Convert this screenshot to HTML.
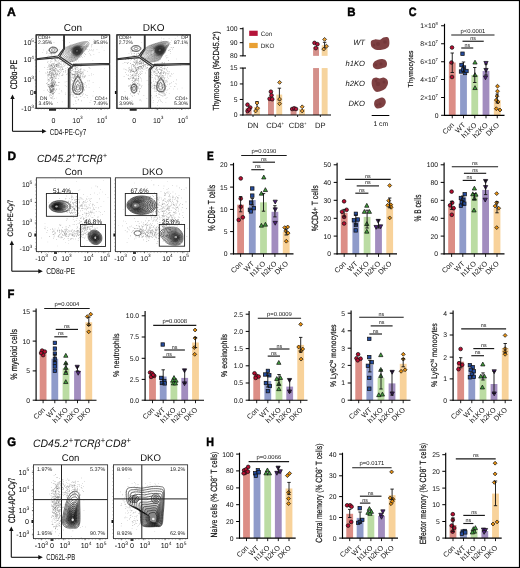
<!DOCTYPE html>
<html><head><meta charset="utf-8"><style>
html,body{margin:0;padding:0;background:#fff;}
svg{display:block;font-family:"Liberation Sans", sans-serif;text-rendering:geometricPrecision;}
</style></head><body>
<svg width="520" height="568" viewBox="0 0 520 568">
<rect width="520" height="568" fill="#fff"/>
<g style="will-change:transform">
<defs><radialGradient id="cg"><stop offset="0" stop-color="#777"/><stop offset="0.22" stop-color="#2a2a2a"/><stop offset="0.6" stop-color="#2e2e2e" stop-opacity="0.9"/><stop offset="1" stop-color="#444" stop-opacity="0"/></radialGradient></defs>
<rect x="0.50" y="0.50" width="519.00" height="567.00" fill="none" stroke="#000" stroke-width="1.2"/>
<text x="7.10" y="16.20" font-size="12.2" text-anchor="start" font-weight="bold" fill="#000" textLength="8.8" lengthAdjust="spacingAndGlyphs" stroke="#000" stroke-width="0.45">A</text>
<text x="347.20" y="16.20" font-size="12.2" text-anchor="start" font-weight="bold" fill="#000" textLength="8.3" lengthAdjust="spacingAndGlyphs" stroke="#000" stroke-width="0.45">B</text>
<text x="408.70" y="16.20" font-size="12.2" text-anchor="start" font-weight="bold" fill="#000" textLength="7.8" lengthAdjust="spacingAndGlyphs" stroke="#000" stroke-width="0.45">C</text>
<text x="7.40" y="160.10" font-size="12.2" text-anchor="start" font-weight="bold" fill="#000" textLength="8.6" lengthAdjust="spacingAndGlyphs" stroke="#000" stroke-width="0.45">D</text>
<text x="207.00" y="159.60" font-size="12.2" text-anchor="start" font-weight="bold" fill="#000" textLength="6.8" lengthAdjust="spacingAndGlyphs" stroke="#000" stroke-width="0.45">E</text>
<text x="7.40" y="298.20" font-size="12.2" text-anchor="start" font-weight="bold" fill="#000" textLength="6.9" lengthAdjust="spacingAndGlyphs" stroke="#000" stroke-width="0.45">F</text>
<text x="7.30" y="445.60" font-size="12.2" text-anchor="start" font-weight="bold" fill="#000" textLength="8.8" lengthAdjust="spacingAndGlyphs" stroke="#000" stroke-width="0.45">G</text>
<text x="206.20" y="445.60" font-size="12.2" text-anchor="start" font-weight="bold" fill="#000" textLength="7.7" lengthAdjust="spacingAndGlyphs" stroke="#000" stroke-width="0.45">H</text>
<rect x="448.85" y="62.50" width="6.80" height="52.80" fill="#dc8e86" stroke="none" stroke-width="1"/>
<rect x="460.10" y="74.50" width="6.80" height="40.80" fill="#8f9bca" stroke="none" stroke-width="1"/>
<rect x="471.35" y="75.00" width="6.80" height="40.30" fill="#bbdca3" stroke="none" stroke-width="1"/>
<rect x="482.60" y="71.00" width="6.80" height="44.30" fill="#a28dbf" stroke="none" stroke-width="1"/>
<rect x="493.85" y="100.00" width="6.80" height="15.30" fill="#f8d29a" stroke="none" stroke-width="1"/>
<circle cx="452.00" cy="47.50" r="1.85" fill="#b80c30" stroke="#111" stroke-width="0.72"/>
<circle cx="451.50" cy="62.50" r="1.85" fill="#b80c30" stroke="#111" stroke-width="0.72"/>
<circle cx="452.00" cy="77.00" r="1.85" fill="#b80c30" stroke="#111" stroke-width="0.72"/>
<line x1="452.25" y1="53.00" x2="452.25" y2="72.50" stroke="#111" stroke-width="0.9"/>
<line x1="450.55" y1="53.00" x2="453.95" y2="53.00" stroke="#111" stroke-width="0.9"/>
<line x1="450.55" y1="72.50" x2="453.95" y2="72.50" stroke="#111" stroke-width="0.9"/>
<rect x="460.79" y="51.99" width="3.42" height="3.42" fill="#254c9e" stroke="#111" stroke-width="0.72"/>
<rect x="459.79" y="63.29" width="3.42" height="3.42" fill="#254c9e" stroke="#111" stroke-width="0.72"/>
<rect x="462.29" y="65.79" width="3.42" height="3.42" fill="#254c9e" stroke="#111" stroke-width="0.72"/>
<rect x="459.29" y="69.79" width="3.42" height="3.42" fill="#254c9e" stroke="#111" stroke-width="0.72"/>
<rect x="463.29" y="71.29" width="3.42" height="3.42" fill="#254c9e" stroke="#111" stroke-width="0.72"/>
<rect x="464.79" y="69.29" width="3.42" height="3.42" fill="#254c9e" stroke="#111" stroke-width="0.72"/>
<rect x="461.29" y="67.79" width="3.42" height="3.42" fill="#254c9e" stroke="#111" stroke-width="0.72"/>
<line x1="463.50" y1="62.00" x2="463.50" y2="72.00" stroke="#111" stroke-width="0.9"/>
<line x1="461.80" y1="62.00" x2="465.20" y2="62.00" stroke="#111" stroke-width="0.9"/>
<line x1="461.80" y1="72.00" x2="465.20" y2="72.00" stroke="#111" stroke-width="0.9"/>
<polygon points="475.00,60.17 477.13,64.05 472.87,64.05" fill="#41a03c" stroke="#111" stroke-width="0.72" stroke-linejoin="round"/>
<polygon points="475.00,72.67 477.13,76.55 472.87,76.55" fill="#41a03c" stroke="#111" stroke-width="0.72" stroke-linejoin="round"/>
<polygon points="475.00,85.67 477.13,89.55 472.87,89.55" fill="#41a03c" stroke="#111" stroke-width="0.72" stroke-linejoin="round"/>
<line x1="474.75" y1="67.50" x2="474.75" y2="82.50" stroke="#111" stroke-width="0.9"/>
<line x1="473.05" y1="67.50" x2="476.45" y2="67.50" stroke="#111" stroke-width="0.9"/>
<line x1="473.05" y1="82.50" x2="476.45" y2="82.50" stroke="#111" stroke-width="0.9"/>
<polygon points="486.00,65.33 488.13,61.45 483.87,61.45" fill="#4e1f7c" stroke="#111" stroke-width="0.72" stroke-linejoin="round"/>
<polygon points="486.00,72.33 488.13,68.45 483.87,68.45" fill="#4e1f7c" stroke="#111" stroke-width="0.72" stroke-linejoin="round"/>
<polygon points="485.50,79.83 487.63,75.95 483.37,75.95" fill="#4e1f7c" stroke="#111" stroke-width="0.72" stroke-linejoin="round"/>
<line x1="486.00" y1="64.00" x2="486.00" y2="75.00" stroke="#111" stroke-width="0.9"/>
<line x1="484.30" y1="64.00" x2="487.70" y2="64.00" stroke="#111" stroke-width="0.9"/>
<line x1="484.30" y1="75.00" x2="487.70" y2="75.00" stroke="#111" stroke-width="0.9"/>
<polygon points="497.50,84.26 499.44,86.20 497.50,88.14 495.56,86.20" fill="#e8900f" stroke="#111" stroke-width="0.72" stroke-linejoin="round"/>
<polygon points="497.50,89.26 499.44,91.20 497.50,93.14 495.56,91.20" fill="#e8900f" stroke="#111" stroke-width="0.72" stroke-linejoin="round"/>
<polygon points="497.00,94.26 498.94,96.20 497.00,98.14 495.06,96.20" fill="#e8900f" stroke="#111" stroke-width="0.72" stroke-linejoin="round"/>
<polygon points="496.30,98.06 498.24,100.00 496.30,101.94 494.36,100.00" fill="#e8900f" stroke="#111" stroke-width="0.72" stroke-linejoin="round"/>
<polygon points="498.00,100.06 499.94,102.00 498.00,103.94 496.06,102.00" fill="#e8900f" stroke="#111" stroke-width="0.72" stroke-linejoin="round"/>
<polygon points="496.30,106.76 498.24,108.70 496.30,110.64 494.36,108.70" fill="#e8900f" stroke="#111" stroke-width="0.72" stroke-linejoin="round"/>
<polygon points="500.00,108.06 501.94,110.00 500.00,111.94 498.06,110.00" fill="#e8900f" stroke="#111" stroke-width="0.72" stroke-linejoin="round"/>
<line x1="497.25" y1="94.00" x2="497.25" y2="103.00" stroke="#111" stroke-width="0.9"/>
<line x1="495.55" y1="94.00" x2="498.95" y2="94.00" stroke="#111" stroke-width="0.9"/>
<line x1="495.55" y1="103.00" x2="498.95" y2="103.00" stroke="#111" stroke-width="0.9"/>
<line x1="444.50" y1="23.75" x2="444.50" y2="115.80" stroke="#000" stroke-width="1.15"/>
<line x1="441.10" y1="25.75" x2="444.50" y2="25.75" stroke="#000" stroke-width="1.0"/>
<text x="437.90" y="28.15" font-size="6.8" text-anchor="end" fill="#111">1×10<tspan font-size="4.22" dy="-2.7">8</tspan></text>
<line x1="441.10" y1="43.75" x2="444.50" y2="43.75" stroke="#000" stroke-width="1.0"/>
<text x="437.90" y="46.15" font-size="6.8" text-anchor="end" fill="#111">8×10<tspan font-size="4.22" dy="-2.7">7</tspan></text>
<line x1="441.10" y1="61.75" x2="444.50" y2="61.75" stroke="#000" stroke-width="1.0"/>
<text x="437.90" y="64.15" font-size="6.8" text-anchor="end" fill="#111">6×10<tspan font-size="4.22" dy="-2.7">7</tspan></text>
<line x1="441.10" y1="79.50" x2="444.50" y2="79.50" stroke="#000" stroke-width="1.0"/>
<text x="437.90" y="81.90" font-size="6.8" text-anchor="end" fill="#111">4×10<tspan font-size="4.22" dy="-2.7">7</tspan></text>
<line x1="441.10" y1="97.50" x2="444.50" y2="97.50" stroke="#000" stroke-width="1.0"/>
<text x="437.90" y="99.90" font-size="6.8" text-anchor="end" fill="#111">2×10<tspan font-size="4.22" dy="-2.7">7</tspan></text>
<line x1="441.10" y1="115.30" x2="444.50" y2="115.30" stroke="#000" stroke-width="1.0"/>
<text x="438.50" y="117.70" font-size="6.8" text-anchor="end" fill="#111">0</text>
<line x1="444.00" y1="115.30" x2="504.50" y2="115.30" stroke="#000" stroke-width="1.15"/>
<line x1="452.25" y1="115.30" x2="452.25" y2="118.30" stroke="#000" stroke-width="0.9"/>
<text x="454.65" y="125.50" font-size="7.2" text-anchor="end" fill="#111" transform="rotate(-45 454.65 125.50)">Con</text>
<line x1="463.50" y1="115.30" x2="463.50" y2="118.30" stroke="#000" stroke-width="0.9"/>
<text x="465.90" y="125.50" font-size="7.2" text-anchor="end" fill="#111" transform="rotate(-45 465.90 125.50)">WT</text>
<line x1="474.75" y1="115.30" x2="474.75" y2="118.30" stroke="#000" stroke-width="0.9"/>
<text x="477.15" y="125.50" font-size="7.2" text-anchor="end" fill="#111" transform="rotate(-45 477.15 125.50)">h1KO</text>
<line x1="486.00" y1="115.30" x2="486.00" y2="118.30" stroke="#000" stroke-width="0.9"/>
<text x="488.40" y="125.50" font-size="7.2" text-anchor="end" fill="#111" transform="rotate(-45 488.40 125.50)">h2KO</text>
<line x1="497.25" y1="115.30" x2="497.25" y2="118.30" stroke="#000" stroke-width="0.9"/>
<text x="499.65" y="125.50" font-size="7.2" text-anchor="end" fill="#111" transform="rotate(-45 499.65 125.50)">DKO</text>
<line x1="451.25" y1="35.00" x2="494.50" y2="35.00" stroke="#1a1a1a" stroke-width="1.15"/>
<text x="472.88" y="32.50" font-size="5.9" text-anchor="middle" fill="#111">p&lt;0.0001</text>
<line x1="462.50" y1="41.25" x2="483.75" y2="41.25" stroke="#1a1a1a" stroke-width="1.15"/>
<text x="473.12" y="39.75" font-size="5.4" text-anchor="middle" fill="#111">ns</text>
<line x1="461.25" y1="48.00" x2="473.25" y2="48.00" stroke="#1a1a1a" stroke-width="1.15"/>
<text x="467.25" y="46.50" font-size="5.4" text-anchor="middle" fill="#111">ns</text>
<text x="413.50" y="69.05" font-size="7.2" text-anchor="middle" fill="#111" transform="rotate(-90 413.50 69.05)" textLength="36.9" lengthAdjust="spacingAndGlyphs" stroke="#111" stroke-width="0.18">Thymocytes</text>
<rect x="237.20" y="204.70" width="6.80" height="49.20" fill="#dc8e86" stroke="none" stroke-width="1"/>
<rect x="248.90" y="200.00" width="6.80" height="53.90" fill="#8f9bca" stroke="none" stroke-width="1"/>
<rect x="260.10" y="202.30" width="6.80" height="51.60" fill="#bbdca3" stroke="none" stroke-width="1"/>
<rect x="271.50" y="211.80" width="6.80" height="42.10" fill="#a28dbf" stroke="none" stroke-width="1"/>
<rect x="282.80" y="232.00" width="6.80" height="21.90" fill="#f8d29a" stroke="none" stroke-width="1"/>
<circle cx="240.75" cy="178.40" r="1.85" fill="#b80c30" stroke="#111" stroke-width="0.72"/>
<circle cx="240.75" cy="198.60" r="1.85" fill="#b80c30" stroke="#111" stroke-width="0.72"/>
<circle cx="240.75" cy="206.70" r="1.85" fill="#b80c30" stroke="#111" stroke-width="0.72"/>
<circle cx="238.70" cy="219.90" r="1.85" fill="#b80c30" stroke="#111" stroke-width="0.72"/>
<circle cx="242.80" cy="217.30" r="1.85" fill="#b80c30" stroke="#111" stroke-width="0.72"/>
<line x1="240.60" y1="196.60" x2="240.60" y2="211.80" stroke="#111" stroke-width="0.9"/>
<line x1="238.90" y1="196.60" x2="242.30" y2="196.60" stroke="#111" stroke-width="0.9"/>
<line x1="238.90" y1="211.80" x2="242.30" y2="211.80" stroke="#111" stroke-width="0.9"/>
<rect x="250.59" y="186.79" width="3.42" height="3.42" fill="#254c9e" stroke="#111" stroke-width="0.72"/>
<rect x="250.59" y="193.89" width="3.42" height="3.42" fill="#254c9e" stroke="#111" stroke-width="0.72"/>
<rect x="249.59" y="200.99" width="3.42" height="3.42" fill="#254c9e" stroke="#111" stroke-width="0.72"/>
<rect x="248.19" y="208.09" width="3.42" height="3.42" fill="#254c9e" stroke="#111" stroke-width="0.72"/>
<rect x="252.19" y="206.49" width="3.42" height="3.42" fill="#254c9e" stroke="#111" stroke-width="0.72"/>
<rect x="249.19" y="209.69" width="3.42" height="3.42" fill="#254c9e" stroke="#111" stroke-width="0.72"/>
<line x1="252.30" y1="198.60" x2="252.30" y2="205.00" stroke="#111" stroke-width="0.9"/>
<line x1="250.60" y1="198.60" x2="254.00" y2="198.60" stroke="#111" stroke-width="0.9"/>
<line x1="250.60" y1="205.00" x2="254.00" y2="205.00" stroke="#111" stroke-width="0.9"/>
<polygon points="263.80,175.07 265.93,178.95 261.67,178.95" fill="#41a03c" stroke="#111" stroke-width="0.72" stroke-linejoin="round"/>
<polygon points="265.40,187.67 267.53,191.55 263.27,191.55" fill="#41a03c" stroke="#111" stroke-width="0.72" stroke-linejoin="round"/>
<polygon points="261.40,191.27 263.53,195.15 259.27,195.15" fill="#41a03c" stroke="#111" stroke-width="0.72" stroke-linejoin="round"/>
<polygon points="261.40,223.27 263.53,227.15 259.27,227.15" fill="#41a03c" stroke="#111" stroke-width="0.72" stroke-linejoin="round"/>
<polygon points="265.40,222.27 267.53,226.15 263.27,226.15" fill="#41a03c" stroke="#111" stroke-width="0.72" stroke-linejoin="round"/>
<line x1="263.50" y1="193.60" x2="263.50" y2="211.20" stroke="#111" stroke-width="0.9"/>
<line x1="261.80" y1="193.60" x2="265.20" y2="193.60" stroke="#111" stroke-width="0.9"/>
<line x1="261.80" y1="211.20" x2="265.20" y2="211.20" stroke="#111" stroke-width="0.9"/>
<polygon points="275.20,204.03 277.33,200.15 273.07,200.15" fill="#4e1f7c" stroke="#111" stroke-width="0.72" stroke-linejoin="round"/>
<polygon points="275.20,211.73 277.33,207.85 273.07,207.85" fill="#4e1f7c" stroke="#111" stroke-width="0.72" stroke-linejoin="round"/>
<polygon points="275.20,225.23 277.33,221.35 273.07,221.35" fill="#4e1f7c" stroke="#111" stroke-width="0.72" stroke-linejoin="round"/>
<line x1="274.90" y1="205.70" x2="274.90" y2="216.90" stroke="#111" stroke-width="0.9"/>
<line x1="273.20" y1="205.70" x2="276.60" y2="205.70" stroke="#111" stroke-width="0.9"/>
<line x1="273.20" y1="216.90" x2="276.60" y2="216.90" stroke="#111" stroke-width="0.9"/>
<polygon points="284.70,225.66 286.64,227.60 284.70,229.54 282.76,227.60" fill="#e8900f" stroke="#111" stroke-width="0.72" stroke-linejoin="round"/>
<polygon points="287.70,225.06 289.64,227.00 287.70,228.94 285.76,227.00" fill="#e8900f" stroke="#111" stroke-width="0.72" stroke-linejoin="round"/>
<polygon points="285.70,229.06 287.64,231.00 285.70,232.94 283.76,231.00" fill="#e8900f" stroke="#111" stroke-width="0.72" stroke-linejoin="round"/>
<polygon points="288.10,231.16 290.04,233.10 288.10,235.04 286.16,233.10" fill="#e8900f" stroke="#111" stroke-width="0.72" stroke-linejoin="round"/>
<polygon points="286.30,239.26 288.24,241.20 286.30,243.14 284.36,241.20" fill="#e8900f" stroke="#111" stroke-width="0.72" stroke-linejoin="round"/>
<line x1="286.20" y1="229.00" x2="286.20" y2="235.00" stroke="#111" stroke-width="0.9"/>
<line x1="284.50" y1="229.00" x2="287.90" y2="229.00" stroke="#111" stroke-width="0.9"/>
<line x1="284.50" y1="235.00" x2="287.90" y2="235.00" stroke="#111" stroke-width="0.9"/>
<line x1="233.50" y1="162.80" x2="233.50" y2="254.40" stroke="#000" stroke-width="1.15"/>
<line x1="230.10" y1="164.80" x2="233.50" y2="164.80" stroke="#000" stroke-width="1.0"/>
<text x="227.50" y="167.20" font-size="6.8" text-anchor="end" fill="#111">20</text>
<line x1="230.10" y1="187.10" x2="233.50" y2="187.10" stroke="#000" stroke-width="1.0"/>
<text x="227.50" y="189.50" font-size="6.8" text-anchor="end" fill="#111">15</text>
<line x1="230.10" y1="209.40" x2="233.50" y2="209.40" stroke="#000" stroke-width="1.0"/>
<text x="227.50" y="211.80" font-size="6.8" text-anchor="end" fill="#111">10</text>
<line x1="230.10" y1="231.60" x2="233.50" y2="231.60" stroke="#000" stroke-width="1.0"/>
<text x="227.50" y="234.00" font-size="6.8" text-anchor="end" fill="#111">5</text>
<line x1="230.10" y1="253.90" x2="233.50" y2="253.90" stroke="#000" stroke-width="1.0"/>
<text x="227.50" y="256.30" font-size="6.8" text-anchor="end" fill="#111">0</text>
<line x1="233.00" y1="253.90" x2="293.50" y2="253.90" stroke="#000" stroke-width="1.15"/>
<line x1="240.60" y1="253.90" x2="240.60" y2="256.90" stroke="#000" stroke-width="0.9"/>
<text x="243.00" y="264.10" font-size="7.2" text-anchor="end" fill="#111" transform="rotate(-45 243.00 264.10)">Con</text>
<line x1="252.30" y1="253.90" x2="252.30" y2="256.90" stroke="#000" stroke-width="0.9"/>
<text x="254.70" y="264.10" font-size="7.2" text-anchor="end" fill="#111" transform="rotate(-45 254.70 264.10)">WT</text>
<line x1="263.50" y1="253.90" x2="263.50" y2="256.90" stroke="#000" stroke-width="0.9"/>
<text x="265.90" y="264.10" font-size="7.2" text-anchor="end" fill="#111" transform="rotate(-45 265.90 264.10)">h1KO</text>
<line x1="274.90" y1="253.90" x2="274.90" y2="256.90" stroke="#000" stroke-width="0.9"/>
<text x="277.30" y="264.10" font-size="7.2" text-anchor="end" fill="#111" transform="rotate(-45 277.30 264.10)">h2KO</text>
<line x1="286.20" y1="253.90" x2="286.20" y2="256.90" stroke="#000" stroke-width="0.9"/>
<text x="288.60" y="264.10" font-size="7.2" text-anchor="end" fill="#111" transform="rotate(-45 288.60 264.10)">DKO</text>
<line x1="241.20" y1="155.50" x2="286.70" y2="155.50" stroke="#1a1a1a" stroke-width="1.15"/>
<text x="263.95" y="153.00" font-size="5.9" text-anchor="middle" fill="#111">p=0.0190</text>
<line x1="252.70" y1="162.20" x2="275.00" y2="162.20" stroke="#1a1a1a" stroke-width="1.15"/>
<text x="263.85" y="160.70" font-size="5.4" text-anchor="middle" fill="#111">ns</text>
<line x1="251.30" y1="169.70" x2="264.40" y2="169.70" stroke="#1a1a1a" stroke-width="1.15"/>
<text x="257.85" y="168.20" font-size="5.4" text-anchor="middle" fill="#111">ns</text>
<text x="215.00" y="208.05" font-size="10.2" text-anchor="middle" fill="#111" transform="rotate(-90 215.00 208.05)" textLength="46.5" lengthAdjust="spacingAndGlyphs" stroke="#111" stroke-width="0.18">% CD8+ T cells</text>
<rect x="340.80" y="212.80" width="6.80" height="41.10" fill="#dc8e86" stroke="none" stroke-width="1"/>
<rect x="352.40" y="219.90" width="6.80" height="34.00" fill="#8f9bca" stroke="none" stroke-width="1"/>
<rect x="363.70" y="216.90" width="6.80" height="37.00" fill="#bbdca3" stroke="none" stroke-width="1"/>
<rect x="375.10" y="226.00" width="6.80" height="27.90" fill="#a28dbf" stroke="none" stroke-width="1"/>
<rect x="386.30" y="203.70" width="6.80" height="50.20" fill="#f8d29a" stroke="none" stroke-width="1"/>
<circle cx="344.10" cy="201.30" r="1.85" fill="#b80c30" stroke="#111" stroke-width="0.72"/>
<circle cx="346.60" cy="209.80" r="1.85" fill="#b80c30" stroke="#111" stroke-width="0.72"/>
<circle cx="342.10" cy="211.80" r="1.85" fill="#b80c30" stroke="#111" stroke-width="0.72"/>
<circle cx="344.10" cy="216.90" r="1.85" fill="#b80c30" stroke="#111" stroke-width="0.72"/>
<circle cx="344.10" cy="223.50" r="1.85" fill="#b80c30" stroke="#111" stroke-width="0.72"/>
<line x1="344.20" y1="209.40" x2="344.20" y2="216.90" stroke="#111" stroke-width="0.9"/>
<line x1="342.50" y1="209.40" x2="345.90" y2="209.40" stroke="#111" stroke-width="0.9"/>
<line x1="342.50" y1="216.90" x2="345.90" y2="216.90" stroke="#111" stroke-width="0.9"/>
<rect x="354.19" y="212.09" width="3.42" height="3.42" fill="#254c9e" stroke="#111" stroke-width="0.72"/>
<rect x="352.19" y="218.59" width="3.42" height="3.42" fill="#254c9e" stroke="#111" stroke-width="0.72"/>
<rect x="355.99" y="217.79" width="3.42" height="3.42" fill="#254c9e" stroke="#111" stroke-width="0.72"/>
<rect x="354.19" y="223.29" width="3.42" height="3.42" fill="#254c9e" stroke="#111" stroke-width="0.72"/>
<rect x="353.99" y="228.69" width="3.42" height="3.42" fill="#254c9e" stroke="#111" stroke-width="0.72"/>
<line x1="355.80" y1="215.00" x2="355.80" y2="225.00" stroke="#111" stroke-width="0.9"/>
<line x1="354.10" y1="215.00" x2="357.50" y2="215.00" stroke="#111" stroke-width="0.9"/>
<line x1="354.10" y1="225.00" x2="357.50" y2="225.00" stroke="#111" stroke-width="0.9"/>
<polygon points="366.80,203.37 368.93,207.25 364.67,207.25" fill="#41a03c" stroke="#111" stroke-width="0.72" stroke-linejoin="round"/>
<polygon points="364.40,209.47 366.53,213.35 362.27,213.35" fill="#41a03c" stroke="#111" stroke-width="0.72" stroke-linejoin="round"/>
<polygon points="369.40,209.47 371.53,213.35 367.27,213.35" fill="#41a03c" stroke="#111" stroke-width="0.72" stroke-linejoin="round"/>
<polygon points="366.80,221.67 368.93,225.55 364.67,225.55" fill="#41a03c" stroke="#111" stroke-width="0.72" stroke-linejoin="round"/>
<polygon points="366.80,229.27 368.93,233.15 364.67,233.15" fill="#41a03c" stroke="#111" stroke-width="0.72" stroke-linejoin="round"/>
<line x1="367.10" y1="210.20" x2="367.10" y2="228.00" stroke="#111" stroke-width="0.9"/>
<line x1="365.40" y1="210.20" x2="368.80" y2="210.20" stroke="#111" stroke-width="0.9"/>
<line x1="365.40" y1="228.00" x2="368.80" y2="228.00" stroke="#111" stroke-width="0.9"/>
<polygon points="378.20,223.23 380.33,219.35 376.07,219.35" fill="#4e1f7c" stroke="#111" stroke-width="0.72" stroke-linejoin="round"/>
<polygon points="376.10,229.33 378.23,225.45 373.97,225.45" fill="#4e1f7c" stroke="#111" stroke-width="0.72" stroke-linejoin="round"/>
<polygon points="380.60,228.73 382.73,224.85 378.47,224.85" fill="#4e1f7c" stroke="#111" stroke-width="0.72" stroke-linejoin="round"/>
<line x1="378.50" y1="219.90" x2="378.50" y2="228.00" stroke="#111" stroke-width="0.9"/>
<line x1="376.80" y1="219.90" x2="380.20" y2="219.90" stroke="#111" stroke-width="0.9"/>
<line x1="376.80" y1="228.00" x2="380.20" y2="228.00" stroke="#111" stroke-width="0.9"/>
<polygon points="389.70,183.56 391.64,185.50 389.70,187.44 387.76,185.50" fill="#e8900f" stroke="#111" stroke-width="0.72" stroke-linejoin="round"/>
<polygon points="388.70,198.76 390.64,200.70 388.70,202.64 386.76,200.70" fill="#e8900f" stroke="#111" stroke-width="0.72" stroke-linejoin="round"/>
<polygon points="390.70,202.76 392.64,204.70 390.70,206.64 388.76,204.70" fill="#e8900f" stroke="#111" stroke-width="0.72" stroke-linejoin="round"/>
<polygon points="387.70,203.36 389.64,205.30 387.70,207.24 385.76,205.30" fill="#e8900f" stroke="#111" stroke-width="0.72" stroke-linejoin="round"/>
<polygon points="391.10,205.36 393.04,207.30 391.10,209.24 389.16,207.30" fill="#e8900f" stroke="#111" stroke-width="0.72" stroke-linejoin="round"/>
<polygon points="389.70,215.96 391.64,217.90 389.70,219.84 387.76,217.90" fill="#e8900f" stroke="#111" stroke-width="0.72" stroke-linejoin="round"/>
<line x1="389.70" y1="198.00" x2="389.70" y2="207.80" stroke="#111" stroke-width="0.9"/>
<line x1="388.00" y1="198.00" x2="391.40" y2="198.00" stroke="#111" stroke-width="0.9"/>
<line x1="388.00" y1="207.80" x2="391.40" y2="207.80" stroke="#111" stroke-width="0.9"/>
<line x1="337.10" y1="162.80" x2="337.10" y2="254.40" stroke="#000" stroke-width="1.15"/>
<line x1="333.70" y1="164.80" x2="337.10" y2="164.80" stroke="#000" stroke-width="1.0"/>
<text x="331.10" y="167.20" font-size="6.8" text-anchor="end" fill="#111">50</text>
<line x1="333.70" y1="182.40" x2="337.10" y2="182.40" stroke="#000" stroke-width="1.0"/>
<text x="331.10" y="184.80" font-size="6.8" text-anchor="end" fill="#111">40</text>
<line x1="333.70" y1="200.30" x2="337.10" y2="200.30" stroke="#000" stroke-width="1.0"/>
<text x="331.10" y="202.70" font-size="6.8" text-anchor="end" fill="#111">30</text>
<line x1="333.70" y1="218.30" x2="337.10" y2="218.30" stroke="#000" stroke-width="1.0"/>
<text x="331.10" y="220.70" font-size="6.8" text-anchor="end" fill="#111">20</text>
<line x1="333.70" y1="236.10" x2="337.10" y2="236.10" stroke="#000" stroke-width="1.0"/>
<text x="331.10" y="238.50" font-size="6.8" text-anchor="end" fill="#111">10</text>
<line x1="333.70" y1="253.90" x2="337.10" y2="253.90" stroke="#000" stroke-width="1.0"/>
<text x="331.10" y="256.30" font-size="6.8" text-anchor="end" fill="#111">0</text>
<line x1="336.60" y1="253.90" x2="397.00" y2="253.90" stroke="#000" stroke-width="1.15"/>
<line x1="344.20" y1="253.90" x2="344.20" y2="256.90" stroke="#000" stroke-width="0.9"/>
<text x="346.60" y="264.10" font-size="7.2" text-anchor="end" fill="#111" transform="rotate(-45 346.60 264.10)">Con</text>
<line x1="355.80" y1="253.90" x2="355.80" y2="256.90" stroke="#000" stroke-width="0.9"/>
<text x="358.20" y="264.10" font-size="7.2" text-anchor="end" fill="#111" transform="rotate(-45 358.20 264.10)">WT</text>
<line x1="367.10" y1="253.90" x2="367.10" y2="256.90" stroke="#000" stroke-width="0.9"/>
<text x="369.50" y="264.10" font-size="7.2" text-anchor="end" fill="#111" transform="rotate(-45 369.50 264.10)">h1KO</text>
<line x1="378.50" y1="253.90" x2="378.50" y2="256.90" stroke="#000" stroke-width="0.9"/>
<text x="380.90" y="264.10" font-size="7.2" text-anchor="end" fill="#111" transform="rotate(-45 380.90 264.10)">h2KO</text>
<line x1="389.70" y1="253.90" x2="389.70" y2="256.90" stroke="#000" stroke-width="0.9"/>
<text x="392.10" y="264.10" font-size="7.2" text-anchor="end" fill="#111" transform="rotate(-45 392.10 264.10)">DKO</text>
<line x1="345.20" y1="179.40" x2="390.70" y2="179.40" stroke="#1a1a1a" stroke-width="1.15"/>
<text x="367.95" y="177.90" font-size="5.4" text-anchor="middle" fill="#111">ns</text>
<line x1="356.70" y1="185.90" x2="379.00" y2="185.90" stroke="#1a1a1a" stroke-width="1.15"/>
<text x="367.85" y="184.40" font-size="5.4" text-anchor="middle" fill="#111">ns</text>
<line x1="355.30" y1="193.20" x2="368.40" y2="193.20" stroke="#1a1a1a" stroke-width="1.15"/>
<text x="361.85" y="191.70" font-size="5.4" text-anchor="middle" fill="#111">ns</text>
<text x="317.60" y="208.30" font-size="9.0" text-anchor="middle" fill="#111" transform="rotate(-90 317.60 208.30)" textLength="46" lengthAdjust="spacingAndGlyphs" stroke="#111" stroke-width="0.18">%CD4+ T cells</text>
<rect x="448.20" y="206.70" width="6.80" height="47.20" fill="#dc8e86" stroke="none" stroke-width="1"/>
<rect x="459.40" y="197.20" width="6.80" height="56.70" fill="#8f9bca" stroke="none" stroke-width="1"/>
<rect x="470.90" y="193.60" width="6.80" height="60.30" fill="#bbdca3" stroke="none" stroke-width="1"/>
<rect x="482.20" y="189.90" width="6.80" height="64.00" fill="#a28dbf" stroke="none" stroke-width="1"/>
<rect x="493.60" y="208.20" width="6.80" height="45.70" fill="#f8d29a" stroke="none" stroke-width="1"/>
<circle cx="451.60" cy="191.60" r="1.85" fill="#b80c30" stroke="#111" stroke-width="0.72"/>
<circle cx="452.20" cy="202.70" r="1.85" fill="#b80c30" stroke="#111" stroke-width="0.72"/>
<circle cx="450.10" cy="205.30" r="1.85" fill="#b80c30" stroke="#111" stroke-width="0.72"/>
<circle cx="453.60" cy="208.20" r="1.85" fill="#b80c30" stroke="#111" stroke-width="0.72"/>
<circle cx="451.80" cy="214.80" r="1.85" fill="#b80c30" stroke="#111" stroke-width="0.72"/>
<line x1="451.60" y1="201.30" x2="451.60" y2="209.40" stroke="#111" stroke-width="0.9"/>
<line x1="449.90" y1="201.30" x2="453.30" y2="201.30" stroke="#111" stroke-width="0.9"/>
<line x1="449.90" y1="209.40" x2="453.30" y2="209.40" stroke="#111" stroke-width="0.9"/>
<rect x="462.99" y="192.49" width="3.42" height="3.42" fill="#254c9e" stroke="#111" stroke-width="0.72"/>
<rect x="459.19" y="196.29" width="3.42" height="3.42" fill="#254c9e" stroke="#111" stroke-width="0.72"/>
<rect x="461.59" y="197.99" width="3.42" height="3.42" fill="#254c9e" stroke="#111" stroke-width="0.72"/>
<rect x="460.19" y="200.59" width="3.42" height="3.42" fill="#254c9e" stroke="#111" stroke-width="0.72"/>
<rect x="462.59" y="201.99" width="3.42" height="3.42" fill="#254c9e" stroke="#111" stroke-width="0.72"/>
<rect x="459.19" y="203.99" width="3.42" height="3.42" fill="#254c9e" stroke="#111" stroke-width="0.72"/>
<line x1="462.80" y1="196.00" x2="462.80" y2="205.00" stroke="#111" stroke-width="0.9"/>
<line x1="461.10" y1="196.00" x2="464.50" y2="196.00" stroke="#111" stroke-width="0.9"/>
<line x1="461.10" y1="205.00" x2="464.50" y2="205.00" stroke="#111" stroke-width="0.9"/>
<polygon points="474.40,186.17 476.53,190.05 472.27,190.05" fill="#41a03c" stroke="#111" stroke-width="0.72" stroke-linejoin="round"/>
<polygon points="472.80,191.87 474.93,195.75 470.67,195.75" fill="#41a03c" stroke="#111" stroke-width="0.72" stroke-linejoin="round"/>
<polygon points="475.90,192.27 478.03,196.15 473.77,196.15" fill="#41a03c" stroke="#111" stroke-width="0.72" stroke-linejoin="round"/>
<polygon points="474.40,196.27 476.53,200.15 472.27,200.15" fill="#41a03c" stroke="#111" stroke-width="0.72" stroke-linejoin="round"/>
<polygon points="474.00,208.07 476.13,211.95 471.87,211.95" fill="#41a03c" stroke="#111" stroke-width="0.72" stroke-linejoin="round"/>
<line x1="474.30" y1="193.60" x2="474.30" y2="199.70" stroke="#111" stroke-width="0.9"/>
<line x1="472.60" y1="193.60" x2="476.00" y2="193.60" stroke="#111" stroke-width="0.9"/>
<line x1="472.60" y1="199.70" x2="476.00" y2="199.70" stroke="#111" stroke-width="0.9"/>
<polygon points="485.60,183.33 487.73,179.45 483.47,179.45" fill="#4e1f7c" stroke="#111" stroke-width="0.72" stroke-linejoin="round"/>
<polygon points="485.60,189.43 487.73,185.55 483.47,185.55" fill="#4e1f7c" stroke="#111" stroke-width="0.72" stroke-linejoin="round"/>
<polygon points="485.20,202.03 487.33,198.15 483.07,198.15" fill="#4e1f7c" stroke="#111" stroke-width="0.72" stroke-linejoin="round"/>
<line x1="485.60" y1="180.40" x2="485.60" y2="194.60" stroke="#111" stroke-width="0.9"/>
<line x1="483.90" y1="180.40" x2="487.30" y2="180.40" stroke="#111" stroke-width="0.9"/>
<line x1="483.90" y1="194.60" x2="487.30" y2="194.60" stroke="#111" stroke-width="0.9"/>
<polygon points="496.70,191.66 498.64,193.60 496.70,195.54 494.76,193.60" fill="#e8900f" stroke="#111" stroke-width="0.72" stroke-linejoin="round"/>
<polygon points="496.70,200.76 498.64,202.70 496.70,204.64 494.76,202.70" fill="#e8900f" stroke="#111" stroke-width="0.72" stroke-linejoin="round"/>
<polygon points="495.10,204.16 497.04,206.10 495.10,208.04 493.16,206.10" fill="#e8900f" stroke="#111" stroke-width="0.72" stroke-linejoin="round"/>
<polygon points="498.70,206.26 500.64,208.20 498.70,210.14 496.76,208.20" fill="#e8900f" stroke="#111" stroke-width="0.72" stroke-linejoin="round"/>
<polygon points="496.70,225.66 498.64,227.60 496.70,229.54 494.76,227.60" fill="#e8900f" stroke="#111" stroke-width="0.72" stroke-linejoin="round"/>
<line x1="497.00" y1="201.70" x2="497.00" y2="212.80" stroke="#111" stroke-width="0.9"/>
<line x1="495.30" y1="201.70" x2="498.70" y2="201.70" stroke="#111" stroke-width="0.9"/>
<line x1="495.30" y1="212.80" x2="498.70" y2="212.80" stroke="#111" stroke-width="0.9"/>
<line x1="444.10" y1="162.50" x2="444.10" y2="254.40" stroke="#000" stroke-width="1.15"/>
<line x1="440.70" y1="164.80" x2="444.10" y2="164.80" stroke="#000" stroke-width="1.0"/>
<text x="438.10" y="167.20" font-size="6.8" text-anchor="end" fill="#111">100</text>
<line x1="440.70" y1="182.40" x2="444.10" y2="182.40" stroke="#000" stroke-width="1.0"/>
<text x="438.10" y="184.80" font-size="6.8" text-anchor="end" fill="#111">80</text>
<line x1="440.70" y1="200.30" x2="444.10" y2="200.30" stroke="#000" stroke-width="1.0"/>
<text x="438.10" y="202.70" font-size="6.8" text-anchor="end" fill="#111">60</text>
<line x1="440.70" y1="218.30" x2="444.10" y2="218.30" stroke="#000" stroke-width="1.0"/>
<text x="438.10" y="220.70" font-size="6.8" text-anchor="end" fill="#111">40</text>
<line x1="440.70" y1="236.10" x2="444.10" y2="236.10" stroke="#000" stroke-width="1.0"/>
<text x="438.10" y="238.50" font-size="6.8" text-anchor="end" fill="#111">20</text>
<line x1="440.70" y1="253.90" x2="444.10" y2="253.90" stroke="#000" stroke-width="1.0"/>
<text x="438.10" y="256.30" font-size="6.8" text-anchor="end" fill="#111">0</text>
<line x1="443.60" y1="253.90" x2="504.50" y2="253.90" stroke="#000" stroke-width="1.15"/>
<line x1="451.60" y1="253.90" x2="451.60" y2="256.90" stroke="#000" stroke-width="0.9"/>
<text x="454.00" y="264.10" font-size="7.2" text-anchor="end" fill="#111" transform="rotate(-45 454.00 264.10)">Con</text>
<line x1="462.80" y1="253.90" x2="462.80" y2="256.90" stroke="#000" stroke-width="0.9"/>
<text x="465.20" y="264.10" font-size="7.2" text-anchor="end" fill="#111" transform="rotate(-45 465.20 264.10)">WT</text>
<line x1="474.30" y1="253.90" x2="474.30" y2="256.90" stroke="#000" stroke-width="0.9"/>
<text x="476.70" y="264.10" font-size="7.2" text-anchor="end" fill="#111" transform="rotate(-45 476.70 264.10)">h1KO</text>
<line x1="485.60" y1="253.90" x2="485.60" y2="256.90" stroke="#000" stroke-width="0.9"/>
<text x="488.00" y="264.10" font-size="7.2" text-anchor="end" fill="#111" transform="rotate(-45 488.00 264.10)">h2KO</text>
<line x1="497.00" y1="253.90" x2="497.00" y2="256.90" stroke="#000" stroke-width="0.9"/>
<text x="499.40" y="264.10" font-size="7.2" text-anchor="end" fill="#111" transform="rotate(-45 499.40 264.10)">DKO</text>
<line x1="451.80" y1="166.70" x2="498.10" y2="166.70" stroke="#1a1a1a" stroke-width="1.15"/>
<text x="474.95" y="165.20" font-size="5.4" text-anchor="middle" fill="#111">ns</text>
<line x1="463.90" y1="173.30" x2="486.20" y2="173.30" stroke="#1a1a1a" stroke-width="1.15"/>
<text x="475.05" y="171.80" font-size="5.4" text-anchor="middle" fill="#111">ns</text>
<line x1="462.70" y1="180.40" x2="475.90" y2="180.40" stroke="#1a1a1a" stroke-width="1.15"/>
<text x="469.30" y="178.90" font-size="5.4" text-anchor="middle" fill="#111">ns</text>
<text x="421.00" y="207.95" font-size="9.6" text-anchor="middle" fill="#111" transform="rotate(-90 421.00 207.95)" textLength="27.1" lengthAdjust="spacingAndGlyphs" stroke="#111" stroke-width="0.18">% B cells</text>
<rect x="39.70" y="351.00" width="6.80" height="49.20" fill="#dc8e86" stroke="none" stroke-width="1"/>
<rect x="51.40" y="358.70" width="6.80" height="41.50" fill="#8f9bca" stroke="none" stroke-width="1"/>
<rect x="62.60" y="368.40" width="6.80" height="31.80" fill="#bbdca3" stroke="none" stroke-width="1"/>
<rect x="74.10" y="370.90" width="6.80" height="29.30" fill="#a28dbf" stroke="none" stroke-width="1"/>
<rect x="85.40" y="322.30" width="6.80" height="77.90" fill="#f8d29a" stroke="none" stroke-width="1"/>
<circle cx="42.10" cy="350.60" r="1.85" fill="#b80c30" stroke="#111" stroke-width="0.72"/>
<circle cx="44.80" cy="351.60" r="1.85" fill="#b80c30" stroke="#111" stroke-width="0.72"/>
<circle cx="43.10" cy="355.10" r="1.85" fill="#b80c30" stroke="#111" stroke-width="0.72"/>
<circle cx="41.10" cy="353.00" r="1.85" fill="#b80c30" stroke="#111" stroke-width="0.72"/>
<rect x="53.19" y="341.19" width="3.42" height="3.42" fill="#254c9e" stroke="#111" stroke-width="0.72"/>
<rect x="53.19" y="346.89" width="3.42" height="3.42" fill="#254c9e" stroke="#111" stroke-width="0.72"/>
<rect x="53.19" y="351.89" width="3.42" height="3.42" fill="#254c9e" stroke="#111" stroke-width="0.72"/>
<rect x="53.19" y="356.99" width="3.42" height="3.42" fill="#254c9e" stroke="#111" stroke-width="0.72"/>
<rect x="53.19" y="361.09" width="3.42" height="3.42" fill="#254c9e" stroke="#111" stroke-width="0.72"/>
<rect x="53.19" y="364.69" width="3.42" height="3.42" fill="#254c9e" stroke="#111" stroke-width="0.72"/>
<rect x="53.19" y="369.19" width="3.42" height="3.42" fill="#254c9e" stroke="#111" stroke-width="0.72"/>
<line x1="54.80" y1="354.30" x2="54.80" y2="361.70" stroke="#111" stroke-width="0.9"/>
<line x1="53.10" y1="354.30" x2="56.50" y2="354.30" stroke="#111" stroke-width="0.9"/>
<line x1="53.10" y1="361.70" x2="56.50" y2="361.70" stroke="#111" stroke-width="0.9"/>
<polygon points="65.80,353.37 67.93,357.25 63.67,357.25" fill="#41a03c" stroke="#111" stroke-width="0.72" stroke-linejoin="round"/>
<polygon points="65.80,360.87 67.93,364.75 63.67,364.75" fill="#41a03c" stroke="#111" stroke-width="0.72" stroke-linejoin="round"/>
<polygon points="65.80,365.47 67.93,369.35 63.67,369.35" fill="#41a03c" stroke="#111" stroke-width="0.72" stroke-linejoin="round"/>
<polygon points="65.80,370.57 67.93,374.45 63.67,374.45" fill="#41a03c" stroke="#111" stroke-width="0.72" stroke-linejoin="round"/>
<polygon points="65.80,379.67 67.93,383.55 63.67,383.55" fill="#41a03c" stroke="#111" stroke-width="0.72" stroke-linejoin="round"/>
<line x1="66.00" y1="363.20" x2="66.00" y2="372.00" stroke="#111" stroke-width="0.9"/>
<line x1="64.30" y1="363.20" x2="67.70" y2="363.20" stroke="#111" stroke-width="0.9"/>
<line x1="64.30" y1="372.00" x2="67.70" y2="372.00" stroke="#111" stroke-width="0.9"/>
<polygon points="77.20,369.13 79.33,365.25 75.07,365.25" fill="#4e1f7c" stroke="#111" stroke-width="0.72" stroke-linejoin="round"/>
<polygon points="78.20,375.23 80.33,371.35 76.07,371.35" fill="#4e1f7c" stroke="#111" stroke-width="0.72" stroke-linejoin="round"/>
<line x1="77.50" y1="366.80" x2="77.50" y2="370.90" stroke="#111" stroke-width="0.9"/>
<line x1="75.80" y1="366.80" x2="79.20" y2="366.80" stroke="#111" stroke-width="0.9"/>
<line x1="75.80" y1="370.90" x2="79.20" y2="370.90" stroke="#111" stroke-width="0.9"/>
<polygon points="87.30,314.66 89.24,316.60 87.30,318.54 85.36,316.60" fill="#e8900f" stroke="#111" stroke-width="0.72" stroke-linejoin="round"/>
<polygon points="90.70,312.26 92.64,314.20 90.70,316.14 88.76,314.20" fill="#e8900f" stroke="#111" stroke-width="0.72" stroke-linejoin="round"/>
<polygon points="88.70,322.76 90.64,324.70 88.70,326.64 86.76,324.70" fill="#e8900f" stroke="#111" stroke-width="0.72" stroke-linejoin="round"/>
<polygon points="88.70,329.86 90.64,331.80 88.70,333.74 86.76,331.80" fill="#e8900f" stroke="#111" stroke-width="0.72" stroke-linejoin="round"/>
<line x1="88.80" y1="317.20" x2="88.80" y2="325.30" stroke="#111" stroke-width="0.9"/>
<line x1="87.10" y1="317.20" x2="90.50" y2="317.20" stroke="#111" stroke-width="0.9"/>
<line x1="87.10" y1="325.30" x2="90.50" y2="325.30" stroke="#111" stroke-width="0.9"/>
<line x1="36.10" y1="308.50" x2="36.10" y2="400.70" stroke="#000" stroke-width="1.15"/>
<line x1="32.70" y1="311.10" x2="36.10" y2="311.10" stroke="#000" stroke-width="1.0"/>
<text x="30.10" y="313.50" font-size="6.8" text-anchor="end" fill="#111">15</text>
<line x1="32.70" y1="341.10" x2="36.10" y2="341.10" stroke="#000" stroke-width="1.0"/>
<text x="30.10" y="343.50" font-size="6.8" text-anchor="end" fill="#111">10</text>
<line x1="32.70" y1="370.90" x2="36.10" y2="370.90" stroke="#000" stroke-width="1.0"/>
<text x="30.10" y="373.30" font-size="6.8" text-anchor="end" fill="#111">5</text>
<line x1="32.70" y1="400.20" x2="36.10" y2="400.20" stroke="#000" stroke-width="1.0"/>
<text x="30.10" y="402.60" font-size="6.8" text-anchor="end" fill="#111">0</text>
<line x1="35.60" y1="400.20" x2="96.50" y2="400.20" stroke="#000" stroke-width="1.15"/>
<line x1="43.10" y1="400.20" x2="43.10" y2="403.20" stroke="#000" stroke-width="0.9"/>
<text x="45.50" y="410.40" font-size="7.2" text-anchor="end" fill="#111" transform="rotate(-45 45.50 410.40)">Con</text>
<line x1="54.80" y1="400.20" x2="54.80" y2="403.20" stroke="#000" stroke-width="0.9"/>
<text x="57.20" y="410.40" font-size="7.2" text-anchor="end" fill="#111" transform="rotate(-45 57.20 410.40)">WT</text>
<line x1="66.00" y1="400.20" x2="66.00" y2="403.20" stroke="#000" stroke-width="0.9"/>
<text x="68.40" y="410.40" font-size="7.2" text-anchor="end" fill="#111" transform="rotate(-45 68.40 410.40)">h1KO</text>
<line x1="77.50" y1="400.20" x2="77.50" y2="403.20" stroke="#000" stroke-width="0.9"/>
<text x="79.90" y="410.40" font-size="7.2" text-anchor="end" fill="#111" transform="rotate(-45 79.90 410.40)">h2KO</text>
<line x1="88.80" y1="400.20" x2="88.80" y2="403.20" stroke="#000" stroke-width="0.9"/>
<text x="91.20" y="410.40" font-size="7.2" text-anchor="end" fill="#111" transform="rotate(-45 91.20 410.40)">DKO</text>
<line x1="44.20" y1="308.50" x2="89.70" y2="308.50" stroke="#1a1a1a" stroke-width="1.15"/>
<text x="66.95" y="306.00" font-size="5.9" text-anchor="middle" fill="#111">p=0.0004</text>
<line x1="55.70" y1="329.40" x2="78.00" y2="329.40" stroke="#1a1a1a" stroke-width="1.15"/>
<text x="66.85" y="327.90" font-size="5.4" text-anchor="middle" fill="#111">ns</text>
<line x1="54.30" y1="336.80" x2="67.40" y2="336.80" stroke="#1a1a1a" stroke-width="1.15"/>
<text x="60.85" y="335.30" font-size="5.4" text-anchor="middle" fill="#111">ns</text>
<text x="16.50" y="354.50" font-size="9.4" text-anchor="middle" fill="#111" transform="rotate(-90 16.50 354.50)" textLength="50.6" lengthAdjust="spacingAndGlyphs" stroke="#111" stroke-width="0.18">% myeloid cells</text>
<rect x="149.10" y="374.90" width="6.80" height="25.30" fill="#dc8e86" stroke="none" stroke-width="1"/>
<rect x="159.80" y="376.50" width="6.80" height="23.70" fill="#8f9bca" stroke="none" stroke-width="1"/>
<rect x="170.50" y="381.00" width="6.80" height="19.20" fill="#bbdca3" stroke="none" stroke-width="1"/>
<rect x="181.30" y="377.90" width="6.80" height="22.30" fill="#a28dbf" stroke="none" stroke-width="1"/>
<rect x="192.10" y="342.50" width="6.80" height="57.70" fill="#f8d29a" stroke="none" stroke-width="1"/>
<circle cx="150.10" cy="372.50" r="1.85" fill="#b80c30" stroke="#111" stroke-width="0.72"/>
<circle cx="152.10" cy="373.30" r="1.85" fill="#b80c30" stroke="#111" stroke-width="0.72"/>
<circle cx="154.20" cy="375.90" r="1.85" fill="#b80c30" stroke="#111" stroke-width="0.72"/>
<circle cx="151.10" cy="376.90" r="1.85" fill="#b80c30" stroke="#111" stroke-width="0.72"/>
<circle cx="153.20" cy="374.90" r="1.85" fill="#b80c30" stroke="#111" stroke-width="0.72"/>
<rect x="160.99" y="342.79" width="3.42" height="3.42" fill="#254c9e" stroke="#111" stroke-width="0.72"/>
<rect x="159.59" y="376.19" width="3.42" height="3.42" fill="#254c9e" stroke="#111" stroke-width="0.72"/>
<rect x="162.59" y="379.29" width="3.42" height="3.42" fill="#254c9e" stroke="#111" stroke-width="0.72"/>
<rect x="160.19" y="381.29" width="3.42" height="3.42" fill="#254c9e" stroke="#111" stroke-width="0.72"/>
<rect x="162.99" y="381.69" width="3.42" height="3.42" fill="#254c9e" stroke="#111" stroke-width="0.72"/>
<line x1="163.20" y1="369.80" x2="163.20" y2="384.00" stroke="#111" stroke-width="0.9"/>
<line x1="161.50" y1="369.80" x2="164.90" y2="369.80" stroke="#111" stroke-width="0.9"/>
<line x1="161.50" y1="384.00" x2="164.90" y2="384.00" stroke="#111" stroke-width="0.9"/>
<polygon points="174.00,375.57 176.13,379.45 171.87,379.45" fill="#41a03c" stroke="#111" stroke-width="0.72" stroke-linejoin="round"/>
<polygon points="172.80,378.27 174.93,382.15 170.67,382.15" fill="#41a03c" stroke="#111" stroke-width="0.72" stroke-linejoin="round"/>
<polygon points="176.00,378.27 178.13,382.15 173.87,382.15" fill="#41a03c" stroke="#111" stroke-width="0.72" stroke-linejoin="round"/>
<polygon points="173.40,381.07 175.53,384.95 171.27,384.95" fill="#41a03c" stroke="#111" stroke-width="0.72" stroke-linejoin="round"/>
<polygon points="175.40,381.07 177.53,384.95 173.27,384.95" fill="#41a03c" stroke="#111" stroke-width="0.72" stroke-linejoin="round"/>
<polygon points="184.50,372.73 186.63,368.85 182.37,368.85" fill="#4e1f7c" stroke="#111" stroke-width="0.72" stroke-linejoin="round"/>
<polygon points="184.50,385.73 186.63,381.85 182.37,381.85" fill="#4e1f7c" stroke="#111" stroke-width="0.72" stroke-linejoin="round"/>
<line x1="184.70" y1="369.80" x2="184.70" y2="383.40" stroke="#111" stroke-width="0.9"/>
<line x1="183.00" y1="369.80" x2="186.40" y2="369.80" stroke="#111" stroke-width="0.9"/>
<line x1="183.00" y1="383.40" x2="186.40" y2="383.40" stroke="#111" stroke-width="0.9"/>
<polygon points="195.10,328.06 197.04,330.00 195.10,331.94 193.16,330.00" fill="#e8900f" stroke="#111" stroke-width="0.72" stroke-linejoin="round"/>
<polygon points="195.10,336.16 197.04,338.10 195.10,340.04 193.16,338.10" fill="#e8900f" stroke="#111" stroke-width="0.72" stroke-linejoin="round"/>
<polygon points="194.30,345.66 196.24,347.60 194.30,349.54 192.36,347.60" fill="#e8900f" stroke="#111" stroke-width="0.72" stroke-linejoin="round"/>
<polygon points="194.70,352.36 196.64,354.30 194.70,356.24 192.76,354.30" fill="#e8900f" stroke="#111" stroke-width="0.72" stroke-linejoin="round"/>
<line x1="195.50" y1="337.40" x2="195.50" y2="347.60" stroke="#111" stroke-width="0.9"/>
<line x1="193.80" y1="337.40" x2="197.20" y2="337.40" stroke="#111" stroke-width="0.9"/>
<line x1="193.80" y1="347.60" x2="197.20" y2="347.60" stroke="#111" stroke-width="0.9"/>
<line x1="145.10" y1="311.10" x2="145.10" y2="400.70" stroke="#000" stroke-width="1.15"/>
<line x1="141.70" y1="315.80" x2="145.10" y2="315.80" stroke="#000" stroke-width="1.0"/>
<text x="139.10" y="318.20" font-size="6.8" text-anchor="end" fill="#111">10.0</text>
<line x1="141.70" y1="337.00" x2="145.10" y2="337.00" stroke="#000" stroke-width="1.0"/>
<text x="139.10" y="339.40" font-size="6.8" text-anchor="end" fill="#111">7.5</text>
<line x1="141.70" y1="358.30" x2="145.10" y2="358.30" stroke="#000" stroke-width="1.0"/>
<text x="139.10" y="360.70" font-size="6.8" text-anchor="end" fill="#111">5.0</text>
<line x1="141.70" y1="379.40" x2="145.10" y2="379.40" stroke="#000" stroke-width="1.0"/>
<text x="139.10" y="381.80" font-size="6.8" text-anchor="end" fill="#111">2.5</text>
<line x1="141.70" y1="400.20" x2="145.10" y2="400.20" stroke="#000" stroke-width="1.0"/>
<text x="139.10" y="402.60" font-size="6.8" text-anchor="end" fill="#111">0.0</text>
<line x1="144.60" y1="400.20" x2="204.00" y2="400.20" stroke="#000" stroke-width="1.15"/>
<line x1="152.50" y1="400.20" x2="152.50" y2="403.20" stroke="#000" stroke-width="0.9"/>
<text x="154.90" y="410.40" font-size="7.2" text-anchor="end" fill="#111" transform="rotate(-45 154.90 410.40)">Con</text>
<line x1="163.20" y1="400.20" x2="163.20" y2="403.20" stroke="#000" stroke-width="0.9"/>
<text x="165.60" y="410.40" font-size="7.2" text-anchor="end" fill="#111" transform="rotate(-45 165.60 410.40)">WT</text>
<line x1="173.90" y1="400.20" x2="173.90" y2="403.20" stroke="#000" stroke-width="0.9"/>
<text x="176.30" y="410.40" font-size="7.2" text-anchor="end" fill="#111" transform="rotate(-45 176.30 410.40)">h1KO</text>
<line x1="184.70" y1="400.20" x2="184.70" y2="403.20" stroke="#000" stroke-width="0.9"/>
<text x="187.10" y="410.40" font-size="7.2" text-anchor="end" fill="#111" transform="rotate(-45 187.10 410.40)">h2KO</text>
<line x1="195.50" y1="400.20" x2="195.50" y2="403.20" stroke="#000" stroke-width="0.9"/>
<text x="197.90" y="410.40" font-size="7.2" text-anchor="end" fill="#111" transform="rotate(-45 197.90 410.40)">DKO</text>
<line x1="153.20" y1="325.30" x2="196.30" y2="325.30" stroke="#1a1a1a" stroke-width="1.15"/>
<text x="174.75" y="322.80" font-size="5.9" text-anchor="middle" fill="#111">p=0.0008</text>
<line x1="164.30" y1="350.00" x2="184.90" y2="350.00" stroke="#1a1a1a" stroke-width="1.15"/>
<text x="174.60" y="348.50" font-size="5.4" text-anchor="middle" fill="#111">ns</text>
<line x1="162.70" y1="357.10" x2="175.40" y2="357.10" stroke="#1a1a1a" stroke-width="1.15"/>
<text x="169.05" y="355.60" font-size="5.4" text-anchor="middle" fill="#111">ns</text>
<text x="119.00" y="355.20" font-size="8.4" text-anchor="middle" fill="#111" transform="rotate(-90 119.00 355.20)" textLength="43.4" lengthAdjust="spacingAndGlyphs" stroke="#111" stroke-width="0.18">% neutrophils</text>
<rect x="253.30" y="375.90" width="6.80" height="24.30" fill="#dc8e86" stroke="none" stroke-width="1"/>
<rect x="264.40" y="381.00" width="6.80" height="19.20" fill="#8f9bca" stroke="none" stroke-width="1"/>
<rect x="275.60" y="377.90" width="6.80" height="22.30" fill="#bbdca3" stroke="none" stroke-width="1"/>
<rect x="286.30" y="386.60" width="6.80" height="13.60" fill="#a28dbf" stroke="none" stroke-width="1"/>
<rect x="297.30" y="344.90" width="6.80" height="55.30" fill="#f8d29a" stroke="none" stroke-width="1"/>
<circle cx="254.50" cy="373.30" r="1.85" fill="#b80c30" stroke="#111" stroke-width="0.72"/>
<circle cx="256.60" cy="375.90" r="1.85" fill="#b80c30" stroke="#111" stroke-width="0.72"/>
<circle cx="258.60" cy="376.50" r="1.85" fill="#b80c30" stroke="#111" stroke-width="0.72"/>
<circle cx="255.70" cy="377.90" r="1.85" fill="#b80c30" stroke="#111" stroke-width="0.72"/>
<rect x="266.19" y="369.19" width="3.42" height="3.42" fill="#254c9e" stroke="#111" stroke-width="0.72"/>
<rect x="263.59" y="372.79" width="3.42" height="3.42" fill="#254c9e" stroke="#111" stroke-width="0.72"/>
<rect x="267.59" y="373.59" width="3.42" height="3.42" fill="#254c9e" stroke="#111" stroke-width="0.72"/>
<rect x="264.19" y="381.29" width="3.42" height="3.42" fill="#254c9e" stroke="#111" stroke-width="0.72"/>
<rect x="268.19" y="384.29" width="3.42" height="3.42" fill="#254c9e" stroke="#111" stroke-width="0.72"/>
<rect x="266.19" y="389.39" width="3.42" height="3.42" fill="#254c9e" stroke="#111" stroke-width="0.72"/>
<line x1="267.80" y1="375.30" x2="267.80" y2="387.00" stroke="#111" stroke-width="0.9"/>
<line x1="266.10" y1="375.30" x2="269.50" y2="375.30" stroke="#111" stroke-width="0.9"/>
<line x1="266.10" y1="387.00" x2="269.50" y2="387.00" stroke="#111" stroke-width="0.9"/>
<polygon points="278.80,360.47 280.93,364.35 276.67,364.35" fill="#41a03c" stroke="#111" stroke-width="0.72" stroke-linejoin="round"/>
<polygon points="276.80,376.57 278.93,380.45 274.67,380.45" fill="#41a03c" stroke="#111" stroke-width="0.72" stroke-linejoin="round"/>
<polygon points="280.40,375.57 282.53,379.45 278.27,379.45" fill="#41a03c" stroke="#111" stroke-width="0.72" stroke-linejoin="round"/>
<polygon points="278.80,381.67 280.93,385.55 276.67,385.55" fill="#41a03c" stroke="#111" stroke-width="0.72" stroke-linejoin="round"/>
<polygon points="278.80,386.77 280.93,390.65 276.67,390.65" fill="#41a03c" stroke="#111" stroke-width="0.72" stroke-linejoin="round"/>
<line x1="279.00" y1="374.50" x2="279.00" y2="385.00" stroke="#111" stroke-width="0.9"/>
<line x1="277.30" y1="374.50" x2="280.70" y2="374.50" stroke="#111" stroke-width="0.9"/>
<line x1="277.30" y1="385.00" x2="280.70" y2="385.00" stroke="#111" stroke-width="0.9"/>
<polygon points="289.50,382.33 291.63,378.45 287.37,378.45" fill="#4e1f7c" stroke="#111" stroke-width="0.72" stroke-linejoin="round"/>
<polygon points="289.50,393.83 291.63,389.95 287.37,389.95" fill="#4e1f7c" stroke="#111" stroke-width="0.72" stroke-linejoin="round"/>
<line x1="289.70" y1="379.40" x2="289.70" y2="392.10" stroke="#111" stroke-width="0.9"/>
<line x1="288.00" y1="379.40" x2="291.40" y2="379.40" stroke="#111" stroke-width="0.9"/>
<line x1="288.00" y1="392.10" x2="291.40" y2="392.10" stroke="#111" stroke-width="0.9"/>
<polygon points="300.70,322.36 302.64,324.30 300.70,326.24 298.76,324.30" fill="#e8900f" stroke="#111" stroke-width="0.72" stroke-linejoin="round"/>
<polygon points="298.70,345.06 300.64,347.00 298.70,348.94 296.76,347.00" fill="#e8900f" stroke="#111" stroke-width="0.72" stroke-linejoin="round"/>
<polygon points="302.70,347.06 304.64,349.00 302.70,350.94 300.76,349.00" fill="#e8900f" stroke="#111" stroke-width="0.72" stroke-linejoin="round"/>
<polygon points="300.70,349.06 302.64,351.00 300.70,352.94 298.76,351.00" fill="#e8900f" stroke="#111" stroke-width="0.72" stroke-linejoin="round"/>
<polygon points="301.10,357.16 303.04,359.10 301.10,361.04 299.16,359.10" fill="#e8900f" stroke="#111" stroke-width="0.72" stroke-linejoin="round"/>
<line x1="300.70" y1="337.40" x2="300.70" y2="352.20" stroke="#111" stroke-width="0.9"/>
<line x1="299.00" y1="337.40" x2="302.40" y2="337.40" stroke="#111" stroke-width="0.9"/>
<line x1="299.00" y1="352.20" x2="302.40" y2="352.20" stroke="#111" stroke-width="0.9"/>
<line x1="249.10" y1="311.10" x2="249.10" y2="400.70" stroke="#000" stroke-width="1.15"/>
<line x1="245.70" y1="314.20" x2="249.10" y2="314.20" stroke="#000" stroke-width="1.0"/>
<text x="243.10" y="316.60" font-size="6.8" text-anchor="end" fill="#111">2.5</text>
<line x1="245.70" y1="331.40" x2="249.10" y2="331.40" stroke="#000" stroke-width="1.0"/>
<text x="243.10" y="333.80" font-size="6.8" text-anchor="end" fill="#111">2.0</text>
<line x1="245.70" y1="348.60" x2="249.10" y2="348.60" stroke="#000" stroke-width="1.0"/>
<text x="243.10" y="351.00" font-size="6.8" text-anchor="end" fill="#111">1.5</text>
<line x1="245.70" y1="365.80" x2="249.10" y2="365.80" stroke="#000" stroke-width="1.0"/>
<text x="243.10" y="368.20" font-size="6.8" text-anchor="end" fill="#111">1.0</text>
<line x1="245.70" y1="383.00" x2="249.10" y2="383.00" stroke="#000" stroke-width="1.0"/>
<text x="243.10" y="385.40" font-size="6.8" text-anchor="end" fill="#111">0.5</text>
<line x1="245.70" y1="400.20" x2="249.10" y2="400.20" stroke="#000" stroke-width="1.0"/>
<text x="243.10" y="402.60" font-size="6.8" text-anchor="end" fill="#111">0.0</text>
<line x1="248.60" y1="400.20" x2="307.50" y2="400.20" stroke="#000" stroke-width="1.15"/>
<line x1="256.70" y1="400.20" x2="256.70" y2="403.20" stroke="#000" stroke-width="0.9"/>
<text x="259.10" y="410.40" font-size="7.2" text-anchor="end" fill="#111" transform="rotate(-45 259.10 410.40)">Con</text>
<line x1="267.80" y1="400.20" x2="267.80" y2="403.20" stroke="#000" stroke-width="0.9"/>
<text x="270.20" y="410.40" font-size="7.2" text-anchor="end" fill="#111" transform="rotate(-45 270.20 410.40)">WT</text>
<line x1="279.00" y1="400.20" x2="279.00" y2="403.20" stroke="#000" stroke-width="0.9"/>
<text x="281.40" y="410.40" font-size="7.2" text-anchor="end" fill="#111" transform="rotate(-45 281.40 410.40)">h1KO</text>
<line x1="289.70" y1="400.20" x2="289.70" y2="403.20" stroke="#000" stroke-width="0.9"/>
<text x="292.10" y="410.40" font-size="7.2" text-anchor="end" fill="#111" transform="rotate(-45 292.10 410.40)">h2KO</text>
<line x1="300.70" y1="400.20" x2="300.70" y2="403.20" stroke="#000" stroke-width="0.9"/>
<text x="303.10" y="410.40" font-size="7.2" text-anchor="end" fill="#111" transform="rotate(-45 303.10 410.40)">DKO</text>
<line x1="257.80" y1="318.20" x2="301.10" y2="318.20" stroke="#1a1a1a" stroke-width="1.15"/>
<text x="279.45" y="315.70" font-size="5.9" text-anchor="middle" fill="#111">p=0.0009</text>
<line x1="269.30" y1="349.00" x2="289.50" y2="349.00" stroke="#1a1a1a" stroke-width="1.15"/>
<text x="279.40" y="347.50" font-size="5.4" text-anchor="middle" fill="#111">ns</text>
<line x1="267.70" y1="356.10" x2="280.00" y2="356.10" stroke="#1a1a1a" stroke-width="1.15"/>
<text x="273.85" y="354.60" font-size="5.4" text-anchor="middle" fill="#111">ns</text>
<text x="227.10" y="355.45" font-size="8.4" text-anchor="middle" fill="#111" transform="rotate(-90 227.10 355.45)" textLength="42.9" lengthAdjust="spacingAndGlyphs" stroke="#111" stroke-width="0.18">% eosinophils</text>
<rect x="355.30" y="359.70" width="6.80" height="40.50" fill="#dc8e86" stroke="none" stroke-width="1"/>
<rect x="366.40" y="364.80" width="6.80" height="35.40" fill="#8f9bca" stroke="none" stroke-width="1"/>
<rect x="377.60" y="377.90" width="6.80" height="22.30" fill="#bbdca3" stroke="none" stroke-width="1"/>
<rect x="388.60" y="383.40" width="6.80" height="16.80" fill="#a28dbf" stroke="none" stroke-width="1"/>
<rect x="399.80" y="363.80" width="6.80" height="36.40" fill="#f8d29a" stroke="none" stroke-width="1"/>
<circle cx="358.10" cy="354.30" r="1.85" fill="#b80c30" stroke="#111" stroke-width="0.72"/>
<circle cx="356.50" cy="358.30" r="1.85" fill="#b80c30" stroke="#111" stroke-width="0.72"/>
<circle cx="360.60" cy="358.70" r="1.85" fill="#b80c30" stroke="#111" stroke-width="0.72"/>
<circle cx="357.70" cy="360.30" r="1.85" fill="#b80c30" stroke="#111" stroke-width="0.72"/>
<rect x="367.59" y="337.19" width="3.42" height="3.42" fill="#254c9e" stroke="#111" stroke-width="0.72"/>
<rect x="367.59" y="355.39" width="3.42" height="3.42" fill="#254c9e" stroke="#111" stroke-width="0.72"/>
<rect x="369.99" y="360.59" width="3.42" height="3.42" fill="#254c9e" stroke="#111" stroke-width="0.72"/>
<rect x="366.19" y="364.09" width="3.42" height="3.42" fill="#254c9e" stroke="#111" stroke-width="0.72"/>
<rect x="367.59" y="376.19" width="3.42" height="3.42" fill="#254c9e" stroke="#111" stroke-width="0.72"/>
<rect x="367.59" y="386.99" width="3.42" height="3.42" fill="#254c9e" stroke="#111" stroke-width="0.72"/>
<line x1="369.80" y1="360.30" x2="369.80" y2="371.90" stroke="#111" stroke-width="0.9"/>
<line x1="368.10" y1="360.30" x2="371.50" y2="360.30" stroke="#111" stroke-width="0.9"/>
<line x1="368.10" y1="371.90" x2="371.50" y2="371.90" stroke="#111" stroke-width="0.9"/>
<polygon points="380.80,352.77 382.93,356.65 378.67,356.65" fill="#41a03c" stroke="#111" stroke-width="0.72" stroke-linejoin="round"/>
<polygon points="380.80,367.47 382.93,371.35 378.67,371.35" fill="#41a03c" stroke="#111" stroke-width="0.72" stroke-linejoin="round"/>
<polygon points="380.80,373.57 382.93,377.45 378.67,377.45" fill="#41a03c" stroke="#111" stroke-width="0.72" stroke-linejoin="round"/>
<polygon points="378.80,392.77 380.93,396.65 376.67,396.65" fill="#41a03c" stroke="#111" stroke-width="0.72" stroke-linejoin="round"/>
<polygon points="382.40,392.17 384.53,396.05 380.27,396.05" fill="#41a03c" stroke="#111" stroke-width="0.72" stroke-linejoin="round"/>
<line x1="381.00" y1="369.80" x2="381.00" y2="389.00" stroke="#111" stroke-width="0.9"/>
<line x1="379.30" y1="369.80" x2="382.70" y2="369.80" stroke="#111" stroke-width="0.9"/>
<line x1="379.30" y1="389.00" x2="382.70" y2="389.00" stroke="#111" stroke-width="0.9"/>
<polygon points="392.20,374.23 394.33,370.35 390.07,370.35" fill="#4e1f7c" stroke="#111" stroke-width="0.72" stroke-linejoin="round"/>
<polygon points="392.20,395.83 394.33,391.95 390.07,391.95" fill="#4e1f7c" stroke="#111" stroke-width="0.72" stroke-linejoin="round"/>
<line x1="392.00" y1="371.30" x2="392.00" y2="395.10" stroke="#111" stroke-width="0.9"/>
<line x1="390.30" y1="371.30" x2="393.70" y2="371.30" stroke="#111" stroke-width="0.9"/>
<line x1="390.30" y1="395.10" x2="393.70" y2="395.10" stroke="#111" stroke-width="0.9"/>
<polygon points="403.30,352.36 405.24,354.30 403.30,356.24 401.36,354.30" fill="#e8900f" stroke="#111" stroke-width="0.72" stroke-linejoin="round"/>
<polygon points="403.30,357.16 405.24,359.10 403.30,361.04 401.36,359.10" fill="#e8900f" stroke="#111" stroke-width="0.72" stroke-linejoin="round"/>
<polygon points="401.10,369.36 403.04,371.30 401.10,373.24 399.16,371.30" fill="#e8900f" stroke="#111" stroke-width="0.72" stroke-linejoin="round"/>
<polygon points="405.10,367.86 407.04,369.80 405.10,371.74 403.16,369.80" fill="#e8900f" stroke="#111" stroke-width="0.72" stroke-linejoin="round"/>
<line x1="403.20" y1="358.70" x2="403.20" y2="366.80" stroke="#111" stroke-width="0.9"/>
<line x1="401.50" y1="358.70" x2="404.90" y2="358.70" stroke="#111" stroke-width="0.9"/>
<line x1="401.50" y1="366.80" x2="404.90" y2="366.80" stroke="#111" stroke-width="0.9"/>
<line x1="351.10" y1="310.50" x2="351.10" y2="400.70" stroke="#000" stroke-width="1.15"/>
<line x1="347.70" y1="313.20" x2="351.10" y2="313.20" stroke="#000" stroke-width="1.0"/>
<text x="345.10" y="315.60" font-size="6.8" text-anchor="end" fill="#111">5</text>
<line x1="347.70" y1="330.80" x2="351.10" y2="330.80" stroke="#000" stroke-width="1.0"/>
<text x="345.10" y="333.20" font-size="6.8" text-anchor="end" fill="#111">4</text>
<line x1="347.70" y1="348.20" x2="351.10" y2="348.20" stroke="#000" stroke-width="1.0"/>
<text x="345.10" y="350.60" font-size="6.8" text-anchor="end" fill="#111">3</text>
<line x1="347.70" y1="365.40" x2="351.10" y2="365.40" stroke="#000" stroke-width="1.0"/>
<text x="345.10" y="367.80" font-size="6.8" text-anchor="end" fill="#111">2</text>
<line x1="347.70" y1="383.00" x2="351.10" y2="383.00" stroke="#000" stroke-width="1.0"/>
<text x="345.10" y="385.40" font-size="6.8" text-anchor="end" fill="#111">1</text>
<line x1="347.70" y1="400.20" x2="351.10" y2="400.20" stroke="#000" stroke-width="1.0"/>
<text x="345.10" y="402.60" font-size="6.8" text-anchor="end" fill="#111">0</text>
<line x1="350.60" y1="400.20" x2="410.50" y2="400.20" stroke="#000" stroke-width="1.15"/>
<line x1="358.70" y1="400.20" x2="358.70" y2="403.20" stroke="#000" stroke-width="0.9"/>
<text x="361.10" y="410.40" font-size="7.2" text-anchor="end" fill="#111" transform="rotate(-45 361.10 410.40)">Con</text>
<line x1="369.80" y1="400.20" x2="369.80" y2="403.20" stroke="#000" stroke-width="0.9"/>
<text x="372.20" y="410.40" font-size="7.2" text-anchor="end" fill="#111" transform="rotate(-45 372.20 410.40)">WT</text>
<line x1="381.00" y1="400.20" x2="381.00" y2="403.20" stroke="#000" stroke-width="0.9"/>
<text x="383.40" y="410.40" font-size="7.2" text-anchor="end" fill="#111" transform="rotate(-45 383.40 410.40)">h1KO</text>
<line x1="392.00" y1="400.20" x2="392.00" y2="403.20" stroke="#000" stroke-width="0.9"/>
<text x="394.40" y="410.40" font-size="7.2" text-anchor="end" fill="#111" transform="rotate(-45 394.40 410.40)">h2KO</text>
<line x1="403.20" y1="400.20" x2="403.20" y2="403.20" stroke="#000" stroke-width="0.9"/>
<text x="405.60" y="410.40" font-size="7.2" text-anchor="end" fill="#111" transform="rotate(-45 405.60 410.40)">DKO</text>
<line x1="359.20" y1="317.20" x2="403.70" y2="317.20" stroke="#1a1a1a" stroke-width="1.15"/>
<text x="381.45" y="315.70" font-size="5.4" text-anchor="middle" fill="#111">ns</text>
<line x1="370.70" y1="325.90" x2="392.60" y2="325.90" stroke="#1a1a1a" stroke-width="1.15"/>
<text x="381.65" y="324.40" font-size="5.4" text-anchor="middle" fill="#111">ns</text>
<line x1="369.30" y1="334.00" x2="382.00" y2="334.00" stroke="#1a1a1a" stroke-width="1.15"/>
<text x="375.65" y="332.50" font-size="5.4" text-anchor="middle" fill="#111">ns</text>
<text x="335.70" y="355.75" font-size="8.2" text-anchor="middle" fill="#111" transform="rotate(-90 335.70 355.75)" textLength="62.5" lengthAdjust="spacingAndGlyphs" stroke="#111" stroke-width="0.18">% Ly6C<tspan font-size="5" dy="-3">lo</tspan><tspan dy="3"> monocytes</tspan></text>
<rect x="457.30" y="361.70" width="6.80" height="38.50" fill="#dc8e86" stroke="none" stroke-width="1"/>
<rect x="468.40" y="369.80" width="6.80" height="30.40" fill="#8f9bca" stroke="none" stroke-width="1"/>
<rect x="479.60" y="378.90" width="6.80" height="21.30" fill="#bbdca3" stroke="none" stroke-width="1"/>
<rect x="490.60" y="384.00" width="6.80" height="16.20" fill="#a28dbf" stroke="none" stroke-width="1"/>
<rect x="501.80" y="348.20" width="6.80" height="52.00" fill="#f8d29a" stroke="none" stroke-width="1"/>
<circle cx="460.60" cy="349.00" r="1.85" fill="#b80c30" stroke="#111" stroke-width="0.72"/>
<circle cx="459.10" cy="363.20" r="1.85" fill="#b80c30" stroke="#111" stroke-width="0.72"/>
<circle cx="462.20" cy="364.80" r="1.85" fill="#b80c30" stroke="#111" stroke-width="0.72"/>
<circle cx="458.50" cy="369.20" r="1.85" fill="#b80c30" stroke="#111" stroke-width="0.72"/>
<line x1="460.70" y1="357.70" x2="460.70" y2="367.80" stroke="#111" stroke-width="0.9"/>
<line x1="459.00" y1="357.70" x2="462.40" y2="357.70" stroke="#111" stroke-width="0.9"/>
<line x1="459.00" y1="367.80" x2="462.40" y2="367.80" stroke="#111" stroke-width="0.9"/>
<rect x="468.19" y="363.49" width="3.42" height="3.42" fill="#254c9e" stroke="#111" stroke-width="0.72"/>
<rect x="470.99" y="365.49" width="3.42" height="3.42" fill="#254c9e" stroke="#111" stroke-width="0.72"/>
<rect x="468.99" y="368.09" width="3.42" height="3.42" fill="#254c9e" stroke="#111" stroke-width="0.72"/>
<rect x="472.19" y="369.59" width="3.42" height="3.42" fill="#254c9e" stroke="#111" stroke-width="0.72"/>
<rect x="470.19" y="372.79" width="3.42" height="3.42" fill="#254c9e" stroke="#111" stroke-width="0.72"/>
<rect x="468.19" y="375.59" width="3.42" height="3.42" fill="#254c9e" stroke="#111" stroke-width="0.72"/>
<rect x="472.19" y="375.19" width="3.42" height="3.42" fill="#254c9e" stroke="#111" stroke-width="0.72"/>
<polygon points="482.80,362.07 484.93,365.95 480.67,365.95" fill="#41a03c" stroke="#111" stroke-width="0.72" stroke-linejoin="round"/>
<polygon points="480.80,374.17 482.93,378.05 478.67,378.05" fill="#41a03c" stroke="#111" stroke-width="0.72" stroke-linejoin="round"/>
<polygon points="484.40,374.17 486.53,378.05 482.27,378.05" fill="#41a03c" stroke="#111" stroke-width="0.72" stroke-linejoin="round"/>
<polygon points="482.40,385.07 484.53,388.95 480.27,388.95" fill="#41a03c" stroke="#111" stroke-width="0.72" stroke-linejoin="round"/>
<line x1="483.00" y1="372.90" x2="483.00" y2="380.00" stroke="#111" stroke-width="0.9"/>
<line x1="481.30" y1="372.90" x2="484.70" y2="372.90" stroke="#111" stroke-width="0.9"/>
<line x1="481.30" y1="380.00" x2="484.70" y2="380.00" stroke="#111" stroke-width="0.9"/>
<polygon points="494.20,373.63 496.33,369.75 492.07,369.75" fill="#4e1f7c" stroke="#111" stroke-width="0.72" stroke-linejoin="round"/>
<polygon points="494.20,395.83 496.33,391.95 492.07,391.95" fill="#4e1f7c" stroke="#111" stroke-width="0.72" stroke-linejoin="round"/>
<line x1="494.00" y1="371.30" x2="494.00" y2="393.50" stroke="#111" stroke-width="0.9"/>
<line x1="492.30" y1="371.30" x2="495.70" y2="371.30" stroke="#111" stroke-width="0.9"/>
<line x1="492.30" y1="393.50" x2="495.70" y2="393.50" stroke="#111" stroke-width="0.9"/>
<polygon points="505.10,333.46 507.04,335.40 505.10,337.34 503.16,335.40" fill="#e8900f" stroke="#111" stroke-width="0.72" stroke-linejoin="round"/>
<polygon points="505.10,346.66 507.04,348.60 505.10,350.54 503.16,348.60" fill="#e8900f" stroke="#111" stroke-width="0.72" stroke-linejoin="round"/>
<polygon points="505.10,349.66 507.04,351.60 505.10,353.54 503.16,351.60" fill="#e8900f" stroke="#111" stroke-width="0.72" stroke-linejoin="round"/>
<polygon points="505.10,352.36 507.04,354.30 505.10,356.24 503.16,354.30" fill="#e8900f" stroke="#111" stroke-width="0.72" stroke-linejoin="round"/>
<line x1="505.20" y1="343.50" x2="505.20" y2="353.00" stroke="#111" stroke-width="0.9"/>
<line x1="503.50" y1="343.50" x2="506.90" y2="343.50" stroke="#111" stroke-width="0.9"/>
<line x1="503.50" y1="353.00" x2="506.90" y2="353.00" stroke="#111" stroke-width="0.9"/>
<line x1="453.10" y1="310.50" x2="453.10" y2="400.70" stroke="#000" stroke-width="1.15"/>
<line x1="449.70" y1="313.20" x2="453.10" y2="313.20" stroke="#000" stroke-width="1.0"/>
<text x="447.10" y="315.60" font-size="6.8" text-anchor="end" fill="#111">4</text>
<line x1="449.70" y1="335.00" x2="453.10" y2="335.00" stroke="#000" stroke-width="1.0"/>
<text x="447.10" y="337.40" font-size="6.8" text-anchor="end" fill="#111">3</text>
<line x1="449.70" y1="357.10" x2="453.10" y2="357.10" stroke="#000" stroke-width="1.0"/>
<text x="447.10" y="359.50" font-size="6.8" text-anchor="end" fill="#111">2</text>
<line x1="449.70" y1="378.90" x2="453.10" y2="378.90" stroke="#000" stroke-width="1.0"/>
<text x="447.10" y="381.30" font-size="6.8" text-anchor="end" fill="#111">1</text>
<line x1="449.70" y1="400.20" x2="453.10" y2="400.20" stroke="#000" stroke-width="1.0"/>
<text x="447.10" y="402.60" font-size="6.8" text-anchor="end" fill="#111">0</text>
<line x1="452.60" y1="400.20" x2="512.00" y2="400.20" stroke="#000" stroke-width="1.15"/>
<line x1="460.70" y1="400.20" x2="460.70" y2="403.20" stroke="#000" stroke-width="0.9"/>
<text x="463.10" y="410.40" font-size="7.2" text-anchor="end" fill="#111" transform="rotate(-45 463.10 410.40)">Con</text>
<line x1="471.80" y1="400.20" x2="471.80" y2="403.20" stroke="#000" stroke-width="0.9"/>
<text x="474.20" y="410.40" font-size="7.2" text-anchor="end" fill="#111" transform="rotate(-45 474.20 410.40)">WT</text>
<line x1="483.00" y1="400.20" x2="483.00" y2="403.20" stroke="#000" stroke-width="0.9"/>
<text x="485.40" y="410.40" font-size="7.2" text-anchor="end" fill="#111" transform="rotate(-45 485.40 410.40)">h1KO</text>
<line x1="494.00" y1="400.20" x2="494.00" y2="403.20" stroke="#000" stroke-width="0.9"/>
<text x="496.40" y="410.40" font-size="7.2" text-anchor="end" fill="#111" transform="rotate(-45 496.40 410.40)">h2KO</text>
<line x1="505.20" y1="400.20" x2="505.20" y2="403.20" stroke="#000" stroke-width="0.9"/>
<text x="507.60" y="410.40" font-size="7.2" text-anchor="end" fill="#111" transform="rotate(-45 507.60 410.40)">DKO</text>
<line x1="461.20" y1="328.90" x2="506.10" y2="328.90" stroke="#1a1a1a" stroke-width="1.15"/>
<text x="483.65" y="327.40" font-size="5.4" text-anchor="middle" fill="#111">ns</text>
<line x1="473.30" y1="348.60" x2="494.20" y2="348.60" stroke="#1a1a1a" stroke-width="1.15"/>
<text x="483.75" y="347.10" font-size="5.4" text-anchor="middle" fill="#111">ns</text>
<line x1="471.30" y1="355.70" x2="484.00" y2="355.70" stroke="#1a1a1a" stroke-width="1.15"/>
<text x="477.65" y="354.20" font-size="5.4" text-anchor="middle" fill="#111">ns</text>
<text x="437.00" y="355.10" font-size="8.2" text-anchor="middle" fill="#111" transform="rotate(-90 437.00 355.10)" textLength="63.8" lengthAdjust="spacingAndGlyphs" stroke="#111" stroke-width="0.18">% Ly6C<tspan font-size="5" dy="-3">hi</tspan><tspan dy="3"> monocytes</tspan></text>
<rect x="243.10" y="469.90" width="6.80" height="68.20" fill="#dc8e86" stroke="none" stroke-width="1"/>
<rect x="253.60" y="472.30" width="6.80" height="65.80" fill="#8f9bca" stroke="none" stroke-width="1"/>
<rect x="264.30" y="472.90" width="6.80" height="65.20" fill="#bbdca3" stroke="none" stroke-width="1"/>
<rect x="274.90" y="470.90" width="6.80" height="67.20" fill="#a28dbf" stroke="none" stroke-width="1"/>
<rect x="285.60" y="488.50" width="6.80" height="49.60" fill="#f8d29a" stroke="none" stroke-width="1"/>
<circle cx="244.10" cy="470.30" r="1.85" fill="#b80c30" stroke="#111" stroke-width="0.72"/>
<circle cx="246.10" cy="469.30" r="1.85" fill="#b80c30" stroke="#111" stroke-width="0.72"/>
<circle cx="248.20" cy="466.90" r="1.85" fill="#b80c30" stroke="#111" stroke-width="0.72"/>
<circle cx="245.10" cy="472.90" r="1.85" fill="#b80c30" stroke="#111" stroke-width="0.72"/>
<circle cx="247.80" cy="471.70" r="1.85" fill="#b80c30" stroke="#111" stroke-width="0.72"/>
<circle cx="243.70" cy="473.30" r="1.85" fill="#b80c30" stroke="#111" stroke-width="0.72"/>
<rect x="256.19" y="468.59" width="3.42" height="3.42" fill="#254c9e" stroke="#111" stroke-width="0.72"/>
<rect x="253.59" y="471.59" width="3.42" height="3.42" fill="#254c9e" stroke="#111" stroke-width="0.72"/>
<rect x="256.99" y="470.59" width="3.42" height="3.42" fill="#254c9e" stroke="#111" stroke-width="0.72"/>
<rect x="254.19" y="474.09" width="3.42" height="3.42" fill="#254c9e" stroke="#111" stroke-width="0.72"/>
<polygon points="267.40,467.97 269.53,471.85 265.27,471.85" fill="#41a03c" stroke="#111" stroke-width="0.72" stroke-linejoin="round"/>
<polygon points="266.00,470.97 268.13,474.85 263.87,474.85" fill="#41a03c" stroke="#111" stroke-width="0.72" stroke-linejoin="round"/>
<polygon points="269.40,470.97 271.53,474.85 267.27,474.85" fill="#41a03c" stroke="#111" stroke-width="0.72" stroke-linejoin="round"/>
<polygon points="278.10,470.03 280.23,466.15 275.97,466.15" fill="#4e1f7c" stroke="#111" stroke-width="0.72" stroke-linejoin="round"/>
<polygon points="276.90,475.23 279.03,471.35 274.77,471.35" fill="#4e1f7c" stroke="#111" stroke-width="0.72" stroke-linejoin="round"/>
<polygon points="280.20,473.63 282.33,469.75 278.07,469.75" fill="#4e1f7c" stroke="#111" stroke-width="0.72" stroke-linejoin="round"/>
<line x1="278.30" y1="466.90" x2="278.30" y2="472.90" stroke="#111" stroke-width="0.9"/>
<line x1="276.60" y1="466.90" x2="280.00" y2="466.90" stroke="#111" stroke-width="0.9"/>
<line x1="276.60" y1="472.90" x2="280.00" y2="472.90" stroke="#111" stroke-width="0.9"/>
<polygon points="287.40,473.66 289.34,475.60 287.40,477.54 285.46,475.60" fill="#e8900f" stroke="#111" stroke-width="0.72" stroke-linejoin="round"/>
<polygon points="289.60,471.46 291.54,473.40 289.60,475.34 287.66,473.40" fill="#e8900f" stroke="#111" stroke-width="0.72" stroke-linejoin="round"/>
<polygon points="288.60,490.46 290.54,492.40 288.60,494.34 286.66,492.40" fill="#e8900f" stroke="#111" stroke-width="0.72" stroke-linejoin="round"/>
<polygon points="288.60,496.66 290.54,498.60 288.60,500.54 286.66,498.60" fill="#e8900f" stroke="#111" stroke-width="0.72" stroke-linejoin="round"/>
<polygon points="288.60,501.66 290.54,503.60 288.60,505.54 286.66,503.60" fill="#e8900f" stroke="#111" stroke-width="0.72" stroke-linejoin="round"/>
<line x1="289.00" y1="482.40" x2="289.00" y2="494.60" stroke="#111" stroke-width="0.9"/>
<line x1="287.30" y1="482.40" x2="290.70" y2="482.40" stroke="#111" stroke-width="0.9"/>
<line x1="287.30" y1="494.60" x2="290.70" y2="494.60" stroke="#111" stroke-width="0.9"/>
<line x1="239.50" y1="452.70" x2="239.50" y2="538.60" stroke="#000" stroke-width="1.15"/>
<line x1="236.10" y1="454.10" x2="239.50" y2="454.10" stroke="#000" stroke-width="1.0"/>
<text x="233.50" y="456.50" font-size="6.8" text-anchor="end" fill="#111">100</text>
<line x1="236.10" y1="470.90" x2="239.50" y2="470.90" stroke="#000" stroke-width="1.0"/>
<text x="233.50" y="473.30" font-size="6.8" text-anchor="end" fill="#111">80</text>
<line x1="236.10" y1="487.90" x2="239.50" y2="487.90" stroke="#000" stroke-width="1.0"/>
<text x="233.50" y="490.30" font-size="6.8" text-anchor="end" fill="#111">60</text>
<line x1="236.10" y1="504.70" x2="239.50" y2="504.70" stroke="#000" stroke-width="1.0"/>
<text x="233.50" y="507.10" font-size="6.8" text-anchor="end" fill="#111">40</text>
<line x1="236.10" y1="521.50" x2="239.50" y2="521.50" stroke="#000" stroke-width="1.0"/>
<text x="233.50" y="523.90" font-size="6.8" text-anchor="end" fill="#111">20</text>
<line x1="236.10" y1="538.10" x2="239.50" y2="538.10" stroke="#000" stroke-width="1.0"/>
<text x="233.50" y="540.50" font-size="6.8" text-anchor="end" fill="#111">0</text>
<line x1="239.00" y1="538.10" x2="295.70" y2="538.10" stroke="#000" stroke-width="1.15"/>
<line x1="246.50" y1="538.10" x2="246.50" y2="541.10" stroke="#000" stroke-width="0.9"/>
<text x="248.90" y="548.30" font-size="7.2" text-anchor="end" fill="#111" transform="rotate(-45 248.90 548.30)">Con</text>
<line x1="257.00" y1="538.10" x2="257.00" y2="541.10" stroke="#000" stroke-width="0.9"/>
<text x="259.40" y="548.30" font-size="7.2" text-anchor="end" fill="#111" transform="rotate(-45 259.40 548.30)">WT</text>
<line x1="267.70" y1="538.10" x2="267.70" y2="541.10" stroke="#000" stroke-width="0.9"/>
<text x="270.10" y="548.30" font-size="7.2" text-anchor="end" fill="#111" transform="rotate(-45 270.10 548.30)">h1KO</text>
<line x1="278.30" y1="538.10" x2="278.30" y2="541.10" stroke="#000" stroke-width="0.9"/>
<text x="280.70" y="548.30" font-size="7.2" text-anchor="end" fill="#111" transform="rotate(-45 280.70 548.30)">h2KO</text>
<line x1="289.00" y1="538.10" x2="289.00" y2="541.10" stroke="#000" stroke-width="0.9"/>
<text x="291.40" y="548.30" font-size="7.2" text-anchor="end" fill="#111" transform="rotate(-45 291.40 548.30)">DKO</text>
<line x1="248.60" y1="461.60" x2="289.10" y2="461.60" stroke="#1a1a1a" stroke-width="1.15"/>
<text x="268.85" y="459.10" font-size="5.9" text-anchor="middle" fill="#111">p=0.0066</text>
<text x="216.70" y="494.55" font-size="9.0" text-anchor="middle" fill="#111" transform="rotate(-90 216.70 494.55)" textLength="85.7" lengthAdjust="spacingAndGlyphs" stroke="#111" stroke-width="0.18">Naive cells (% CD8<tspan font-size="5.2" dy="-3.2">+</tspan><tspan dy="3.2"> T cells)</tspan></text>
<rect x="346.30" y="513.80" width="6.80" height="24.30" fill="#dc8e86" stroke="none" stroke-width="1"/>
<rect x="356.70" y="517.90" width="6.80" height="20.20" fill="#8f9bca" stroke="none" stroke-width="1"/>
<rect x="367.50" y="514.80" width="6.80" height="23.30" fill="#bbdca3" stroke="none" stroke-width="1"/>
<rect x="378.10" y="515.90" width="6.80" height="22.20" fill="#a28dbf" stroke="none" stroke-width="1"/>
<rect x="388.70" y="495.20" width="6.80" height="42.90" fill="#f8d29a" stroke="none" stroke-width="1"/>
<circle cx="347.10" cy="505.30" r="1.85" fill="#b80c30" stroke="#111" stroke-width="0.72"/>
<circle cx="350.10" cy="505.30" r="1.85" fill="#b80c30" stroke="#111" stroke-width="0.72"/>
<circle cx="351.60" cy="506.70" r="1.85" fill="#b80c30" stroke="#111" stroke-width="0.72"/>
<circle cx="351.20" cy="521.90" r="1.85" fill="#b80c30" stroke="#111" stroke-width="0.72"/>
<circle cx="348.10" cy="525.60" r="1.85" fill="#b80c30" stroke="#111" stroke-width="0.72"/>
<line x1="349.70" y1="509.40" x2="349.70" y2="517.50" stroke="#111" stroke-width="0.9"/>
<line x1="348.00" y1="509.40" x2="351.40" y2="509.40" stroke="#111" stroke-width="0.9"/>
<line x1="348.00" y1="517.50" x2="351.40" y2="517.50" stroke="#111" stroke-width="0.9"/>
<rect x="357.99" y="506.49" width="3.42" height="3.42" fill="#254c9e" stroke="#111" stroke-width="0.72"/>
<rect x="360.59" y="518.19" width="3.42" height="3.42" fill="#254c9e" stroke="#111" stroke-width="0.72"/>
<rect x="356.49" y="521.19" width="3.42" height="3.42" fill="#254c9e" stroke="#111" stroke-width="0.72"/>
<rect x="358.19" y="520.19" width="3.42" height="3.42" fill="#254c9e" stroke="#111" stroke-width="0.72"/>
<line x1="360.10" y1="512.00" x2="360.10" y2="522.90" stroke="#111" stroke-width="0.9"/>
<line x1="358.40" y1="512.00" x2="361.80" y2="512.00" stroke="#111" stroke-width="0.9"/>
<line x1="358.40" y1="522.90" x2="361.80" y2="522.90" stroke="#111" stroke-width="0.9"/>
<polygon points="369.40,506.47 371.53,510.35 367.27,510.35" fill="#41a03c" stroke="#111" stroke-width="0.72" stroke-linejoin="round"/>
<polygon points="368.00,510.47 370.13,514.35 365.87,514.35" fill="#41a03c" stroke="#111" stroke-width="0.72" stroke-linejoin="round"/>
<polygon points="371.40,509.47 373.53,513.35 369.27,513.35" fill="#41a03c" stroke="#111" stroke-width="0.72" stroke-linejoin="round"/>
<polygon points="370.00,511.47 372.13,515.35 367.87,515.35" fill="#41a03c" stroke="#111" stroke-width="0.72" stroke-linejoin="round"/>
<polygon points="382.90,513.73 385.03,509.85 380.77,509.85" fill="#4e1f7c" stroke="#111" stroke-width="0.72" stroke-linejoin="round"/>
<polygon points="380.90,517.13 383.03,513.25 378.77,513.25" fill="#4e1f7c" stroke="#111" stroke-width="0.72" stroke-linejoin="round"/>
<polygon points="381.50,519.23 383.63,515.35 379.37,515.35" fill="#4e1f7c" stroke="#111" stroke-width="0.72" stroke-linejoin="round"/>
<polygon points="391.60,469.96 393.54,471.90 391.60,473.84 389.66,471.90" fill="#e8900f" stroke="#111" stroke-width="0.72" stroke-linejoin="round"/>
<polygon points="390.20,496.06 392.14,498.00 390.20,499.94 388.26,498.00" fill="#e8900f" stroke="#111" stroke-width="0.72" stroke-linejoin="round"/>
<polygon points="393.10,497.36 395.04,499.30 393.10,501.24 391.16,499.30" fill="#e8900f" stroke="#111" stroke-width="0.72" stroke-linejoin="round"/>
<polygon points="391.00,501.76 392.94,503.70 391.00,505.64 389.06,503.70" fill="#e8900f" stroke="#111" stroke-width="0.72" stroke-linejoin="round"/>
<polygon points="392.30,499.36 394.24,501.30 392.30,503.24 390.36,501.30" fill="#e8900f" stroke="#111" stroke-width="0.72" stroke-linejoin="round"/>
<line x1="392.10" y1="489.10" x2="392.10" y2="499.30" stroke="#111" stroke-width="0.9"/>
<line x1="390.40" y1="489.10" x2="393.80" y2="489.10" stroke="#111" stroke-width="0.9"/>
<line x1="390.40" y1="499.30" x2="393.80" y2="499.30" stroke="#111" stroke-width="0.9"/>
<line x1="342.50" y1="452.70" x2="342.50" y2="538.60" stroke="#000" stroke-width="1.15"/>
<line x1="339.10" y1="454.10" x2="342.50" y2="454.10" stroke="#000" stroke-width="1.0"/>
<text x="336.50" y="456.50" font-size="6.8" text-anchor="end" fill="#111">40</text>
<line x1="339.10" y1="475.80" x2="342.50" y2="475.80" stroke="#000" stroke-width="1.0"/>
<text x="336.50" y="478.20" font-size="6.8" text-anchor="end" fill="#111">30</text>
<line x1="339.10" y1="496.60" x2="342.50" y2="496.60" stroke="#000" stroke-width="1.0"/>
<text x="336.50" y="499.00" font-size="6.8" text-anchor="end" fill="#111">20</text>
<line x1="339.10" y1="517.50" x2="342.50" y2="517.50" stroke="#000" stroke-width="1.0"/>
<text x="336.50" y="519.90" font-size="6.8" text-anchor="end" fill="#111">10</text>
<line x1="339.10" y1="538.10" x2="342.50" y2="538.10" stroke="#000" stroke-width="1.0"/>
<text x="336.50" y="540.50" font-size="6.8" text-anchor="end" fill="#111">0</text>
<line x1="342.00" y1="538.10" x2="398.00" y2="538.10" stroke="#000" stroke-width="1.15"/>
<line x1="349.70" y1="538.10" x2="349.70" y2="541.10" stroke="#000" stroke-width="0.9"/>
<text x="352.10" y="548.30" font-size="7.2" text-anchor="end" fill="#111" transform="rotate(-45 352.10 548.30)">Con</text>
<line x1="360.10" y1="538.10" x2="360.10" y2="541.10" stroke="#000" stroke-width="0.9"/>
<text x="362.50" y="548.30" font-size="7.2" text-anchor="end" fill="#111" transform="rotate(-45 362.50 548.30)">WT</text>
<line x1="370.90" y1="538.10" x2="370.90" y2="541.10" stroke="#000" stroke-width="0.9"/>
<text x="373.30" y="548.30" font-size="7.2" text-anchor="end" fill="#111" transform="rotate(-45 373.30 548.30)">h1KO</text>
<line x1="381.50" y1="538.10" x2="381.50" y2="541.10" stroke="#000" stroke-width="0.9"/>
<text x="383.90" y="548.30" font-size="7.2" text-anchor="end" fill="#111" transform="rotate(-45 383.90 548.30)">h2KO</text>
<line x1="392.10" y1="538.10" x2="392.10" y2="541.10" stroke="#000" stroke-width="0.9"/>
<text x="394.50" y="548.30" font-size="7.2" text-anchor="end" fill="#111" transform="rotate(-45 394.50 548.30)">DKO</text>
<line x1="352.20" y1="467.70" x2="391.60" y2="467.70" stroke="#1a1a1a" stroke-width="1.15"/>
<text x="371.90" y="465.20" font-size="5.9" text-anchor="middle" fill="#111">p=0.0171</text>
<line x1="359.90" y1="496.20" x2="381.50" y2="496.20" stroke="#1a1a1a" stroke-width="1.15"/>
<text x="370.70" y="494.70" font-size="5.4" text-anchor="middle" fill="#111">ns</text>
<line x1="359.90" y1="503.10" x2="370.40" y2="503.10" stroke="#1a1a1a" stroke-width="1.15"/>
<text x="365.15" y="501.60" font-size="5.4" text-anchor="middle" fill="#111">ns</text>
<text x="321.70" y="493.10" font-size="9.0" text-anchor="middle" fill="#111" transform="rotate(-90 321.70 493.10)" textLength="99.2" lengthAdjust="spacingAndGlyphs" stroke="#111" stroke-width="0.18">Central memory (% CD8<tspan font-size="5.2" dy="-3.2">+</tspan><tspan dy="3.2"> T cells)</tspan></text>
<rect x="449.60" y="525.00" width="6.80" height="13.10" fill="#dc8e86" stroke="none" stroke-width="1"/>
<rect x="460.10" y="531.60" width="6.80" height="6.50" fill="#8f9bca" stroke="none" stroke-width="1"/>
<rect x="470.70" y="530.00" width="6.80" height="8.10" fill="#bbdca3" stroke="none" stroke-width="1"/>
<rect x="481.40" y="531.00" width="6.80" height="7.10" fill="#a28dbf" stroke="none" stroke-width="1"/>
<rect x="492.10" y="493.60" width="6.80" height="44.50" fill="#f8d29a" stroke="none" stroke-width="1"/>
<circle cx="452.80" cy="514.20" r="1.85" fill="#b80c30" stroke="#111" stroke-width="0.72"/>
<circle cx="452.80" cy="519.90" r="1.85" fill="#b80c30" stroke="#111" stroke-width="0.72"/>
<circle cx="451.70" cy="525.60" r="1.85" fill="#b80c30" stroke="#111" stroke-width="0.72"/>
<circle cx="454.20" cy="528.00" r="1.85" fill="#b80c30" stroke="#111" stroke-width="0.72"/>
<circle cx="452.60" cy="531.60" r="1.85" fill="#b80c30" stroke="#111" stroke-width="0.72"/>
<line x1="453.00" y1="517.90" x2="453.00" y2="531.60" stroke="#111" stroke-width="0.9"/>
<line x1="451.30" y1="517.90" x2="454.70" y2="517.90" stroke="#111" stroke-width="0.9"/>
<line x1="451.30" y1="531.60" x2="454.70" y2="531.60" stroke="#111" stroke-width="0.9"/>
<rect x="460.99" y="529.89" width="3.42" height="3.42" fill="#254c9e" stroke="#111" stroke-width="0.72"/>
<rect x="462.99" y="529.29" width="3.42" height="3.42" fill="#254c9e" stroke="#111" stroke-width="0.72"/>
<rect x="460.19" y="531.99" width="3.42" height="3.42" fill="#254c9e" stroke="#111" stroke-width="0.72"/>
<rect x="463.59" y="530.69" width="3.42" height="3.42" fill="#254c9e" stroke="#111" stroke-width="0.72"/>
<polygon points="473.40,526.67 475.53,530.55 471.27,530.55" fill="#41a03c" stroke="#111" stroke-width="0.72" stroke-linejoin="round"/>
<polygon points="475.40,525.67 477.53,529.55 473.27,529.55" fill="#41a03c" stroke="#111" stroke-width="0.72" stroke-linejoin="round"/>
<polygon points="474.40,529.27 476.53,533.15 472.27,533.15" fill="#41a03c" stroke="#111" stroke-width="0.72" stroke-linejoin="round"/>
<polygon points="472.40,530.07 474.53,533.95 470.27,533.95" fill="#41a03c" stroke="#111" stroke-width="0.72" stroke-linejoin="round"/>
<polygon points="483.50,531.93 485.63,528.05 481.37,528.05" fill="#4e1f7c" stroke="#111" stroke-width="0.72" stroke-linejoin="round"/>
<polygon points="485.50,532.33 487.63,528.45 483.37,528.45" fill="#4e1f7c" stroke="#111" stroke-width="0.72" stroke-linejoin="round"/>
<polygon points="484.10,534.33 486.23,530.45 481.97,530.45" fill="#4e1f7c" stroke="#111" stroke-width="0.72" stroke-linejoin="round"/>
<polygon points="495.10,461.26 497.04,463.20 495.10,465.14 493.16,463.20" fill="#e8900f" stroke="#111" stroke-width="0.72" stroke-linejoin="round"/>
<polygon points="495.10,471.96 497.04,473.90 495.10,475.84 493.16,473.90" fill="#e8900f" stroke="#111" stroke-width="0.72" stroke-linejoin="round"/>
<polygon points="494.30,480.46 496.24,482.40 494.30,484.34 492.36,482.40" fill="#e8900f" stroke="#111" stroke-width="0.72" stroke-linejoin="round"/>
<polygon points="493.00,522.06 494.94,524.00 493.00,525.94 491.06,524.00" fill="#e8900f" stroke="#111" stroke-width="0.72" stroke-linejoin="round"/>
<polygon points="497.10,519.96 499.04,521.90 497.10,523.84 495.16,521.90" fill="#e8900f" stroke="#111" stroke-width="0.72" stroke-linejoin="round"/>
<line x1="495.50" y1="481.00" x2="495.50" y2="505.70" stroke="#111" stroke-width="0.9"/>
<line x1="493.80" y1="481.00" x2="497.20" y2="481.00" stroke="#111" stroke-width="0.9"/>
<line x1="493.80" y1="505.70" x2="497.20" y2="505.70" stroke="#111" stroke-width="0.9"/>
<line x1="445.70" y1="452.70" x2="445.70" y2="538.60" stroke="#000" stroke-width="1.15"/>
<line x1="442.30" y1="454.70" x2="445.70" y2="454.70" stroke="#000" stroke-width="1.0"/>
<text x="439.70" y="457.10" font-size="6.8" text-anchor="end" fill="#111">25</text>
<line x1="442.30" y1="471.30" x2="445.70" y2="471.30" stroke="#000" stroke-width="1.0"/>
<text x="439.70" y="473.70" font-size="6.8" text-anchor="end" fill="#111">20</text>
<line x1="442.30" y1="488.10" x2="445.70" y2="488.10" stroke="#000" stroke-width="1.0"/>
<text x="439.70" y="490.50" font-size="6.8" text-anchor="end" fill="#111">15</text>
<line x1="442.30" y1="504.70" x2="445.70" y2="504.70" stroke="#000" stroke-width="1.0"/>
<text x="439.70" y="507.10" font-size="6.8" text-anchor="end" fill="#111">10</text>
<line x1="442.30" y1="521.50" x2="445.70" y2="521.50" stroke="#000" stroke-width="1.0"/>
<text x="439.70" y="523.90" font-size="6.8" text-anchor="end" fill="#111">5</text>
<line x1="442.30" y1="538.10" x2="445.70" y2="538.10" stroke="#000" stroke-width="1.0"/>
<text x="439.70" y="540.50" font-size="6.8" text-anchor="end" fill="#111">0</text>
<line x1="445.20" y1="538.10" x2="501.70" y2="538.10" stroke="#000" stroke-width="1.15"/>
<line x1="453.00" y1="538.10" x2="453.00" y2="541.10" stroke="#000" stroke-width="0.9"/>
<text x="455.40" y="548.30" font-size="7.2" text-anchor="end" fill="#111" transform="rotate(-45 455.40 548.30)">Con</text>
<line x1="463.50" y1="538.10" x2="463.50" y2="541.10" stroke="#000" stroke-width="0.9"/>
<text x="465.90" y="548.30" font-size="7.2" text-anchor="end" fill="#111" transform="rotate(-45 465.90 548.30)">WT</text>
<line x1="474.10" y1="538.10" x2="474.10" y2="541.10" stroke="#000" stroke-width="0.9"/>
<text x="476.50" y="548.30" font-size="7.2" text-anchor="end" fill="#111" transform="rotate(-45 476.50 548.30)">h1KO</text>
<line x1="484.80" y1="538.10" x2="484.80" y2="541.10" stroke="#000" stroke-width="0.9"/>
<text x="487.20" y="548.30" font-size="7.2" text-anchor="end" fill="#111" transform="rotate(-45 487.20 548.30)">h2KO</text>
<line x1="495.50" y1="538.10" x2="495.50" y2="541.10" stroke="#000" stroke-width="0.9"/>
<text x="497.90" y="548.30" font-size="7.2" text-anchor="end" fill="#111" transform="rotate(-45 497.90 548.30)">DKO</text>
<line x1="455.80" y1="458.80" x2="495.70" y2="458.80" stroke="#1a1a1a" stroke-width="1.15"/>
<text x="475.75" y="457.30" font-size="5.4" text-anchor="middle" fill="#111">ns</text>
<line x1="463.30" y1="515.40" x2="484.90" y2="515.40" stroke="#1a1a1a" stroke-width="1.15"/>
<text x="474.10" y="513.90" font-size="5.4" text-anchor="middle" fill="#111">ns</text>
<line x1="463.30" y1="523.50" x2="473.40" y2="523.50" stroke="#1a1a1a" stroke-width="1.15"/>
<text x="468.35" y="522.00" font-size="5.4" text-anchor="middle" fill="#111">ns</text>
<text x="425.70" y="493.60" font-size="9.0" text-anchor="middle" fill="#111" transform="rotate(-90 425.70 493.60)" textLength="101.4" lengthAdjust="spacingAndGlyphs" stroke="#111" stroke-width="0.18">Effector memory (% CD8<tspan font-size="5.2" dy="-3.2">+</tspan><tspan dy="3.2"> T cells)</tspan></text>
<rect x="245.70" y="108.00" width="5.90" height="7.00" fill="#d4908a" stroke="none" stroke-width="1"/>
<rect x="254.00" y="107.00" width="5.90" height="8.00" fill="#f6d49e" stroke="none" stroke-width="1"/>
<rect x="268.00" y="97.50" width="5.90" height="17.50" fill="#d4908a" stroke="none" stroke-width="1"/>
<rect x="276.30" y="94.60" width="5.90" height="20.40" fill="#f6d49e" stroke="none" stroke-width="1"/>
<rect x="290.60" y="109.00" width="5.90" height="6.00" fill="#d4908a" stroke="none" stroke-width="1"/>
<rect x="299.00" y="109.00" width="5.90" height="6.00" fill="#f6d49e" stroke="none" stroke-width="1"/>
<rect x="313.10" y="68.06" width="5.90" height="46.94" fill="#d4908a" stroke="none" stroke-width="1"/>
<rect x="321.70" y="68.06" width="5.90" height="46.94" fill="#f6d49e" stroke="none" stroke-width="1"/>
<rect x="313.10" y="47.10" width="5.90" height="8.75" fill="#d4908a" stroke="none" stroke-width="1"/>
<rect x="321.70" y="45.20" width="5.90" height="10.65" fill="#f6d49e" stroke="none" stroke-width="1"/>
<circle cx="247.50" cy="104.70" r="1.85" fill="#b5143a" stroke="#111" stroke-width="0.72"/>
<circle cx="250.20" cy="107.50" r="1.85" fill="#b5143a" stroke="#111" stroke-width="0.72"/>
<circle cx="247.60" cy="111.00" r="1.85" fill="#b5143a" stroke="#111" stroke-width="0.72"/>
<circle cx="249.00" cy="109.50" r="1.85" fill="#b5143a" stroke="#111" stroke-width="0.72"/>
<line x1="257.00" y1="101.50" x2="257.00" y2="108.50" stroke="#111" stroke-width="0.9"/>
<line x1="255.30" y1="101.50" x2="258.70" y2="101.50" stroke="#111" stroke-width="0.9"/>
<line x1="255.30" y1="108.50" x2="258.70" y2="108.50" stroke="#111" stroke-width="0.9"/>
<polygon points="257.00,101.06 258.94,103.00 257.00,104.94 255.06,103.00" fill="#eba136" stroke="#111" stroke-width="0.72" stroke-linejoin="round"/>
<polygon points="257.50,106.26 259.44,108.20 257.50,110.14 255.56,108.20" fill="#eba136" stroke="#111" stroke-width="0.72" stroke-linejoin="round"/>
<polygon points="255.60,109.06 257.54,111.00 255.60,112.94 253.66,111.00" fill="#eba136" stroke="#111" stroke-width="0.72" stroke-linejoin="round"/>
<circle cx="270.90" cy="91.70" r="1.85" fill="#b5143a" stroke="#111" stroke-width="0.72"/>
<circle cx="271.50" cy="95.30" r="1.85" fill="#b5143a" stroke="#111" stroke-width="0.72"/>
<circle cx="269.60" cy="98.80" r="1.85" fill="#b5143a" stroke="#111" stroke-width="0.72"/>
<circle cx="272.20" cy="99.20" r="1.85" fill="#b5143a" stroke="#111" stroke-width="0.72"/>
<line x1="279.40" y1="88.20" x2="279.40" y2="100.00" stroke="#111" stroke-width="0.9"/>
<line x1="277.70" y1="88.20" x2="281.10" y2="88.20" stroke="#111" stroke-width="0.9"/>
<line x1="277.70" y1="100.00" x2="281.10" y2="100.00" stroke="#111" stroke-width="0.9"/>
<polygon points="279.60,80.46 281.54,82.40 279.60,84.34 277.66,82.40" fill="#eba136" stroke="#111" stroke-width="0.72" stroke-linejoin="round"/>
<polygon points="279.60,97.16 281.54,99.10 279.60,101.04 277.66,99.10" fill="#eba136" stroke="#111" stroke-width="0.72" stroke-linejoin="round"/>
<polygon points="279.60,101.76 281.54,103.70 279.60,105.64 277.66,103.70" fill="#eba136" stroke="#111" stroke-width="0.72" stroke-linejoin="round"/>
<circle cx="292.20" cy="109.00" r="1.85" fill="#b5143a" stroke="#111" stroke-width="0.72"/>
<circle cx="294.20" cy="108.30" r="1.85" fill="#b5143a" stroke="#111" stroke-width="0.72"/>
<circle cx="296.00" cy="109.00" r="1.85" fill="#b5143a" stroke="#111" stroke-width="0.72"/>
<polygon points="302.20,104.86 304.14,106.80 302.20,108.74 300.26,106.80" fill="#eba136" stroke="#111" stroke-width="0.72" stroke-linejoin="round"/>
<polygon points="302.20,109.06 304.14,111.00 302.20,112.94 300.26,111.00" fill="#eba136" stroke="#111" stroke-width="0.72" stroke-linejoin="round"/>
<circle cx="314.50" cy="42.90" r="1.85" fill="#b5143a" stroke="#111" stroke-width="0.72"/>
<circle cx="317.40" cy="44.20" r="1.85" fill="#b5143a" stroke="#111" stroke-width="0.72"/>
<circle cx="315.80" cy="48.10" r="1.85" fill="#b5143a" stroke="#111" stroke-width="0.72"/>
<line x1="324.60" y1="42.30" x2="324.60" y2="48.00" stroke="#111" stroke-width="0.9"/>
<line x1="322.90" y1="42.30" x2="326.30" y2="42.30" stroke="#111" stroke-width="0.9"/>
<line x1="322.90" y1="48.00" x2="326.30" y2="48.00" stroke="#111" stroke-width="0.9"/>
<polygon points="324.60,37.46 326.54,39.40 324.60,41.34 322.66,39.40" fill="#eba136" stroke="#111" stroke-width="0.72" stroke-linejoin="round"/>
<polygon points="326.50,44.26 328.44,46.20 326.50,48.14 324.56,46.20" fill="#eba136" stroke="#111" stroke-width="0.72" stroke-linejoin="round"/>
<polygon points="323.70,47.16 325.64,49.10 323.70,51.04 321.76,49.10" fill="#eba136" stroke="#111" stroke-width="0.72" stroke-linejoin="round"/>
<line x1="243.00" y1="27.40" x2="243.00" y2="55.85" stroke="#000" stroke-width="1.1"/>
<line x1="243.00" y1="68.06" x2="243.00" y2="115.50" stroke="#000" stroke-width="1.1"/>
<line x1="242.50" y1="55.85" x2="246.00" y2="55.85" stroke="#000" stroke-width="1.1"/>
<line x1="242.50" y1="68.06" x2="246.00" y2="68.06" stroke="#000" stroke-width="1.1"/>
<line x1="242.50" y1="115.00" x2="331.00" y2="115.00" stroke="#000" stroke-width="1.1"/>
<line x1="239.80" y1="28.70" x2="243.00" y2="28.70" stroke="#000" stroke-width="1.0"/>
<text x="237.60" y="31.10" font-size="6.8" text-anchor="end" fill="#111">100</text>
<line x1="239.80" y1="42.70" x2="243.00" y2="42.70" stroke="#000" stroke-width="1.0"/>
<text x="237.60" y="45.10" font-size="6.8" text-anchor="end" fill="#111">90</text>
<line x1="239.80" y1="55.85" x2="243.00" y2="55.85" stroke="#000" stroke-width="1.0"/>
<text x="237.60" y="58.25" font-size="6.8" text-anchor="end" fill="#111">80</text>
<line x1="239.80" y1="68.06" x2="243.00" y2="68.06" stroke="#000" stroke-width="1.0"/>
<text x="237.60" y="70.46" font-size="6.8" text-anchor="end" fill="#111">15</text>
<line x1="239.80" y1="83.95" x2="243.00" y2="83.95" stroke="#000" stroke-width="1.0"/>
<text x="237.60" y="86.35" font-size="6.8" text-anchor="end" fill="#111">10</text>
<line x1="239.80" y1="99.45" x2="243.00" y2="99.45" stroke="#000" stroke-width="1.0"/>
<text x="237.60" y="101.85" font-size="6.8" text-anchor="end" fill="#111">5</text>
<line x1="239.80" y1="115.00" x2="243.00" y2="115.00" stroke="#000" stroke-width="1.0"/>
<text x="237.60" y="117.40" font-size="6.8" text-anchor="end" fill="#111">0</text>
<line x1="253.00" y1="115.00" x2="253.00" y2="117.00" stroke="#000" stroke-width="0.8"/>
<line x1="275.20" y1="115.00" x2="275.20" y2="117.00" stroke="#000" stroke-width="0.8"/>
<line x1="297.60" y1="115.00" x2="297.60" y2="117.00" stroke="#000" stroke-width="0.8"/>
<line x1="320.40" y1="115.00" x2="320.40" y2="117.00" stroke="#000" stroke-width="0.8"/>
<text x="253.00" y="127.60" font-size="7.6" text-anchor="middle" fill="#111">DN</text>
<text x="275.2" y="127.6" font-size="7.6" text-anchor="middle" fill="#111">CD4<tspan font-size="4.4" dy="-3">+</tspan></text>
<text x="297.6" y="127.6" font-size="7.6" text-anchor="middle" fill="#111">CD8<tspan font-size="4.4" dy="-3">+</tspan></text>
<text x="320.40" y="127.60" font-size="7.6" text-anchor="middle" fill="#111">DP</text>
<rect x="249.20" y="30.70" width="8.50" height="5.20" fill="#b5143a" stroke="none" stroke-width="1"/>
<rect x="249.20" y="42.90" width="8.50" height="5.20" fill="#e9a033" stroke="none" stroke-width="1"/>
<text x="260.80" y="35.60" font-size="6.3" text-anchor="start" fill="#222">Con</text>
<text x="260.80" y="47.80" font-size="6.3" text-anchor="start" fill="#222">DKO</text>
<text x="219.40" y="70.95" font-size="8.8" text-anchor="middle" fill="#111" transform="rotate(-90 219.40 70.95)" textLength="79.3" lengthAdjust="spacingAndGlyphs" stroke="#111" stroke-width="0.18">Thymocytes (%CD45.2<tspan font-size="5.2" dy="-3.2">+</tspan><tspan dy="3.2">)</tspan></text>
<text x="365.00" y="45.40" font-size="7.6" text-anchor="end" font-style="italic" fill="#111">WT</text>
<text x="365.00" y="66.40" font-size="7.6" text-anchor="end" font-style="italic" fill="#111">h1KO</text>
<text x="365.00" y="86.40" font-size="7.6" text-anchor="end" font-style="italic" fill="#111">h2KO</text>
<text x="365.00" y="106.20" font-size="7.6" text-anchor="end" font-style="italic" fill="#111">DKO</text>
<defs><filter id="tb" x="-20%" y="-20%" width="140%" height="140%"><feGaussianBlur stdDeviation="0.55"/></filter><radialGradient id="tg" cx="0.45" cy="0.45" r="0.6"><stop offset="0" stop-color="#6a2a2e"/><stop offset="0.7" stop-color="#7a3a3c"/><stop offset="1" stop-color="#8a4a4a"/></radialGradient></defs>
<path d="M371.4,40.7 C372.1,40.0 373.6,39.5 375.0,39.4 C376.4,39.2 378.3,40.1 379.7,39.8 C381.1,39.5 382.2,38.0 383.4,37.5 C384.6,37.0 386.1,36.8 387.0,37.0 C387.9,37.2 388.5,37.7 388.9,38.8 C389.3,39.9 389.5,42.1 389.4,43.5 C389.3,44.9 389.0,46.2 388.3,47.1 C387.6,48.0 386.5,48.5 385.2,49.0 C383.9,49.5 382.3,49.8 380.6,49.9 C378.9,50.0 376.5,49.9 375.0,49.4 C373.5,48.9 372.4,48.1 371.7,47.1 C371.0,46.1 370.9,44.6 370.8,43.5 C370.8,42.4 370.7,41.4 371.4,40.7Z" fill="#7e4143" filter="url(#tb)"/>
<path d="M374.1,61.9 C374.9,61.1 376.4,60.2 377.8,59.7 C379.2,59.2 381.1,59.0 382.4,59.1 C383.7,59.2 385.0,59.6 385.8,60.4 C386.6,61.2 387.0,62.6 387.0,63.7 C387.0,64.8 386.7,66.3 385.8,67.1 C384.9,67.9 383.0,68.0 381.5,68.4 C380.0,68.8 378.2,69.4 376.9,69.3 C375.6,69.2 374.5,68.6 373.8,67.8 C373.1,67.0 372.8,65.7 372.8,64.7 C372.9,63.7 373.3,62.7 374.1,61.9Z" fill="#7e4143" filter="url(#tb)"/>
<path d="M372.3,79.4 C373.0,78.3 374.8,77.8 376.0,77.6 C377.2,77.4 378.5,78.5 379.7,78.5 C380.9,78.5 382.2,77.4 383.4,77.6 C384.6,77.8 386.2,78.5 387.0,79.4 C387.8,80.3 388.1,81.7 388.0,83.1 C387.9,84.5 386.9,86.6 386.1,87.7 C385.3,88.8 384.5,89.3 383.4,89.9 C382.3,90.5 380.9,91.1 379.7,91.4 C378.5,91.7 377.1,92.2 376.0,91.8 C374.9,91.3 373.9,90.0 373.2,88.7 C372.5,87.4 371.8,85.5 371.7,84.0 C371.6,82.5 371.6,80.5 372.3,79.4Z" fill="#7e4143" filter="url(#tb)"/>
<path d="M375.0,100.6 C375.6,99.8 376.7,99.3 377.8,98.8 C378.9,98.3 380.4,97.5 381.5,97.5 C382.6,97.5 383.9,98.0 384.6,98.8 C385.3,99.6 385.9,100.9 385.8,102.1 C385.8,103.3 385.1,104.8 384.3,105.8 C383.5,106.8 382.2,107.6 381.0,108.0 C379.8,108.4 377.9,108.7 376.9,108.4 C375.8,108.1 375.2,107.0 374.7,106.2 C374.2,105.4 374.1,104.3 374.1,103.4 C374.2,102.5 374.4,101.4 375.0,100.6Z" fill="#7e4143" filter="url(#tb)"/>
<circle cx="378" cy="44" r="2.0" fill="#5a2026" opacity="0.3" filter="url(#tb)"/>
<circle cx="385" cy="42" r="1.8" fill="#5a2026" opacity="0.3" filter="url(#tb)"/>
<circle cx="374" cy="45" r="1.3" fill="#5a2026" opacity="0.3" filter="url(#tb)"/>
<circle cx="381" cy="64" r="1.6" fill="#5a2026" opacity="0.3" filter="url(#tb)"/>
<circle cx="376" cy="65" r="1.4" fill="#5a2026" opacity="0.3" filter="url(#tb)"/>
<circle cx="378" cy="84" r="2.2" fill="#5a2026" opacity="0.3" filter="url(#tb)"/>
<circle cx="384" cy="82" r="1.5" fill="#5a2026" opacity="0.3" filter="url(#tb)"/>
<circle cx="376" cy="81" r="1.4" fill="#5a2026" opacity="0.3" filter="url(#tb)"/>
<circle cx="380" cy="104" r="1.6" fill="#5a2026" opacity="0.3" filter="url(#tb)"/>
<circle cx="377" cy="105" r="1.2" fill="#5a2026" opacity="0.3" filter="url(#tb)"/>
<line x1="371.70" y1="115.50" x2="389.30" y2="115.50" stroke="#000" stroke-width="1.0"/>
<text x="380.80" y="125.50" font-size="6.8" text-anchor="middle" fill="#111">1 cm</text>
<path d="M48.6,79.6h0.55v0.55h-0.55z M54.8,71.1h0.55v0.55h-0.55z M48.3,75.4h0.55v0.55h-0.55z M53.3,86.4h0.55v0.55h-0.55z M48.6,63.7h0.55v0.55h-0.55z M54.0,80.5h0.55v0.55h-0.55z M56.3,85.3h0.55v0.55h-0.55z M51.7,73.4h0.55v0.55h-0.55z M59.2,73.3h0.55v0.55h-0.55z M49.8,65.2h0.55v0.55h-0.55z M52.3,77.4h0.55v0.55h-0.55z M51.0,75.4h0.55v0.55h-0.55z M52.8,82.6h0.55v0.55h-0.55z M55.1,78.0h0.55v0.55h-0.55z M47.0,82.7h0.55v0.55h-0.55z M48.0,74.4h0.55v0.55h-0.55z M47.9,76.0h0.55v0.55h-0.55z M49.8,78.0h0.55v0.55h-0.55z M61.2,75.5h0.55v0.55h-0.55z M54.4,63.4h0.55v0.55h-0.55z M51.2,82.3h0.55v0.55h-0.55z M51.7,79.5h0.55v0.55h-0.55z M52.3,66.4h0.55v0.55h-0.55z M53.6,68.3h0.55v0.55h-0.55z M57.2,71.2h0.55v0.55h-0.55z M53.9,76.0h0.55v0.55h-0.55z M54.7,70.3h0.55v0.55h-0.55z M54.8,74.8h0.55v0.55h-0.55z M55.5,81.9h0.55v0.55h-0.55z M52.4,68.6h0.55v0.55h-0.55z M54.1,80.4h0.55v0.55h-0.55z M56.6,72.4h0.55v0.55h-0.55z M53.6,80.8h0.55v0.55h-0.55z M52.8,78.0h0.55v0.55h-0.55z M52.5,70.3h0.55v0.55h-0.55z M49.2,72.2h0.55v0.55h-0.55z M53.7,90.4h0.55v0.55h-0.55z M54.7,86.0h0.55v0.55h-0.55z M54.2,82.6h0.55v0.55h-0.55z M52.5,83.3h0.55v0.55h-0.55z M57.0,72.9h0.55v0.55h-0.55z M50.1,94.6h0.55v0.55h-0.55z M52.7,85.2h0.55v0.55h-0.55z M54.4,65.2h0.55v0.55h-0.55z M58.8,92.9h0.55v0.55h-0.55z M52.5,83.1h0.55v0.55h-0.55z M52.4,67.6h0.55v0.55h-0.55z M51.7,79.6h0.55v0.55h-0.55z M55.1,82.7h0.55v0.55h-0.55z M52.2,88.9h0.55v0.55h-0.55z M49.9,83.5h0.55v0.55h-0.55z M55.1,73.2h0.55v0.55h-0.55z M47.0,67.4h0.55v0.55h-0.55z M52.7,81.0h0.55v0.55h-0.55z M56.3,66.5h0.55v0.55h-0.55z M52.0,82.2h0.55v0.55h-0.55z M51.6,53.5h0.55v0.55h-0.55z M54.3,98.0h0.55v0.55h-0.55z M54.8,67.3h0.55v0.55h-0.55z M50.8,78.1h0.55v0.55h-0.55z M59.0,81.9h0.55v0.55h-0.55z M52.3,90.8h0.55v0.55h-0.55z M51.8,93.7h0.55v0.55h-0.55z M50.1,71.5h0.55v0.55h-0.55z M54.0,89.5h0.55v0.55h-0.55z M53.8,78.9h0.55v0.55h-0.55z M46.9,69.2h0.55v0.55h-0.55z M50.3,70.9h0.55v0.55h-0.55z M53.6,72.8h0.55v0.55h-0.55z M54.2,76.8h0.55v0.55h-0.55z M51.1,77.1h0.55v0.55h-0.55z M53.2,84.2h0.55v0.55h-0.55z M50.7,73.8h0.55v0.55h-0.55z M48.2,91.2h0.55v0.55h-0.55z M56.1,74.3h0.55v0.55h-0.55z M50.7,64.3h0.55v0.55h-0.55z M52.5,78.0h0.55v0.55h-0.55z M58.1,78.3h0.55v0.55h-0.55z M49.8,52.8h0.55v0.55h-0.55z M55.9,77.8h0.55v0.55h-0.55z M47.5,77.7h0.55v0.55h-0.55z M55.1,81.4h0.55v0.55h-0.55z M51.5,55.7h0.55v0.55h-0.55z M51.6,61.2h0.55v0.55h-0.55z M53.7,55.7h0.55v0.55h-0.55z M49.5,87.6h0.55v0.55h-0.55z M56.6,64.8h0.55v0.55h-0.55z M47.7,84.4h0.55v0.55h-0.55z M54.4,66.6h0.55v0.55h-0.55z M50.1,69.4h0.55v0.55h-0.55z M48.7,69.5h0.55v0.55h-0.55z M55.5,82.6h0.55v0.55h-0.55z M57.8,75.2h0.55v0.55h-0.55z M51.6,66.7h0.55v0.55h-0.55z M51.7,63.5h0.55v0.55h-0.55z M47.0,82.6h0.55v0.55h-0.55z M56.0,84.0h0.55v0.55h-0.55z M55.7,78.4h0.55v0.55h-0.55z M50.0,76.8h0.55v0.55h-0.55z M51.0,65.4h0.55v0.55h-0.55z M47.3,61.9h0.55v0.55h-0.55z M52.0,77.4h0.55v0.55h-0.55z M50.7,89.6h0.55v0.55h-0.55z M52.5,81.5h0.55v0.55h-0.55z M55.4,68.2h0.55v0.55h-0.55z M46.5,83.1h0.55v0.55h-0.55z M50.1,88.5h0.55v0.55h-0.55z M52.9,85.6h0.55v0.55h-0.55z M54.1,56.2h0.55v0.55h-0.55z M54.0,69.6h0.55v0.55h-0.55z M49.9,71.9h0.55v0.55h-0.55z M54.2,84.4h0.55v0.55h-0.55z M54.8,60.2h0.55v0.55h-0.55z M50.3,53.4h0.55v0.55h-0.55z M51.7,81.7h0.55v0.55h-0.55z M49.9,78.3h0.55v0.55h-0.55z M52.6,85.6h0.55v0.55h-0.55z M49.7,68.1h0.55v0.55h-0.55z M49.9,92.6h0.55v0.55h-0.55z M55.1,74.8h0.55v0.55h-0.55z M52.6,77.1h0.55v0.55h-0.55z M52.6,74.0h0.55v0.55h-0.55z M51.1,64.1h0.55v0.55h-0.55z M50.2,91.7h0.55v0.55h-0.55z M53.5,76.6h0.55v0.55h-0.55z M51.4,76.6h0.55v0.55h-0.55z M53.0,69.9h0.55v0.55h-0.55z M52.5,78.3h0.55v0.55h-0.55z M49.9,68.5h0.55v0.55h-0.55z M49.2,65.9h0.55v0.55h-0.55z M54.5,53.6h0.55v0.55h-0.55z M51.3,70.2h0.55v0.55h-0.55z M50.3,76.9h0.55v0.55h-0.55z M55.2,76.7h0.55v0.55h-0.55z M51.6,70.2h0.55v0.55h-0.55z M51.6,84.7h0.55v0.55h-0.55z M50.9,65.1h0.55v0.55h-0.55z M48.5,65.5h0.55v0.55h-0.55z M48.1,86.4h0.55v0.55h-0.55z M53.0,73.7h0.55v0.55h-0.55z M56.1,69.8h0.55v0.55h-0.55z M54.1,83.6h0.55v0.55h-0.55z M47.7,61.2h0.55v0.55h-0.55z M49.4,84.6h0.55v0.55h-0.55z M55.6,64.3h0.55v0.55h-0.55z M54.9,72.4h0.55v0.55h-0.55z M50.9,70.8h0.55v0.55h-0.55z M51.1,58.7h0.55v0.55h-0.55z M49.2,64.3h0.55v0.55h-0.55z M53.4,95.8h0.55v0.55h-0.55z M59.6,72.8h0.55v0.55h-0.55z M47.2,72.1h0.55v0.55h-0.55z M49.4,94.8h0.55v0.55h-0.55z M53.6,69.1h0.55v0.55h-0.55z M54.6,81.1h0.55v0.55h-0.55z M47.4,71.0h0.55v0.55h-0.55z M51.3,76.2h0.55v0.55h-0.55z M52.4,72.8h0.55v0.55h-0.55z M52.5,70.4h0.55v0.55h-0.55z M49.5,90.4h0.55v0.55h-0.55z M53.0,80.2h0.55v0.55h-0.55z M47.5,74.4h0.55v0.55h-0.55z M54.3,63.7h0.55v0.55h-0.55z M55.1,72.3h0.55v0.55h-0.55z M53.1,74.7h0.55v0.55h-0.55z M52.6,87.4h0.55v0.55h-0.55z M50.9,90.9h0.55v0.55h-0.55z M49.8,67.1h0.55v0.55h-0.55z M54.0,65.9h0.55v0.55h-0.55z M51.0,84.6h0.55v0.55h-0.55z M55.4,59.1h0.55v0.55h-0.55z M53.4,93.9h0.55v0.55h-0.55z M55.3,73.7h0.55v0.55h-0.55z M50.3,73.2h0.55v0.55h-0.55z M48.8,73.5h0.55v0.55h-0.55z M51.5,74.6h0.55v0.55h-0.55z M55.3,73.8h0.55v0.55h-0.55z M47.9,86.0h0.55v0.55h-0.55z M49.0,71.8h0.55v0.55h-0.55z M51.6,72.7h0.55v0.55h-0.55z M49.2,73.6h0.55v0.55h-0.55z M58.1,70.2h0.55v0.55h-0.55z M51.6,86.7h0.55v0.55h-0.55z M54.1,83.3h0.55v0.55h-0.55z M54.4,57.3h0.55v0.55h-0.55z M49.6,77.2h0.55v0.55h-0.55z M53.4,88.3h0.55v0.55h-0.55z M53.3,73.7h0.55v0.55h-0.55z M52.1,74.0h0.55v0.55h-0.55z M52.7,82.4h0.55v0.55h-0.55z M51.0,68.3h0.55v0.55h-0.55z M49.6,86.4h0.55v0.55h-0.55z M55.6,85.4h0.55v0.55h-0.55z M54.4,83.9h0.55v0.55h-0.55z M52.0,82.3h0.55v0.55h-0.55z M49.1,74.1h0.55v0.55h-0.55z M49.9,82.9h0.55v0.55h-0.55z M50.4,75.0h0.55v0.55h-0.55z M53.1,88.9h0.55v0.55h-0.55z M49.8,67.1h0.55v0.55h-0.55z M54.3,65.5h0.55v0.55h-0.55z M53.3,70.6h0.55v0.55h-0.55z M51.7,58.7h0.55v0.55h-0.55z M54.0,71.2h0.55v0.55h-0.55z M49.5,95.7h0.55v0.55h-0.55z M53.1,72.7h0.55v0.55h-0.55z M52.3,91.3h0.55v0.55h-0.55z M51.9,80.3h0.55v0.55h-0.55z M53.4,67.4h0.55v0.55h-0.55z M52.4,71.2h0.55v0.55h-0.55z M48.5,84.3h0.55v0.55h-0.55z M53.9,76.7h0.55v0.55h-0.55z M49.5,56.9h0.55v0.55h-0.55z M53.4,75.1h0.55v0.55h-0.55z M47.3,75.4h0.55v0.55h-0.55z M47.7,75.7h0.55v0.55h-0.55z M52.4,79.4h0.55v0.55h-0.55z M52.6,77.6h0.55v0.55h-0.55z M48.8,72.4h0.55v0.55h-0.55z M50.6,73.8h0.55v0.55h-0.55z M52.8,81.9h0.55v0.55h-0.55z M56.6,51.6h0.55v0.55h-0.55z M53.1,74.1h0.55v0.55h-0.55z M58.4,84.9h0.55v0.55h-0.55z M47.4,79.8h0.55v0.55h-0.55z M50.5,85.4h0.55v0.55h-0.55z M49.0,75.0h0.55v0.55h-0.55z M51.6,75.1h0.55v0.55h-0.55z M50.4,58.5h0.55v0.55h-0.55z M53.3,85.5h0.55v0.55h-0.55z M51.8,66.3h0.55v0.55h-0.55z M52.6,81.4h0.55v0.55h-0.55z M51.5,75.9h0.55v0.55h-0.55z M55.9,65.4h0.55v0.55h-0.55z M50.4,57.9h0.55v0.55h-0.55z M50.0,69.0h0.55v0.55h-0.55z M49.3,69.4h0.55v0.55h-0.55z M57.0,74.1h0.55v0.55h-0.55z M51.7,96.9h0.55v0.55h-0.55z M51.8,59.5h0.55v0.55h-0.55z M53.1,67.1h0.55v0.55h-0.55z M56.6,64.2h0.55v0.55h-0.55z M50.4,60.7h0.55v0.55h-0.55z M52.3,66.4h0.55v0.55h-0.55z M51.8,72.4h0.55v0.55h-0.55z M50.3,85.0h0.55v0.55h-0.55z M54.6,76.6h0.55v0.55h-0.55z M49.5,65.8h0.55v0.55h-0.55z M52.8,98.7h0.55v0.55h-0.55z M50.7,68.5h0.55v0.55h-0.55z M50.0,65.6h0.55v0.55h-0.55z M49.3,74.1h0.55v0.55h-0.55z M56.0,76.0h0.55v0.55h-0.55z M50.6,60.7h0.55v0.55h-0.55z M52.6,75.7h0.55v0.55h-0.55z M48.6,65.7h0.55v0.55h-0.55z M51.9,85.6h0.55v0.55h-0.55z M53.8,78.0h0.55v0.55h-0.55z M51.1,79.0h0.55v0.55h-0.55z M52.0,96.6h0.55v0.55h-0.55z M48.8,72.5h0.55v0.55h-0.55z M55.6,73.5h0.55v0.55h-0.55z M56.0,75.6h0.55v0.55h-0.55z M52.4,72.5h0.55v0.55h-0.55z M48.1,66.8h0.55v0.55h-0.55z M58.2,82.1h0.55v0.55h-0.55z M53.7,85.1h0.55v0.55h-0.55z M53.6,85.7h0.55v0.55h-0.55z M51.3,73.9h0.55v0.55h-0.55z M54.8,72.7h0.55v0.55h-0.55z M48.3,73.9h0.55v0.55h-0.55z M50.5,81.8h0.55v0.55h-0.55z M50.0,65.9h0.55v0.55h-0.55z M51.1,90.8h0.55v0.55h-0.55z M51.9,77.5h0.55v0.55h-0.55z M52.0,78.8h0.55v0.55h-0.55z M54.6,89.3h0.55v0.55h-0.55z M47.4,88.9h0.55v0.55h-0.55z M52.0,73.0h0.55v0.55h-0.55z M58.7,74.4h0.55v0.55h-0.55z M57.4,85.2h0.55v0.55h-0.55z M49.1,80.6h0.55v0.55h-0.55z M54.1,74.8h0.55v0.55h-0.55z M45.5,72.7h0.55v0.55h-0.55z M51.5,65.5h0.55v0.55h-0.55z M57.1,73.7h0.55v0.55h-0.55z M50.9,73.2h0.55v0.55h-0.55z M49.8,68.6h0.55v0.55h-0.55z M52.3,79.0h0.55v0.55h-0.55z M50.6,75.1h0.55v0.55h-0.55z M48.1,81.0h0.55v0.55h-0.55z M49.9,78.0h0.55v0.55h-0.55z M49.5,71.1h0.55v0.55h-0.55z M52.6,64.5h0.55v0.55h-0.55z M58.9,75.7h0.55v0.55h-0.55z M51.8,69.0h0.55v0.55h-0.55z M56.5,89.2h0.55v0.55h-0.55z M52.8,63.0h0.55v0.55h-0.55z" fill="#444" opacity="0.75"/>
<path d="M50.7,90.2h0.55v0.55h-0.55z M50.7,83.9h0.55v0.55h-0.55z M49.6,85.3h0.55v0.55h-0.55z M51.5,85.7h0.55v0.55h-0.55z M51.5,97.8h0.55v0.55h-0.55z M54.3,84.4h0.55v0.55h-0.55z M52.0,88.3h0.55v0.55h-0.55z M51.3,91.7h0.55v0.55h-0.55z M51.0,86.9h0.55v0.55h-0.55z M50.9,87.6h0.55v0.55h-0.55z M53.6,90.7h0.55v0.55h-0.55z M49.4,86.5h0.55v0.55h-0.55z M50.2,90.9h0.55v0.55h-0.55z M51.9,91.1h0.55v0.55h-0.55z M51.4,81.3h0.55v0.55h-0.55z M52.2,88.8h0.55v0.55h-0.55z M52.3,83.4h0.55v0.55h-0.55z M51.6,85.6h0.55v0.55h-0.55z M50.4,89.2h0.55v0.55h-0.55z M52.1,84.9h0.55v0.55h-0.55z M48.8,79.3h0.55v0.55h-0.55z M50.6,91.9h0.55v0.55h-0.55z M51.4,80.1h0.55v0.55h-0.55z M50.1,89.5h0.55v0.55h-0.55z M54.2,92.1h0.55v0.55h-0.55z M52.1,88.7h0.55v0.55h-0.55z M49.8,86.4h0.55v0.55h-0.55z M51.0,85.3h0.55v0.55h-0.55z M51.6,86.6h0.55v0.55h-0.55z M52.0,93.0h0.55v0.55h-0.55z M52.7,89.5h0.55v0.55h-0.55z M51.1,82.7h0.55v0.55h-0.55z M51.3,89.9h0.55v0.55h-0.55z M49.9,92.4h0.55v0.55h-0.55z M51.0,89.3h0.55v0.55h-0.55z M51.0,83.6h0.55v0.55h-0.55z M54.8,83.9h0.55v0.55h-0.55z M53.0,86.1h0.55v0.55h-0.55z M51.9,85.2h0.55v0.55h-0.55z M50.8,91.2h0.55v0.55h-0.55z M54.6,85.0h0.55v0.55h-0.55z M51.5,91.3h0.55v0.55h-0.55z M50.5,90.5h0.55v0.55h-0.55z M50.2,90.1h0.55v0.55h-0.55z M52.2,92.2h0.55v0.55h-0.55z M52.1,83.8h0.55v0.55h-0.55z M52.6,84.1h0.55v0.55h-0.55z M52.7,93.3h0.55v0.55h-0.55z M52.5,86.1h0.55v0.55h-0.55z M53.4,88.6h0.55v0.55h-0.55z M49.5,86.8h0.55v0.55h-0.55z M53.8,86.9h0.55v0.55h-0.55z M51.7,86.8h0.55v0.55h-0.55z M48.8,86.2h0.55v0.55h-0.55z M52.1,88.7h0.55v0.55h-0.55z M51.2,80.5h0.55v0.55h-0.55z M53.5,90.5h0.55v0.55h-0.55z M53.1,92.6h0.55v0.55h-0.55z M50.8,85.9h0.55v0.55h-0.55z M52.0,93.9h0.55v0.55h-0.55z M48.8,87.2h0.55v0.55h-0.55z M50.4,90.0h0.55v0.55h-0.55z M53.8,87.0h0.55v0.55h-0.55z M49.5,88.2h0.55v0.55h-0.55z M51.0,82.6h0.55v0.55h-0.55z M52.9,86.2h0.55v0.55h-0.55z M52.6,83.4h0.55v0.55h-0.55z M53.3,83.0h0.55v0.55h-0.55z M53.2,81.7h0.55v0.55h-0.55z M53.7,86.7h0.55v0.55h-0.55z M49.0,87.2h0.55v0.55h-0.55z M52.0,84.5h0.55v0.55h-0.55z M50.7,88.9h0.55v0.55h-0.55z M51.2,77.3h0.55v0.55h-0.55z M50.8,89.5h0.55v0.55h-0.55z M52.0,91.5h0.55v0.55h-0.55z M50.4,96.9h0.55v0.55h-0.55z M52.8,89.1h0.55v0.55h-0.55z M53.2,91.3h0.55v0.55h-0.55z M51.7,85.8h0.55v0.55h-0.55z M53.1,89.5h0.55v0.55h-0.55z M48.5,84.1h0.55v0.55h-0.55z M52.2,88.4h0.55v0.55h-0.55z M51.9,90.2h0.55v0.55h-0.55z M51.7,93.5h0.55v0.55h-0.55z M50.6,86.6h0.55v0.55h-0.55z M52.0,90.6h0.55v0.55h-0.55z M52.8,93.2h0.55v0.55h-0.55z M50.7,92.1h0.55v0.55h-0.55z M52.2,84.4h0.55v0.55h-0.55z M51.3,95.3h0.55v0.55h-0.55z M52.8,86.4h0.55v0.55h-0.55z M47.7,85.4h0.55v0.55h-0.55z M50.4,88.3h0.55v0.55h-0.55z M55.2,90.6h0.55v0.55h-0.55z M52.0,84.7h0.55v0.55h-0.55z M49.6,87.3h0.55v0.55h-0.55z M50.8,98.5h0.55v0.55h-0.55z M50.9,85.8h0.55v0.55h-0.55z M53.3,88.3h0.55v0.55h-0.55z M49.5,92.5h0.55v0.55h-0.55z M51.0,83.3h0.55v0.55h-0.55z M52.0,89.7h0.55v0.55h-0.55z M51.0,90.4h0.55v0.55h-0.55z M52.8,84.9h0.55v0.55h-0.55z M48.2,79.6h0.55v0.55h-0.55z M51.3,92.3h0.55v0.55h-0.55z M53.1,92.9h0.55v0.55h-0.55z M54.5,88.1h0.55v0.55h-0.55z M53.2,82.6h0.55v0.55h-0.55z M52.6,89.4h0.55v0.55h-0.55z M51.3,86.5h0.55v0.55h-0.55z M49.7,88.5h0.55v0.55h-0.55z M53.5,86.7h0.55v0.55h-0.55z M52.3,85.7h0.55v0.55h-0.55z M51.9,84.5h0.55v0.55h-0.55z M52.1,87.2h0.55v0.55h-0.55z M52.0,85.9h0.55v0.55h-0.55z M49.6,86.8h0.55v0.55h-0.55z M53.2,93.5h0.55v0.55h-0.55z M51.0,90.8h0.55v0.55h-0.55z M52.7,89.4h0.55v0.55h-0.55z M49.0,89.1h0.55v0.55h-0.55z M49.9,92.1h0.55v0.55h-0.55z M52.8,90.2h0.55v0.55h-0.55z M47.4,90.2h0.55v0.55h-0.55z M52.6,83.5h0.55v0.55h-0.55z M53.1,88.3h0.55v0.55h-0.55z M51.2,85.5h0.55v0.55h-0.55z M49.9,86.5h0.55v0.55h-0.55z M56.4,88.7h0.55v0.55h-0.55z M51.8,85.7h0.55v0.55h-0.55z M50.5,86.1h0.55v0.55h-0.55z M50.1,91.1h0.55v0.55h-0.55z M51.1,91.0h0.55v0.55h-0.55z M49.7,91.3h0.55v0.55h-0.55z M51.5,90.3h0.55v0.55h-0.55z M51.3,84.9h0.55v0.55h-0.55z M53.4,86.5h0.55v0.55h-0.55z M51.3,84.9h0.55v0.55h-0.55z" fill="#333" opacity="0.75"/>
<path d="M59.9,64.4h0.55v0.55h-0.55z M60.3,67.4h0.55v0.55h-0.55z M55.9,60.4h0.55v0.55h-0.55z M60.9,69.7h0.55v0.55h-0.55z M62.1,61.4h0.55v0.55h-0.55z M61.7,67.5h0.55v0.55h-0.55z M60.3,67.7h0.55v0.55h-0.55z M57.5,66.9h0.55v0.55h-0.55z M63.2,64.0h0.55v0.55h-0.55z M52.5,65.6h0.55v0.55h-0.55z M59.9,58.6h0.55v0.55h-0.55z M56.0,68.4h0.55v0.55h-0.55z M58.3,66.4h0.55v0.55h-0.55z M53.3,69.6h0.55v0.55h-0.55z M66.9,65.2h0.55v0.55h-0.55z M55.7,61.4h0.55v0.55h-0.55z M63.0,66.4h0.55v0.55h-0.55z M55.4,70.9h0.55v0.55h-0.55z M62.4,68.4h0.55v0.55h-0.55z M51.1,65.6h0.55v0.55h-0.55z M61.8,61.1h0.55v0.55h-0.55z M63.2,71.7h0.55v0.55h-0.55z M63.7,63.1h0.55v0.55h-0.55z M55.8,69.8h0.55v0.55h-0.55z M63.5,70.9h0.55v0.55h-0.55z M64.4,65.6h0.55v0.55h-0.55z M57.2,58.6h0.55v0.55h-0.55z M62.5,75.1h0.55v0.55h-0.55z M56.9,64.1h0.55v0.55h-0.55z M61.9,67.5h0.55v0.55h-0.55z M52.8,63.1h0.55v0.55h-0.55z M54.1,74.1h0.55v0.55h-0.55z M55.8,69.4h0.55v0.55h-0.55z M67.6,73.6h0.55v0.55h-0.55z M65.4,72.5h0.55v0.55h-0.55z M53.4,64.6h0.55v0.55h-0.55z M55.7,64.8h0.55v0.55h-0.55z M70.8,59.3h0.55v0.55h-0.55z M61.5,61.1h0.55v0.55h-0.55z M65.0,71.2h0.55v0.55h-0.55z M56.7,74.3h0.55v0.55h-0.55z M59.3,71.2h0.55v0.55h-0.55z M60.4,63.8h0.55v0.55h-0.55z M57.3,65.5h0.55v0.55h-0.55z M61.8,66.5h0.55v0.55h-0.55z M69.6,65.2h0.55v0.55h-0.55z M56.9,63.1h0.55v0.55h-0.55z M55.5,60.2h0.55v0.55h-0.55z M54.6,69.6h0.55v0.55h-0.55z M59.3,65.3h0.55v0.55h-0.55z M60.6,70.3h0.55v0.55h-0.55z M61.8,69.1h0.55v0.55h-0.55z M56.5,65.0h0.55v0.55h-0.55z M55.5,65.6h0.55v0.55h-0.55z M55.3,64.5h0.55v0.55h-0.55z M58.2,65.1h0.55v0.55h-0.55z M57.8,64.0h0.55v0.55h-0.55z M64.9,64.6h0.55v0.55h-0.55z M54.4,66.8h0.55v0.55h-0.55z M54.1,61.7h0.55v0.55h-0.55z M59.4,59.3h0.55v0.55h-0.55z M44.5,67.2h0.55v0.55h-0.55z M63.7,59.3h0.55v0.55h-0.55z M55.0,68.3h0.55v0.55h-0.55z M50.1,62.5h0.55v0.55h-0.55z M53.6,65.2h0.55v0.55h-0.55z M50.1,69.6h0.55v0.55h-0.55z M58.4,67.2h0.55v0.55h-0.55z M57.5,57.5h0.55v0.55h-0.55z M58.3,60.6h0.55v0.55h-0.55z M59.0,62.6h0.55v0.55h-0.55z M57.6,65.2h0.55v0.55h-0.55z M62.5,69.1h0.55v0.55h-0.55z M54.5,65.9h0.55v0.55h-0.55z M65.6,68.0h0.55v0.55h-0.55z M55.7,65.5h0.55v0.55h-0.55z M57.4,69.8h0.55v0.55h-0.55z M59.2,67.5h0.55v0.55h-0.55z M69.0,60.5h0.55v0.55h-0.55z M54.4,59.1h0.55v0.55h-0.55z M51.8,69.4h0.55v0.55h-0.55z M60.3,72.5h0.55v0.55h-0.55z M50.1,62.5h0.55v0.55h-0.55z M65.5,70.1h0.55v0.55h-0.55z M63.0,69.5h0.55v0.55h-0.55z M59.1,66.0h0.55v0.55h-0.55z M59.1,69.4h0.55v0.55h-0.55z M58.3,67.3h0.55v0.55h-0.55z M65.5,61.5h0.55v0.55h-0.55z M55.6,68.3h0.55v0.55h-0.55z M57.8,65.4h0.55v0.55h-0.55z M68.4,67.7h0.55v0.55h-0.55z M57.1,70.4h0.55v0.55h-0.55z M70.3,61.6h0.55v0.55h-0.55z M56.0,66.5h0.55v0.55h-0.55z M56.1,74.7h0.55v0.55h-0.55z M61.4,64.4h0.55v0.55h-0.55z M61.2,62.8h0.55v0.55h-0.55z M56.3,66.4h0.55v0.55h-0.55z M69.7,57.0h0.55v0.55h-0.55z M60.9,71.4h0.55v0.55h-0.55z M62.3,73.7h0.55v0.55h-0.55z M61.0,66.6h0.55v0.55h-0.55z M58.4,62.6h0.55v0.55h-0.55z M66.4,61.3h0.55v0.55h-0.55z M58.4,63.9h0.55v0.55h-0.55z M55.5,57.1h0.55v0.55h-0.55z M57.3,66.5h0.55v0.55h-0.55z M59.6,69.4h0.55v0.55h-0.55z M58.3,63.4h0.55v0.55h-0.55z M60.4,68.7h0.55v0.55h-0.55z M54.9,59.9h0.55v0.55h-0.55z M54.4,70.2h0.55v0.55h-0.55z M63.5,62.5h0.55v0.55h-0.55z M59.5,69.4h0.55v0.55h-0.55z M65.0,63.4h0.55v0.55h-0.55z M57.9,71.6h0.55v0.55h-0.55z M69.8,72.1h0.55v0.55h-0.55z M53.9,67.8h0.55v0.55h-0.55z M57.7,65.8h0.55v0.55h-0.55z M56.0,64.1h0.55v0.55h-0.55z M59.0,73.2h0.55v0.55h-0.55z M62.1,67.7h0.55v0.55h-0.55z M59.1,63.0h0.55v0.55h-0.55z M58.0,71.0h0.55v0.55h-0.55z M62.7,73.9h0.55v0.55h-0.55z M60.2,65.9h0.55v0.55h-0.55z M51.7,67.6h0.55v0.55h-0.55z M51.2,72.1h0.55v0.55h-0.55z M56.2,66.0h0.55v0.55h-0.55z M52.9,64.0h0.55v0.55h-0.55z M54.8,70.5h0.55v0.55h-0.55z M60.1,61.3h0.55v0.55h-0.55z M50.3,65.7h0.55v0.55h-0.55z M56.8,61.6h0.55v0.55h-0.55z M61.7,65.3h0.55v0.55h-0.55z M59.5,63.6h0.55v0.55h-0.55z M56.4,64.2h0.55v0.55h-0.55z M51.8,68.5h0.55v0.55h-0.55z M60.8,59.1h0.55v0.55h-0.55z" fill="#555" opacity="0.75"/>
<path d="M77.0,76.6h0.55v0.55h-0.55z M77.6,77.2h0.55v0.55h-0.55z M75.3,72.0h0.55v0.55h-0.55z M70.7,68.4h0.55v0.55h-0.55z M68.3,68.4h0.55v0.55h-0.55z M77.6,74.1h0.55v0.55h-0.55z M81.7,72.5h0.55v0.55h-0.55z M72.0,73.7h0.55v0.55h-0.55z M75.8,79.1h0.55v0.55h-0.55z M85.3,75.8h0.55v0.55h-0.55z M71.4,69.9h0.55v0.55h-0.55z M77.4,69.2h0.55v0.55h-0.55z M78.9,74.7h0.55v0.55h-0.55z M80.3,72.9h0.55v0.55h-0.55z M72.5,68.6h0.55v0.55h-0.55z M75.9,77.3h0.55v0.55h-0.55z M83.6,75.9h0.55v0.55h-0.55z M78.1,74.7h0.55v0.55h-0.55z M80.2,77.2h0.55v0.55h-0.55z M80.4,65.9h0.55v0.55h-0.55z M80.8,73.5h0.55v0.55h-0.55z M74.4,74.1h0.55v0.55h-0.55z M77.8,71.8h0.55v0.55h-0.55z M68.9,72.4h0.55v0.55h-0.55z M79.0,71.8h0.55v0.55h-0.55z M69.4,73.8h0.55v0.55h-0.55z M79.7,72.7h0.55v0.55h-0.55z M78.4,70.6h0.55v0.55h-0.55z M73.5,74.1h0.55v0.55h-0.55z M74.9,72.7h0.55v0.55h-0.55z M91.1,74.8h0.55v0.55h-0.55z M77.1,65.5h0.55v0.55h-0.55z M76.9,75.0h0.55v0.55h-0.55z M73.3,71.0h0.55v0.55h-0.55z M66.4,74.2h0.55v0.55h-0.55z M73.8,74.7h0.55v0.55h-0.55z M82.6,71.4h0.55v0.55h-0.55z M80.9,73.0h0.55v0.55h-0.55z M75.6,70.9h0.55v0.55h-0.55z M72.7,77.1h0.55v0.55h-0.55z M80.5,68.0h0.55v0.55h-0.55z M80.3,69.1h0.55v0.55h-0.55z M69.7,76.8h0.55v0.55h-0.55z M70.7,76.7h0.55v0.55h-0.55z M77.4,75.6h0.55v0.55h-0.55z M78.8,76.6h0.55v0.55h-0.55z M78.1,74.3h0.55v0.55h-0.55z M77.6,76.4h0.55v0.55h-0.55z M74.7,76.1h0.55v0.55h-0.55z M83.3,71.7h0.55v0.55h-0.55z M78.5,69.9h0.55v0.55h-0.55z M75.2,73.0h0.55v0.55h-0.55z M75.0,68.5h0.55v0.55h-0.55z M76.4,72.8h0.55v0.55h-0.55z M78.0,74.8h0.55v0.55h-0.55z M68.5,77.7h0.55v0.55h-0.55z M75.7,68.9h0.55v0.55h-0.55z M74.8,73.8h0.55v0.55h-0.55z M80.4,70.5h0.55v0.55h-0.55z M77.2,65.6h0.55v0.55h-0.55z M77.3,71.6h0.55v0.55h-0.55z M74.6,75.5h0.55v0.55h-0.55z M84.6,76.1h0.55v0.55h-0.55z M73.0,78.1h0.55v0.55h-0.55z M75.0,71.8h0.55v0.55h-0.55z M73.9,73.8h0.55v0.55h-0.55z M79.0,72.6h0.55v0.55h-0.55z M75.6,71.4h0.55v0.55h-0.55z M74.7,75.9h0.55v0.55h-0.55z M74.2,71.4h0.55v0.55h-0.55z M75.6,69.0h0.55v0.55h-0.55z M75.5,66.1h0.55v0.55h-0.55z M78.3,74.2h0.55v0.55h-0.55z M75.2,78.2h0.55v0.55h-0.55z M72.8,74.2h0.55v0.55h-0.55z M78.6,69.9h0.55v0.55h-0.55z M75.4,75.6h0.55v0.55h-0.55z M76.8,73.1h0.55v0.55h-0.55z M82.8,72.9h0.55v0.55h-0.55z M69.0,69.1h0.55v0.55h-0.55z M80.2,71.5h0.55v0.55h-0.55z M71.7,64.1h0.55v0.55h-0.55z M77.9,78.0h0.55v0.55h-0.55z M70.9,63.4h0.55v0.55h-0.55z M78.7,69.8h0.55v0.55h-0.55z M75.2,70.7h0.55v0.55h-0.55z M72.5,73.8h0.55v0.55h-0.55z M80.6,73.5h0.55v0.55h-0.55z M74.0,76.1h0.55v0.55h-0.55z M76.0,74.3h0.55v0.55h-0.55z M72.3,74.6h0.55v0.55h-0.55z M79.8,77.1h0.55v0.55h-0.55z M76.6,73.8h0.55v0.55h-0.55z M73.9,75.5h0.55v0.55h-0.55z M80.0,76.3h0.55v0.55h-0.55z M74.8,67.2h0.55v0.55h-0.55z M76.2,71.2h0.55v0.55h-0.55z M73.2,74.4h0.55v0.55h-0.55z M80.7,73.6h0.55v0.55h-0.55z M81.5,73.6h0.55v0.55h-0.55z M72.2,69.7h0.55v0.55h-0.55z M74.9,74.7h0.55v0.55h-0.55z M80.6,72.5h0.55v0.55h-0.55z M81.0,68.8h0.55v0.55h-0.55z M76.0,77.9h0.55v0.55h-0.55z M78.5,76.1h0.55v0.55h-0.55z M68.1,65.4h0.55v0.55h-0.55z M72.7,76.0h0.55v0.55h-0.55z M83.7,69.6h0.55v0.55h-0.55z M72.1,68.0h0.55v0.55h-0.55z M72.5,74.2h0.55v0.55h-0.55z M75.1,79.4h0.55v0.55h-0.55z M79.7,69.3h0.55v0.55h-0.55z M77.6,71.4h0.55v0.55h-0.55z M80.0,75.6h0.55v0.55h-0.55z M75.0,75.5h0.55v0.55h-0.55z M79.0,71.7h0.55v0.55h-0.55z M77.6,74.7h0.55v0.55h-0.55z M75.1,69.4h0.55v0.55h-0.55z M82.1,72.0h0.55v0.55h-0.55z M73.9,73.8h0.55v0.55h-0.55z M70.0,72.2h0.55v0.55h-0.55z M70.5,70.3h0.55v0.55h-0.55z M68.6,69.2h0.55v0.55h-0.55z M80.5,71.3h0.55v0.55h-0.55z M71.1,78.8h0.55v0.55h-0.55z M73.7,77.8h0.55v0.55h-0.55z M74.2,66.3h0.55v0.55h-0.55z M84.7,70.3h0.55v0.55h-0.55z M79.9,76.7h0.55v0.55h-0.55z M70.7,72.3h0.55v0.55h-0.55z M74.0,74.4h0.55v0.55h-0.55z M76.5,67.1h0.55v0.55h-0.55z M76.8,75.0h0.55v0.55h-0.55z M75.2,74.2h0.55v0.55h-0.55z M74.2,71.8h0.55v0.55h-0.55z M78.1,72.6h0.55v0.55h-0.55z M82.1,75.7h0.55v0.55h-0.55z M80.2,74.9h0.55v0.55h-0.55z M77.2,67.5h0.55v0.55h-0.55z M81.2,78.8h0.55v0.55h-0.55z M77.5,71.0h0.55v0.55h-0.55z M76.4,76.8h0.55v0.55h-0.55z M77.8,68.2h0.55v0.55h-0.55z M75.8,69.0h0.55v0.55h-0.55z M75.6,68.5h0.55v0.55h-0.55z M72.7,77.8h0.55v0.55h-0.55z M81.1,65.7h0.55v0.55h-0.55z M72.2,70.3h0.55v0.55h-0.55z M74.8,66.6h0.55v0.55h-0.55z M80.4,65.7h0.55v0.55h-0.55z M79.6,74.8h0.55v0.55h-0.55z M74.9,69.5h0.55v0.55h-0.55z M76.8,72.6h0.55v0.55h-0.55z M67.3,67.1h0.55v0.55h-0.55z M78.9,71.6h0.55v0.55h-0.55z M74.7,68.1h0.55v0.55h-0.55z M73.4,69.0h0.55v0.55h-0.55z M88.8,67.1h0.55v0.55h-0.55z M83.3,73.9h0.55v0.55h-0.55z M77.5,72.8h0.55v0.55h-0.55z M74.9,78.3h0.55v0.55h-0.55z M78.8,71.9h0.55v0.55h-0.55z M76.0,72.8h0.55v0.55h-0.55z M71.5,70.8h0.55v0.55h-0.55z M73.8,74.5h0.55v0.55h-0.55z M79.2,64.7h0.55v0.55h-0.55z M75.6,75.9h0.55v0.55h-0.55z M70.8,67.4h0.55v0.55h-0.55z M80.9,71.5h0.55v0.55h-0.55z" fill="#555" opacity="0.75"/>
<path d="M75.6,77.2h0.55v0.55h-0.55z M79.0,82.0h0.55v0.55h-0.55z M79.2,89.2h0.55v0.55h-0.55z M81.8,83.7h0.55v0.55h-0.55z M75.2,86.3h0.55v0.55h-0.55z M77.5,87.3h0.55v0.55h-0.55z M75.2,84.3h0.55v0.55h-0.55z M74.9,81.7h0.55v0.55h-0.55z M78.9,94.5h0.55v0.55h-0.55z M75.2,90.3h0.55v0.55h-0.55z M79.9,86.9h0.55v0.55h-0.55z M81.7,82.0h0.55v0.55h-0.55z M81.1,88.3h0.55v0.55h-0.55z M59.3,88.7h0.55v0.55h-0.55z M81.3,100.4h0.55v0.55h-0.55z M72.3,86.8h0.55v0.55h-0.55z M79.9,78.9h0.55v0.55h-0.55z M84.5,89.4h0.55v0.55h-0.55z M73.8,77.3h0.55v0.55h-0.55z M75.8,103.5h0.55v0.55h-0.55z M89.7,67.9h0.55v0.55h-0.55z M68.2,91.0h0.55v0.55h-0.55z M77.5,81.4h0.55v0.55h-0.55z M81.3,86.8h0.55v0.55h-0.55z M79.6,88.0h0.55v0.55h-0.55z M72.2,95.7h0.55v0.55h-0.55z M75.6,94.4h0.55v0.55h-0.55z M81.8,86.3h0.55v0.55h-0.55z M78.8,85.7h0.55v0.55h-0.55z M68.1,83.7h0.55v0.55h-0.55z M80.4,74.2h0.55v0.55h-0.55z M70.0,94.0h0.55v0.55h-0.55z M82.4,74.7h0.55v0.55h-0.55z M80.5,85.7h0.55v0.55h-0.55z M83.3,83.7h0.55v0.55h-0.55z M76.8,80.5h0.55v0.55h-0.55z M79.0,85.1h0.55v0.55h-0.55z M74.5,83.5h0.55v0.55h-0.55z M74.0,90.6h0.55v0.55h-0.55z M72.5,74.6h0.55v0.55h-0.55z M72.8,94.0h0.55v0.55h-0.55z M75.3,90.8h0.55v0.55h-0.55z M82.0,82.3h0.55v0.55h-0.55z M82.1,89.8h0.55v0.55h-0.55z M77.8,80.8h0.55v0.55h-0.55z M77.7,76.6h0.55v0.55h-0.55z M76.5,81.8h0.55v0.55h-0.55z M80.4,88.6h0.55v0.55h-0.55z M74.6,92.4h0.55v0.55h-0.55z M84.5,86.5h0.55v0.55h-0.55z M74.0,89.8h0.55v0.55h-0.55z M64.8,81.7h0.55v0.55h-0.55z M81.2,100.8h0.55v0.55h-0.55z M74.0,97.3h0.55v0.55h-0.55z M90.7,100.0h0.55v0.55h-0.55z M65.2,94.2h0.55v0.55h-0.55z M79.1,93.5h0.55v0.55h-0.55z M77.1,81.5h0.55v0.55h-0.55z M76.8,97.2h0.55v0.55h-0.55z M82.6,83.9h0.55v0.55h-0.55z M80.1,92.4h0.55v0.55h-0.55z M81.1,85.7h0.55v0.55h-0.55z M74.4,80.5h0.55v0.55h-0.55z M75.7,81.9h0.55v0.55h-0.55z M69.4,75.5h0.55v0.55h-0.55z M82.8,77.7h0.55v0.55h-0.55z M70.9,85.7h0.55v0.55h-0.55z M85.9,95.4h0.55v0.55h-0.55z M75.8,78.3h0.55v0.55h-0.55z M75.1,79.3h0.55v0.55h-0.55z M75.0,89.6h0.55v0.55h-0.55z M72.2,80.2h0.55v0.55h-0.55z M76.6,85.8h0.55v0.55h-0.55z M73.8,80.1h0.55v0.55h-0.55z M71.8,80.4h0.55v0.55h-0.55z M80.9,84.2h0.55v0.55h-0.55z M61.0,90.6h0.55v0.55h-0.55z M77.6,79.5h0.55v0.55h-0.55z M76.6,63.5h0.55v0.55h-0.55z M69.0,94.7h0.55v0.55h-0.55z M89.7,102.3h0.55v0.55h-0.55z M74.0,86.3h0.55v0.55h-0.55z M82.3,76.8h0.55v0.55h-0.55z M87.6,80.6h0.55v0.55h-0.55z M79.9,77.4h0.55v0.55h-0.55z M80.0,85.9h0.55v0.55h-0.55z M83.9,77.4h0.55v0.55h-0.55z M78.0,99.6h0.55v0.55h-0.55z M71.5,88.6h0.55v0.55h-0.55z M80.4,82.3h0.55v0.55h-0.55z M76.5,96.6h0.55v0.55h-0.55z M84.3,90.3h0.55v0.55h-0.55z M79.5,77.5h0.55v0.55h-0.55z M78.5,99.4h0.55v0.55h-0.55z M83.8,75.8h0.55v0.55h-0.55z M66.6,81.0h0.55v0.55h-0.55z M78.9,81.9h0.55v0.55h-0.55z M76.3,88.6h0.55v0.55h-0.55z M82.9,87.6h0.55v0.55h-0.55z M84.9,75.3h0.55v0.55h-0.55z M80.6,89.2h0.55v0.55h-0.55z M69.8,95.4h0.55v0.55h-0.55z M69.2,75.2h0.55v0.55h-0.55z M92.7,95.7h0.55v0.55h-0.55z M80.1,96.2h0.55v0.55h-0.55z M84.3,77.5h0.55v0.55h-0.55z M80.7,96.5h0.55v0.55h-0.55z M77.1,86.6h0.55v0.55h-0.55z M75.4,91.5h0.55v0.55h-0.55z M75.0,81.6h0.55v0.55h-0.55z M71.2,79.0h0.55v0.55h-0.55z M79.2,89.6h0.55v0.55h-0.55z M75.9,78.1h0.55v0.55h-0.55z M79.9,88.7h0.55v0.55h-0.55z M85.0,82.3h0.55v0.55h-0.55z M75.7,89.9h0.55v0.55h-0.55z M86.4,85.6h0.55v0.55h-0.55z M77.6,78.9h0.55v0.55h-0.55z M75.9,93.1h0.55v0.55h-0.55z M82.7,94.4h0.55v0.55h-0.55z M68.9,92.3h0.55v0.55h-0.55z M72.9,90.5h0.55v0.55h-0.55z M64.9,85.3h0.55v0.55h-0.55z M73.1,95.6h0.55v0.55h-0.55z M78.7,95.8h0.55v0.55h-0.55z M75.6,100.9h0.55v0.55h-0.55z M75.5,100.3h0.55v0.55h-0.55z M75.3,78.6h0.55v0.55h-0.55z M83.0,83.0h0.55v0.55h-0.55z M77.7,75.8h0.55v0.55h-0.55z M76.1,86.9h0.55v0.55h-0.55z M74.1,89.0h0.55v0.55h-0.55z M65.3,92.8h0.55v0.55h-0.55z M75.7,97.1h0.55v0.55h-0.55z M76.1,81.0h0.55v0.55h-0.55z M75.5,88.1h0.55v0.55h-0.55z M81.3,82.5h0.55v0.55h-0.55z M73.6,89.3h0.55v0.55h-0.55z M82.6,72.8h0.55v0.55h-0.55z M72.2,80.9h0.55v0.55h-0.55z M87.5,95.3h0.55v0.55h-0.55z M82.4,89.8h0.55v0.55h-0.55z M71.8,94.5h0.55v0.55h-0.55z M75.5,80.0h0.55v0.55h-0.55z M88.8,75.0h0.55v0.55h-0.55z M85.7,87.5h0.55v0.55h-0.55z M72.9,87.4h0.55v0.55h-0.55z M73.3,87.4h0.55v0.55h-0.55z M74.4,77.0h0.55v0.55h-0.55z M92.8,82.2h0.55v0.55h-0.55z M83.5,85.7h0.55v0.55h-0.55z M81.8,76.4h0.55v0.55h-0.55z M72.2,61.1h0.55v0.55h-0.55z M83.6,89.4h0.55v0.55h-0.55z M71.5,92.4h0.55v0.55h-0.55z M79.3,93.0h0.55v0.55h-0.55z M81.4,91.9h0.55v0.55h-0.55z M77.9,82.9h0.55v0.55h-0.55z M82.0,95.4h0.55v0.55h-0.55z M71.5,77.4h0.55v0.55h-0.55z M77.8,99.7h0.55v0.55h-0.55z M76.9,73.1h0.55v0.55h-0.55z M82.5,91.8h0.55v0.55h-0.55z M88.8,87.5h0.55v0.55h-0.55z M89.0,80.6h0.55v0.55h-0.55z M83.1,87.1h0.55v0.55h-0.55z M71.4,83.9h0.55v0.55h-0.55z M85.4,94.5h0.55v0.55h-0.55z M75.9,94.5h0.55v0.55h-0.55z M83.1,92.9h0.55v0.55h-0.55z M79.6,88.3h0.55v0.55h-0.55z M73.4,85.5h0.55v0.55h-0.55z M78.7,80.4h0.55v0.55h-0.55z M76.4,87.3h0.55v0.55h-0.55z M79.2,94.1h0.55v0.55h-0.55z M72.3,83.0h0.55v0.55h-0.55z M79.5,83.2h0.55v0.55h-0.55z M79.9,82.5h0.55v0.55h-0.55z M84.6,84.3h0.55v0.55h-0.55z M71.7,91.7h0.55v0.55h-0.55z M87.3,71.4h0.55v0.55h-0.55z M77.3,86.6h0.55v0.55h-0.55z M83.8,97.4h0.55v0.55h-0.55z M77.2,74.2h0.55v0.55h-0.55z M81.7,93.7h0.55v0.55h-0.55z M80.6,86.6h0.55v0.55h-0.55z M73.5,104.5h0.55v0.55h-0.55z M71.4,74.6h0.55v0.55h-0.55z M83.5,88.2h0.55v0.55h-0.55z M81.8,88.8h0.55v0.55h-0.55z M87.4,96.9h0.55v0.55h-0.55z M75.0,93.6h0.55v0.55h-0.55z M71.5,73.1h0.55v0.55h-0.55z M84.7,82.8h0.55v0.55h-0.55z M66.1,85.9h0.55v0.55h-0.55z M74.3,89.9h0.55v0.55h-0.55z M77.7,80.2h0.55v0.55h-0.55z M74.1,91.9h0.55v0.55h-0.55z M72.9,87.0h0.55v0.55h-0.55z" fill="#666" opacity="0.75"/>
<path d="M71.1,57.4h0.55v0.55h-0.55z M93.5,49.6h0.55v0.55h-0.55z M88.1,51.0h0.55v0.55h-0.55z M71.3,53.4h0.55v0.55h-0.55z M79.6,54.1h0.55v0.55h-0.55z M74.2,57.1h0.55v0.55h-0.55z M73.2,54.5h0.55v0.55h-0.55z M79.0,46.0h0.55v0.55h-0.55z M87.2,49.2h0.55v0.55h-0.55z M79.9,51.5h0.55v0.55h-0.55z M62.0,51.0h0.55v0.55h-0.55z M71.8,59.9h0.55v0.55h-0.55z M74.4,57.0h0.55v0.55h-0.55z M70.7,50.7h0.55v0.55h-0.55z M75.3,59.0h0.55v0.55h-0.55z M65.7,56.1h0.55v0.55h-0.55z M82.3,51.5h0.55v0.55h-0.55z M78.9,56.2h0.55v0.55h-0.55z M81.4,45.9h0.55v0.55h-0.55z M84.2,46.0h0.55v0.55h-0.55z M76.3,60.7h0.55v0.55h-0.55z M98.8,52.2h0.55v0.55h-0.55z M82.5,46.6h0.55v0.55h-0.55z M72.9,63.0h0.55v0.55h-0.55z M81.7,43.7h0.55v0.55h-0.55z M91.7,50.3h0.55v0.55h-0.55z M89.7,50.1h0.55v0.55h-0.55z M61.7,54.7h0.55v0.55h-0.55z M77.9,51.6h0.55v0.55h-0.55z M91.3,43.9h0.55v0.55h-0.55z M78.3,52.0h0.55v0.55h-0.55z M78.3,46.9h0.55v0.55h-0.55z M69.2,42.2h0.55v0.55h-0.55z M81.7,49.9h0.55v0.55h-0.55z M80.7,45.9h0.55v0.55h-0.55z M79.1,46.9h0.55v0.55h-0.55z M70.9,56.8h0.55v0.55h-0.55z M84.2,53.1h0.55v0.55h-0.55z M78.7,50.1h0.55v0.55h-0.55z M90.3,54.3h0.55v0.55h-0.55z M73.9,48.2h0.55v0.55h-0.55z M82.0,52.6h0.55v0.55h-0.55z M71.7,66.7h0.55v0.55h-0.55z M62.2,54.0h0.55v0.55h-0.55z M81.0,56.5h0.55v0.55h-0.55z M64.1,55.3h0.55v0.55h-0.55z M90.6,55.0h0.55v0.55h-0.55z M77.0,53.0h0.55v0.55h-0.55z M71.9,56.8h0.55v0.55h-0.55z M70.6,44.5h0.55v0.55h-0.55z M66.8,56.9h0.55v0.55h-0.55z M68.4,61.8h0.55v0.55h-0.55z M89.4,53.4h0.55v0.55h-0.55z M84.3,56.0h0.55v0.55h-0.55z M81.2,55.8h0.55v0.55h-0.55z M82.8,54.7h0.55v0.55h-0.55z M70.9,51.6h0.55v0.55h-0.55z M71.0,59.4h0.55v0.55h-0.55z M83.1,46.4h0.55v0.55h-0.55z M71.1,52.0h0.55v0.55h-0.55z M86.1,48.8h0.55v0.55h-0.55z M77.1,49.1h0.55v0.55h-0.55z M78.1,60.7h0.55v0.55h-0.55z M73.5,52.2h0.55v0.55h-0.55z M92.7,50.7h0.55v0.55h-0.55z M69.9,61.2h0.55v0.55h-0.55z M68.9,58.7h0.55v0.55h-0.55z M58.7,54.4h0.55v0.55h-0.55z M86.4,46.1h0.55v0.55h-0.55z M73.2,54.5h0.55v0.55h-0.55z M79.1,49.6h0.55v0.55h-0.55z M73.6,63.5h0.55v0.55h-0.55z M91.1,49.2h0.55v0.55h-0.55z M69.8,52.7h0.55v0.55h-0.55z M76.7,55.4h0.55v0.55h-0.55z M92.0,44.5h0.55v0.55h-0.55z M80.2,49.3h0.55v0.55h-0.55z M80.2,48.0h0.55v0.55h-0.55z M82.1,56.9h0.55v0.55h-0.55z M75.9,51.5h0.55v0.55h-0.55z M80.0,44.8h0.55v0.55h-0.55z M93.6,39.5h0.55v0.55h-0.55z M76.2,48.5h0.55v0.55h-0.55z M91.1,44.9h0.55v0.55h-0.55z M75.0,63.4h0.55v0.55h-0.55z M78.1,48.3h0.55v0.55h-0.55z M79.0,53.1h0.55v0.55h-0.55z M73.0,53.3h0.55v0.55h-0.55z M77.4,56.4h0.55v0.55h-0.55z M85.2,54.1h0.55v0.55h-0.55z M78.1,56.6h0.55v0.55h-0.55z M77.4,58.7h0.55v0.55h-0.55z M82.3,48.6h0.55v0.55h-0.55z M89.0,40.4h0.55v0.55h-0.55z M71.3,50.8h0.55v0.55h-0.55z M78.0,46.0h0.55v0.55h-0.55z M69.4,45.8h0.55v0.55h-0.55z M80.0,47.7h0.55v0.55h-0.55z M96.7,49.4h0.55v0.55h-0.55z M69.8,62.4h0.55v0.55h-0.55z M79.9,57.3h0.55v0.55h-0.55z M70.1,61.4h0.55v0.55h-0.55z M87.9,46.5h0.55v0.55h-0.55z M72.2,52.6h0.55v0.55h-0.55z M81.2,63.8h0.55v0.55h-0.55z M93.6,54.4h0.55v0.55h-0.55z M77.3,51.0h0.55v0.55h-0.55z M82.0,49.5h0.55v0.55h-0.55z M75.3,52.3h0.55v0.55h-0.55z M85.9,49.1h0.55v0.55h-0.55z M81.0,49.9h0.55v0.55h-0.55z M77.5,50.9h0.55v0.55h-0.55z M89.2,49.4h0.55v0.55h-0.55z M91.1,46.6h0.55v0.55h-0.55z M87.6,41.6h0.55v0.55h-0.55z M75.8,52.9h0.55v0.55h-0.55z M74.0,53.3h0.55v0.55h-0.55z M71.6,54.0h0.55v0.55h-0.55z M73.7,54.0h0.55v0.55h-0.55z M76.7,47.7h0.55v0.55h-0.55z" fill="#777" opacity="0.75"/>
<path d="M48.8,53.1h0.55v0.55h-0.55z M46.2,53.3h0.55v0.55h-0.55z M53.8,52.4h0.55v0.55h-0.55z M51.7,54.6h0.55v0.55h-0.55z M47.6,56.3h0.55v0.55h-0.55z M57.6,50.4h0.55v0.55h-0.55z M56.5,51.2h0.55v0.55h-0.55z M54.4,48.5h0.55v0.55h-0.55z M53.5,53.4h0.55v0.55h-0.55z M46.2,50.9h0.55v0.55h-0.55z M46.9,50.8h0.55v0.55h-0.55z M51.2,52.6h0.55v0.55h-0.55z M42.5,52.2h0.55v0.55h-0.55z M51.4,53.2h0.55v0.55h-0.55z M55.1,48.4h0.55v0.55h-0.55z M50.8,53.1h0.55v0.55h-0.55z M52.2,49.7h0.55v0.55h-0.55z M46.1,52.6h0.55v0.55h-0.55z M50.3,48.5h0.55v0.55h-0.55z M51.1,53.0h0.55v0.55h-0.55z M52.2,46.5h0.55v0.55h-0.55z M51.5,50.8h0.55v0.55h-0.55z M48.6,55.0h0.55v0.55h-0.55z M55.1,53.4h0.55v0.55h-0.55z M49.7,56.3h0.55v0.55h-0.55z M47.3,52.6h0.55v0.55h-0.55z M48.5,50.5h0.55v0.55h-0.55z M50.6,58.1h0.55v0.55h-0.55z M50.8,54.3h0.55v0.55h-0.55z M49.9,55.9h0.55v0.55h-0.55z" fill="#777" opacity="0.75"/>
<path d="M92.6,60.0h0.55v0.55h-0.55z M54.7,82.3h0.55v0.55h-0.55z M56.3,73.2h0.55v0.55h-0.55z M55.9,97.8h0.55v0.55h-0.55z M51.0,53.0h0.55v0.55h-0.55z M59.1,59.7h0.55v0.55h-0.55z M88.6,83.7h0.55v0.55h-0.55z M93.0,74.4h0.55v0.55h-0.55z M43.7,89.9h0.55v0.55h-0.55z M55.2,52.0h0.55v0.55h-0.55z M67.0,105.7h0.55v0.55h-0.55z M63.9,61.6h0.55v0.55h-0.55z M101.4,105.7h0.55v0.55h-0.55z M65.1,46.2h0.55v0.55h-0.55z M93.0,91.2h0.55v0.55h-0.55z M61.7,91.8h0.55v0.55h-0.55z M64.5,56.8h0.55v0.55h-0.55z M79.4,88.4h0.55v0.55h-0.55z M71.2,93.8h0.55v0.55h-0.55z M39.2,71.5h0.55v0.55h-0.55z M64.6,41.3h0.55v0.55h-0.55z M101.7,46.8h0.55v0.55h-0.55z M52.5,97.9h0.55v0.55h-0.55z M104.9,101.6h0.55v0.55h-0.55z M61.9,101.6h0.55v0.55h-0.55z M48.0,86.5h0.55v0.55h-0.55z M103.8,50.2h0.55v0.55h-0.55z M47.6,84.0h0.55v0.55h-0.55z M99.4,87.4h0.55v0.55h-0.55z M104.1,68.4h0.55v0.55h-0.55z M64.0,45.2h0.55v0.55h-0.55z M57.1,102.1h0.55v0.55h-0.55z M43.2,49.7h0.55v0.55h-0.55z M62.3,40.2h0.55v0.55h-0.55z M59.5,49.5h0.55v0.55h-0.55z M46.7,73.5h0.55v0.55h-0.55z M75.7,76.3h0.55v0.55h-0.55z M91.1,73.5h0.55v0.55h-0.55z M103.9,42.5h0.55v0.55h-0.55z M53.7,42.1h0.55v0.55h-0.55z" fill="#888" opacity="0.7"/>
<path d="M60.0,53.5 C60.2,52.2 61.7,50.7 63.0,49.5 C64.3,48.3 66.0,47.4 68.0,46.5 C70.0,45.6 72.7,44.8 75.0,44.0 C77.3,43.2 80.0,42.4 82.0,42.0 C84.0,41.6 85.8,41.4 87.0,41.6 C88.2,41.9 89.0,42.5 89.0,43.5 C89.0,44.5 88.2,45.8 87.0,47.5 C85.8,49.2 83.7,52.0 82.0,54.0 C80.3,56.0 78.7,58.2 77.0,59.5 C75.3,60.8 73.8,61.4 72.0,61.5 C70.2,61.6 67.8,60.8 66.0,60.0 C64.2,59.2 62.5,58.1 61.5,57.0 C60.5,55.9 59.8,54.8 60.0,53.5Z" fill="none" stroke="#444" stroke-width="0.42"/>
<path d="M61.7,53.2 C61.9,52.1 63.2,50.7 64.4,49.6 C65.6,48.6 67.1,47.8 68.9,47.0 C70.7,46.1 73.1,45.4 75.2,44.7 C77.3,44.0 79.7,43.3 81.5,42.9 C83.3,42.5 85.0,42.3 86.0,42.5 C87.0,42.8 87.8,43.4 87.8,44.2 C87.8,45.1 87.0,46.3 86.0,47.9 C85.0,49.4 83.0,51.9 81.5,53.7 C80.0,55.5 78.5,57.5 77.0,58.6 C75.5,59.8 74.2,60.4 72.5,60.5 C70.8,60.5 68.7,59.8 67.1,59.1 C65.5,58.4 63.9,57.4 63.0,56.4 C62.1,55.4 61.5,54.4 61.7,53.2Z" fill="none" stroke="#444" stroke-width="0.42"/>
<path d="M63.4,53.0 C63.6,52.0 64.7,50.7 65.8,49.8 C66.9,48.9 68.2,48.1 69.8,47.4 C71.4,46.7 73.5,46.0 75.4,45.4 C77.3,44.8 79.4,44.1 81.0,43.8 C82.6,43.5 84.1,43.3 85.0,43.5 C85.9,43.7 86.6,44.2 86.6,45.0 C86.6,45.8 85.9,46.8 85.0,48.2 C84.1,49.6 82.3,51.8 81.0,53.4 C79.7,55.0 78.3,56.8 77.0,57.8 C75.7,58.8 74.5,59.3 73.0,59.4 C71.5,59.5 69.6,58.8 68.2,58.2 C66.8,57.6 65.4,56.7 64.6,55.8 C63.8,54.9 63.2,54.0 63.4,53.0Z" fill="none" stroke="#444" stroke-width="0.42"/>
<path d="M64.9,52.8 C65.1,51.9 66.1,50.8 67.1,49.9 C68.0,49.1 69.2,48.5 70.6,47.8 C72.0,47.2 73.9,46.6 75.6,46.0 C77.2,45.5 79.1,44.9 80.5,44.6 C82.0,44.3 83.3,44.1 84.1,44.3 C84.9,44.5 85.5,45.0 85.5,45.7 C85.5,46.4 84.9,47.3 84.1,48.5 C83.3,49.8 81.7,51.7 80.5,53.1 C79.4,54.6 78.2,56.1 77.0,57.0 C75.8,57.9 74.8,58.4 73.5,58.5 C72.1,58.5 70.4,57.9 69.2,57.4 C67.9,56.9 66.7,56.0 66.0,55.3 C65.3,54.5 64.8,53.7 64.9,52.8Z" fill="none" stroke="#444" stroke-width="0.42"/>
<path d="M66.3,52.6 C66.4,51.8 67.3,50.8 68.2,50.1 C69.0,49.3 70.1,48.7 71.3,48.2 C72.6,47.6 74.3,47.1 75.7,46.6 C77.2,46.1 78.9,45.6 80.2,45.3 C81.4,45.1 82.6,44.9 83.3,45.1 C84.0,45.2 84.6,45.7 84.6,46.3 C84.6,46.9 84.0,47.7 83.3,48.8 C82.6,49.9 81.2,51.6 80.2,52.9 C79.1,54.1 78.0,55.6 77.0,56.4 C76.0,57.1 75.0,57.6 73.8,57.6 C72.7,57.7 71.2,57.1 70.1,56.7 C69.0,56.2 67.9,55.5 67.2,54.8 C66.6,54.1 66.1,53.4 66.3,52.6Z" fill="none" stroke="#444" stroke-width="0.42"/>
<path d="M67.5,52.4 C67.6,51.7 68.4,50.8 69.2,50.2 C69.9,49.5 70.8,49.0 72.0,48.5 C73.1,48.0 74.6,47.5 75.9,47.1 C77.2,46.7 78.7,46.2 79.8,46.0 C80.9,45.7 81.9,45.6 82.6,45.7 C83.3,45.9 83.7,46.2 83.7,46.8 C83.7,47.4 83.3,48.1 82.6,49.0 C81.9,50.0 80.7,51.6 79.8,52.7 C78.9,53.8 77.9,55.1 77.0,55.8 C76.1,56.5 75.2,56.8 74.2,56.9 C73.2,56.9 71.8,56.5 70.8,56.0 C69.9,55.6 68.9,55.0 68.3,54.4 C67.8,53.8 67.3,53.1 67.5,52.4Z" fill="none" stroke="#444" stroke-width="0.42"/>
<path d="M68.5,52.2 C68.6,51.6 69.3,50.8 70.0,50.2 C70.7,49.7 71.5,49.2 72.5,48.8 C73.5,48.3 74.8,47.9 76.0,47.5 C77.2,47.1 78.5,46.7 79.5,46.5 C80.5,46.3 81.4,46.2 82.0,46.3 C82.6,46.4 83.0,46.8 83.0,47.2 C83.0,47.7 82.6,48.4 82.0,49.2 C81.4,50.1 80.3,51.5 79.5,52.5 C78.7,53.5 77.8,54.6 77.0,55.2 C76.2,55.9 75.4,56.2 74.5,56.2 C73.6,56.3 72.4,55.9 71.5,55.5 C70.6,55.1 69.8,54.5 69.2,54.0 C68.8,53.5 68.4,52.9 68.5,52.2Z" fill="none" stroke="#444" stroke-width="0.42"/>
<path d="M69.5,52.1 C69.6,51.6 70.3,50.9 70.8,50.3 C71.4,49.8 72.2,49.4 73.0,49.0 C73.9,48.6 75.1,48.2 76.1,47.9 C77.1,47.6 78.3,47.2 79.2,47.0 C80.1,46.9 80.9,46.8 81.4,46.9 C81.9,47.0 82.3,47.3 82.3,47.7 C82.3,48.1 81.9,48.7 81.4,49.5 C80.9,50.2 79.9,51.4 79.2,52.3 C78.5,53.2 77.7,54.2 77.0,54.7 C76.3,55.3 75.6,55.6 74.8,55.6 C74.0,55.7 72.9,55.3 72.2,55.0 C71.4,54.6 70.6,54.1 70.2,53.6 C69.7,53.2 69.4,52.6 69.5,52.1Z" fill="none" stroke="#444" stroke-width="0.42"/>
<ellipse cx="77" cy="50.8" rx="7.2" ry="6.2" fill="url(#cg)" transform="rotate(-25 77 50.8)"/>
<path d="M57.7,50.0 C57.7,50.4 57.6,50.8 57.4,51.1 C57.2,51.5 56.8,51.9 56.4,52.1 C56.0,52.4 55.5,52.6 55.0,52.8 C54.5,52.9 53.9,53.0 53.3,53.0 C52.7,53.0 52.1,52.9 51.6,52.8 C51.1,52.6 50.6,52.4 50.2,52.1 C49.8,51.9 49.4,51.5 49.2,51.1 C49.0,50.8 48.9,50.4 48.9,50.0 C48.9,49.6 49.0,49.2 49.2,48.9 C49.4,48.5 49.8,48.1 50.2,47.9 C50.6,47.6 51.1,47.4 51.6,47.2 C52.1,47.1 52.7,47.0 53.3,47.0 C53.9,47.0 54.5,47.1 55.0,47.2 C55.5,47.4 56.0,47.6 56.4,47.9 C56.8,48.1 57.2,48.5 57.4,48.9 C57.6,49.2 57.7,49.6 57.7,50.0Z" fill="none" stroke="#222" stroke-width="0.5"/>
<path d="M57.2,50.0 C57.2,50.3 57.1,50.7 56.9,51.0 C56.7,51.3 56.4,51.6 56.0,51.9 C55.7,52.1 55.2,52.3 54.8,52.4 C54.3,52.6 53.8,52.6 53.3,52.6 C52.8,52.6 52.3,52.6 51.8,52.4 C51.4,52.3 50.9,52.1 50.6,51.9 C50.2,51.6 49.9,51.3 49.7,51.0 C49.5,50.7 49.4,50.3 49.4,50.0 C49.4,49.7 49.5,49.3 49.7,49.0 C49.9,48.7 50.2,48.4 50.6,48.1 C50.9,47.9 51.4,47.7 51.8,47.6 C52.3,47.4 52.8,47.4 53.3,47.4 C53.8,47.4 54.3,47.4 54.8,47.6 C55.2,47.7 55.7,47.9 56.0,48.1 C56.4,48.4 56.7,48.7 56.9,49.0 C57.1,49.3 57.2,49.7 57.2,50.0Z" fill="none" stroke="#222" stroke-width="0.5"/>
<path d="M55.1,50.0 C55.1,50.2 55.1,50.3 55.0,50.5 C54.9,50.6 54.8,50.8 54.6,50.9 C54.4,51.0 54.2,51.1 54.0,51.2 C53.8,51.2 53.5,51.3 53.3,51.3 C53.1,51.3 52.8,51.2 52.6,51.2 C52.4,51.1 52.2,51.0 52.0,50.9 C51.8,50.8 51.7,50.6 51.6,50.5 C51.5,50.3 51.5,50.2 51.5,50.0 C51.5,49.8 51.5,49.7 51.6,49.5 C51.7,49.4 51.8,49.2 52.0,49.1 C52.2,49.0 52.4,48.9 52.6,48.8 C52.8,48.8 53.1,48.7 53.3,48.7 C53.5,48.7 53.8,48.8 54.0,48.8 C54.2,48.9 54.4,49.0 54.6,49.1 C54.8,49.2 54.9,49.4 55.0,49.5 C55.1,49.7 55.1,49.8 55.1,50.0Z" fill="none" stroke="#222" stroke-width="0.5"/>
<path d="M77.8,75.5 C78.7,75.2 79.2,77.2 80.0,78.5 C80.8,79.8 81.8,81.4 82.3,83.0 C82.8,84.6 83.2,86.5 83.2,88.0 C83.2,89.5 83.0,91.0 82.5,92.0 C82.0,93.0 80.9,93.8 80.0,94.2 C79.1,94.6 78.0,94.6 77.0,94.5 C76.0,94.4 74.7,94.2 74.0,93.5 C73.3,92.8 72.8,91.4 72.6,90.0 C72.4,88.6 72.5,86.7 72.8,85.0 C73.1,83.3 73.7,81.6 74.5,80.0 C75.3,78.4 76.9,75.8 77.8,75.5Z" fill="none" stroke="#222" stroke-width="0.55"/>
<path d="M77.8,76.8 C78.6,76.5 79.1,78.3 79.8,79.5 C80.5,80.6 81.4,82.1 81.8,83.5 C82.3,84.9 82.6,86.7 82.7,88.0 C82.7,89.3 82.5,90.7 82.0,91.6 C81.5,92.5 80.6,93.2 79.8,93.6 C79.0,94.0 78.0,94.0 77.1,93.8 C76.2,93.7 75.0,93.6 74.4,93.0 C73.7,92.3 73.3,91.1 73.1,89.8 C72.9,88.5 73.0,86.8 73.3,85.3 C73.6,83.8 74.1,82.2 74.8,80.8 C75.6,79.4 77.0,77.0 77.8,76.8Z" fill="none" stroke="#222" stroke-width="0.55"/>
<path d="M77.8,80.5 C78.3,80.3 78.7,81.5 79.1,82.3 C79.6,83.0 80.2,84.0 80.5,85.0 C80.8,86.0 81.0,87.1 81.0,88.0 C81.1,88.9 80.9,89.8 80.6,90.4 C80.3,91.0 79.7,91.5 79.1,91.7 C78.6,92.0 77.9,92.0 77.3,91.9 C76.7,91.8 76.0,91.8 75.5,91.3 C75.1,90.8 74.8,90.0 74.7,89.2 C74.6,88.4 74.6,87.2 74.8,86.2 C75.0,85.2 75.3,84.2 75.8,83.2 C76.3,82.2 77.2,80.7 77.8,80.5Z" fill="none" stroke="#222" stroke-width="0.55"/>
<path d="M77.8,84.2 C78.1,84.2 78.2,84.8 78.5,85.2 C78.7,85.5 79.0,86.0 79.1,86.5 C79.3,87.0 79.4,87.5 79.4,88.0 C79.4,88.5 79.4,88.9 79.2,89.2 C79.0,89.5 78.7,89.7 78.5,89.9 C78.2,90.0 77.9,90.0 77.6,90.0 C77.3,89.9 76.9,89.9 76.7,89.7 C76.4,89.4 76.3,89.0 76.2,88.6 C76.2,88.2 76.2,87.6 76.3,87.1 C76.4,86.6 76.6,86.1 76.8,85.6 C77.1,85.1 77.5,84.3 77.8,84.2Z" fill="none" stroke="#222" stroke-width="0.55"/>
<polygon points="36.20,34.80 63.70,34.80 63.70,48.50 58.00,56.00 36.20,58.80" fill="none" stroke="#333" stroke-width="1.2" stroke-linejoin="round"/>
<polygon points="64.40,34.80 109.60,34.80 109.60,63.30 74.00,64.30 72.60,65.30 59.60,56.60 64.40,49.00" fill="none" stroke="#333" stroke-width="1.2" stroke-linejoin="round"/>
<polygon points="36.20,59.60 58.40,57.60 71.20,66.60 68.40,69.20 68.40,108.40 36.20,108.40" fill="none" stroke="#333" stroke-width="1.2" stroke-linejoin="round"/>
<polygon points="73.60,65.60 109.60,64.50 109.60,108.40 69.80,108.40 69.80,69.60" fill="none" stroke="#333" stroke-width="1.2" stroke-linejoin="round"/>
<rect x="36.20" y="34.80" width="73.40" height="73.60" fill="none" stroke="#333" stroke-width="1.0"/>
<text x="38.00" y="39.30" font-size="5.0" text-anchor="start" fill="#111">CD8+</text>
<text x="38.00" y="43.80" font-size="5.0" text-anchor="start" fill="#222">2.35%</text>
<text x="107.60" y="39.30" font-size="5.0" text-anchor="end" fill="#222">DP</text>
<text x="107.60" y="43.80" font-size="5.0" text-anchor="end" fill="#222">85.8%</text>
<text x="43.70" y="100.30" font-size="5.0" text-anchor="middle" fill="#222">DN</text>
<text x="38.50" y="105.20" font-size="5.0" text-anchor="start" fill="#222">3.45%</text>
<text x="107.60" y="100.30" font-size="5.0" text-anchor="end" fill="#222">CD4+</text>
<text x="107.60" y="105.20" font-size="5.0" text-anchor="end" fill="#222">7.49%</text>
<line x1="35.20" y1="36.00" x2="36.20" y2="36.00" stroke="#555" stroke-width="0.5"/>
<line x1="35.20" y1="39.38" x2="36.20" y2="39.38" stroke="#555" stroke-width="0.5"/>
<line x1="35.20" y1="42.76" x2="36.20" y2="42.76" stroke="#555" stroke-width="0.5"/>
<line x1="35.20" y1="46.14" x2="36.20" y2="46.14" stroke="#555" stroke-width="0.5"/>
<line x1="35.20" y1="49.52" x2="36.20" y2="49.52" stroke="#555" stroke-width="0.5"/>
<line x1="35.20" y1="52.90" x2="36.20" y2="52.90" stroke="#555" stroke-width="0.5"/>
<line x1="35.20" y1="56.29" x2="36.20" y2="56.29" stroke="#555" stroke-width="0.5"/>
<line x1="35.20" y1="59.67" x2="36.20" y2="59.67" stroke="#555" stroke-width="0.5"/>
<line x1="35.20" y1="63.05" x2="36.20" y2="63.05" stroke="#555" stroke-width="0.5"/>
<line x1="35.20" y1="66.43" x2="36.20" y2="66.43" stroke="#555" stroke-width="0.5"/>
<line x1="35.20" y1="69.81" x2="36.20" y2="69.81" stroke="#555" stroke-width="0.5"/>
<line x1="35.20" y1="73.19" x2="36.20" y2="73.19" stroke="#555" stroke-width="0.5"/>
<line x1="35.20" y1="76.57" x2="36.20" y2="76.57" stroke="#555" stroke-width="0.5"/>
<line x1="35.20" y1="79.95" x2="36.20" y2="79.95" stroke="#555" stroke-width="0.5"/>
<line x1="35.20" y1="83.33" x2="36.20" y2="83.33" stroke="#555" stroke-width="0.5"/>
<line x1="35.20" y1="86.71" x2="36.20" y2="86.71" stroke="#555" stroke-width="0.5"/>
<line x1="35.20" y1="90.10" x2="36.20" y2="90.10" stroke="#555" stroke-width="0.5"/>
<line x1="35.20" y1="93.48" x2="36.20" y2="93.48" stroke="#555" stroke-width="0.5"/>
<line x1="35.20" y1="96.86" x2="36.20" y2="96.86" stroke="#555" stroke-width="0.5"/>
<line x1="35.20" y1="100.24" x2="36.20" y2="100.24" stroke="#555" stroke-width="0.5"/>
<line x1="35.20" y1="103.62" x2="36.20" y2="103.62" stroke="#555" stroke-width="0.5"/>
<line x1="35.20" y1="107.00" x2="36.20" y2="107.00" stroke="#555" stroke-width="0.5"/>
<line x1="38.20" y1="108.40" x2="38.20" y2="109.40" stroke="#555" stroke-width="0.5"/>
<line x1="41.22" y1="108.40" x2="41.22" y2="109.40" stroke="#555" stroke-width="0.5"/>
<line x1="44.23" y1="108.40" x2="44.23" y2="109.40" stroke="#555" stroke-width="0.5"/>
<line x1="47.25" y1="108.40" x2="47.25" y2="109.40" stroke="#555" stroke-width="0.5"/>
<line x1="50.27" y1="108.40" x2="50.27" y2="109.40" stroke="#555" stroke-width="0.5"/>
<line x1="53.29" y1="108.40" x2="53.29" y2="109.40" stroke="#555" stroke-width="0.5"/>
<line x1="56.30" y1="108.40" x2="56.30" y2="109.40" stroke="#555" stroke-width="0.5"/>
<line x1="59.32" y1="108.40" x2="59.32" y2="109.40" stroke="#555" stroke-width="0.5"/>
<line x1="62.34" y1="108.40" x2="62.34" y2="109.40" stroke="#555" stroke-width="0.5"/>
<line x1="65.36" y1="108.40" x2="65.36" y2="109.40" stroke="#555" stroke-width="0.5"/>
<line x1="68.37" y1="108.40" x2="68.37" y2="109.40" stroke="#555" stroke-width="0.5"/>
<line x1="71.39" y1="108.40" x2="71.39" y2="109.40" stroke="#555" stroke-width="0.5"/>
<line x1="74.41" y1="108.40" x2="74.41" y2="109.40" stroke="#555" stroke-width="0.5"/>
<line x1="77.43" y1="108.40" x2="77.43" y2="109.40" stroke="#555" stroke-width="0.5"/>
<line x1="80.44" y1="108.40" x2="80.44" y2="109.40" stroke="#555" stroke-width="0.5"/>
<line x1="83.46" y1="108.40" x2="83.46" y2="109.40" stroke="#555" stroke-width="0.5"/>
<line x1="86.48" y1="108.40" x2="86.48" y2="109.40" stroke="#555" stroke-width="0.5"/>
<line x1="89.50" y1="108.40" x2="89.50" y2="109.40" stroke="#555" stroke-width="0.5"/>
<line x1="92.51" y1="108.40" x2="92.51" y2="109.40" stroke="#555" stroke-width="0.5"/>
<line x1="95.53" y1="108.40" x2="95.53" y2="109.40" stroke="#555" stroke-width="0.5"/>
<line x1="98.55" y1="108.40" x2="98.55" y2="109.40" stroke="#555" stroke-width="0.5"/>
<line x1="101.57" y1="108.40" x2="101.57" y2="109.40" stroke="#555" stroke-width="0.5"/>
<line x1="104.58" y1="108.40" x2="104.58" y2="109.40" stroke="#555" stroke-width="0.5"/>
<line x1="107.60" y1="108.40" x2="107.60" y2="109.40" stroke="#555" stroke-width="0.5"/>
<line x1="35.00" y1="91.00" x2="35.00" y2="94.00" stroke="#111" stroke-width="1.6"/>
<line x1="49.00" y1="109.90" x2="56.00" y2="109.90" stroke="#111" stroke-width="1.6"/>
<line x1="34.60" y1="42.50" x2="36.20" y2="42.50" stroke="#333" stroke-width="0.7"/>
<text x="34.00" y="44.90" font-size="7" text-anchor="end" fill="#111">10<tspan font-size="4.76" dy="-3.15">5</tspan></text>
<line x1="34.60" y1="60.00" x2="36.20" y2="60.00" stroke="#333" stroke-width="0.7"/>
<text x="34.00" y="62.40" font-size="7" text-anchor="end" fill="#111">10<tspan font-size="4.76" dy="-3.15">4</tspan></text>
<line x1="34.60" y1="80.00" x2="36.20" y2="80.00" stroke="#333" stroke-width="0.7"/>
<text x="34.00" y="82.40" font-size="7" text-anchor="end" fill="#111">10<tspan font-size="4.76" dy="-3.15">3</tspan></text>
<line x1="34.60" y1="92.30" x2="36.20" y2="92.30" stroke="#333" stroke-width="0.7"/>
<text x="33.60" y="94.70" font-size="7" text-anchor="end" fill="#111">0</text>
<line x1="34.60" y1="108.30" x2="36.20" y2="108.30" stroke="#333" stroke-width="0.7"/>
<text x="34.00" y="110.70" font-size="7" text-anchor="end" fill="#111">-10<tspan font-size="4.76" dy="-3.15">3</tspan></text>
<line x1="53.50" y1="108.40" x2="53.50" y2="110.00" stroke="#333" stroke-width="0.7"/>
<text x="53.50" y="122.60" font-size="7" text-anchor="middle" fill="#111">0</text>
<line x1="76.50" y1="108.40" x2="76.50" y2="110.00" stroke="#333" stroke-width="0.7"/>
<text x="77.50" y="122.60" font-size="7" text-anchor="middle" fill="#111">10<tspan font-size="4.76" dy="-3.15">3</tspan></text>
<line x1="101.00" y1="108.40" x2="101.00" y2="110.00" stroke="#333" stroke-width="0.7"/>
<text x="102.00" y="122.60" font-size="7" text-anchor="middle" fill="#111">10<tspan font-size="4.76" dy="-3.15">4</tspan></text>
<text x="72.90" y="30.50" font-size="10" text-anchor="middle" fill="#111">Con</text>
<path d="M142.9,64.9h0.55v0.55h-0.55z M135.9,73.4h0.55v0.55h-0.55z M131.4,70.3h0.55v0.55h-0.55z M132.7,75.0h0.55v0.55h-0.55z M136.2,86.1h0.55v0.55h-0.55z M135.5,86.8h0.55v0.55h-0.55z M136.3,76.7h0.55v0.55h-0.55z M133.7,65.9h0.55v0.55h-0.55z M128.5,74.7h0.55v0.55h-0.55z M133.9,78.7h0.55v0.55h-0.55z M135.7,62.9h0.55v0.55h-0.55z M131.8,64.3h0.55v0.55h-0.55z M138.2,74.3h0.55v0.55h-0.55z M134.9,66.4h0.55v0.55h-0.55z M129.7,69.6h0.55v0.55h-0.55z M134.1,79.9h0.55v0.55h-0.55z M128.7,78.6h0.55v0.55h-0.55z M131.2,70.1h0.55v0.55h-0.55z M133.2,71.1h0.55v0.55h-0.55z M136.2,84.0h0.55v0.55h-0.55z M135.7,70.0h0.55v0.55h-0.55z M136.0,79.0h0.55v0.55h-0.55z M137.7,77.9h0.55v0.55h-0.55z M128.4,67.8h0.55v0.55h-0.55z M132.9,84.4h0.55v0.55h-0.55z M133.9,84.3h0.55v0.55h-0.55z M135.5,63.6h0.55v0.55h-0.55z M134.6,80.8h0.55v0.55h-0.55z M136.0,60.7h0.55v0.55h-0.55z M136.0,69.5h0.55v0.55h-0.55z M126.5,69.7h0.55v0.55h-0.55z M127.0,62.7h0.55v0.55h-0.55z M139.8,99.6h0.55v0.55h-0.55z M138.4,79.6h0.55v0.55h-0.55z M141.5,78.7h0.55v0.55h-0.55z M130.8,51.1h0.55v0.55h-0.55z M137.8,53.1h0.55v0.55h-0.55z M123.7,68.8h0.55v0.55h-0.55z M134.7,66.8h0.55v0.55h-0.55z M138.3,74.4h0.55v0.55h-0.55z M135.2,79.7h0.55v0.55h-0.55z M132.2,77.4h0.55v0.55h-0.55z M143.2,66.1h0.55v0.55h-0.55z M135.1,80.6h0.55v0.55h-0.55z M132.4,74.9h0.55v0.55h-0.55z M128.0,71.0h0.55v0.55h-0.55z M134.6,86.5h0.55v0.55h-0.55z M138.0,69.7h0.55v0.55h-0.55z M130.3,93.6h0.55v0.55h-0.55z M137.8,56.4h0.55v0.55h-0.55z M133.2,66.5h0.55v0.55h-0.55z M132.2,58.4h0.55v0.55h-0.55z M132.9,70.3h0.55v0.55h-0.55z M133.6,85.9h0.55v0.55h-0.55z M135.4,63.4h0.55v0.55h-0.55z M127.9,70.2h0.55v0.55h-0.55z M138.9,84.9h0.55v0.55h-0.55z M132.3,87.1h0.55v0.55h-0.55z M136.2,69.5h0.55v0.55h-0.55z M136.2,74.8h0.55v0.55h-0.55z M130.3,71.3h0.55v0.55h-0.55z M135.2,88.8h0.55v0.55h-0.55z M130.6,78.0h0.55v0.55h-0.55z M134.6,75.1h0.55v0.55h-0.55z M129.9,88.2h0.55v0.55h-0.55z M139.5,91.6h0.55v0.55h-0.55z M136.4,90.5h0.55v0.55h-0.55z M136.6,85.7h0.55v0.55h-0.55z M133.3,77.9h0.55v0.55h-0.55z M133.3,65.1h0.55v0.55h-0.55z M132.9,64.5h0.55v0.55h-0.55z M130.3,71.8h0.55v0.55h-0.55z M132.3,96.4h0.55v0.55h-0.55z M141.4,86.6h0.55v0.55h-0.55z M137.6,67.1h0.55v0.55h-0.55z M135.7,61.3h0.55v0.55h-0.55z M132.2,70.9h0.55v0.55h-0.55z M133.2,84.4h0.55v0.55h-0.55z M131.6,100.0h0.55v0.55h-0.55z M132.7,84.3h0.55v0.55h-0.55z M128.6,84.9h0.55v0.55h-0.55z M129.9,77.8h0.55v0.55h-0.55z M134.6,84.1h0.55v0.55h-0.55z M137.0,79.7h0.55v0.55h-0.55z M134.1,95.5h0.55v0.55h-0.55z M132.9,75.9h0.55v0.55h-0.55z M132.8,77.2h0.55v0.55h-0.55z M130.9,71.6h0.55v0.55h-0.55z M136.6,70.0h0.55v0.55h-0.55z M136.4,69.9h0.55v0.55h-0.55z M140.1,74.5h0.55v0.55h-0.55z M141.3,80.8h0.55v0.55h-0.55z M134.1,85.4h0.55v0.55h-0.55z M139.1,91.2h0.55v0.55h-0.55z M139.9,84.8h0.55v0.55h-0.55z M130.2,85.2h0.55v0.55h-0.55z M134.3,79.9h0.55v0.55h-0.55z M139.5,68.6h0.55v0.55h-0.55z M139.7,99.9h0.55v0.55h-0.55z M136.8,72.7h0.55v0.55h-0.55z M139.9,77.6h0.55v0.55h-0.55z M138.7,88.4h0.55v0.55h-0.55z M128.8,79.1h0.55v0.55h-0.55z M128.8,68.7h0.55v0.55h-0.55z M136.9,63.8h0.55v0.55h-0.55z M131.9,71.2h0.55v0.55h-0.55z M135.8,79.3h0.55v0.55h-0.55z M136.3,70.7h0.55v0.55h-0.55z M131.7,79.9h0.55v0.55h-0.55z M131.3,67.6h0.55v0.55h-0.55z M137.3,67.7h0.55v0.55h-0.55z M131.1,87.1h0.55v0.55h-0.55z M134.4,53.2h0.55v0.55h-0.55z M131.7,95.3h0.55v0.55h-0.55z M145.4,72.7h0.55v0.55h-0.55z M137.3,83.1h0.55v0.55h-0.55z M135.8,57.4h0.55v0.55h-0.55z M138.4,78.5h0.55v0.55h-0.55z M133.7,59.4h0.55v0.55h-0.55z M132.2,74.5h0.55v0.55h-0.55z M133.6,77.9h0.55v0.55h-0.55z M133.1,85.7h0.55v0.55h-0.55z M136.9,64.0h0.55v0.55h-0.55z M132.2,79.9h0.55v0.55h-0.55z M132.4,89.7h0.55v0.55h-0.55z M132.5,78.1h0.55v0.55h-0.55z M136.9,64.2h0.55v0.55h-0.55z M139.3,73.5h0.55v0.55h-0.55z M131.8,68.6h0.55v0.55h-0.55z M128.1,61.9h0.55v0.55h-0.55z M140.3,74.3h0.55v0.55h-0.55z M133.5,77.5h0.55v0.55h-0.55z M136.7,67.6h0.55v0.55h-0.55z M133.7,78.3h0.55v0.55h-0.55z M138.4,78.1h0.55v0.55h-0.55z M140.9,73.4h0.55v0.55h-0.55z M133.3,61.6h0.55v0.55h-0.55z M134.4,82.0h0.55v0.55h-0.55z M133.6,73.8h0.55v0.55h-0.55z M130.8,69.7h0.55v0.55h-0.55z M132.8,74.7h0.55v0.55h-0.55z M138.6,80.7h0.55v0.55h-0.55z M138.0,87.3h0.55v0.55h-0.55z M132.8,89.0h0.55v0.55h-0.55z M134.7,62.3h0.55v0.55h-0.55z M132.2,74.7h0.55v0.55h-0.55z M128.7,98.6h0.55v0.55h-0.55z M134.3,84.1h0.55v0.55h-0.55z M129.9,76.5h0.55v0.55h-0.55z M135.5,67.9h0.55v0.55h-0.55z M135.5,75.5h0.55v0.55h-0.55z M135.9,63.4h0.55v0.55h-0.55z M136.5,72.6h0.55v0.55h-0.55z M131.3,53.5h0.55v0.55h-0.55z M133.8,71.8h0.55v0.55h-0.55z M143.5,63.4h0.55v0.55h-0.55z M140.2,88.0h0.55v0.55h-0.55z M136.1,78.0h0.55v0.55h-0.55z M136.4,60.7h0.55v0.55h-0.55z M139.9,72.2h0.55v0.55h-0.55z M131.7,75.4h0.55v0.55h-0.55z M124.0,62.2h0.55v0.55h-0.55z M130.0,59.7h0.55v0.55h-0.55z M136.7,91.4h0.55v0.55h-0.55z M134.5,72.2h0.55v0.55h-0.55z M135.7,70.4h0.55v0.55h-0.55z M135.0,79.5h0.55v0.55h-0.55z M133.6,71.3h0.55v0.55h-0.55z M134.7,76.0h0.55v0.55h-0.55z M137.0,60.3h0.55v0.55h-0.55z M130.2,70.5h0.55v0.55h-0.55z M136.3,62.4h0.55v0.55h-0.55z M139.0,89.7h0.55v0.55h-0.55z M131.6,86.5h0.55v0.55h-0.55z M126.5,74.3h0.55v0.55h-0.55z M128.3,86.0h0.55v0.55h-0.55z M137.6,80.4h0.55v0.55h-0.55z M132.2,63.9h0.55v0.55h-0.55z M136.0,70.1h0.55v0.55h-0.55z M137.0,59.2h0.55v0.55h-0.55z M136.0,80.3h0.55v0.55h-0.55z M125.7,62.4h0.55v0.55h-0.55z M131.7,69.1h0.55v0.55h-0.55z M127.8,75.2h0.55v0.55h-0.55z M130.0,74.3h0.55v0.55h-0.55z M127.4,63.2h0.55v0.55h-0.55z M137.0,57.8h0.55v0.55h-0.55z M134.2,89.5h0.55v0.55h-0.55z M137.4,61.7h0.55v0.55h-0.55z M142.8,69.4h0.55v0.55h-0.55z M137.8,84.6h0.55v0.55h-0.55z M133.1,81.3h0.55v0.55h-0.55z M123.8,75.9h0.55v0.55h-0.55z M134.9,71.5h0.55v0.55h-0.55z M134.8,85.6h0.55v0.55h-0.55z M137.9,68.7h0.55v0.55h-0.55z M137.3,86.7h0.55v0.55h-0.55z M134.7,78.8h0.55v0.55h-0.55z M125.0,59.1h0.55v0.55h-0.55z M135.7,59.9h0.55v0.55h-0.55z M137.5,86.5h0.55v0.55h-0.55z M130.5,63.2h0.55v0.55h-0.55z M133.5,77.1h0.55v0.55h-0.55z M137.4,72.6h0.55v0.55h-0.55z M134.4,64.9h0.55v0.55h-0.55z M135.3,67.1h0.55v0.55h-0.55z M138.1,81.8h0.55v0.55h-0.55z M128.0,78.2h0.55v0.55h-0.55z M130.1,84.4h0.55v0.55h-0.55z M130.3,87.4h0.55v0.55h-0.55z M138.3,94.3h0.55v0.55h-0.55z M135.5,75.3h0.55v0.55h-0.55z M138.9,62.5h0.55v0.55h-0.55z M134.1,71.6h0.55v0.55h-0.55z M134.0,58.9h0.55v0.55h-0.55z M127.8,57.6h0.55v0.55h-0.55z M139.8,71.4h0.55v0.55h-0.55z M136.6,73.5h0.55v0.55h-0.55z M133.3,87.7h0.55v0.55h-0.55z M125.4,72.5h0.55v0.55h-0.55z M131.2,65.5h0.55v0.55h-0.55z M128.1,59.3h0.55v0.55h-0.55z M129.6,85.6h0.55v0.55h-0.55z M131.6,70.0h0.55v0.55h-0.55z M133.5,80.9h0.55v0.55h-0.55z M138.1,76.6h0.55v0.55h-0.55z M134.2,79.9h0.55v0.55h-0.55z M131.2,76.8h0.55v0.55h-0.55z M140.6,68.2h0.55v0.55h-0.55z M131.0,59.3h0.55v0.55h-0.55z M134.4,80.9h0.55v0.55h-0.55z M132.6,71.4h0.55v0.55h-0.55z M138.7,75.0h0.55v0.55h-0.55z M136.9,71.1h0.55v0.55h-0.55z M139.1,83.8h0.55v0.55h-0.55z M133.7,68.8h0.55v0.55h-0.55z M143.9,64.1h0.55v0.55h-0.55z M130.6,49.9h0.55v0.55h-0.55z M136.8,75.4h0.55v0.55h-0.55z M133.9,59.6h0.55v0.55h-0.55z M134.3,67.0h0.55v0.55h-0.55z M129.8,72.4h0.55v0.55h-0.55z M135.4,73.4h0.55v0.55h-0.55z M132.4,82.1h0.55v0.55h-0.55z M135.2,71.2h0.55v0.55h-0.55z M136.4,77.9h0.55v0.55h-0.55z M137.7,83.1h0.55v0.55h-0.55z M137.1,69.0h0.55v0.55h-0.55z M139.3,84.8h0.55v0.55h-0.55z M132.2,87.3h0.55v0.55h-0.55z M134.6,65.0h0.55v0.55h-0.55z M134.1,62.2h0.55v0.55h-0.55z M138.5,62.4h0.55v0.55h-0.55z M139.8,66.4h0.55v0.55h-0.55z M133.8,87.6h0.55v0.55h-0.55z M135.6,58.6h0.55v0.55h-0.55z M133.8,56.9h0.55v0.55h-0.55z M136.8,64.9h0.55v0.55h-0.55z M134.0,73.7h0.55v0.55h-0.55z M128.6,78.3h0.55v0.55h-0.55z M141.0,66.0h0.55v0.55h-0.55z M132.2,78.7h0.55v0.55h-0.55z M138.9,66.4h0.55v0.55h-0.55z M135.1,78.6h0.55v0.55h-0.55z M138.3,66.9h0.55v0.55h-0.55z M143.6,95.3h0.55v0.55h-0.55z M129.2,67.2h0.55v0.55h-0.55z M135.7,68.8h0.55v0.55h-0.55z M132.4,75.1h0.55v0.55h-0.55z M131.6,69.1h0.55v0.55h-0.55z M135.2,71.2h0.55v0.55h-0.55z M135.7,85.5h0.55v0.55h-0.55z M138.6,76.1h0.55v0.55h-0.55z M142.1,71.3h0.55v0.55h-0.55z M137.8,93.1h0.55v0.55h-0.55z M135.1,83.3h0.55v0.55h-0.55z M132.6,69.7h0.55v0.55h-0.55z M135.2,80.0h0.55v0.55h-0.55z M135.8,81.9h0.55v0.55h-0.55z M135.6,74.5h0.55v0.55h-0.55z" fill="#444" opacity="0.75"/>
<path d="M137.7,63.4h0.55v0.55h-0.55z M140.6,63.7h0.55v0.55h-0.55z M135.6,68.1h0.55v0.55h-0.55z M145.3,64.6h0.55v0.55h-0.55z M138.3,67.6h0.55v0.55h-0.55z M139.4,63.0h0.55v0.55h-0.55z M143.1,61.9h0.55v0.55h-0.55z M141.0,62.1h0.55v0.55h-0.55z M143.2,65.3h0.55v0.55h-0.55z M143.6,65.3h0.55v0.55h-0.55z M141.9,65.1h0.55v0.55h-0.55z M144.0,60.6h0.55v0.55h-0.55z M135.3,64.1h0.55v0.55h-0.55z M141.2,63.0h0.55v0.55h-0.55z M147.1,65.5h0.55v0.55h-0.55z M146.0,64.2h0.55v0.55h-0.55z M134.5,59.2h0.55v0.55h-0.55z M145.3,64.0h0.55v0.55h-0.55z M138.4,68.3h0.55v0.55h-0.55z M148.1,65.2h0.55v0.55h-0.55z M146.2,62.8h0.55v0.55h-0.55z M136.4,58.3h0.55v0.55h-0.55z M145.3,58.6h0.55v0.55h-0.55z M138.8,64.1h0.55v0.55h-0.55z M143.1,57.5h0.55v0.55h-0.55z M139.5,61.1h0.55v0.55h-0.55z M146.9,63.2h0.55v0.55h-0.55z M137.7,69.7h0.55v0.55h-0.55z M141.2,66.6h0.55v0.55h-0.55z M142.0,63.3h0.55v0.55h-0.55z M143.8,61.4h0.55v0.55h-0.55z M134.5,61.7h0.55v0.55h-0.55z M143.3,62.6h0.55v0.55h-0.55z M145.2,66.3h0.55v0.55h-0.55z M141.5,67.6h0.55v0.55h-0.55z M142.2,65.0h0.55v0.55h-0.55z M139.4,63.5h0.55v0.55h-0.55z M140.2,67.5h0.55v0.55h-0.55z M147.4,67.6h0.55v0.55h-0.55z M141.6,63.5h0.55v0.55h-0.55z M141.7,62.0h0.55v0.55h-0.55z M140.5,62.8h0.55v0.55h-0.55z M140.4,55.9h0.55v0.55h-0.55z M140.5,66.1h0.55v0.55h-0.55z M135.9,69.8h0.55v0.55h-0.55z M141.2,62.0h0.55v0.55h-0.55z M146.7,60.7h0.55v0.55h-0.55z M152.3,61.5h0.55v0.55h-0.55z M144.6,68.7h0.55v0.55h-0.55z M143.6,64.3h0.55v0.55h-0.55z M137.5,63.4h0.55v0.55h-0.55z M141.5,67.2h0.55v0.55h-0.55z M131.0,66.0h0.55v0.55h-0.55z M135.7,61.8h0.55v0.55h-0.55z M140.1,61.8h0.55v0.55h-0.55z M143.2,58.4h0.55v0.55h-0.55z M142.6,60.5h0.55v0.55h-0.55z M139.0,63.6h0.55v0.55h-0.55z M134.5,65.3h0.55v0.55h-0.55z M149.8,61.7h0.55v0.55h-0.55z M136.7,69.0h0.55v0.55h-0.55z M147.8,57.0h0.55v0.55h-0.55z M139.0,61.2h0.55v0.55h-0.55z M141.3,63.5h0.55v0.55h-0.55z M136.2,62.4h0.55v0.55h-0.55z M145.3,60.7h0.55v0.55h-0.55z M141.5,66.0h0.55v0.55h-0.55z M148.0,65.3h0.55v0.55h-0.55z M141.6,60.7h0.55v0.55h-0.55z M141.6,68.4h0.55v0.55h-0.55z M142.5,68.0h0.55v0.55h-0.55z M138.5,66.6h0.55v0.55h-0.55z M139.5,61.5h0.55v0.55h-0.55z M137.9,67.9h0.55v0.55h-0.55z M143.1,63.3h0.55v0.55h-0.55z M139.5,66.6h0.55v0.55h-0.55z M138.6,67.7h0.55v0.55h-0.55z M141.9,62.0h0.55v0.55h-0.55z M139.8,60.3h0.55v0.55h-0.55z M135.9,62.2h0.55v0.55h-0.55z M138.4,62.7h0.55v0.55h-0.55z M137.3,61.6h0.55v0.55h-0.55z M142.0,59.4h0.55v0.55h-0.55z M129.6,69.6h0.55v0.55h-0.55z M141.0,64.5h0.55v0.55h-0.55z M145.6,67.7h0.55v0.55h-0.55z M146.8,67.1h0.55v0.55h-0.55z M143.9,65.5h0.55v0.55h-0.55z M140.0,63.5h0.55v0.55h-0.55z M125.0,69.5h0.55v0.55h-0.55z M140.1,60.6h0.55v0.55h-0.55z M145.6,61.5h0.55v0.55h-0.55z M142.2,61.0h0.55v0.55h-0.55z M135.6,67.7h0.55v0.55h-0.55z M141.2,58.6h0.55v0.55h-0.55z M143.5,67.0h0.55v0.55h-0.55z M139.3,66.3h0.55v0.55h-0.55z M146.3,67.9h0.55v0.55h-0.55z M143.3,66.5h0.55v0.55h-0.55z M147.7,64.6h0.55v0.55h-0.55z M139.4,63.0h0.55v0.55h-0.55z M154.6,60.5h0.55v0.55h-0.55z M140.7,57.7h0.55v0.55h-0.55z M140.4,63.3h0.55v0.55h-0.55z M140.2,66.5h0.55v0.55h-0.55z M147.1,64.7h0.55v0.55h-0.55z M137.1,62.2h0.55v0.55h-0.55z M140.7,61.4h0.55v0.55h-0.55z M140.3,65.7h0.55v0.55h-0.55z M141.5,70.8h0.55v0.55h-0.55z M133.4,64.4h0.55v0.55h-0.55z M145.2,60.2h0.55v0.55h-0.55z M133.1,71.0h0.55v0.55h-0.55z M144.8,65.7h0.55v0.55h-0.55z M145.8,60.5h0.55v0.55h-0.55z M135.6,69.2h0.55v0.55h-0.55z M141.1,58.4h0.55v0.55h-0.55z M140.0,69.3h0.55v0.55h-0.55z M135.9,58.4h0.55v0.55h-0.55z M130.4,63.3h0.55v0.55h-0.55z" fill="#555" opacity="0.75"/>
<path d="M159.1,68.6h0.55v0.55h-0.55z M156.8,70.4h0.55v0.55h-0.55z M156.4,69.0h0.55v0.55h-0.55z M164.3,71.9h0.55v0.55h-0.55z M162.1,62.8h0.55v0.55h-0.55z M155.0,76.8h0.55v0.55h-0.55z M160.2,76.8h0.55v0.55h-0.55z M152.4,74.9h0.55v0.55h-0.55z M156.7,71.8h0.55v0.55h-0.55z M156.1,67.1h0.55v0.55h-0.55z M154.3,71.1h0.55v0.55h-0.55z M164.6,66.6h0.55v0.55h-0.55z M156.6,67.0h0.55v0.55h-0.55z M155.4,75.1h0.55v0.55h-0.55z M157.4,67.2h0.55v0.55h-0.55z M162.9,73.5h0.55v0.55h-0.55z M161.2,72.5h0.55v0.55h-0.55z M156.6,75.8h0.55v0.55h-0.55z M156.5,72.9h0.55v0.55h-0.55z M160.3,77.4h0.55v0.55h-0.55z M158.7,75.8h0.55v0.55h-0.55z M151.2,72.4h0.55v0.55h-0.55z M160.5,72.3h0.55v0.55h-0.55z M149.7,75.4h0.55v0.55h-0.55z M156.5,68.5h0.55v0.55h-0.55z M167.1,70.7h0.55v0.55h-0.55z M164.1,63.5h0.55v0.55h-0.55z M162.9,72.8h0.55v0.55h-0.55z M161.0,67.2h0.55v0.55h-0.55z M161.3,70.9h0.55v0.55h-0.55z M166.1,69.4h0.55v0.55h-0.55z M151.7,77.0h0.55v0.55h-0.55z M154.3,70.8h0.55v0.55h-0.55z M163.2,80.0h0.55v0.55h-0.55z M162.3,75.4h0.55v0.55h-0.55z M160.5,72.5h0.55v0.55h-0.55z M159.3,73.4h0.55v0.55h-0.55z M155.2,72.9h0.55v0.55h-0.55z M165.2,72.6h0.55v0.55h-0.55z M158.9,75.5h0.55v0.55h-0.55z M155.4,70.9h0.55v0.55h-0.55z M170.6,75.9h0.55v0.55h-0.55z M163.3,71.3h0.55v0.55h-0.55z M156.1,66.4h0.55v0.55h-0.55z M159.8,78.2h0.55v0.55h-0.55z M159.3,76.0h0.55v0.55h-0.55z M158.2,72.4h0.55v0.55h-0.55z M161.5,86.2h0.55v0.55h-0.55z M160.3,67.5h0.55v0.55h-0.55z M164.2,71.9h0.55v0.55h-0.55z M162.3,68.5h0.55v0.55h-0.55z M164.0,68.6h0.55v0.55h-0.55z M161.6,70.0h0.55v0.55h-0.55z M156.1,74.8h0.55v0.55h-0.55z M161.7,62.2h0.55v0.55h-0.55z M163.1,75.9h0.55v0.55h-0.55z M160.6,73.6h0.55v0.55h-0.55z M161.0,73.4h0.55v0.55h-0.55z M158.0,77.0h0.55v0.55h-0.55z M165.7,67.9h0.55v0.55h-0.55z M160.0,67.5h0.55v0.55h-0.55z M157.5,76.6h0.55v0.55h-0.55z M159.8,73.0h0.55v0.55h-0.55z M157.9,83.3h0.55v0.55h-0.55z M165.3,73.9h0.55v0.55h-0.55z M160.7,80.4h0.55v0.55h-0.55z M165.5,73.4h0.55v0.55h-0.55z M158.8,66.5h0.55v0.55h-0.55z M166.2,80.2h0.55v0.55h-0.55z M171.0,73.4h0.55v0.55h-0.55z M164.0,62.6h0.55v0.55h-0.55z M162.9,68.4h0.55v0.55h-0.55z M155.7,68.0h0.55v0.55h-0.55z M155.5,69.5h0.55v0.55h-0.55z M162.3,68.6h0.55v0.55h-0.55z M158.0,71.3h0.55v0.55h-0.55z M169.4,75.7h0.55v0.55h-0.55z M156.7,75.8h0.55v0.55h-0.55z M167.7,71.3h0.55v0.55h-0.55z M163.2,77.2h0.55v0.55h-0.55z M152.9,72.7h0.55v0.55h-0.55z M159.1,76.0h0.55v0.55h-0.55z M166.0,69.7h0.55v0.55h-0.55z M152.4,69.6h0.55v0.55h-0.55z M159.7,68.9h0.55v0.55h-0.55z M160.9,66.4h0.55v0.55h-0.55z M162.3,75.5h0.55v0.55h-0.55z M169.3,71.4h0.55v0.55h-0.55z M164.5,68.6h0.55v0.55h-0.55z M156.4,68.2h0.55v0.55h-0.55z M159.1,65.8h0.55v0.55h-0.55z M151.1,82.7h0.55v0.55h-0.55z M158.3,72.0h0.55v0.55h-0.55z M160.6,69.9h0.55v0.55h-0.55z M158.7,77.4h0.55v0.55h-0.55z M161.0,77.3h0.55v0.55h-0.55z M154.0,74.3h0.55v0.55h-0.55z M155.3,65.8h0.55v0.55h-0.55z M163.2,73.1h0.55v0.55h-0.55z M163.0,75.0h0.55v0.55h-0.55z M150.3,74.6h0.55v0.55h-0.55z M168.8,72.8h0.55v0.55h-0.55z M164.3,78.8h0.55v0.55h-0.55z M168.2,60.1h0.55v0.55h-0.55z M158.2,71.2h0.55v0.55h-0.55z M158.5,77.2h0.55v0.55h-0.55z M153.7,60.3h0.55v0.55h-0.55z M161.0,70.7h0.55v0.55h-0.55z M164.7,77.3h0.55v0.55h-0.55z M161.5,78.4h0.55v0.55h-0.55z M153.4,71.6h0.55v0.55h-0.55z M153.3,80.9h0.55v0.55h-0.55z M158.4,76.6h0.55v0.55h-0.55z M161.9,75.5h0.55v0.55h-0.55z M164.5,77.3h0.55v0.55h-0.55z M163.4,72.5h0.55v0.55h-0.55z M163.2,62.9h0.55v0.55h-0.55z M155.3,78.9h0.55v0.55h-0.55z M162.4,65.3h0.55v0.55h-0.55z M153.6,66.2h0.55v0.55h-0.55z M157.8,76.1h0.55v0.55h-0.55z M159.6,75.6h0.55v0.55h-0.55z M153.5,71.5h0.55v0.55h-0.55z M160.5,74.0h0.55v0.55h-0.55z M163.1,72.5h0.55v0.55h-0.55z M163.6,77.8h0.55v0.55h-0.55z M162.0,66.3h0.55v0.55h-0.55z M156.5,67.9h0.55v0.55h-0.55z M167.1,75.7h0.55v0.55h-0.55z M160.0,69.2h0.55v0.55h-0.55z M156.9,79.0h0.55v0.55h-0.55z M158.9,69.1h0.55v0.55h-0.55z M156.0,75.2h0.55v0.55h-0.55z M150.8,69.4h0.55v0.55h-0.55z M162.6,75.9h0.55v0.55h-0.55z M162.5,70.5h0.55v0.55h-0.55z M163.6,79.9h0.55v0.55h-0.55z M155.7,68.0h0.55v0.55h-0.55z M158.0,72.5h0.55v0.55h-0.55z M157.2,69.0h0.55v0.55h-0.55z M149.0,76.1h0.55v0.55h-0.55z M154.7,72.1h0.55v0.55h-0.55z M157.2,75.3h0.55v0.55h-0.55z M153.8,66.6h0.55v0.55h-0.55z M160.1,72.3h0.55v0.55h-0.55z M157.3,73.8h0.55v0.55h-0.55z M157.3,70.3h0.55v0.55h-0.55z M154.0,71.8h0.55v0.55h-0.55z M164.0,71.3h0.55v0.55h-0.55z M159.4,76.5h0.55v0.55h-0.55z M157.7,68.9h0.55v0.55h-0.55z M160.1,79.9h0.55v0.55h-0.55z M157.8,71.6h0.55v0.55h-0.55z M161.2,69.9h0.55v0.55h-0.55z M157.9,78.0h0.55v0.55h-0.55z M151.5,74.3h0.55v0.55h-0.55z M164.1,77.9h0.55v0.55h-0.55z M160.8,74.2h0.55v0.55h-0.55z M157.0,63.8h0.55v0.55h-0.55z M160.7,72.8h0.55v0.55h-0.55z M161.7,78.2h0.55v0.55h-0.55z M171.7,74.4h0.55v0.55h-0.55z M167.9,72.9h0.55v0.55h-0.55z M161.4,67.4h0.55v0.55h-0.55z M160.9,69.1h0.55v0.55h-0.55z M160.7,65.5h0.55v0.55h-0.55z M165.0,64.9h0.55v0.55h-0.55z M162.0,62.3h0.55v0.55h-0.55z M159.7,73.3h0.55v0.55h-0.55z M163.6,79.3h0.55v0.55h-0.55z" fill="#555" opacity="0.75"/>
<path d="M154.3,85.0h0.55v0.55h-0.55z M159.5,86.3h0.55v0.55h-0.55z M167.1,81.6h0.55v0.55h-0.55z M155.2,81.5h0.55v0.55h-0.55z M165.4,80.4h0.55v0.55h-0.55z M151.1,82.7h0.55v0.55h-0.55z M166.8,97.3h0.55v0.55h-0.55z M157.2,81.2h0.55v0.55h-0.55z M164.6,93.3h0.55v0.55h-0.55z M160.6,86.4h0.55v0.55h-0.55z M164.8,74.9h0.55v0.55h-0.55z M168.2,78.5h0.55v0.55h-0.55z M150.6,95.3h0.55v0.55h-0.55z M161.0,91.8h0.55v0.55h-0.55z M152.6,88.2h0.55v0.55h-0.55z M162.2,87.5h0.55v0.55h-0.55z M161.5,85.5h0.55v0.55h-0.55z M160.4,77.6h0.55v0.55h-0.55z M171.2,82.3h0.55v0.55h-0.55z M154.0,88.1h0.55v0.55h-0.55z M159.3,80.5h0.55v0.55h-0.55z M177.5,88.8h0.55v0.55h-0.55z M151.2,82.4h0.55v0.55h-0.55z M158.6,85.3h0.55v0.55h-0.55z M163.9,89.3h0.55v0.55h-0.55z M170.6,83.0h0.55v0.55h-0.55z M159.1,93.9h0.55v0.55h-0.55z M167.1,84.2h0.55v0.55h-0.55z M158.0,94.4h0.55v0.55h-0.55z M164.2,94.5h0.55v0.55h-0.55z M166.7,90.0h0.55v0.55h-0.55z M161.9,87.4h0.55v0.55h-0.55z M160.9,77.1h0.55v0.55h-0.55z M163.7,92.4h0.55v0.55h-0.55z M164.7,81.4h0.55v0.55h-0.55z M159.8,94.5h0.55v0.55h-0.55z M166.7,79.7h0.55v0.55h-0.55z M153.1,87.7h0.55v0.55h-0.55z M153.0,100.0h0.55v0.55h-0.55z M160.2,91.2h0.55v0.55h-0.55z M150.8,87.1h0.55v0.55h-0.55z M161.8,75.1h0.55v0.55h-0.55z M170.6,86.2h0.55v0.55h-0.55z M163.1,84.0h0.55v0.55h-0.55z M162.0,91.0h0.55v0.55h-0.55z M162.8,89.1h0.55v0.55h-0.55z M152.2,85.9h0.55v0.55h-0.55z M154.0,88.1h0.55v0.55h-0.55z M156.7,73.1h0.55v0.55h-0.55z M169.2,84.0h0.55v0.55h-0.55z M158.8,86.0h0.55v0.55h-0.55z M159.7,90.7h0.55v0.55h-0.55z M169.3,82.9h0.55v0.55h-0.55z M164.2,90.9h0.55v0.55h-0.55z M153.9,91.0h0.55v0.55h-0.55z M165.6,84.9h0.55v0.55h-0.55z M158.9,78.7h0.55v0.55h-0.55z M166.0,81.0h0.55v0.55h-0.55z M161.5,76.1h0.55v0.55h-0.55z M159.0,73.6h0.55v0.55h-0.55z M156.1,91.2h0.55v0.55h-0.55z M154.4,77.8h0.55v0.55h-0.55z M156.4,82.1h0.55v0.55h-0.55z M154.1,86.6h0.55v0.55h-0.55z M157.1,90.5h0.55v0.55h-0.55z M162.6,87.1h0.55v0.55h-0.55z M162.0,88.7h0.55v0.55h-0.55z M150.6,100.2h0.55v0.55h-0.55z M150.8,95.7h0.55v0.55h-0.55z M155.9,70.0h0.55v0.55h-0.55z M152.7,70.6h0.55v0.55h-0.55z M161.5,83.1h0.55v0.55h-0.55z M174.7,86.3h0.55v0.55h-0.55z M156.4,95.2h0.55v0.55h-0.55z M176.2,79.6h0.55v0.55h-0.55z M155.9,85.0h0.55v0.55h-0.55z M153.5,79.8h0.55v0.55h-0.55z M168.9,93.5h0.55v0.55h-0.55z M166.1,86.2h0.55v0.55h-0.55z M167.1,73.0h0.55v0.55h-0.55z M167.8,74.5h0.55v0.55h-0.55z M155.1,88.2h0.55v0.55h-0.55z M154.1,87.2h0.55v0.55h-0.55z M161.8,93.1h0.55v0.55h-0.55z M159.6,86.2h0.55v0.55h-0.55z M158.9,84.8h0.55v0.55h-0.55z M158.9,85.0h0.55v0.55h-0.55z M163.1,93.6h0.55v0.55h-0.55z M161.7,63.6h0.55v0.55h-0.55z M161.7,72.2h0.55v0.55h-0.55z M154.6,89.6h0.55v0.55h-0.55z M146.8,80.3h0.55v0.55h-0.55z M161.2,85.0h0.55v0.55h-0.55z M157.5,74.9h0.55v0.55h-0.55z M170.5,75.0h0.55v0.55h-0.55z M156.2,90.7h0.55v0.55h-0.55z M161.0,90.9h0.55v0.55h-0.55z M167.2,77.5h0.55v0.55h-0.55z M163.0,80.2h0.55v0.55h-0.55z M160.8,84.7h0.55v0.55h-0.55z M155.9,86.1h0.55v0.55h-0.55z M155.6,107.4h0.55v0.55h-0.55z M174.4,86.4h0.55v0.55h-0.55z M152.2,65.4h0.55v0.55h-0.55z M150.9,95.0h0.55v0.55h-0.55z M153.9,82.9h0.55v0.55h-0.55z M157.7,81.8h0.55v0.55h-0.55z M158.0,83.1h0.55v0.55h-0.55z M169.3,88.4h0.55v0.55h-0.55z M172.9,88.8h0.55v0.55h-0.55z M162.5,102.3h0.55v0.55h-0.55z M157.6,97.1h0.55v0.55h-0.55z M156.2,95.8h0.55v0.55h-0.55z M162.4,90.9h0.55v0.55h-0.55z M159.1,107.2h0.55v0.55h-0.55z M165.1,81.7h0.55v0.55h-0.55z M173.1,81.4h0.55v0.55h-0.55z M165.5,94.1h0.55v0.55h-0.55z M161.9,92.7h0.55v0.55h-0.55z M159.4,91.0h0.55v0.55h-0.55z M157.4,83.3h0.55v0.55h-0.55z M159.2,89.6h0.55v0.55h-0.55z M159.7,98.9h0.55v0.55h-0.55z M157.3,105.3h0.55v0.55h-0.55z M161.7,87.1h0.55v0.55h-0.55z M160.7,95.0h0.55v0.55h-0.55z M158.6,93.0h0.55v0.55h-0.55z M160.6,74.9h0.55v0.55h-0.55z M161.3,101.4h0.55v0.55h-0.55z M156.1,93.5h0.55v0.55h-0.55z M154.8,95.7h0.55v0.55h-0.55z M155.0,81.8h0.55v0.55h-0.55z M161.7,88.7h0.55v0.55h-0.55z M160.0,100.6h0.55v0.55h-0.55z M165.7,82.5h0.55v0.55h-0.55z M164.0,88.2h0.55v0.55h-0.55z M163.3,84.4h0.55v0.55h-0.55z M158.9,87.5h0.55v0.55h-0.55z M155.6,86.2h0.55v0.55h-0.55z M176.3,83.8h0.55v0.55h-0.55z M150.3,85.7h0.55v0.55h-0.55z M157.9,78.6h0.55v0.55h-0.55z M160.9,84.0h0.55v0.55h-0.55z M165.7,98.2h0.55v0.55h-0.55z M152.4,84.7h0.55v0.55h-0.55z M152.4,77.2h0.55v0.55h-0.55z M160.7,90.7h0.55v0.55h-0.55z M158.0,100.6h0.55v0.55h-0.55z M151.4,85.7h0.55v0.55h-0.55z M161.4,79.2h0.55v0.55h-0.55z M159.9,72.9h0.55v0.55h-0.55z M154.0,85.4h0.55v0.55h-0.55z M154.7,87.5h0.55v0.55h-0.55z M162.5,95.5h0.55v0.55h-0.55z M163.3,81.5h0.55v0.55h-0.55z M156.1,89.6h0.55v0.55h-0.55z M157.1,102.4h0.55v0.55h-0.55z M160.4,82.8h0.55v0.55h-0.55z M155.6,85.3h0.55v0.55h-0.55z M158.9,88.7h0.55v0.55h-0.55z M156.5,81.8h0.55v0.55h-0.55z M159.5,82.6h0.55v0.55h-0.55z M154.8,85.1h0.55v0.55h-0.55z M159.4,83.9h0.55v0.55h-0.55z M162.3,77.1h0.55v0.55h-0.55z M160.7,90.5h0.55v0.55h-0.55z M161.0,84.9h0.55v0.55h-0.55z M156.7,82.7h0.55v0.55h-0.55z M152.8,102.3h0.55v0.55h-0.55z M163.0,89.7h0.55v0.55h-0.55z M165.9,86.5h0.55v0.55h-0.55z M162.2,87.0h0.55v0.55h-0.55z M155.3,69.5h0.55v0.55h-0.55z M164.4,94.9h0.55v0.55h-0.55z M164.0,84.9h0.55v0.55h-0.55z M164.4,93.4h0.55v0.55h-0.55z M167.6,89.2h0.55v0.55h-0.55z M166.4,72.7h0.55v0.55h-0.55z M166.0,92.3h0.55v0.55h-0.55z M154.7,85.8h0.55v0.55h-0.55z M163.7,95.4h0.55v0.55h-0.55z M165.5,95.3h0.55v0.55h-0.55z M160.9,86.2h0.55v0.55h-0.55z M163.8,80.6h0.55v0.55h-0.55z M155.2,90.9h0.55v0.55h-0.55z M159.7,86.2h0.55v0.55h-0.55z M167.1,67.1h0.55v0.55h-0.55z M159.2,91.8h0.55v0.55h-0.55z M159.3,96.9h0.55v0.55h-0.55z M153.8,84.4h0.55v0.55h-0.55z M157.4,82.3h0.55v0.55h-0.55z M154.0,84.8h0.55v0.55h-0.55z M155.2,78.4h0.55v0.55h-0.55z M163.6,85.5h0.55v0.55h-0.55z M153.3,85.3h0.55v0.55h-0.55z M163.5,92.1h0.55v0.55h-0.55z M160.9,95.4h0.55v0.55h-0.55z M159.4,80.4h0.55v0.55h-0.55z M157.1,87.2h0.55v0.55h-0.55z M146.6,98.3h0.55v0.55h-0.55z" fill="#666" opacity="0.75"/>
<path d="M166.2,45.6h0.55v0.55h-0.55z M156.6,54.8h0.55v0.55h-0.55z M174.9,37.9h0.55v0.55h-0.55z M169.1,49.5h0.55v0.55h-0.55z M154.3,55.1h0.55v0.55h-0.55z M151.1,45.5h0.55v0.55h-0.55z M142.5,67.6h0.55v0.55h-0.55z M154.5,50.3h0.55v0.55h-0.55z M157.8,49.1h0.55v0.55h-0.55z M149.6,57.9h0.55v0.55h-0.55z M161.4,52.7h0.55v0.55h-0.55z M146.8,62.3h0.55v0.55h-0.55z M162.6,55.7h0.55v0.55h-0.55z M155.3,50.4h0.55v0.55h-0.55z M147.0,62.7h0.55v0.55h-0.55z M162.6,43.6h0.55v0.55h-0.55z M159.0,50.8h0.55v0.55h-0.55z M160.4,55.6h0.55v0.55h-0.55z M168.9,49.9h0.55v0.55h-0.55z M149.6,49.3h0.55v0.55h-0.55z M151.3,49.9h0.55v0.55h-0.55z M163.2,46.5h0.55v0.55h-0.55z M157.7,55.3h0.55v0.55h-0.55z M154.5,62.8h0.55v0.55h-0.55z M140.6,60.4h0.55v0.55h-0.55z M150.8,54.4h0.55v0.55h-0.55z M157.9,50.7h0.55v0.55h-0.55z M151.4,54.4h0.55v0.55h-0.55z M150.5,54.6h0.55v0.55h-0.55z M153.0,46.8h0.55v0.55h-0.55z M170.7,47.4h0.55v0.55h-0.55z M152.2,56.0h0.55v0.55h-0.55z M166.1,57.6h0.55v0.55h-0.55z M162.7,53.6h0.55v0.55h-0.55z M150.4,64.3h0.55v0.55h-0.55z M154.5,53.1h0.55v0.55h-0.55z M161.5,54.7h0.55v0.55h-0.55z M160.0,50.5h0.55v0.55h-0.55z M160.4,59.1h0.55v0.55h-0.55z M170.0,51.1h0.55v0.55h-0.55z M165.0,44.3h0.55v0.55h-0.55z M155.9,46.0h0.55v0.55h-0.55z M177.2,35.9h0.55v0.55h-0.55z M147.6,50.5h0.55v0.55h-0.55z M155.0,43.2h0.55v0.55h-0.55z M148.9,58.8h0.55v0.55h-0.55z M144.4,61.3h0.55v0.55h-0.55z M163.1,45.6h0.55v0.55h-0.55z M134.2,55.4h0.55v0.55h-0.55z M159.1,47.5h0.55v0.55h-0.55z M156.1,52.5h0.55v0.55h-0.55z M157.8,61.0h0.55v0.55h-0.55z M165.1,55.7h0.55v0.55h-0.55z M161.0,37.7h0.55v0.55h-0.55z M156.9,52.7h0.55v0.55h-0.55z M148.2,58.4h0.55v0.55h-0.55z M160.9,40.4h0.55v0.55h-0.55z M168.5,50.3h0.55v0.55h-0.55z M158.8,47.2h0.55v0.55h-0.55z M153.8,59.2h0.55v0.55h-0.55z M172.5,49.0h0.55v0.55h-0.55z M174.6,43.4h0.55v0.55h-0.55z M150.3,64.7h0.55v0.55h-0.55z M171.3,47.3h0.55v0.55h-0.55z M168.3,50.1h0.55v0.55h-0.55z M159.1,53.9h0.55v0.55h-0.55z M171.5,40.4h0.55v0.55h-0.55z M154.4,52.1h0.55v0.55h-0.55z M153.3,52.9h0.55v0.55h-0.55z M146.9,52.9h0.55v0.55h-0.55z M166.1,47.5h0.55v0.55h-0.55z M159.1,54.5h0.55v0.55h-0.55z M174.9,42.7h0.55v0.55h-0.55z M154.0,57.3h0.55v0.55h-0.55z M164.8,43.1h0.55v0.55h-0.55z M151.8,50.8h0.55v0.55h-0.55z M159.4,51.0h0.55v0.55h-0.55z M167.6,57.2h0.55v0.55h-0.55z M169.9,44.5h0.55v0.55h-0.55z M154.5,48.1h0.55v0.55h-0.55z M152.1,58.8h0.55v0.55h-0.55z M163.6,38.6h0.55v0.55h-0.55z M159.4,56.8h0.55v0.55h-0.55z M145.8,58.8h0.55v0.55h-0.55z M153.8,46.8h0.55v0.55h-0.55z M162.1,51.4h0.55v0.55h-0.55z M172.1,47.8h0.55v0.55h-0.55z M157.5,51.1h0.55v0.55h-0.55z M170.0,42.3h0.55v0.55h-0.55z M157.1,48.2h0.55v0.55h-0.55z M155.9,58.5h0.55v0.55h-0.55z M154.1,58.5h0.55v0.55h-0.55z M152.8,47.5h0.55v0.55h-0.55z M146.6,70.2h0.55v0.55h-0.55z M159.3,57.8h0.55v0.55h-0.55z M157.9,52.6h0.55v0.55h-0.55z M151.8,59.7h0.55v0.55h-0.55z M165.9,45.1h0.55v0.55h-0.55z M166.6,54.9h0.55v0.55h-0.55z M170.0,49.4h0.55v0.55h-0.55z M170.1,52.9h0.55v0.55h-0.55z M160.7,41.7h0.55v0.55h-0.55z M151.0,61.6h0.55v0.55h-0.55z M153.2,52.8h0.55v0.55h-0.55z M158.0,48.1h0.55v0.55h-0.55z M175.5,42.8h0.55v0.55h-0.55z M173.4,47.0h0.55v0.55h-0.55z M156.9,52.4h0.55v0.55h-0.55z M147.8,56.2h0.55v0.55h-0.55z M164.9,49.7h0.55v0.55h-0.55z M160.4,46.7h0.55v0.55h-0.55z M165.7,45.1h0.55v0.55h-0.55z M155.0,48.3h0.55v0.55h-0.55z M173.0,47.4h0.55v0.55h-0.55z M156.8,58.4h0.55v0.55h-0.55z M156.2,45.9h0.55v0.55h-0.55z M161.7,53.2h0.55v0.55h-0.55z M168.8,38.2h0.55v0.55h-0.55z" fill="#777" opacity="0.75"/>
<path d="M132.8,55.4h0.55v0.55h-0.55z M137.9,52.7h0.55v0.55h-0.55z M128.7,52.9h0.55v0.55h-0.55z M132.7,50.9h0.55v0.55h-0.55z M136.7,51.1h0.55v0.55h-0.55z M136.3,54.7h0.55v0.55h-0.55z M134.0,55.0h0.55v0.55h-0.55z M141.3,55.6h0.55v0.55h-0.55z M131.9,50.5h0.55v0.55h-0.55z M132.0,50.1h0.55v0.55h-0.55z M132.8,53.5h0.55v0.55h-0.55z M136.1,54.0h0.55v0.55h-0.55z M141.6,52.4h0.55v0.55h-0.55z M132.1,51.0h0.55v0.55h-0.55z M131.3,54.0h0.55v0.55h-0.55z M141.6,53.8h0.55v0.55h-0.55z M134.2,53.4h0.55v0.55h-0.55z M140.2,52.1h0.55v0.55h-0.55z M138.7,53.1h0.55v0.55h-0.55z M133.7,55.1h0.55v0.55h-0.55z M139.8,53.0h0.55v0.55h-0.55z M132.6,50.5h0.55v0.55h-0.55z M132.3,55.7h0.55v0.55h-0.55z M136.4,53.5h0.55v0.55h-0.55z M138.1,53.2h0.55v0.55h-0.55z" fill="#777" opacity="0.75"/>
<path d="M176.0,58.7h0.55v0.55h-0.55z M181.8,87.7h0.55v0.55h-0.55z M174.5,104.2h0.55v0.55h-0.55z M164.0,83.8h0.55v0.55h-0.55z M175.2,83.0h0.55v0.55h-0.55z M148.6,84.3h0.55v0.55h-0.55z M124.7,91.5h0.55v0.55h-0.55z M123.3,102.6h0.55v0.55h-0.55z M165.6,102.3h0.55v0.55h-0.55z M163.3,64.8h0.55v0.55h-0.55z M153.8,68.1h0.55v0.55h-0.55z M125.4,94.9h0.55v0.55h-0.55z M130.7,52.1h0.55v0.55h-0.55z M141.7,85.1h0.55v0.55h-0.55z M147.3,58.3h0.55v0.55h-0.55z M159.5,58.6h0.55v0.55h-0.55z M131.5,92.3h0.55v0.55h-0.55z M150.4,84.8h0.55v0.55h-0.55z M120.9,105.2h0.55v0.55h-0.55z M131.5,75.0h0.55v0.55h-0.55z M131.0,59.5h0.55v0.55h-0.55z M173.0,72.9h0.55v0.55h-0.55z M187.1,44.7h0.55v0.55h-0.55z M179.6,100.0h0.55v0.55h-0.55z M141.4,100.7h0.55v0.55h-0.55z M138.0,86.0h0.55v0.55h-0.55z M141.8,73.4h0.55v0.55h-0.55z M162.6,96.1h0.55v0.55h-0.55z M141.4,42.5h0.55v0.55h-0.55z M138.3,88.4h0.55v0.55h-0.55z M142.5,68.5h0.55v0.55h-0.55z M164.3,65.2h0.55v0.55h-0.55z M180.2,64.9h0.55v0.55h-0.55z M152.5,97.6h0.55v0.55h-0.55z M122.7,63.5h0.55v0.55h-0.55z M165.5,82.7h0.55v0.55h-0.55z M149.5,67.3h0.55v0.55h-0.55z M181.9,99.3h0.55v0.55h-0.55z M137.0,67.3h0.55v0.55h-0.55z M119.5,44.3h0.55v0.55h-0.55z" fill="#888" opacity="0.7"/>
<path d="M140.2,54.5 C140.4,53.2 141.8,51.4 143.2,50.0 C144.6,48.6 146.6,47.1 148.7,46.0 C150.8,44.9 153.4,44.2 155.7,43.5 C158.0,42.8 160.6,41.9 162.7,41.6 C164.8,41.3 167.1,41.4 168.2,41.8 C169.3,42.2 169.4,42.9 169.2,44.0 C168.9,45.1 167.8,46.7 166.7,48.5 C165.6,50.3 163.9,53.1 162.7,55.0 C161.4,56.9 160.9,58.9 159.2,60.0 C157.5,61.1 154.8,61.7 152.7,61.8 C150.6,61.9 148.5,61.2 146.7,60.5 C144.9,59.8 142.8,58.5 141.7,57.5 C140.6,56.5 139.9,55.8 140.2,54.5Z" fill="none" stroke="#333" stroke-width="0.42"/>
<path d="M141.8,54.2 C142.0,53.0 143.2,51.3 144.5,50.0 C145.8,48.7 147.7,47.3 149.6,46.3 C151.5,45.3 153.9,44.7 156.0,44.0 C158.2,43.4 160.5,42.5 162.5,42.3 C164.4,42.0 166.5,42.1 167.5,42.5 C168.5,42.8 168.7,43.5 168.4,44.5 C168.2,45.5 167.1,46.9 166.1,48.6 C165.1,50.3 163.6,52.9 162.5,54.6 C161.3,56.4 160.8,58.2 159.2,59.2 C157.7,60.3 155.2,60.8 153.3,60.9 C151.3,60.9 149.4,60.3 147.7,59.7 C146.1,59.0 144.1,57.8 143.1,56.9 C142.1,56.0 141.5,55.3 141.8,54.2Z" fill="none" stroke="#333" stroke-width="0.42"/>
<path d="M143.3,53.8 C143.5,52.8 144.6,51.2 145.8,50.0 C147.0,48.8 148.7,47.6 150.5,46.7 C152.2,45.8 154.4,45.2 156.3,44.6 C158.3,44.0 160.5,43.2 162.2,43.0 C164.0,42.7 165.9,42.8 166.8,43.1 C167.7,43.5 167.9,44.1 167.7,45.0 C167.5,45.9 166.5,47.2 165.6,48.8 C164.7,50.3 163.3,52.6 162.2,54.2 C161.2,55.8 160.7,57.5 159.3,58.4 C157.9,59.4 155.6,59.9 153.8,59.9 C152.1,60.0 150.3,59.5 148.8,58.9 C147.2,58.3 145.5,57.2 144.6,56.3 C143.7,55.5 143.1,54.9 143.3,53.8Z" fill="none" stroke="#333" stroke-width="0.42"/>
<path d="M144.9,53.5 C145.1,52.5 146.1,51.1 147.2,50.0 C148.2,49.0 149.8,47.8 151.3,47.0 C152.9,46.2 154.9,45.7 156.7,45.1 C158.4,44.6 160.4,43.9 162.0,43.7 C163.6,43.4 165.3,43.5 166.2,43.8 C167.0,44.1 167.1,44.6 166.9,45.5 C166.7,46.3 165.8,47.5 165.0,48.9 C164.2,50.3 162.9,52.4 162.0,53.8 C161.0,55.3 160.6,56.8 159.3,57.6 C158.1,58.5 156.0,59.0 154.4,59.0 C152.8,59.1 151.2,58.6 149.8,58.0 C148.4,57.5 146.8,56.5 146.0,55.7 C145.2,55.0 144.7,54.4 144.9,53.5Z" fill="none" stroke="#333" stroke-width="0.42"/>
<path d="M146.2,53.2 C146.4,52.3 147.3,51.0 148.3,50.1 C149.3,49.1 150.7,48.0 152.1,47.3 C153.5,46.6 155.3,46.1 156.9,45.6 C158.6,45.1 160.3,44.5 161.8,44.3 C163.2,44.1 164.8,44.1 165.6,44.4 C166.3,44.7 166.4,45.2 166.3,45.9 C166.1,46.7 165.3,47.8 164.5,49.0 C163.8,50.3 162.6,52.2 161.8,53.5 C160.9,54.8 160.5,56.2 159.4,57.0 C158.2,57.7 156.3,58.1 154.9,58.2 C153.4,58.3 152.0,57.8 150.7,57.3 C149.5,56.8 148.0,55.9 147.3,55.2 C146.5,54.5 146.1,54.0 146.2,53.2Z" fill="none" stroke="#333" stroke-width="0.42"/>
<path d="M147.6,52.9 C147.8,52.1 148.6,51.0 149.5,50.1 C150.3,49.2 151.6,48.3 152.9,47.6 C154.2,46.9 155.8,46.5 157.2,46.0 C158.7,45.6 160.3,45.0 161.6,44.9 C162.9,44.7 164.3,44.7 165.0,45.0 C165.6,45.2 165.7,45.7 165.6,46.4 C165.4,47.0 164.7,48.0 164.0,49.1 C163.4,50.3 162.3,52.0 161.6,53.2 C160.8,54.4 160.4,55.6 159.4,56.3 C158.4,57.0 156.7,57.3 155.4,57.4 C154.1,57.4 152.8,57.0 151.6,56.6 C150.5,56.1 149.2,55.3 148.5,54.7 C147.9,54.1 147.5,53.6 147.6,52.9Z" fill="none" stroke="#333" stroke-width="0.42"/>
<path d="M148.8,52.6 C148.9,51.9 149.7,50.9 150.5,50.1 C151.3,49.3 152.4,48.5 153.5,47.8 C154.7,47.2 156.2,46.9 157.5,46.4 C158.8,46.0 160.2,45.5 161.4,45.4 C162.5,45.2 163.9,45.3 164.5,45.5 C165.1,45.7 165.2,46.1 165.0,46.7 C164.9,47.4 164.2,48.2 163.6,49.2 C163.0,50.3 162.1,51.8 161.4,52.9 C160.7,54.0 160.4,55.1 159.4,55.7 C158.5,56.3 156.9,56.6 155.8,56.7 C154.6,56.7 153.4,56.4 152.4,56.0 C151.4,55.6 150.2,54.8 149.6,54.3 C149.0,53.7 148.6,53.3 148.8,52.6Z" fill="none" stroke="#333" stroke-width="0.42"/>
<path d="M149.9,52.4 C150.1,51.7 150.7,50.8 151.4,50.1 C152.2,49.4 153.2,48.6 154.2,48.1 C155.2,47.6 156.5,47.2 157.7,46.9 C158.9,46.5 160.2,46.0 161.2,45.9 C162.2,45.8 163.4,45.8 163.9,46.0 C164.5,46.2 164.6,46.5 164.4,47.1 C164.3,47.7 163.7,48.4 163.2,49.4 C162.7,50.3 161.8,51.6 161.2,52.6 C160.6,53.6 160.3,54.5 159.4,55.1 C158.6,55.7 157.2,56.0 156.2,56.0 C155.2,56.0 154.1,55.7 153.2,55.4 C152.3,55.0 151.2,54.4 150.7,53.9 C150.2,53.4 149.8,53.0 149.9,52.4Z" fill="none" stroke="#333" stroke-width="0.42"/>
<path d="M150.9,52.1 C151.0,51.6 151.6,50.7 152.3,50.1 C152.9,49.5 153.8,48.8 154.8,48.3 C155.7,47.8 156.8,47.5 157.9,47.2 C158.9,46.9 160.1,46.5 161.0,46.3 C162.0,46.2 163.0,46.2 163.5,46.4 C164.0,46.6 164.1,46.9 164.0,47.4 C163.9,47.9 163.3,48.6 162.8,49.4 C162.4,50.3 161.6,51.5 161.0,52.4 C160.5,53.2 160.2,54.1 159.5,54.6 C158.7,55.1 157.5,55.4 156.5,55.4 C155.6,55.5 154.7,55.2 153.8,54.8 C153.0,54.5 152.1,53.9 151.6,53.5 C151.1,53.0 150.8,52.7 150.9,52.1Z" fill="none" stroke="#333" stroke-width="0.42"/>
<path d="M151.9,51.9 C152.0,51.4 152.5,50.7 153.1,50.1 C153.7,49.6 154.5,49.0 155.3,48.5 C156.1,48.1 157.2,47.8 158.1,47.5 C159.0,47.2 160.1,46.9 160.9,46.8 C161.7,46.6 162.7,46.7 163.1,46.8 C163.5,47.0 163.6,47.3 163.5,47.7 C163.4,48.2 162.9,48.8 162.5,49.5 C162.1,50.3 161.4,51.4 160.9,52.1 C160.4,52.9 160.2,53.7 159.5,54.1 C158.8,54.6 157.7,54.8 156.9,54.8 C156.1,54.9 155.2,54.6 154.5,54.3 C153.8,54.0 152.9,53.5 152.5,53.1 C152.1,52.7 151.8,52.4 151.9,51.9Z" fill="none" stroke="#333" stroke-width="0.42"/>
<ellipse cx="159.7" cy="50.2" rx="7.6" ry="6.4" fill="url(#cg)" transform="rotate(-25 159.7 50.2)"/>
<path d="M141.0,48.5 C141.0,48.9 140.9,49.3 140.6,49.6 C140.4,50.0 140.0,50.4 139.5,50.6 C139.1,50.9 138.5,51.1 137.9,51.3 C137.3,51.4 136.6,51.5 136.0,51.5 C135.4,51.5 134.7,51.4 134.1,51.3 C133.5,51.1 132.9,50.9 132.5,50.6 C132.0,50.4 131.6,50.0 131.4,49.6 C131.1,49.3 131.0,48.9 131.0,48.5 C131.0,48.1 131.1,47.7 131.4,47.4 C131.6,47.0 132.0,46.6 132.5,46.4 C132.9,46.1 133.5,45.9 134.1,45.7 C134.7,45.6 135.4,45.5 136.0,45.5 C136.6,45.5 137.3,45.6 137.9,45.7 C138.5,45.9 139.1,46.1 139.5,46.4 C140.0,46.6 140.4,47.0 140.6,47.4 C140.9,47.7 141.0,48.1 141.0,48.5Z" fill="none" stroke="#222" stroke-width="0.5"/>
<path d="M140.3,48.5 C140.3,48.8 140.2,49.2 140.0,49.5 C139.8,49.8 139.4,50.1 139.0,50.3 C138.7,50.6 138.2,50.8 137.6,50.9 C137.1,51.0 136.5,51.1 136.0,51.1 C135.5,51.1 134.9,51.0 134.4,50.9 C133.8,50.8 133.3,50.6 133.0,50.3 C132.6,50.1 132.2,49.8 132.0,49.5 C131.8,49.2 131.7,48.8 131.7,48.5 C131.7,48.2 131.8,47.8 132.0,47.5 C132.2,47.2 132.6,46.9 133.0,46.7 C133.3,46.4 133.8,46.2 134.4,46.1 C134.9,46.0 135.5,45.9 136.0,45.9 C136.5,45.9 137.1,46.0 137.6,46.1 C138.2,46.2 138.7,46.4 139.0,46.7 C139.4,46.9 139.8,47.2 140.0,47.5 C140.2,47.8 140.3,48.2 140.3,48.5Z" fill="none" stroke="#222" stroke-width="0.5"/>
<path d="M138.0,48.5 C138.0,48.7 137.9,48.8 137.8,49.0 C137.8,49.1 137.6,49.2 137.4,49.3 C137.2,49.5 137.0,49.6 136.8,49.6 C136.5,49.7 136.3,49.7 136.0,49.7 C135.7,49.7 135.5,49.7 135.2,49.6 C135.0,49.6 134.8,49.5 134.6,49.3 C134.4,49.2 134.2,49.1 134.2,49.0 C134.1,48.8 134.0,48.7 134.0,48.5 C134.0,48.3 134.1,48.2 134.2,48.0 C134.2,47.9 134.4,47.8 134.6,47.7 C134.8,47.5 135.0,47.4 135.2,47.4 C135.5,47.3 135.7,47.3 136.0,47.3 C136.3,47.3 136.5,47.3 136.8,47.4 C137.0,47.4 137.2,47.5 137.4,47.7 C137.6,47.8 137.8,47.9 137.8,48.0 C137.9,48.2 138.0,48.3 138.0,48.5Z" fill="none" stroke="#222" stroke-width="0.5"/>
<path d="M137.1,88.4 C137.1,89.0 137.0,89.7 136.9,90.2 C136.7,90.8 136.5,91.4 136.2,91.8 C135.9,92.2 135.6,92.6 135.2,92.8 C134.8,93.1 134.4,93.2 134.0,93.2 C133.6,93.2 133.2,93.1 132.8,92.8 C132.4,92.6 132.1,92.2 131.8,91.8 C131.5,91.4 131.3,90.8 131.1,90.2 C131.0,89.7 130.9,89.0 130.9,88.4 C130.9,87.8 131.0,87.1 131.1,86.6 C131.3,86.0 131.5,85.4 131.8,85.0 C132.1,84.6 132.4,84.2 132.8,84.0 C133.2,83.7 133.6,83.6 134.0,83.6 C134.4,83.6 134.8,83.7 135.2,84.0 C135.6,84.2 135.9,84.6 136.2,85.0 C136.5,85.4 136.7,86.0 136.9,86.6 C137.0,87.1 137.1,87.8 137.1,88.4Z" fill="none" stroke="#222" stroke-width="0.55"/>
<path d="M136.6,88.4 C136.6,89.0 136.6,89.5 136.4,90.0 C136.3,90.5 136.1,90.9 135.9,91.3 C135.6,91.7 135.3,92.0 135.0,92.2 C134.7,92.4 134.3,92.5 134.0,92.5 C133.7,92.5 133.3,92.4 133.0,92.2 C132.7,92.0 132.4,91.7 132.1,91.3 C131.9,90.9 131.7,90.5 131.6,90.0 C131.4,89.5 131.4,89.0 131.4,88.4 C131.4,87.9 131.4,87.3 131.6,86.9 C131.7,86.4 131.9,85.9 132.1,85.5 C132.4,85.2 132.7,84.9 133.0,84.7 C133.3,84.5 133.7,84.4 134.0,84.4 C134.3,84.4 134.7,84.5 135.0,84.7 C135.3,84.9 135.6,85.2 135.9,85.5 C136.1,85.9 136.3,86.4 136.4,86.9 C136.6,87.3 136.6,87.9 136.6,88.4Z" fill="none" stroke="#222" stroke-width="0.55"/>
<path d="M135.4,88.5 C135.4,88.8 135.4,89.1 135.3,89.3 C135.2,89.6 135.1,89.8 135.0,90.0 C134.9,90.2 134.7,90.4 134.5,90.5 C134.4,90.6 134.2,90.7 134.0,90.7 C133.8,90.7 133.6,90.6 133.5,90.5 C133.3,90.4 133.1,90.2 133.0,90.0 C132.9,89.8 132.8,89.6 132.7,89.3 C132.6,89.1 132.6,88.8 132.6,88.5 C132.6,88.2 132.6,87.9 132.7,87.7 C132.8,87.4 132.9,87.2 133.0,87.0 C133.1,86.8 133.3,86.6 133.5,86.5 C133.6,86.4 133.8,86.3 134.0,86.3 C134.2,86.3 134.4,86.4 134.5,86.5 C134.7,86.6 134.9,86.8 135.0,87.0 C135.1,87.2 135.2,87.4 135.3,87.7 C135.4,87.9 135.4,88.2 135.4,88.5Z" fill="none" stroke="#222" stroke-width="0.55"/>
<path d="M160.9,77.9 C161.7,78.0 162.5,79.8 163.2,81.0 C163.9,82.2 164.7,83.7 165.0,85.0 C165.3,86.3 165.5,87.9 165.3,89.0 C165.1,90.1 164.4,91.0 163.7,91.5 C163.0,92.0 161.9,92.0 161.0,92.0 C160.1,92.0 158.9,91.9 158.2,91.3 C157.5,90.7 156.9,89.7 156.7,88.5 C156.5,87.3 156.7,85.3 157.0,84.0 C157.3,82.7 158.0,81.5 158.7,80.5 C159.3,79.5 160.2,77.8 160.9,77.9Z" fill="none" stroke="#222" stroke-width="0.55"/>
<path d="M160.9,78.9 C161.5,79.0 162.3,80.6 162.9,81.7 C163.5,82.7 164.2,84.0 164.5,85.2 C164.8,86.4 164.9,87.7 164.7,88.7 C164.5,89.7 163.9,90.5 163.3,90.9 C162.7,91.3 161.7,91.4 160.9,91.3 C160.1,91.3 159.1,91.2 158.5,90.7 C157.8,90.2 157.3,89.3 157.2,88.3 C157.0,87.2 157.1,85.5 157.4,84.3 C157.7,83.1 158.3,82.1 158.9,81.2 C159.5,80.3 160.2,78.9 160.9,78.9Z" fill="none" stroke="#222" stroke-width="0.55"/>
<path d="M160.7,82.2 C161.1,82.2 161.5,83.2 161.8,83.8 C162.2,84.3 162.6,85.1 162.8,85.8 C162.9,86.4 163.0,87.2 162.9,87.8 C162.8,88.3 162.5,88.8 162.1,89.0 C161.7,89.2 161.2,89.3 160.8,89.2 C160.3,89.2 159.7,89.2 159.3,88.9 C159.0,88.6 158.7,88.1 158.6,87.5 C158.5,86.9 158.6,85.9 158.8,85.2 C158.9,84.6 159.3,84.0 159.6,83.5 C159.9,83.0 160.3,82.2 160.7,82.2Z" fill="none" stroke="#222" stroke-width="0.55"/>
<polygon points="116.90,34.80 144.40,34.80 144.40,48.50 138.70,56.00 116.90,58.80" fill="none" stroke="#333" stroke-width="1.2" stroke-linejoin="round"/>
<polygon points="145.10,34.80 190.30,34.80 190.30,63.30 154.70,64.30 153.30,65.30 140.30,56.60 145.10,49.00" fill="none" stroke="#333" stroke-width="1.2" stroke-linejoin="round"/>
<polygon points="116.90,59.60 139.10,57.60 151.90,66.60 149.10,69.20 149.10,108.40 116.90,108.40" fill="none" stroke="#333" stroke-width="1.2" stroke-linejoin="round"/>
<polygon points="154.30,65.60 190.30,64.50 190.30,108.40 150.50,108.40 150.50,69.60" fill="none" stroke="#333" stroke-width="1.2" stroke-linejoin="round"/>
<rect x="116.90" y="34.80" width="73.40" height="73.60" fill="none" stroke="#333" stroke-width="1.0"/>
<text x="118.70" y="39.30" font-size="5.0" text-anchor="start" fill="#111">CD8+</text>
<text x="118.70" y="43.80" font-size="5.0" text-anchor="start" fill="#222">2.72%</text>
<text x="188.30" y="39.30" font-size="5.0" text-anchor="end" fill="#222">DP</text>
<text x="188.30" y="43.80" font-size="5.0" text-anchor="end" fill="#222">87.1%</text>
<text x="124.40" y="100.30" font-size="5.0" text-anchor="middle" fill="#222">DN</text>
<text x="119.20" y="105.20" font-size="5.0" text-anchor="start" fill="#222">3.99%</text>
<text x="188.30" y="100.30" font-size="5.0" text-anchor="end" fill="#222">CD4+</text>
<text x="188.30" y="105.20" font-size="5.0" text-anchor="end" fill="#222">5.30%</text>
<line x1="115.90" y1="36.00" x2="116.90" y2="36.00" stroke="#555" stroke-width="0.5"/>
<line x1="115.90" y1="39.38" x2="116.90" y2="39.38" stroke="#555" stroke-width="0.5"/>
<line x1="115.90" y1="42.76" x2="116.90" y2="42.76" stroke="#555" stroke-width="0.5"/>
<line x1="115.90" y1="46.14" x2="116.90" y2="46.14" stroke="#555" stroke-width="0.5"/>
<line x1="115.90" y1="49.52" x2="116.90" y2="49.52" stroke="#555" stroke-width="0.5"/>
<line x1="115.90" y1="52.90" x2="116.90" y2="52.90" stroke="#555" stroke-width="0.5"/>
<line x1="115.90" y1="56.29" x2="116.90" y2="56.29" stroke="#555" stroke-width="0.5"/>
<line x1="115.90" y1="59.67" x2="116.90" y2="59.67" stroke="#555" stroke-width="0.5"/>
<line x1="115.90" y1="63.05" x2="116.90" y2="63.05" stroke="#555" stroke-width="0.5"/>
<line x1="115.90" y1="66.43" x2="116.90" y2="66.43" stroke="#555" stroke-width="0.5"/>
<line x1="115.90" y1="69.81" x2="116.90" y2="69.81" stroke="#555" stroke-width="0.5"/>
<line x1="115.90" y1="73.19" x2="116.90" y2="73.19" stroke="#555" stroke-width="0.5"/>
<line x1="115.90" y1="76.57" x2="116.90" y2="76.57" stroke="#555" stroke-width="0.5"/>
<line x1="115.90" y1="79.95" x2="116.90" y2="79.95" stroke="#555" stroke-width="0.5"/>
<line x1="115.90" y1="83.33" x2="116.90" y2="83.33" stroke="#555" stroke-width="0.5"/>
<line x1="115.90" y1="86.71" x2="116.90" y2="86.71" stroke="#555" stroke-width="0.5"/>
<line x1="115.90" y1="90.10" x2="116.90" y2="90.10" stroke="#555" stroke-width="0.5"/>
<line x1="115.90" y1="93.48" x2="116.90" y2="93.48" stroke="#555" stroke-width="0.5"/>
<line x1="115.90" y1="96.86" x2="116.90" y2="96.86" stroke="#555" stroke-width="0.5"/>
<line x1="115.90" y1="100.24" x2="116.90" y2="100.24" stroke="#555" stroke-width="0.5"/>
<line x1="115.90" y1="103.62" x2="116.90" y2="103.62" stroke="#555" stroke-width="0.5"/>
<line x1="115.90" y1="107.00" x2="116.90" y2="107.00" stroke="#555" stroke-width="0.5"/>
<line x1="118.90" y1="108.40" x2="118.90" y2="109.40" stroke="#555" stroke-width="0.5"/>
<line x1="121.92" y1="108.40" x2="121.92" y2="109.40" stroke="#555" stroke-width="0.5"/>
<line x1="124.93" y1="108.40" x2="124.93" y2="109.40" stroke="#555" stroke-width="0.5"/>
<line x1="127.95" y1="108.40" x2="127.95" y2="109.40" stroke="#555" stroke-width="0.5"/>
<line x1="130.97" y1="108.40" x2="130.97" y2="109.40" stroke="#555" stroke-width="0.5"/>
<line x1="133.99" y1="108.40" x2="133.99" y2="109.40" stroke="#555" stroke-width="0.5"/>
<line x1="137.00" y1="108.40" x2="137.00" y2="109.40" stroke="#555" stroke-width="0.5"/>
<line x1="140.02" y1="108.40" x2="140.02" y2="109.40" stroke="#555" stroke-width="0.5"/>
<line x1="143.04" y1="108.40" x2="143.04" y2="109.40" stroke="#555" stroke-width="0.5"/>
<line x1="146.06" y1="108.40" x2="146.06" y2="109.40" stroke="#555" stroke-width="0.5"/>
<line x1="149.07" y1="108.40" x2="149.07" y2="109.40" stroke="#555" stroke-width="0.5"/>
<line x1="152.09" y1="108.40" x2="152.09" y2="109.40" stroke="#555" stroke-width="0.5"/>
<line x1="155.11" y1="108.40" x2="155.11" y2="109.40" stroke="#555" stroke-width="0.5"/>
<line x1="158.13" y1="108.40" x2="158.13" y2="109.40" stroke="#555" stroke-width="0.5"/>
<line x1="161.14" y1="108.40" x2="161.14" y2="109.40" stroke="#555" stroke-width="0.5"/>
<line x1="164.16" y1="108.40" x2="164.16" y2="109.40" stroke="#555" stroke-width="0.5"/>
<line x1="167.18" y1="108.40" x2="167.18" y2="109.40" stroke="#555" stroke-width="0.5"/>
<line x1="170.20" y1="108.40" x2="170.20" y2="109.40" stroke="#555" stroke-width="0.5"/>
<line x1="173.21" y1="108.40" x2="173.21" y2="109.40" stroke="#555" stroke-width="0.5"/>
<line x1="176.23" y1="108.40" x2="176.23" y2="109.40" stroke="#555" stroke-width="0.5"/>
<line x1="179.25" y1="108.40" x2="179.25" y2="109.40" stroke="#555" stroke-width="0.5"/>
<line x1="182.27" y1="108.40" x2="182.27" y2="109.40" stroke="#555" stroke-width="0.5"/>
<line x1="185.28" y1="108.40" x2="185.28" y2="109.40" stroke="#555" stroke-width="0.5"/>
<line x1="188.30" y1="108.40" x2="188.30" y2="109.40" stroke="#555" stroke-width="0.5"/>
<line x1="115.70" y1="91.00" x2="115.70" y2="94.00" stroke="#111" stroke-width="1.6"/>
<line x1="129.70" y1="109.90" x2="136.70" y2="109.90" stroke="#111" stroke-width="1.6"/>
<line x1="134.20" y1="108.40" x2="134.20" y2="110.00" stroke="#333" stroke-width="0.7"/>
<text x="134.20" y="122.60" font-size="7" text-anchor="middle" fill="#111">0</text>
<line x1="157.20" y1="108.40" x2="157.20" y2="110.00" stroke="#333" stroke-width="0.7"/>
<text x="158.20" y="122.60" font-size="7" text-anchor="middle" fill="#111">10<tspan font-size="4.76" dy="-3.15">3</tspan></text>
<line x1="181.70" y1="108.40" x2="181.70" y2="110.00" stroke="#333" stroke-width="0.7"/>
<text x="182.70" y="122.60" font-size="7" text-anchor="middle" fill="#111">10<tspan font-size="4.76" dy="-3.15">4</tspan></text>
<text x="153.60" y="30.50" font-size="10" text-anchor="middle" fill="#111">DKO</text>
<text x="16.90" y="74.55" font-size="9.6" text-anchor="middle" fill="#111" transform="rotate(-90 16.90 74.55)" textLength="29.3" lengthAdjust="spacingAndGlyphs" stroke="#111" stroke-width="0.18">CD8α-PE</text>
<line x1="12.50" y1="131.30" x2="12.50" y2="97.50" stroke="#111" stroke-width="1.1"/>
<line x1="12.50" y1="131.30" x2="43.50" y2="131.30" stroke="#111" stroke-width="1.1"/>
<polygon points="12.50,94.50 10.30,99.00 14.70,99.00" fill="#111" stroke="none" stroke-width="0" stroke-linejoin="round"/>
<polygon points="46.50,131.30 42.00,129.10 42.00,133.50" fill="#111" stroke="none" stroke-width="0" stroke-linejoin="round"/>
<text x="49.70" y="134.60" font-size="8.6" text-anchor="start" fill="#111" textLength="36.5" lengthAdjust="spacingAndGlyphs">CD4-PE-Cy7</text>
<path d="M74.9,233.3h0.55v0.55h-0.55z M58.1,235.6h0.55v0.55h-0.55z M73.1,234.3h0.55v0.55h-0.55z M71.9,238.4h0.55v0.55h-0.55z M79.9,237.5h0.55v0.55h-0.55z M67.2,231.4h0.55v0.55h-0.55z M59.4,231.9h0.55v0.55h-0.55z M41.4,237.7h0.55v0.55h-0.55z M71.7,233.4h0.55v0.55h-0.55z M79.4,232.1h0.55v0.55h-0.55z M72.8,235.8h0.55v0.55h-0.55z M53.5,238.4h0.55v0.55h-0.55z M71.7,235.2h0.55v0.55h-0.55z M59.2,230.6h0.55v0.55h-0.55z M88.3,231.8h0.55v0.55h-0.55z M65.8,234.6h0.55v0.55h-0.55z M85.5,225.3h0.55v0.55h-0.55z M86.0,234.5h0.55v0.55h-0.55z M79.8,229.9h0.55v0.55h-0.55z M73.5,238.7h0.55v0.55h-0.55z M69.2,230.9h0.55v0.55h-0.55z M65.5,231.1h0.55v0.55h-0.55z M78.7,234.0h0.55v0.55h-0.55z M64.9,235.6h0.55v0.55h-0.55z M58.5,227.8h0.55v0.55h-0.55z M96.6,231.8h0.55v0.55h-0.55z M87.6,233.3h0.55v0.55h-0.55z M67.8,234.8h0.55v0.55h-0.55z M61.0,229.9h0.55v0.55h-0.55z M68.0,231.7h0.55v0.55h-0.55z M77.9,240.0h0.55v0.55h-0.55z M57.6,229.7h0.55v0.55h-0.55z M78.3,235.1h0.55v0.55h-0.55z M82.2,230.9h0.55v0.55h-0.55z M76.6,233.1h0.55v0.55h-0.55z M52.8,234.1h0.55v0.55h-0.55z M53.4,234.4h0.55v0.55h-0.55z M65.4,232.2h0.55v0.55h-0.55z M93.2,239.0h0.55v0.55h-0.55z M74.8,234.6h0.55v0.55h-0.55z M61.9,237.1h0.55v0.55h-0.55z M76.9,230.3h0.55v0.55h-0.55z M52.4,232.5h0.55v0.55h-0.55z M68.3,236.0h0.55v0.55h-0.55z M59.2,229.7h0.55v0.55h-0.55z M74.7,233.5h0.55v0.55h-0.55z M80.4,237.2h0.55v0.55h-0.55z M60.6,224.7h0.55v0.55h-0.55z M70.8,230.6h0.55v0.55h-0.55z M72.8,223.9h0.55v0.55h-0.55z M69.1,233.4h0.55v0.55h-0.55z M64.2,234.6h0.55v0.55h-0.55z M71.4,233.9h0.55v0.55h-0.55z M84.2,238.0h0.55v0.55h-0.55z M83.1,234.8h0.55v0.55h-0.55z M71.8,235.1h0.55v0.55h-0.55z M73.6,230.7h0.55v0.55h-0.55z M74.4,236.4h0.55v0.55h-0.55z M65.9,229.2h0.55v0.55h-0.55z M76.4,230.7h0.55v0.55h-0.55z M54.3,231.7h0.55v0.55h-0.55z M54.6,233.7h0.55v0.55h-0.55z M64.8,233.2h0.55v0.55h-0.55z M82.5,237.3h0.55v0.55h-0.55z M69.2,225.4h0.55v0.55h-0.55z M65.2,228.9h0.55v0.55h-0.55z M79.8,238.7h0.55v0.55h-0.55z M77.7,235.5h0.55v0.55h-0.55z M76.2,235.6h0.55v0.55h-0.55z M66.3,236.0h0.55v0.55h-0.55z M67.0,229.0h0.55v0.55h-0.55z M70.8,238.6h0.55v0.55h-0.55z M68.2,227.0h0.55v0.55h-0.55z M83.5,234.3h0.55v0.55h-0.55z M76.1,231.7h0.55v0.55h-0.55z M75.4,238.8h0.55v0.55h-0.55z M63.4,235.2h0.55v0.55h-0.55z M74.1,230.3h0.55v0.55h-0.55z M72.2,235.2h0.55v0.55h-0.55z M61.3,236.8h0.55v0.55h-0.55z M58.4,236.7h0.55v0.55h-0.55z M76.9,234.2h0.55v0.55h-0.55z M61.9,230.2h0.55v0.55h-0.55z M46.6,232.3h0.55v0.55h-0.55z M68.9,235.0h0.55v0.55h-0.55z M81.2,234.1h0.55v0.55h-0.55z M66.7,236.3h0.55v0.55h-0.55z M70.2,233.0h0.55v0.55h-0.55z M57.8,236.3h0.55v0.55h-0.55z M63.1,239.5h0.55v0.55h-0.55z M61.1,231.2h0.55v0.55h-0.55z M71.2,230.8h0.55v0.55h-0.55z M54.7,228.7h0.55v0.55h-0.55z M61.5,232.0h0.55v0.55h-0.55z M80.8,235.7h0.55v0.55h-0.55z M73.7,236.0h0.55v0.55h-0.55z M47.0,230.3h0.55v0.55h-0.55z M64.4,229.4h0.55v0.55h-0.55z M75.4,231.0h0.55v0.55h-0.55z M58.6,235.7h0.55v0.55h-0.55z M63.3,232.0h0.55v0.55h-0.55z M54.2,235.7h0.55v0.55h-0.55z M70.8,238.0h0.55v0.55h-0.55z M93.7,236.1h0.55v0.55h-0.55z M66.4,230.3h0.55v0.55h-0.55z M87.7,233.0h0.55v0.55h-0.55z M77.0,234.1h0.55v0.55h-0.55z M72.0,233.8h0.55v0.55h-0.55z M68.8,233.9h0.55v0.55h-0.55z M59.5,234.8h0.55v0.55h-0.55z M64.9,233.5h0.55v0.55h-0.55z M87.8,234.4h0.55v0.55h-0.55z M59.4,234.0h0.55v0.55h-0.55z M54.9,233.2h0.55v0.55h-0.55z M85.2,230.0h0.55v0.55h-0.55z M68.7,230.1h0.55v0.55h-0.55z M72.1,234.3h0.55v0.55h-0.55z M72.2,232.2h0.55v0.55h-0.55z M50.1,229.4h0.55v0.55h-0.55z M65.6,235.7h0.55v0.55h-0.55z M49.1,236.1h0.55v0.55h-0.55z M62.3,227.2h0.55v0.55h-0.55z M85.7,234.7h0.55v0.55h-0.55z M60.3,233.7h0.55v0.55h-0.55z M76.6,228.5h0.55v0.55h-0.55z M83.9,230.7h0.55v0.55h-0.55z M78.9,231.5h0.55v0.55h-0.55z M53.6,230.5h0.55v0.55h-0.55z M64.8,233.3h0.55v0.55h-0.55z M52.6,229.1h0.55v0.55h-0.55z M73.6,231.9h0.55v0.55h-0.55z M64.7,234.4h0.55v0.55h-0.55z M56.3,239.3h0.55v0.55h-0.55z M62.4,234.1h0.55v0.55h-0.55z M68.5,236.3h0.55v0.55h-0.55z M65.6,230.3h0.55v0.55h-0.55z M72.8,235.2h0.55v0.55h-0.55z M68.6,239.9h0.55v0.55h-0.55z M78.1,237.9h0.55v0.55h-0.55z M83.7,237.0h0.55v0.55h-0.55z M68.3,238.5h0.55v0.55h-0.55z M66.3,233.4h0.55v0.55h-0.55z M84.9,236.7h0.55v0.55h-0.55z M58.9,231.7h0.55v0.55h-0.55z M60.8,236.6h0.55v0.55h-0.55z M66.4,233.0h0.55v0.55h-0.55z M63.0,231.1h0.55v0.55h-0.55z M77.2,229.9h0.55v0.55h-0.55z M70.8,231.4h0.55v0.55h-0.55z M66.3,228.7h0.55v0.55h-0.55z M82.3,228.1h0.55v0.55h-0.55z M57.3,231.2h0.55v0.55h-0.55z M70.8,230.5h0.55v0.55h-0.55z M53.1,230.9h0.55v0.55h-0.55z M59.6,230.4h0.55v0.55h-0.55z M86.8,226.7h0.55v0.55h-0.55z M69.8,234.2h0.55v0.55h-0.55z M65.7,231.7h0.55v0.55h-0.55z M81.1,232.7h0.55v0.55h-0.55z M52.0,231.2h0.55v0.55h-0.55z M73.8,231.8h0.55v0.55h-0.55z M64.0,233.4h0.55v0.55h-0.55z M64.8,233.3h0.55v0.55h-0.55z M76.7,231.1h0.55v0.55h-0.55z M53.6,236.8h0.55v0.55h-0.55z M74.0,230.5h0.55v0.55h-0.55z M55.2,232.5h0.55v0.55h-0.55z M72.1,234.7h0.55v0.55h-0.55z M73.7,231.6h0.55v0.55h-0.55z M65.7,227.8h0.55v0.55h-0.55z M62.3,231.2h0.55v0.55h-0.55z M81.0,229.0h0.55v0.55h-0.55z M89.2,236.5h0.55v0.55h-0.55z M64.6,230.8h0.55v0.55h-0.55z M72.2,234.3h0.55v0.55h-0.55z M77.3,227.5h0.55v0.55h-0.55z M66.4,234.5h0.55v0.55h-0.55z M79.3,234.8h0.55v0.55h-0.55z M69.0,234.0h0.55v0.55h-0.55z M64.5,238.5h0.55v0.55h-0.55z M79.3,234.6h0.55v0.55h-0.55z M64.1,232.6h0.55v0.55h-0.55z M73.8,233.4h0.55v0.55h-0.55z M86.8,240.3h0.55v0.55h-0.55z M80.1,229.5h0.55v0.55h-0.55z M77.2,231.6h0.55v0.55h-0.55z M70.1,239.4h0.55v0.55h-0.55z M52.2,228.0h0.55v0.55h-0.55z M63.5,235.3h0.55v0.55h-0.55z M65.8,226.4h0.55v0.55h-0.55z M74.0,235.3h0.55v0.55h-0.55z M82.8,233.8h0.55v0.55h-0.55z M81.5,231.5h0.55v0.55h-0.55z M79.1,237.2h0.55v0.55h-0.55z M67.2,231.7h0.55v0.55h-0.55z M82.6,231.0h0.55v0.55h-0.55z M60.8,232.9h0.55v0.55h-0.55z M76.0,236.2h0.55v0.55h-0.55z M65.2,234.6h0.55v0.55h-0.55z M61.1,229.0h0.55v0.55h-0.55z M95.2,231.4h0.55v0.55h-0.55z M54.5,233.6h0.55v0.55h-0.55z M62.5,235.2h0.55v0.55h-0.55z M44.3,228.5h0.55v0.55h-0.55z M80.8,234.3h0.55v0.55h-0.55z M60.7,237.6h0.55v0.55h-0.55z M80.8,232.2h0.55v0.55h-0.55z M81.8,235.4h0.55v0.55h-0.55z M57.1,230.1h0.55v0.55h-0.55z M71.9,229.6h0.55v0.55h-0.55z M53.7,230.8h0.55v0.55h-0.55z M77.3,233.6h0.55v0.55h-0.55z M59.5,224.6h0.55v0.55h-0.55z M77.6,232.3h0.55v0.55h-0.55z M78.0,232.8h0.55v0.55h-0.55z M64.4,233.4h0.55v0.55h-0.55z M62.0,230.8h0.55v0.55h-0.55z M60.0,225.3h0.55v0.55h-0.55z M80.2,236.7h0.55v0.55h-0.55z" fill="#555" opacity="0.75"/>
<path d="M81.5,206.2h0.55v0.55h-0.55z M102.2,214.2h0.55v0.55h-0.55z M82.7,199.5h0.55v0.55h-0.55z M98.0,220.3h0.55v0.55h-0.55z M79.7,215.3h0.55v0.55h-0.55z M78.9,207.0h0.55v0.55h-0.55z M93.5,207.4h0.55v0.55h-0.55z M80.7,197.6h0.55v0.55h-0.55z M89.9,208.0h0.55v0.55h-0.55z M76.9,226.6h0.55v0.55h-0.55z M80.7,205.2h0.55v0.55h-0.55z M88.6,207.3h0.55v0.55h-0.55z M85.9,213.0h0.55v0.55h-0.55z M82.1,201.9h0.55v0.55h-0.55z M83.5,218.1h0.55v0.55h-0.55z M85.8,222.6h0.55v0.55h-0.55z M86.4,202.2h0.55v0.55h-0.55z M87.4,208.2h0.55v0.55h-0.55z M82.3,208.1h0.55v0.55h-0.55z M92.6,216.9h0.55v0.55h-0.55z M88.3,211.6h0.55v0.55h-0.55z M90.5,215.8h0.55v0.55h-0.55z M88.8,204.2h0.55v0.55h-0.55z M94.6,219.5h0.55v0.55h-0.55z M95.6,185.7h0.55v0.55h-0.55z M90.0,211.5h0.55v0.55h-0.55z M66.3,220.0h0.55v0.55h-0.55z M71.9,205.9h0.55v0.55h-0.55z M87.3,218.9h0.55v0.55h-0.55z M84.1,204.7h0.55v0.55h-0.55z M73.1,207.9h0.55v0.55h-0.55z M90.3,198.7h0.55v0.55h-0.55z M97.1,186.6h0.55v0.55h-0.55z M81.8,206.3h0.55v0.55h-0.55z M86.4,212.7h0.55v0.55h-0.55z M94.0,204.9h0.55v0.55h-0.55z M74.6,200.2h0.55v0.55h-0.55z M83.5,202.6h0.55v0.55h-0.55z M83.5,208.3h0.55v0.55h-0.55z M85.9,217.3h0.55v0.55h-0.55z M88.9,198.7h0.55v0.55h-0.55z M80.4,205.1h0.55v0.55h-0.55z M81.9,216.3h0.55v0.55h-0.55z M92.3,212.3h0.55v0.55h-0.55z M96.8,202.1h0.55v0.55h-0.55z M86.0,219.4h0.55v0.55h-0.55z M85.8,204.7h0.55v0.55h-0.55z M80.2,218.4h0.55v0.55h-0.55z M91.8,226.2h0.55v0.55h-0.55z M100.3,212.0h0.55v0.55h-0.55z M82.6,203.0h0.55v0.55h-0.55z M82.6,225.6h0.55v0.55h-0.55z M84.8,204.7h0.55v0.55h-0.55z M84.7,213.2h0.55v0.55h-0.55z M80.9,203.9h0.55v0.55h-0.55z M81.5,221.4h0.55v0.55h-0.55z M85.9,214.4h0.55v0.55h-0.55z M90.2,194.0h0.55v0.55h-0.55z M89.2,200.4h0.55v0.55h-0.55z M83.1,194.4h0.55v0.55h-0.55z M91.7,211.6h0.55v0.55h-0.55z M79.0,220.3h0.55v0.55h-0.55z M79.9,221.7h0.55v0.55h-0.55z M85.2,229.3h0.55v0.55h-0.55z M77.4,214.2h0.55v0.55h-0.55z M77.0,199.3h0.55v0.55h-0.55z M81.6,207.9h0.55v0.55h-0.55z M77.6,213.7h0.55v0.55h-0.55z M97.8,216.6h0.55v0.55h-0.55z M80.4,226.8h0.55v0.55h-0.55z M74.1,224.2h0.55v0.55h-0.55z M84.8,202.1h0.55v0.55h-0.55z M86.0,209.8h0.55v0.55h-0.55z M94.0,215.4h0.55v0.55h-0.55z M83.5,217.6h0.55v0.55h-0.55z M83.8,201.3h0.55v0.55h-0.55z M77.2,201.5h0.55v0.55h-0.55z M87.7,206.8h0.55v0.55h-0.55z M91.5,198.4h0.55v0.55h-0.55z M86.4,213.3h0.55v0.55h-0.55z M87.1,213.2h0.55v0.55h-0.55z M65.3,198.8h0.55v0.55h-0.55z M80.4,210.6h0.55v0.55h-0.55z M95.0,228.8h0.55v0.55h-0.55z M81.1,208.3h0.55v0.55h-0.55z M92.2,205.6h0.55v0.55h-0.55z M94.3,209.1h0.55v0.55h-0.55z M85.9,215.1h0.55v0.55h-0.55z M98.8,211.5h0.55v0.55h-0.55z M80.7,221.4h0.55v0.55h-0.55z M89.9,203.2h0.55v0.55h-0.55z M74.8,209.2h0.55v0.55h-0.55z M81.8,204.1h0.55v0.55h-0.55z M87.8,216.2h0.55v0.55h-0.55z M95.9,211.5h0.55v0.55h-0.55z M78.4,199.3h0.55v0.55h-0.55z M75.5,214.8h0.55v0.55h-0.55z M73.3,204.3h0.55v0.55h-0.55z M76.1,206.3h0.55v0.55h-0.55z M82.2,206.8h0.55v0.55h-0.55z M97.5,216.9h0.55v0.55h-0.55z M83.0,201.1h0.55v0.55h-0.55z M89.8,207.4h0.55v0.55h-0.55z M85.1,200.6h0.55v0.55h-0.55z M88.9,212.6h0.55v0.55h-0.55z M90.5,210.8h0.55v0.55h-0.55z M87.3,201.0h0.55v0.55h-0.55z M93.8,212.7h0.55v0.55h-0.55z M98.1,207.6h0.55v0.55h-0.55z M83.5,218.7h0.55v0.55h-0.55z M82.6,214.3h0.55v0.55h-0.55z M85.2,208.5h0.55v0.55h-0.55z M70.2,213.1h0.55v0.55h-0.55z M86.4,198.3h0.55v0.55h-0.55z M94.5,192.8h0.55v0.55h-0.55z M83.8,229.2h0.55v0.55h-0.55z M92.4,204.2h0.55v0.55h-0.55z M91.7,217.4h0.55v0.55h-0.55z M62.6,210.5h0.55v0.55h-0.55z M86.3,222.7h0.55v0.55h-0.55z M86.5,199.2h0.55v0.55h-0.55z M82.8,227.0h0.55v0.55h-0.55z M85.6,225.8h0.55v0.55h-0.55z M92.6,203.7h0.55v0.55h-0.55z M91.3,212.1h0.55v0.55h-0.55z M90.1,212.1h0.55v0.55h-0.55z M80.4,218.2h0.55v0.55h-0.55z M86.7,207.7h0.55v0.55h-0.55z M85.9,206.1h0.55v0.55h-0.55z M85.8,208.9h0.55v0.55h-0.55z M76.1,224.4h0.55v0.55h-0.55z M87.6,208.1h0.55v0.55h-0.55z M74.2,221.5h0.55v0.55h-0.55z M89.4,217.9h0.55v0.55h-0.55z M85.6,216.7h0.55v0.55h-0.55z M82.2,210.3h0.55v0.55h-0.55z M96.8,227.9h0.55v0.55h-0.55z M86.7,199.2h0.55v0.55h-0.55z M88.5,213.2h0.55v0.55h-0.55z M79.0,202.4h0.55v0.55h-0.55z M104.0,211.3h0.55v0.55h-0.55z M82.1,214.5h0.55v0.55h-0.55z M75.8,196.7h0.55v0.55h-0.55z M81.1,217.7h0.55v0.55h-0.55z M93.5,212.7h0.55v0.55h-0.55z M99.3,198.6h0.55v0.55h-0.55z M77.8,222.9h0.55v0.55h-0.55z M91.9,209.8h0.55v0.55h-0.55z M89.5,204.9h0.55v0.55h-0.55z M100.7,206.2h0.55v0.55h-0.55z M93.0,208.5h0.55v0.55h-0.55z M81.7,198.5h0.55v0.55h-0.55z M84.0,208.7h0.55v0.55h-0.55z M79.7,197.5h0.55v0.55h-0.55z M76.5,196.5h0.55v0.55h-0.55z M95.7,207.4h0.55v0.55h-0.55z M80.8,217.5h0.55v0.55h-0.55z M88.1,215.2h0.55v0.55h-0.55z M93.5,208.9h0.55v0.55h-0.55z M71.7,213.4h0.55v0.55h-0.55z M86.6,207.7h0.55v0.55h-0.55z M78.7,215.2h0.55v0.55h-0.55z M87.0,223.6h0.55v0.55h-0.55z M76.1,199.4h0.55v0.55h-0.55z M89.0,213.9h0.55v0.55h-0.55z M83.1,219.1h0.55v0.55h-0.55z M85.8,219.6h0.55v0.55h-0.55z M84.6,212.4h0.55v0.55h-0.55z M90.0,201.1h0.55v0.55h-0.55z M92.9,204.3h0.55v0.55h-0.55z" fill="#666" opacity="0.75"/>
<path d="M76.1,199.7h0.55v0.55h-0.55z M64.7,206.4h0.55v0.55h-0.55z M66.8,218.6h0.55v0.55h-0.55z M65.7,198.3h0.55v0.55h-0.55z M76.6,210.1h0.55v0.55h-0.55z M70.4,216.2h0.55v0.55h-0.55z M78.9,199.7h0.55v0.55h-0.55z M72.0,207.5h0.55v0.55h-0.55z M75.3,205.3h0.55v0.55h-0.55z M75.2,198.9h0.55v0.55h-0.55z M72.4,196.7h0.55v0.55h-0.55z M73.3,211.9h0.55v0.55h-0.55z M68.9,212.2h0.55v0.55h-0.55z M68.5,189.4h0.55v0.55h-0.55z M69.8,204.7h0.55v0.55h-0.55z M75.8,210.4h0.55v0.55h-0.55z M68.6,200.8h0.55v0.55h-0.55z M75.3,206.7h0.55v0.55h-0.55z M69.0,198.0h0.55v0.55h-0.55z M74.8,204.8h0.55v0.55h-0.55z M72.5,199.5h0.55v0.55h-0.55z M68.5,201.1h0.55v0.55h-0.55z M69.0,210.5h0.55v0.55h-0.55z M73.7,205.7h0.55v0.55h-0.55z M59.4,198.3h0.55v0.55h-0.55z M74.9,202.8h0.55v0.55h-0.55z M74.6,193.0h0.55v0.55h-0.55z M69.3,210.1h0.55v0.55h-0.55z M69.7,225.8h0.55v0.55h-0.55z M75.2,214.5h0.55v0.55h-0.55z M82.5,205.0h0.55v0.55h-0.55z M75.2,200.9h0.55v0.55h-0.55z M79.4,201.5h0.55v0.55h-0.55z M70.0,208.8h0.55v0.55h-0.55z M71.5,210.7h0.55v0.55h-0.55z M69.7,203.3h0.55v0.55h-0.55z M73.1,205.9h0.55v0.55h-0.55z M70.1,202.1h0.55v0.55h-0.55z M84.5,205.7h0.55v0.55h-0.55z M71.7,196.5h0.55v0.55h-0.55z M69.1,212.4h0.55v0.55h-0.55z M73.3,217.0h0.55v0.55h-0.55z M70.7,204.0h0.55v0.55h-0.55z M73.8,211.8h0.55v0.55h-0.55z M70.1,213.3h0.55v0.55h-0.55z M72.1,206.4h0.55v0.55h-0.55z M71.2,211.9h0.55v0.55h-0.55z M81.0,205.1h0.55v0.55h-0.55z M66.3,195.7h0.55v0.55h-0.55z M74.4,209.3h0.55v0.55h-0.55z M74.6,209.8h0.55v0.55h-0.55z M72.2,213.3h0.55v0.55h-0.55z M75.5,202.4h0.55v0.55h-0.55z M71.2,212.1h0.55v0.55h-0.55z M76.9,203.7h0.55v0.55h-0.55z M76.0,205.4h0.55v0.55h-0.55z M68.3,203.3h0.55v0.55h-0.55z M71.7,194.8h0.55v0.55h-0.55z M74.7,208.8h0.55v0.55h-0.55z M77.8,212.4h0.55v0.55h-0.55z M68.9,206.3h0.55v0.55h-0.55z M79.1,208.4h0.55v0.55h-0.55z M73.6,205.8h0.55v0.55h-0.55z M77.0,205.5h0.55v0.55h-0.55z M73.6,207.0h0.55v0.55h-0.55z M71.1,195.7h0.55v0.55h-0.55z M67.0,212.5h0.55v0.55h-0.55z M80.1,206.2h0.55v0.55h-0.55z M74.2,209.2h0.55v0.55h-0.55z M71.4,210.6h0.55v0.55h-0.55z M76.3,201.8h0.55v0.55h-0.55z M67.2,210.7h0.55v0.55h-0.55z M70.2,208.2h0.55v0.55h-0.55z M70.4,212.5h0.55v0.55h-0.55z M79.7,198.7h0.55v0.55h-0.55z M76.3,206.8h0.55v0.55h-0.55z M71.7,199.4h0.55v0.55h-0.55z M72.3,191.9h0.55v0.55h-0.55z M78.2,208.6h0.55v0.55h-0.55z M73.3,214.7h0.55v0.55h-0.55z M73.7,209.1h0.55v0.55h-0.55z M76.0,198.9h0.55v0.55h-0.55z M70.6,201.1h0.55v0.55h-0.55z M73.0,208.2h0.55v0.55h-0.55z M78.9,202.6h0.55v0.55h-0.55z M73.0,203.6h0.55v0.55h-0.55z M76.9,206.5h0.55v0.55h-0.55z M76.9,210.9h0.55v0.55h-0.55z M70.8,215.7h0.55v0.55h-0.55z M75.1,212.1h0.55v0.55h-0.55z M70.8,208.3h0.55v0.55h-0.55z M71.9,209.4h0.55v0.55h-0.55z M71.8,212.1h0.55v0.55h-0.55z M69.0,211.5h0.55v0.55h-0.55z M76.0,201.1h0.55v0.55h-0.55z M74.3,212.8h0.55v0.55h-0.55z M76.9,215.3h0.55v0.55h-0.55z M75.8,206.5h0.55v0.55h-0.55z M77.1,202.5h0.55v0.55h-0.55z M72.5,207.3h0.55v0.55h-0.55z M75.9,216.3h0.55v0.55h-0.55z M77.8,210.3h0.55v0.55h-0.55z M76.1,214.6h0.55v0.55h-0.55z M74.4,208.1h0.55v0.55h-0.55z M75.9,219.9h0.55v0.55h-0.55z M77.0,206.8h0.55v0.55h-0.55z M77.4,201.1h0.55v0.55h-0.55z M78.1,206.9h0.55v0.55h-0.55z M72.1,210.0h0.55v0.55h-0.55z M74.1,208.2h0.55v0.55h-0.55z M67.6,202.1h0.55v0.55h-0.55z M77.0,201.0h0.55v0.55h-0.55z M65.9,211.1h0.55v0.55h-0.55z M76.8,217.9h0.55v0.55h-0.55z M77.3,205.2h0.55v0.55h-0.55z M72.9,197.7h0.55v0.55h-0.55z M71.3,197.4h0.55v0.55h-0.55z M71.1,197.6h0.55v0.55h-0.55z M70.7,206.4h0.55v0.55h-0.55z M71.4,210.6h0.55v0.55h-0.55z M72.3,203.0h0.55v0.55h-0.55z M71.6,199.7h0.55v0.55h-0.55z M76.2,203.1h0.55v0.55h-0.55z M73.0,202.6h0.55v0.55h-0.55z M77.3,215.2h0.55v0.55h-0.55z M74.1,202.0h0.55v0.55h-0.55z M67.8,210.8h0.55v0.55h-0.55z M77.6,210.5h0.55v0.55h-0.55z M70.1,192.1h0.55v0.55h-0.55z M79.0,205.8h0.55v0.55h-0.55z M77.8,213.4h0.55v0.55h-0.55z M74.5,210.1h0.55v0.55h-0.55z M74.6,199.6h0.55v0.55h-0.55z M66.5,211.8h0.55v0.55h-0.55z M74.7,201.9h0.55v0.55h-0.55z M78.6,190.2h0.55v0.55h-0.55z M72.0,202.1h0.55v0.55h-0.55z M68.6,204.4h0.55v0.55h-0.55z M71.7,215.7h0.55v0.55h-0.55z M74.6,208.5h0.55v0.55h-0.55z" fill="#555" opacity="0.75"/>
<path d="M89.5,225.9h0.55v0.55h-0.55z M90.2,232.6h0.55v0.55h-0.55z M87.4,222.9h0.55v0.55h-0.55z M85.5,227.0h0.55v0.55h-0.55z M94.6,227.8h0.55v0.55h-0.55z M92.1,225.1h0.55v0.55h-0.55z M84.4,223.2h0.55v0.55h-0.55z M83.9,233.1h0.55v0.55h-0.55z M86.4,225.4h0.55v0.55h-0.55z M87.1,228.0h0.55v0.55h-0.55z M84.7,222.6h0.55v0.55h-0.55z M90.2,229.2h0.55v0.55h-0.55z M92.3,224.4h0.55v0.55h-0.55z M85.3,221.3h0.55v0.55h-0.55z M87.6,231.7h0.55v0.55h-0.55z M77.1,230.2h0.55v0.55h-0.55z M86.9,227.1h0.55v0.55h-0.55z M87.5,227.3h0.55v0.55h-0.55z M83.7,232.2h0.55v0.55h-0.55z M86.2,219.7h0.55v0.55h-0.55z M89.6,229.0h0.55v0.55h-0.55z M82.9,225.1h0.55v0.55h-0.55z M85.7,229.4h0.55v0.55h-0.55z M85.0,228.5h0.55v0.55h-0.55z M92.4,226.9h0.55v0.55h-0.55z M87.3,226.6h0.55v0.55h-0.55z M90.4,230.8h0.55v0.55h-0.55z M90.0,226.4h0.55v0.55h-0.55z M84.4,230.7h0.55v0.55h-0.55z M88.7,227.1h0.55v0.55h-0.55z M87.3,228.8h0.55v0.55h-0.55z M91.7,226.0h0.55v0.55h-0.55z M88.1,223.3h0.55v0.55h-0.55z M82.3,226.2h0.55v0.55h-0.55z M79.1,228.6h0.55v0.55h-0.55z M85.0,224.9h0.55v0.55h-0.55z M85.4,232.8h0.55v0.55h-0.55z M81.0,226.7h0.55v0.55h-0.55z M89.2,227.9h0.55v0.55h-0.55z M78.0,230.2h0.55v0.55h-0.55z M87.7,226.7h0.55v0.55h-0.55z M83.7,228.1h0.55v0.55h-0.55z M81.4,229.8h0.55v0.55h-0.55z M85.5,221.7h0.55v0.55h-0.55z M82.1,223.3h0.55v0.55h-0.55z M87.1,229.4h0.55v0.55h-0.55z M84.4,227.1h0.55v0.55h-0.55z M81.9,230.8h0.55v0.55h-0.55z M93.6,219.3h0.55v0.55h-0.55z M84.0,226.0h0.55v0.55h-0.55z M80.6,224.4h0.55v0.55h-0.55z M87.5,234.4h0.55v0.55h-0.55z M88.1,232.4h0.55v0.55h-0.55z M93.4,224.5h0.55v0.55h-0.55z M86.1,223.7h0.55v0.55h-0.55z M78.7,231.3h0.55v0.55h-0.55z M83.3,227.2h0.55v0.55h-0.55z M85.2,228.3h0.55v0.55h-0.55z M89.8,226.0h0.55v0.55h-0.55z M84.6,227.2h0.55v0.55h-0.55z M84.3,225.4h0.55v0.55h-0.55z M88.0,233.6h0.55v0.55h-0.55z M80.9,227.5h0.55v0.55h-0.55z M85.8,228.6h0.55v0.55h-0.55z M84.0,230.4h0.55v0.55h-0.55z M91.0,223.1h0.55v0.55h-0.55z M81.1,228.3h0.55v0.55h-0.55z M84.1,220.6h0.55v0.55h-0.55z M86.2,223.7h0.55v0.55h-0.55z M83.4,229.0h0.55v0.55h-0.55z M80.6,232.2h0.55v0.55h-0.55z M84.8,227.4h0.55v0.55h-0.55z M85.7,223.4h0.55v0.55h-0.55z M83.9,218.4h0.55v0.55h-0.55z M90.2,224.1h0.55v0.55h-0.55z M94.7,227.9h0.55v0.55h-0.55z M90.6,228.5h0.55v0.55h-0.55z M87.5,227.3h0.55v0.55h-0.55z M89.8,222.3h0.55v0.55h-0.55z M84.1,225.3h0.55v0.55h-0.55z M86.1,230.4h0.55v0.55h-0.55z M87.0,224.3h0.55v0.55h-0.55z M79.2,223.0h0.55v0.55h-0.55z M89.4,229.3h0.55v0.55h-0.55z M86.0,232.3h0.55v0.55h-0.55z M81.1,236.0h0.55v0.55h-0.55z M82.2,234.0h0.55v0.55h-0.55z M82.1,229.7h0.55v0.55h-0.55z M85.9,220.5h0.55v0.55h-0.55z M84.4,224.6h0.55v0.55h-0.55z M84.5,227.5h0.55v0.55h-0.55z M86.8,231.4h0.55v0.55h-0.55z M92.2,221.9h0.55v0.55h-0.55z M85.4,233.3h0.55v0.55h-0.55z M92.1,226.4h0.55v0.55h-0.55z M88.9,223.7h0.55v0.55h-0.55z M87.8,221.8h0.55v0.55h-0.55z M81.7,225.8h0.55v0.55h-0.55z M81.9,224.5h0.55v0.55h-0.55z M84.9,226.6h0.55v0.55h-0.55z M85.5,224.5h0.55v0.55h-0.55z M92.6,232.5h0.55v0.55h-0.55z M89.4,220.7h0.55v0.55h-0.55z M83.9,228.0h0.55v0.55h-0.55z M84.5,228.5h0.55v0.55h-0.55z M83.1,228.0h0.55v0.55h-0.55z M78.2,230.6h0.55v0.55h-0.55z M88.2,226.2h0.55v0.55h-0.55z M79.5,222.4h0.55v0.55h-0.55z M91.0,226.4h0.55v0.55h-0.55z" fill="#555" opacity="0.75"/>
<path d="M91.2,187.8h0.55v0.55h-0.55z M59.5,230.8h0.55v0.55h-0.55z M100.1,189.1h0.55v0.55h-0.55z M98.7,238.7h0.55v0.55h-0.55z M44.7,223.5h0.55v0.55h-0.55z M59.2,237.2h0.55v0.55h-0.55z M65.3,242.5h0.55v0.55h-0.55z M88.4,198.0h0.55v0.55h-0.55z M72.9,219.1h0.55v0.55h-0.55z M67.5,238.3h0.55v0.55h-0.55z M47.6,241.7h0.55v0.55h-0.55z M103.6,201.4h0.55v0.55h-0.55z M86.0,223.8h0.55v0.55h-0.55z M102.2,191.7h0.55v0.55h-0.55z M98.4,232.1h0.55v0.55h-0.55z M91.0,213.6h0.55v0.55h-0.55z M76.4,180.9h0.55v0.55h-0.55z M47.3,227.3h0.55v0.55h-0.55z M101.5,233.7h0.55v0.55h-0.55z M48.0,202.0h0.55v0.55h-0.55z M78.4,213.0h0.55v0.55h-0.55z M96.8,227.1h0.55v0.55h-0.55z M101.1,240.4h0.55v0.55h-0.55z M92.4,235.1h0.55v0.55h-0.55z M105.1,194.1h0.55v0.55h-0.55z M68.3,243.2h0.55v0.55h-0.55z M61.7,204.1h0.55v0.55h-0.55z M44.8,226.6h0.55v0.55h-0.55z M99.3,192.7h0.55v0.55h-0.55z M55.2,190.7h0.55v0.55h-0.55z M97.1,194.4h0.55v0.55h-0.55z M100.5,246.0h0.55v0.55h-0.55z M84.1,245.2h0.55v0.55h-0.55z M99.9,214.7h0.55v0.55h-0.55z M79.6,189.5h0.55v0.55h-0.55z M101.3,244.8h0.55v0.55h-0.55z M45.7,194.5h0.55v0.55h-0.55z M45.1,228.6h0.55v0.55h-0.55z M55.4,179.8h0.55v0.55h-0.55z M107.7,197.0h0.55v0.55h-0.55z M77.1,229.9h0.55v0.55h-0.55z M103.1,180.5h0.55v0.55h-0.55z M46.1,204.2h0.55v0.55h-0.55z M81.0,236.8h0.55v0.55h-0.55z M100.7,242.6h0.55v0.55h-0.55z M86.9,196.4h0.55v0.55h-0.55z M100.0,226.8h0.55v0.55h-0.55z M81.1,198.8h0.55v0.55h-0.55z M57.3,245.7h0.55v0.55h-0.55z M76.1,214.2h0.55v0.55h-0.55z" fill="#999" opacity="0.7"/>
<path d="M70.8,206.5 C70.8,207.2 70.6,207.9 70.1,208.5 C69.7,209.1 69.1,209.8 68.3,210.3 C67.5,210.8 66.5,211.3 65.4,211.6 C64.3,211.9 63.1,212.2 61.9,212.3 C60.7,212.4 59.3,212.4 58.1,212.3 C56.9,212.2 55.7,211.9 54.6,211.6 C53.5,211.3 52.5,210.8 51.7,210.3 C50.9,209.8 50.3,209.1 49.9,208.5 C49.4,207.9 49.2,207.2 49.2,206.5 C49.2,205.8 49.4,205.1 49.9,204.5 C50.3,203.9 50.9,203.2 51.7,202.7 C52.5,202.2 53.5,201.7 54.6,201.4 C55.7,201.1 56.9,200.8 58.1,200.7 C59.3,200.6 60.7,200.6 61.9,200.7 C63.1,200.8 64.3,201.1 65.4,201.4 C66.5,201.7 67.5,202.2 68.3,202.7 C69.1,203.2 69.7,203.9 70.1,204.5 C70.6,205.1 70.8,205.8 70.8,206.5Z" fill="none" stroke="#000" stroke-width="0.5"/>
<path d="M69.8,206.5 C69.8,207.1 69.5,207.8 69.1,208.4 C68.8,209.0 68.1,209.6 67.4,210.0 C66.7,210.5 65.7,210.9 64.7,211.3 C63.7,211.6 62.6,211.8 61.5,211.9 C60.3,212.0 59.1,212.0 58.0,211.9 C56.8,211.8 55.7,211.6 54.7,211.3 C53.7,210.9 52.7,210.5 52.0,210.0 C51.3,209.6 50.7,209.0 50.3,208.4 C49.9,207.8 49.7,207.1 49.7,206.5 C49.7,205.9 49.9,205.2 50.3,204.6 C50.7,204.0 51.3,203.5 52.0,203.0 C52.7,202.5 53.7,202.1 54.7,201.8 C55.7,201.4 56.8,201.2 58.0,201.1 C59.1,201.0 60.3,201.0 61.5,201.1 C62.6,201.2 63.7,201.4 64.7,201.8 C65.7,202.1 66.7,202.5 67.4,203.0 C68.1,203.5 68.8,204.0 69.1,204.6 C69.5,205.2 69.8,205.9 69.8,206.5Z" fill="none" stroke="#000" stroke-width="0.5"/>
<path d="M67.8,206.5 C67.8,207.1 67.6,207.6 67.3,208.1 C66.9,208.6 66.4,209.1 65.8,209.6 C65.1,210.0 64.3,210.3 63.5,210.6 C62.6,210.9 61.6,211.1 60.7,211.2 C59.7,211.3 58.6,211.3 57.7,211.2 C56.7,211.1 55.7,210.9 54.8,210.6 C54.0,210.3 53.2,210.0 52.5,209.6 C51.9,209.1 51.4,208.6 51.0,208.1 C50.7,207.6 50.5,207.1 50.5,206.5 C50.5,206.0 50.7,205.4 51.0,204.9 C51.4,204.4 51.9,203.9 52.5,203.5 C53.2,203.1 54.0,202.7 54.8,202.4 C55.7,202.2 56.7,202.0 57.7,201.9 C58.6,201.8 59.7,201.8 60.7,201.9 C61.6,202.0 62.6,202.2 63.5,202.4 C64.3,202.7 65.1,203.1 65.8,203.5 C66.4,203.9 66.9,204.4 67.3,204.9 C67.6,205.4 67.8,206.0 67.8,206.5Z" fill="#000" fill-opacity="0.12" stroke="#000" stroke-width="0.5"/>
<path d="M66.3,206.5 C66.3,207.0 66.1,207.5 65.8,207.9 C65.5,208.4 65.1,208.8 64.5,209.2 C64.0,209.5 63.3,209.9 62.5,210.1 C61.8,210.3 60.9,210.5 60.1,210.6 C59.2,210.7 58.3,210.7 57.4,210.6 C56.6,210.5 55.7,210.3 55.0,210.1 C54.2,209.9 53.5,209.5 52.9,209.2 C52.4,208.8 51.9,208.4 51.6,207.9 C51.3,207.5 51.2,207.0 51.2,206.5 C51.2,206.1 51.3,205.6 51.6,205.1 C51.9,204.7 52.4,204.2 52.9,203.9 C53.5,203.5 54.2,203.2 55.0,203.0 C55.7,202.7 56.6,202.5 57.4,202.5 C58.3,202.4 59.2,202.4 60.1,202.5 C60.9,202.5 61.8,202.7 62.5,203.0 C63.3,203.2 64.0,203.5 64.5,203.9 C65.1,204.2 65.5,204.7 65.8,205.1 C66.1,205.6 66.3,206.1 66.3,206.5Z" fill="#000" fill-opacity="0.12" stroke="#000" stroke-width="0.5"/>
<path d="M65.1,206.5 C65.1,207.0 65.0,207.4 64.7,207.8 C64.4,208.2 64.0,208.6 63.5,208.9 C63.0,209.2 62.4,209.5 61.8,209.7 C61.1,209.9 60.3,210.1 59.6,210.1 C58.8,210.2 58.0,210.2 57.2,210.1 C56.5,210.1 55.7,209.9 55.1,209.7 C54.4,209.5 53.8,209.2 53.3,208.9 C52.8,208.6 52.4,208.2 52.1,207.8 C51.9,207.4 51.7,207.0 51.7,206.5 C51.7,206.1 51.9,205.7 52.1,205.3 C52.4,204.9 52.8,204.5 53.3,204.2 C53.8,203.9 54.4,203.6 55.1,203.4 C55.7,203.2 56.5,203.0 57.2,202.9 C58.0,202.9 58.8,202.9 59.6,202.9 C60.3,203.0 61.1,203.2 61.8,203.4 C62.4,203.6 63.0,203.9 63.5,204.2 C64.0,204.5 64.4,204.9 64.7,205.3 C65.0,205.7 65.1,206.1 65.1,206.5Z" fill="#000" fill-opacity="0.12" stroke="#000" stroke-width="0.5"/>
<path d="M64.0,206.5 C64.0,206.9 63.9,207.3 63.7,207.7 C63.5,208.0 63.1,208.3 62.7,208.6 C62.2,208.9 61.7,209.2 61.1,209.4 C60.5,209.5 59.8,209.7 59.1,209.7 C58.5,209.8 57.7,209.8 57.1,209.7 C56.4,209.7 55.7,209.5 55.1,209.4 C54.6,209.2 54.0,208.9 53.6,208.6 C53.1,208.3 52.8,208.0 52.5,207.7 C52.3,207.3 52.2,206.9 52.2,206.5 C52.2,206.2 52.3,205.8 52.5,205.4 C52.8,205.1 53.1,204.7 53.6,204.5 C54.0,204.2 54.6,203.9 55.1,203.7 C55.7,203.5 56.4,203.4 57.1,203.3 C57.7,203.3 58.5,203.3 59.1,203.3 C59.8,203.4 60.5,203.5 61.1,203.7 C61.7,203.9 62.2,204.2 62.7,204.5 C63.1,204.7 63.5,205.1 63.7,205.4 C63.9,205.8 64.0,206.2 64.0,206.5Z" fill="#000" fill-opacity="0.12" stroke="#000" stroke-width="0.5"/>
<path d="M63.0,206.6 C63.0,206.9 62.9,207.2 62.7,207.5 C62.5,207.8 62.2,208.1 61.8,208.4 C61.4,208.6 60.9,208.8 60.4,209.0 C59.9,209.2 59.3,209.3 58.7,209.3 C58.1,209.4 57.5,209.4 56.9,209.3 C56.3,209.3 55.7,209.2 55.2,209.0 C54.7,208.8 54.2,208.6 53.8,208.4 C53.5,208.1 53.1,207.8 52.9,207.5 C52.7,207.2 52.6,206.9 52.6,206.6 C52.6,206.2 52.7,205.9 52.9,205.6 C53.1,205.3 53.5,205.0 53.8,204.7 C54.2,204.5 54.7,204.3 55.2,204.1 C55.7,203.9 56.3,203.8 56.9,203.8 C57.5,203.7 58.1,203.7 58.7,203.8 C59.3,203.8 59.9,203.9 60.4,204.1 C60.9,204.3 61.4,204.5 61.8,204.7 C62.2,205.0 62.5,205.3 62.7,205.6 C62.9,205.9 63.0,206.2 63.0,206.6Z" fill="#000" fill-opacity="0.12" stroke="#000" stroke-width="0.5"/>
<path d="M62.1,206.6 C62.1,206.8 62.0,207.1 61.8,207.4 C61.6,207.7 61.4,207.9 61.0,208.2 C60.7,208.4 60.3,208.6 59.8,208.7 C59.4,208.8 58.9,208.9 58.4,209.0 C57.8,209.0 57.3,209.0 56.8,209.0 C56.3,208.9 55.7,208.8 55.3,208.7 C54.8,208.6 54.4,208.4 54.1,208.2 C53.8,207.9 53.5,207.7 53.3,207.4 C53.1,207.1 53.0,206.8 53.0,206.6 C53.0,206.3 53.1,206.0 53.3,205.7 C53.5,205.4 53.8,205.2 54.1,205.0 C54.4,204.7 54.8,204.6 55.3,204.4 C55.7,204.3 56.3,204.2 56.8,204.1 C57.3,204.1 57.8,204.1 58.4,204.1 C58.9,204.2 59.4,204.3 59.8,204.4 C60.3,204.6 60.7,204.7 61.0,205.0 C61.4,205.2 61.6,205.4 61.8,205.7 C62.0,206.0 62.1,206.3 62.1,206.6Z" fill="#000" fill-opacity="0.12" stroke="#000" stroke-width="0.5"/>
<path d="M61.2,206.6 C61.2,206.8 61.1,207.1 61.0,207.3 C60.8,207.5 60.6,207.7 60.3,207.9 C60.0,208.1 59.6,208.3 59.3,208.4 C58.9,208.5 58.4,208.6 58.0,208.7 C57.6,208.7 57.1,208.7 56.6,208.7 C56.2,208.6 55.8,208.5 55.4,208.4 C55.0,208.3 54.6,208.1 54.3,207.9 C54.0,207.7 53.8,207.5 53.7,207.3 C53.5,207.1 53.4,206.8 53.4,206.6 C53.4,206.3 53.5,206.1 53.7,205.8 C53.8,205.6 54.0,205.4 54.3,205.2 C54.6,205.0 55.0,204.8 55.4,204.7 C55.8,204.6 56.2,204.5 56.6,204.5 C57.1,204.4 57.6,204.4 58.0,204.5 C58.4,204.5 58.9,204.6 59.3,204.7 C59.6,204.8 60.0,205.0 60.3,205.2 C60.6,205.4 60.8,205.6 61.0,205.8 C61.1,206.1 61.2,206.3 61.2,206.6Z" fill="#000" fill-opacity="0.12" stroke="#000" stroke-width="0.5"/>
<path d="M60.3,206.6 C60.3,206.8 60.2,207.0 60.1,207.2 C60.0,207.4 59.8,207.6 59.5,207.7 C59.3,207.9 59.0,208.0 58.7,208.1 C58.4,208.2 58.0,208.3 57.6,208.3 C57.3,208.3 56.9,208.3 56.5,208.3 C56.1,208.3 55.8,208.2 55.4,208.1 C55.1,208.0 54.8,207.9 54.6,207.7 C54.3,207.6 54.1,207.4 54.0,207.2 C53.9,207.0 53.8,206.8 53.8,206.6 C53.8,206.4 53.9,206.2 54.0,206.0 C54.1,205.8 54.3,205.6 54.6,205.4 C54.8,205.3 55.1,205.1 55.4,205.0 C55.8,204.9 56.1,204.9 56.5,204.8 C56.9,204.8 57.3,204.8 57.6,204.8 C58.0,204.9 58.4,204.9 58.7,205.0 C59.0,205.1 59.3,205.3 59.5,205.4 C59.8,205.6 60.0,205.8 60.1,206.0 C60.2,206.2 60.3,206.4 60.3,206.6Z" fill="#000" fill-opacity="0.12" stroke="#000" stroke-width="0.5"/>
<path d="M59.4,206.6 C59.4,206.7 59.3,206.9 59.2,207.1 C59.1,207.2 59.0,207.4 58.8,207.5 C58.6,207.6 58.4,207.7 58.1,207.8 C57.8,207.9 57.5,207.9 57.3,208.0 C57.0,208.0 56.6,208.0 56.4,208.0 C56.1,207.9 55.8,207.9 55.5,207.8 C55.3,207.7 55.0,207.6 54.8,207.5 C54.6,207.4 54.5,207.2 54.4,207.1 C54.3,206.9 54.2,206.7 54.2,206.6 C54.2,206.4 54.3,206.2 54.4,206.1 C54.5,205.9 54.6,205.8 54.8,205.7 C55.0,205.5 55.3,205.4 55.5,205.3 C55.8,205.3 56.1,205.2 56.4,205.2 C56.6,205.2 57.0,205.2 57.3,205.2 C57.5,205.2 57.8,205.3 58.1,205.3 C58.4,205.4 58.6,205.5 58.8,205.7 C59.0,205.8 59.1,205.9 59.2,206.1 C59.3,206.2 59.4,206.4 59.4,206.6Z" fill="#000" fill-opacity="0.12" stroke="#000" stroke-width="0.5"/>
<path d="M58.5,206.6 C58.5,206.7 58.5,206.8 58.4,206.9 C58.3,207.1 58.2,207.2 58.0,207.3 C57.9,207.4 57.7,207.4 57.5,207.5 C57.3,207.6 57.1,207.6 56.9,207.6 C56.7,207.6 56.4,207.6 56.2,207.6 C56.0,207.6 55.8,207.6 55.6,207.5 C55.4,207.4 55.2,207.4 55.1,207.3 C54.9,207.2 54.8,207.1 54.7,206.9 C54.7,206.8 54.6,206.7 54.6,206.6 C54.6,206.5 54.7,206.3 54.7,206.2 C54.8,206.1 54.9,206.0 55.1,205.9 C55.2,205.8 55.4,205.7 55.6,205.7 C55.8,205.6 56.0,205.6 56.2,205.5 C56.4,205.5 56.7,205.5 56.9,205.5 C57.1,205.6 57.3,205.6 57.5,205.7 C57.7,205.7 57.9,205.8 58.0,205.9 C58.2,206.0 58.3,206.1 58.4,206.2 C58.5,206.3 58.5,206.5 58.5,206.6Z" fill="#000" fill-opacity="0.12" stroke="#000" stroke-width="0.5"/>
<ellipse cx="56.5" cy="206.6" rx="1.3" ry="1.0" fill="#aaa"/>
<path d="M100.4,233.5 C101.0,234.3 101.4,235.3 101.7,236.2 C101.9,237.1 102.0,238.1 101.9,239.0 C101.8,239.9 101.5,240.9 101.1,241.6 C100.7,242.4 100.0,243.0 99.4,243.5 C98.7,244.0 97.8,244.4 97.0,244.5 C96.1,244.6 95.1,244.6 94.3,244.4 C93.4,244.2 92.5,243.7 91.7,243.2 C90.9,242.6 90.1,241.9 89.6,241.1 C89.0,240.3 88.6,239.3 88.3,238.4 C88.1,237.5 88.0,236.5 88.1,235.6 C88.2,234.7 88.5,233.7 88.9,233.0 C89.3,232.2 90.0,231.6 90.6,231.1 C91.3,230.6 92.2,230.2 93.0,230.1 C93.9,230.0 94.9,230.0 95.7,230.2 C96.6,230.4 97.5,230.9 98.3,231.4 C99.1,232.0 99.9,232.7 100.4,233.5Z" fill="#000" fill-opacity="0.11" stroke="#000" stroke-width="0.5"/>
<path d="M99.9,233.9 C100.4,234.7 100.8,235.5 101.0,236.3 C101.3,237.2 101.3,238.1 101.2,238.9 C101.2,239.7 100.9,240.5 100.5,241.2 C100.1,241.9 99.6,242.5 99.0,243.0 C98.3,243.4 97.6,243.7 96.8,243.8 C96.0,244.0 95.2,243.9 94.4,243.7 C93.6,243.5 92.7,243.1 92.0,242.6 C91.3,242.1 90.7,241.5 90.2,240.8 C89.7,240.0 89.3,239.2 89.0,238.4 C88.8,237.5 88.7,236.6 88.8,235.8 C88.9,235.0 89.2,234.2 89.5,233.5 C89.9,232.8 90.5,232.2 91.1,231.7 C91.7,231.3 92.5,231.0 93.3,230.9 C94.0,230.7 94.9,230.8 95.7,231.0 C96.5,231.2 97.3,231.6 98.0,232.1 C98.7,232.6 99.4,233.2 99.9,233.9Z" fill="#000" fill-opacity="0.11" stroke="#000" stroke-width="0.5"/>
<path d="M99.4,234.4 C99.8,235.0 100.2,235.8 100.4,236.5 C100.6,237.2 100.7,238.1 100.6,238.8 C100.5,239.5 100.3,240.2 99.9,240.8 C99.6,241.4 99.1,242.0 98.5,242.4 C98.0,242.8 97.3,243.0 96.6,243.2 C95.9,243.3 95.2,243.2 94.5,243.1 C93.8,242.9 93.0,242.5 92.4,242.1 C91.8,241.7 91.2,241.1 90.7,240.4 C90.3,239.8 89.9,239.0 89.7,238.3 C89.5,237.6 89.5,236.7 89.5,236.0 C89.6,235.3 89.8,234.6 90.2,234.0 C90.5,233.4 91.0,232.8 91.6,232.4 C92.1,232.0 92.8,231.8 93.5,231.6 C94.2,231.5 94.9,231.6 95.7,231.7 C96.4,231.9 97.1,232.3 97.7,232.7 C98.3,233.1 98.9,233.7 99.4,234.4Z" fill="#000" fill-opacity="0.11" stroke="#000" stroke-width="0.5"/>
<path d="M98.9,234.8 C99.3,235.4 99.6,236.0 99.8,236.7 C99.9,237.3 100.0,238.0 99.9,238.7 C99.9,239.3 99.7,239.9 99.4,240.5 C99.1,241.0 98.6,241.5 98.1,241.8 C97.7,242.1 97.1,242.4 96.5,242.5 C95.9,242.6 95.2,242.6 94.6,242.4 C94.0,242.3 93.3,242.0 92.8,241.6 C92.2,241.2 91.7,240.7 91.3,240.1 C90.9,239.5 90.6,238.9 90.4,238.2 C90.3,237.6 90.2,236.9 90.3,236.2 C90.3,235.6 90.5,235.0 90.8,234.4 C91.1,233.9 91.6,233.4 92.0,233.1 C92.5,232.8 93.1,232.5 93.7,232.4 C94.3,232.3 95.0,232.3 95.6,232.5 C96.2,232.6 96.9,232.9 97.4,233.3 C98.0,233.7 98.5,234.2 98.9,234.8Z" fill="#000" fill-opacity="0.11" stroke="#000" stroke-width="0.5"/>
<path d="M98.4,235.2 C98.7,235.7 99.0,236.3 99.1,236.8 C99.3,237.4 99.3,238.0 99.3,238.5 C99.2,239.1 99.0,239.6 98.8,240.1 C98.5,240.5 98.1,240.9 97.7,241.2 C97.3,241.5 96.8,241.7 96.3,241.8 C95.8,241.9 95.2,241.9 94.7,241.7 C94.1,241.6 93.6,241.4 93.1,241.0 C92.7,240.7 92.2,240.2 91.9,239.8 C91.5,239.3 91.3,238.7 91.1,238.2 C91.0,237.6 90.9,237.0 91.0,236.5 C91.0,235.9 91.2,235.4 91.5,234.9 C91.7,234.5 92.1,234.1 92.5,233.8 C92.9,233.5 93.4,233.3 93.9,233.2 C94.5,233.1 95.0,233.1 95.6,233.3 C96.1,233.4 96.6,233.6 97.1,234.0 C97.6,234.3 98.0,234.8 98.4,235.2Z" fill="#000" fill-opacity="0.11" stroke="#000" stroke-width="0.5"/>
<path d="M98.0,235.6 C98.2,236.0 98.5,236.5 98.6,237.0 C98.7,237.4 98.8,238.0 98.7,238.4 C98.7,238.9 98.5,239.4 98.3,239.8 C98.1,240.2 97.8,240.5 97.4,240.8 C97.1,241.0 96.6,241.2 96.2,241.3 C95.7,241.4 95.2,241.3 94.8,241.2 C94.3,241.1 93.8,240.9 93.4,240.6 C93.0,240.3 92.6,239.9 92.3,239.5 C92.0,239.1 91.8,238.6 91.7,238.1 C91.5,237.6 91.5,237.1 91.6,236.6 C91.6,236.2 91.8,235.7 92.0,235.3 C92.2,234.9 92.5,234.6 92.9,234.3 C93.2,234.1 93.7,233.9 94.1,233.8 C94.6,233.7 95.1,233.7 95.5,233.9 C96.0,234.0 96.5,234.2 96.9,234.5 C97.3,234.8 97.7,235.2 98.0,235.6Z" fill="#000" fill-opacity="0.11" stroke="#000" stroke-width="0.5"/>
<path d="M97.5,235.9 C97.8,236.3 98.0,236.7 98.1,237.1 C98.2,237.5 98.2,237.9 98.2,238.3 C98.2,238.7 98.0,239.1 97.9,239.5 C97.7,239.8 97.4,240.1 97.1,240.3 C96.8,240.5 96.4,240.7 96.0,240.7 C95.7,240.8 95.2,240.8 94.8,240.7 C94.5,240.6 94.0,240.4 93.7,240.2 C93.4,239.9 93.0,239.6 92.8,239.2 C92.5,238.9 92.3,238.5 92.2,238.1 C92.1,237.7 92.1,237.2 92.1,236.8 C92.2,236.4 92.3,236.0 92.5,235.7 C92.7,235.4 92.9,235.1 93.2,234.8 C93.6,234.6 93.9,234.5 94.3,234.4 C94.7,234.3 95.1,234.4 95.5,234.5 C95.9,234.6 96.3,234.8 96.6,235.0 C97.0,235.2 97.3,235.6 97.5,235.9Z" fill="#000" fill-opacity="0.11" stroke="#000" stroke-width="0.5"/>
<path d="M97.1,236.3 C97.3,236.5 97.5,236.9 97.6,237.2 C97.7,237.5 97.7,237.9 97.7,238.2 C97.6,238.6 97.5,238.9 97.4,239.2 C97.2,239.4 97.0,239.7 96.8,239.9 C96.5,240.0 96.2,240.2 95.9,240.2 C95.6,240.3 95.2,240.2 94.9,240.2 C94.6,240.1 94.3,239.9 94.0,239.7 C93.7,239.5 93.4,239.3 93.2,239.0 C93.0,238.7 92.9,238.4 92.8,238.0 C92.7,237.7 92.7,237.3 92.7,237.0 C92.7,236.7 92.8,236.3 93.0,236.1 C93.2,235.8 93.4,235.6 93.6,235.4 C93.9,235.2 94.2,235.1 94.5,235.0 C94.8,235.0 95.1,235.0 95.5,235.1 C95.8,235.2 96.1,235.3 96.4,235.5 C96.7,235.7 96.9,236.0 97.1,236.3Z" fill="#000" fill-opacity="0.11" stroke="#000" stroke-width="0.5"/>
<path d="M96.7,236.6 C96.9,236.8 97.0,237.1 97.1,237.3 C97.2,237.6 97.2,237.9 97.1,238.1 C97.1,238.4 97.0,238.7 96.9,238.9 C96.8,239.1 96.6,239.3 96.4,239.4 C96.2,239.5 96.0,239.6 95.8,239.7 C95.5,239.7 95.3,239.7 95.0,239.6 C94.8,239.6 94.5,239.5 94.3,239.3 C94.1,239.2 93.9,238.9 93.7,238.7 C93.5,238.5 93.4,238.2 93.4,238.0 C93.3,237.7 93.3,237.4 93.3,237.2 C93.3,236.9 93.4,236.7 93.5,236.5 C93.6,236.2 93.8,236.1 94.0,235.9 C94.2,235.8 94.4,235.7 94.7,235.6 C94.9,235.6 95.2,235.6 95.4,235.7 C95.7,235.7 95.9,235.9 96.1,236.0 C96.4,236.2 96.6,236.4 96.7,236.6Z" fill="#000" fill-opacity="0.11" stroke="#000" stroke-width="0.5"/>
<path d="M96.3,236.9 C96.4,237.1 96.5,237.3 96.6,237.5 C96.6,237.7 96.6,237.9 96.6,238.0 C96.6,238.2 96.5,238.4 96.5,238.6 C96.4,238.7 96.2,238.8 96.1,238.9 C96.0,239.0 95.8,239.1 95.6,239.1 C95.5,239.2 95.3,239.2 95.1,239.1 C94.9,239.1 94.7,239.0 94.6,238.9 C94.4,238.8 94.3,238.6 94.2,238.5 C94.0,238.3 94.0,238.1 93.9,237.9 C93.9,237.7 93.8,237.5 93.9,237.4 C93.9,237.2 93.9,237.0 94.0,236.8 C94.1,236.7 94.2,236.6 94.4,236.5 C94.5,236.4 94.7,236.3 94.8,236.3 C95.0,236.2 95.2,236.2 95.4,236.3 C95.6,236.3 95.7,236.4 95.9,236.5 C96.1,236.6 96.2,236.8 96.3,236.9Z" fill="#000" fill-opacity="0.11" stroke="#000" stroke-width="0.5"/>
<ellipse cx="95.3" cy="237.8" rx="0.9" ry="1.2" fill="#bbb"/>
<rect x="46.40" y="193.50" width="31.10" height="22.80" fill="none" stroke="#222" stroke-width="0.9"/>
<rect x="80.50" y="224.50" width="25.00" height="22.00" fill="none" stroke="#222" stroke-width="0.9"/>
<text x="61.95" y="192.90" font-size="6.4" text-anchor="middle" fill="#111">51.4%</text>
<text x="93.00" y="223.90" font-size="6.4" text-anchor="middle" fill="#111">46.8%</text>
<rect x="36.40" y="177.80" width="74.20" height="73.80" fill="none" stroke="#333" stroke-width="0.9"/>
<line x1="35.40" y1="180.00" x2="36.40" y2="180.00" stroke="#555" stroke-width="0.5"/>
<line x1="35.40" y1="183.68" x2="36.40" y2="183.68" stroke="#555" stroke-width="0.5"/>
<line x1="35.40" y1="187.37" x2="36.40" y2="187.37" stroke="#555" stroke-width="0.5"/>
<line x1="35.40" y1="191.05" x2="36.40" y2="191.05" stroke="#555" stroke-width="0.5"/>
<line x1="35.40" y1="194.74" x2="36.40" y2="194.74" stroke="#555" stroke-width="0.5"/>
<line x1="35.40" y1="198.42" x2="36.40" y2="198.42" stroke="#555" stroke-width="0.5"/>
<line x1="35.40" y1="202.11" x2="36.40" y2="202.11" stroke="#555" stroke-width="0.5"/>
<line x1="35.40" y1="205.79" x2="36.40" y2="205.79" stroke="#555" stroke-width="0.5"/>
<line x1="35.40" y1="209.47" x2="36.40" y2="209.47" stroke="#555" stroke-width="0.5"/>
<line x1="35.40" y1="213.16" x2="36.40" y2="213.16" stroke="#555" stroke-width="0.5"/>
<line x1="35.40" y1="216.84" x2="36.40" y2="216.84" stroke="#555" stroke-width="0.5"/>
<line x1="35.40" y1="220.53" x2="36.40" y2="220.53" stroke="#555" stroke-width="0.5"/>
<line x1="35.40" y1="224.21" x2="36.40" y2="224.21" stroke="#555" stroke-width="0.5"/>
<line x1="35.40" y1="227.89" x2="36.40" y2="227.89" stroke="#555" stroke-width="0.5"/>
<line x1="35.40" y1="231.58" x2="36.40" y2="231.58" stroke="#555" stroke-width="0.5"/>
<line x1="35.40" y1="235.26" x2="36.40" y2="235.26" stroke="#555" stroke-width="0.5"/>
<line x1="35.40" y1="238.95" x2="36.40" y2="238.95" stroke="#555" stroke-width="0.5"/>
<line x1="35.40" y1="242.63" x2="36.40" y2="242.63" stroke="#555" stroke-width="0.5"/>
<line x1="35.40" y1="246.32" x2="36.40" y2="246.32" stroke="#555" stroke-width="0.5"/>
<line x1="35.40" y1="250.00" x2="36.40" y2="250.00" stroke="#555" stroke-width="0.5"/>
<line x1="38.40" y1="251.60" x2="38.40" y2="252.60" stroke="#555" stroke-width="0.5"/>
<line x1="41.74" y1="251.60" x2="41.74" y2="252.60" stroke="#555" stroke-width="0.5"/>
<line x1="45.09" y1="251.60" x2="45.09" y2="252.60" stroke="#555" stroke-width="0.5"/>
<line x1="48.43" y1="251.60" x2="48.43" y2="252.60" stroke="#555" stroke-width="0.5"/>
<line x1="51.77" y1="251.60" x2="51.77" y2="252.60" stroke="#555" stroke-width="0.5"/>
<line x1="55.11" y1="251.60" x2="55.11" y2="252.60" stroke="#555" stroke-width="0.5"/>
<line x1="58.46" y1="251.60" x2="58.46" y2="252.60" stroke="#555" stroke-width="0.5"/>
<line x1="61.80" y1="251.60" x2="61.80" y2="252.60" stroke="#555" stroke-width="0.5"/>
<line x1="65.14" y1="251.60" x2="65.14" y2="252.60" stroke="#555" stroke-width="0.5"/>
<line x1="68.49" y1="251.60" x2="68.49" y2="252.60" stroke="#555" stroke-width="0.5"/>
<line x1="71.83" y1="251.60" x2="71.83" y2="252.60" stroke="#555" stroke-width="0.5"/>
<line x1="75.17" y1="251.60" x2="75.17" y2="252.60" stroke="#555" stroke-width="0.5"/>
<line x1="78.51" y1="251.60" x2="78.51" y2="252.60" stroke="#555" stroke-width="0.5"/>
<line x1="81.86" y1="251.60" x2="81.86" y2="252.60" stroke="#555" stroke-width="0.5"/>
<line x1="85.20" y1="251.60" x2="85.20" y2="252.60" stroke="#555" stroke-width="0.5"/>
<line x1="88.54" y1="251.60" x2="88.54" y2="252.60" stroke="#555" stroke-width="0.5"/>
<line x1="91.89" y1="251.60" x2="91.89" y2="252.60" stroke="#555" stroke-width="0.5"/>
<line x1="95.23" y1="251.60" x2="95.23" y2="252.60" stroke="#555" stroke-width="0.5"/>
<line x1="98.57" y1="251.60" x2="98.57" y2="252.60" stroke="#555" stroke-width="0.5"/>
<line x1="101.91" y1="251.60" x2="101.91" y2="252.60" stroke="#555" stroke-width="0.5"/>
<line x1="105.26" y1="251.60" x2="105.26" y2="252.60" stroke="#555" stroke-width="0.5"/>
<line x1="108.60" y1="251.60" x2="108.60" y2="252.60" stroke="#555" stroke-width="0.5"/>
<line x1="35.20" y1="233.50" x2="35.20" y2="236.50" stroke="#111" stroke-width="1.6"/>
<line x1="54.00" y1="253.00" x2="57.00" y2="253.00" stroke="#111" stroke-width="1.6"/>
<line x1="34.80" y1="185.00" x2="36.40" y2="185.00" stroke="#333" stroke-width="0.7"/>
<text x="32.20" y="187.40" font-size="6.9" text-anchor="end" fill="#111">10<tspan font-size="4.69" dy="-3.11">5</tspan></text>
<line x1="34.80" y1="202.50" x2="36.40" y2="202.50" stroke="#333" stroke-width="0.7"/>
<text x="32.20" y="204.90" font-size="6.9" text-anchor="end" fill="#111">10<tspan font-size="4.69" dy="-3.11">4</tspan></text>
<line x1="34.80" y1="223.00" x2="36.40" y2="223.00" stroke="#333" stroke-width="0.7"/>
<text x="32.20" y="225.40" font-size="6.9" text-anchor="end" fill="#111">10<tspan font-size="4.69" dy="-3.11">3</tspan></text>
<line x1="34.80" y1="235.00" x2="36.40" y2="235.00" stroke="#333" stroke-width="0.7"/>
<text x="31.80" y="237.40" font-size="6.9" text-anchor="end" fill="#111">0</text>
<line x1="34.80" y1="248.80" x2="36.40" y2="248.80" stroke="#333" stroke-width="0.7"/>
<text x="32.20" y="251.20" font-size="6.9" text-anchor="end" fill="#111">-10<tspan font-size="4.69" dy="-3.11">3</tspan></text>
<line x1="41.50" y1="251.60" x2="41.50" y2="253.20" stroke="#333" stroke-width="0.7"/>
<text x="41.50" y="260.60" font-size="6.9" text-anchor="middle" fill="#111">-10<tspan font-size="4.69" dy="-3.11">3</tspan></text>
<line x1="55.00" y1="251.60" x2="55.00" y2="253.20" stroke="#333" stroke-width="0.7"/>
<text x="55.00" y="260.60" font-size="6.9" text-anchor="middle" fill="#111">0</text>
<line x1="65.50" y1="251.60" x2="65.50" y2="253.20" stroke="#333" stroke-width="0.7"/>
<text x="66.50" y="260.60" font-size="6.9" text-anchor="middle" fill="#111">10<tspan font-size="4.69" dy="-3.11">3</tspan></text>
<line x1="87.50" y1="251.60" x2="87.50" y2="253.20" stroke="#333" stroke-width="0.7"/>
<text x="88.50" y="260.60" font-size="6.9" text-anchor="middle" fill="#111">10<tspan font-size="4.69" dy="-3.11">4</tspan></text>
<line x1="103.80" y1="251.60" x2="103.80" y2="253.20" stroke="#333" stroke-width="0.7"/>
<text x="104.80" y="260.60" font-size="6.9" text-anchor="middle" fill="#111">10<tspan font-size="4.69" dy="-3.11">5</tspan></text>
<text x="73.50" y="175.10" font-size="9.6" text-anchor="middle" fill="#111">Con</text>
<path d="M147.2,231.7h0.55v0.55h-0.55z M134.8,228.4h0.55v0.55h-0.55z M155.1,229.9h0.55v0.55h-0.55z M142.5,230.5h0.55v0.55h-0.55z M144.3,232.6h0.55v0.55h-0.55z M143.5,228.9h0.55v0.55h-0.55z M147.1,236.0h0.55v0.55h-0.55z M148.1,229.5h0.55v0.55h-0.55z M174.8,231.7h0.55v0.55h-0.55z M151.3,231.9h0.55v0.55h-0.55z M156.3,234.4h0.55v0.55h-0.55z M139.0,236.5h0.55v0.55h-0.55z M155.0,229.6h0.55v0.55h-0.55z M140.6,229.5h0.55v0.55h-0.55z M161.0,234.2h0.55v0.55h-0.55z M151.4,236.3h0.55v0.55h-0.55z M163.6,233.7h0.55v0.55h-0.55z M152.2,232.5h0.55v0.55h-0.55z M147.1,232.6h0.55v0.55h-0.55z M145.5,234.4h0.55v0.55h-0.55z M159.3,229.4h0.55v0.55h-0.55z M154.6,231.8h0.55v0.55h-0.55z M146.0,228.1h0.55v0.55h-0.55z M126.8,231.8h0.55v0.55h-0.55z M143.2,231.0h0.55v0.55h-0.55z M146.6,229.4h0.55v0.55h-0.55z M152.2,237.4h0.55v0.55h-0.55z M159.4,234.4h0.55v0.55h-0.55z M148.3,232.9h0.55v0.55h-0.55z M146.4,231.8h0.55v0.55h-0.55z M143.6,230.5h0.55v0.55h-0.55z M186.6,236.4h0.55v0.55h-0.55z M154.4,233.9h0.55v0.55h-0.55z M141.5,232.7h0.55v0.55h-0.55z M137.9,232.0h0.55v0.55h-0.55z M137.9,230.8h0.55v0.55h-0.55z M147.1,235.0h0.55v0.55h-0.55z M145.4,229.7h0.55v0.55h-0.55z M126.9,231.4h0.55v0.55h-0.55z M157.0,233.4h0.55v0.55h-0.55z M145.9,232.5h0.55v0.55h-0.55z M149.3,229.8h0.55v0.55h-0.55z M146.3,234.8h0.55v0.55h-0.55z M152.0,232.9h0.55v0.55h-0.55z M155.8,228.7h0.55v0.55h-0.55z M161.4,230.4h0.55v0.55h-0.55z M141.8,236.1h0.55v0.55h-0.55z M151.5,232.6h0.55v0.55h-0.55z M157.8,229.4h0.55v0.55h-0.55z M157.6,241.1h0.55v0.55h-0.55z M148.7,233.3h0.55v0.55h-0.55z M147.7,236.8h0.55v0.55h-0.55z M162.2,234.2h0.55v0.55h-0.55z M140.5,233.7h0.55v0.55h-0.55z M149.5,228.6h0.55v0.55h-0.55z M168.7,232.2h0.55v0.55h-0.55z M163.8,227.8h0.55v0.55h-0.55z M155.8,230.2h0.55v0.55h-0.55z M158.9,234.8h0.55v0.55h-0.55z M129.7,226.6h0.55v0.55h-0.55z M141.6,229.3h0.55v0.55h-0.55z M161.4,235.8h0.55v0.55h-0.55z M154.4,233.6h0.55v0.55h-0.55z M164.7,234.9h0.55v0.55h-0.55z M161.5,231.9h0.55v0.55h-0.55z M163.0,236.2h0.55v0.55h-0.55z M156.2,237.7h0.55v0.55h-0.55z M138.3,225.8h0.55v0.55h-0.55z M152.7,235.1h0.55v0.55h-0.55z M147.3,234.1h0.55v0.55h-0.55z M162.1,231.9h0.55v0.55h-0.55z M158.0,235.5h0.55v0.55h-0.55z M169.9,238.4h0.55v0.55h-0.55z M148.5,233.2h0.55v0.55h-0.55z M148.5,230.1h0.55v0.55h-0.55z M138.7,228.2h0.55v0.55h-0.55z M160.2,235.2h0.55v0.55h-0.55z M155.8,232.5h0.55v0.55h-0.55z M149.1,237.8h0.55v0.55h-0.55z M166.3,235.6h0.55v0.55h-0.55z M156.8,226.0h0.55v0.55h-0.55z M155.6,229.6h0.55v0.55h-0.55z M137.0,233.6h0.55v0.55h-0.55z M131.0,225.8h0.55v0.55h-0.55z M155.7,236.3h0.55v0.55h-0.55z M141.9,233.5h0.55v0.55h-0.55z M158.0,238.1h0.55v0.55h-0.55z M135.8,230.1h0.55v0.55h-0.55z M148.5,236.6h0.55v0.55h-0.55z M152.1,234.6h0.55v0.55h-0.55z M158.6,236.8h0.55v0.55h-0.55z M156.5,229.9h0.55v0.55h-0.55z M149.8,231.8h0.55v0.55h-0.55z M143.6,232.6h0.55v0.55h-0.55z M141.5,232.4h0.55v0.55h-0.55z M148.5,240.1h0.55v0.55h-0.55z M141.9,232.1h0.55v0.55h-0.55z M140.8,232.9h0.55v0.55h-0.55z M151.8,230.0h0.55v0.55h-0.55z M156.4,229.7h0.55v0.55h-0.55z M141.1,229.2h0.55v0.55h-0.55z M145.9,232.3h0.55v0.55h-0.55z M152.5,228.9h0.55v0.55h-0.55z M150.9,236.7h0.55v0.55h-0.55z M162.9,232.0h0.55v0.55h-0.55z M137.4,231.4h0.55v0.55h-0.55z M159.6,234.9h0.55v0.55h-0.55z M135.9,234.5h0.55v0.55h-0.55z M145.4,234.2h0.55v0.55h-0.55z M153.4,231.2h0.55v0.55h-0.55z M150.6,236.4h0.55v0.55h-0.55z M163.6,231.8h0.55v0.55h-0.55z M151.8,234.2h0.55v0.55h-0.55z M145.4,232.9h0.55v0.55h-0.55z M149.7,234.6h0.55v0.55h-0.55z M162.7,228.4h0.55v0.55h-0.55z M158.9,229.9h0.55v0.55h-0.55z M156.8,233.9h0.55v0.55h-0.55z M150.4,232.2h0.55v0.55h-0.55z M131.2,232.5h0.55v0.55h-0.55z M148.6,235.9h0.55v0.55h-0.55z M139.4,229.2h0.55v0.55h-0.55z M159.1,237.9h0.55v0.55h-0.55z M154.1,234.1h0.55v0.55h-0.55z M146.3,234.9h0.55v0.55h-0.55z M140.0,233.5h0.55v0.55h-0.55z M146.2,227.1h0.55v0.55h-0.55z M151.7,226.9h0.55v0.55h-0.55z M148.8,237.6h0.55v0.55h-0.55z M153.6,227.3h0.55v0.55h-0.55z M130.3,235.6h0.55v0.55h-0.55z M135.7,237.7h0.55v0.55h-0.55z M147.3,231.9h0.55v0.55h-0.55z M163.9,230.7h0.55v0.55h-0.55z M124.9,230.0h0.55v0.55h-0.55z M162.5,229.7h0.55v0.55h-0.55z M150.4,228.0h0.55v0.55h-0.55z M158.9,236.1h0.55v0.55h-0.55z M160.9,233.5h0.55v0.55h-0.55z M156.2,237.6h0.55v0.55h-0.55z M154.8,232.1h0.55v0.55h-0.55z M141.4,231.8h0.55v0.55h-0.55z M160.6,232.8h0.55v0.55h-0.55z M155.6,237.3h0.55v0.55h-0.55z M137.2,233.4h0.55v0.55h-0.55z M143.4,233.4h0.55v0.55h-0.55z M158.9,236.3h0.55v0.55h-0.55z M155.8,235.5h0.55v0.55h-0.55z M132.8,230.3h0.55v0.55h-0.55z M154.4,235.8h0.55v0.55h-0.55z M154.6,234.7h0.55v0.55h-0.55z M164.9,232.5h0.55v0.55h-0.55z M174.9,237.6h0.55v0.55h-0.55z M142.3,236.3h0.55v0.55h-0.55z M150.8,230.9h0.55v0.55h-0.55z M147.0,235.6h0.55v0.55h-0.55z M127.4,227.4h0.55v0.55h-0.55z M163.7,240.5h0.55v0.55h-0.55z M139.0,231.1h0.55v0.55h-0.55z M163.2,235.7h0.55v0.55h-0.55z M166.0,236.4h0.55v0.55h-0.55z M146.6,238.7h0.55v0.55h-0.55z M149.2,230.0h0.55v0.55h-0.55z M145.9,236.9h0.55v0.55h-0.55z M139.0,233.4h0.55v0.55h-0.55z M158.1,233.2h0.55v0.55h-0.55z M139.3,236.9h0.55v0.55h-0.55z M141.7,233.6h0.55v0.55h-0.55z M144.7,233.6h0.55v0.55h-0.55z M158.3,238.4h0.55v0.55h-0.55z M138.3,233.4h0.55v0.55h-0.55z M142.9,233.4h0.55v0.55h-0.55z M150.1,233.4h0.55v0.55h-0.55z M141.8,231.3h0.55v0.55h-0.55z M144.9,230.4h0.55v0.55h-0.55z M153.3,225.9h0.55v0.55h-0.55z M139.3,235.9h0.55v0.55h-0.55z M155.7,236.9h0.55v0.55h-0.55z M146.7,236.3h0.55v0.55h-0.55z M158.0,227.5h0.55v0.55h-0.55z M136.0,235.0h0.55v0.55h-0.55z M139.7,231.7h0.55v0.55h-0.55z M151.8,233.6h0.55v0.55h-0.55z M155.4,235.8h0.55v0.55h-0.55z M147.3,234.9h0.55v0.55h-0.55z M146.5,235.7h0.55v0.55h-0.55z M150.2,227.3h0.55v0.55h-0.55z M152.6,229.2h0.55v0.55h-0.55z M167.0,235.2h0.55v0.55h-0.55z M150.1,231.5h0.55v0.55h-0.55z M149.6,236.5h0.55v0.55h-0.55z M156.7,243.1h0.55v0.55h-0.55z M140.1,229.7h0.55v0.55h-0.55z M149.2,236.2h0.55v0.55h-0.55z M132.5,230.9h0.55v0.55h-0.55z M143.4,235.6h0.55v0.55h-0.55z M143.2,236.0h0.55v0.55h-0.55z M145.8,235.0h0.55v0.55h-0.55z M128.9,229.8h0.55v0.55h-0.55z M172.0,231.5h0.55v0.55h-0.55z M134.0,238.8h0.55v0.55h-0.55z M154.3,235.0h0.55v0.55h-0.55z M152.4,237.4h0.55v0.55h-0.55z M148.7,235.6h0.55v0.55h-0.55z M160.2,236.7h0.55v0.55h-0.55z M141.5,230.2h0.55v0.55h-0.55z M134.2,228.1h0.55v0.55h-0.55z M155.8,232.6h0.55v0.55h-0.55z M157.4,229.7h0.55v0.55h-0.55z M147.7,231.2h0.55v0.55h-0.55z M158.4,232.7h0.55v0.55h-0.55z M158.9,235.5h0.55v0.55h-0.55z M141.6,237.3h0.55v0.55h-0.55z M136.6,228.2h0.55v0.55h-0.55z M161.2,229.4h0.55v0.55h-0.55z M140.9,235.5h0.55v0.55h-0.55z M133.4,232.6h0.55v0.55h-0.55z M138.8,230.0h0.55v0.55h-0.55z M143.1,236.0h0.55v0.55h-0.55z M135.6,236.3h0.55v0.55h-0.55z" fill="#555" opacity="0.75"/>
<path d="M175.2,206.7h0.55v0.55h-0.55z M161.6,214.9h0.55v0.55h-0.55z M181.9,207.1h0.55v0.55h-0.55z M172.6,195.8h0.55v0.55h-0.55z M154.0,206.1h0.55v0.55h-0.55z M163.0,210.0h0.55v0.55h-0.55z M145.5,204.5h0.55v0.55h-0.55z M157.5,218.4h0.55v0.55h-0.55z M172.1,218.5h0.55v0.55h-0.55z M151.6,225.1h0.55v0.55h-0.55z M154.4,208.2h0.55v0.55h-0.55z M162.0,216.4h0.55v0.55h-0.55z M167.0,200.8h0.55v0.55h-0.55z M154.7,198.3h0.55v0.55h-0.55z M170.1,214.7h0.55v0.55h-0.55z M173.0,202.6h0.55v0.55h-0.55z M168.2,199.4h0.55v0.55h-0.55z M164.6,206.8h0.55v0.55h-0.55z M174.4,218.4h0.55v0.55h-0.55z M164.2,203.2h0.55v0.55h-0.55z M151.4,214.9h0.55v0.55h-0.55z M169.2,206.4h0.55v0.55h-0.55z M186.1,208.1h0.55v0.55h-0.55z M159.8,217.7h0.55v0.55h-0.55z M168.6,217.4h0.55v0.55h-0.55z M166.7,216.2h0.55v0.55h-0.55z M156.7,198.3h0.55v0.55h-0.55z M148.0,220.8h0.55v0.55h-0.55z M173.8,216.7h0.55v0.55h-0.55z M168.5,209.9h0.55v0.55h-0.55z M166.5,218.6h0.55v0.55h-0.55z M165.6,226.0h0.55v0.55h-0.55z M164.4,209.9h0.55v0.55h-0.55z M161.7,217.3h0.55v0.55h-0.55z M161.6,206.1h0.55v0.55h-0.55z M166.3,201.8h0.55v0.55h-0.55z M158.5,205.5h0.55v0.55h-0.55z M167.5,208.6h0.55v0.55h-0.55z M164.2,194.9h0.55v0.55h-0.55z M166.7,209.5h0.55v0.55h-0.55z M166.8,217.2h0.55v0.55h-0.55z M172.0,201.0h0.55v0.55h-0.55z M155.0,211.6h0.55v0.55h-0.55z M150.6,208.6h0.55v0.55h-0.55z M157.9,211.4h0.55v0.55h-0.55z M170.0,221.2h0.55v0.55h-0.55z M171.2,215.6h0.55v0.55h-0.55z M171.6,215.6h0.55v0.55h-0.55z M157.1,197.5h0.55v0.55h-0.55z M155.7,203.4h0.55v0.55h-0.55z M168.9,216.4h0.55v0.55h-0.55z M173.6,211.8h0.55v0.55h-0.55z M159.4,217.3h0.55v0.55h-0.55z M182.5,215.5h0.55v0.55h-0.55z M167.5,205.7h0.55v0.55h-0.55z M170.3,201.4h0.55v0.55h-0.55z M162.2,200.3h0.55v0.55h-0.55z M168.4,208.7h0.55v0.55h-0.55z M172.4,199.8h0.55v0.55h-0.55z M158.3,185.5h0.55v0.55h-0.55z M165.6,209.8h0.55v0.55h-0.55z M165.3,222.2h0.55v0.55h-0.55z M157.3,204.5h0.55v0.55h-0.55z M154.1,206.8h0.55v0.55h-0.55z M168.5,213.5h0.55v0.55h-0.55z M163.6,219.2h0.55v0.55h-0.55z M157.9,207.4h0.55v0.55h-0.55z M159.6,219.3h0.55v0.55h-0.55z M168.6,213.6h0.55v0.55h-0.55z M175.8,208.6h0.55v0.55h-0.55z M167.8,217.5h0.55v0.55h-0.55z M162.6,218.6h0.55v0.55h-0.55z M172.6,198.8h0.55v0.55h-0.55z M175.1,211.6h0.55v0.55h-0.55z M171.9,207.6h0.55v0.55h-0.55z M163.0,214.4h0.55v0.55h-0.55z M159.4,226.9h0.55v0.55h-0.55z M162.4,215.3h0.55v0.55h-0.55z M152.9,220.1h0.55v0.55h-0.55z M165.1,210.0h0.55v0.55h-0.55z M164.3,208.0h0.55v0.55h-0.55z M164.6,218.3h0.55v0.55h-0.55z M159.3,212.3h0.55v0.55h-0.55z M161.9,204.4h0.55v0.55h-0.55z M152.5,201.9h0.55v0.55h-0.55z M165.6,193.5h0.55v0.55h-0.55z M170.0,215.8h0.55v0.55h-0.55z M160.6,204.9h0.55v0.55h-0.55z M163.7,213.4h0.55v0.55h-0.55z M154.1,225.2h0.55v0.55h-0.55z M162.9,211.6h0.55v0.55h-0.55z M164.3,211.1h0.55v0.55h-0.55z M165.4,204.7h0.55v0.55h-0.55z M150.9,200.0h0.55v0.55h-0.55z M149.1,211.4h0.55v0.55h-0.55z M160.8,209.5h0.55v0.55h-0.55z M162.8,211.1h0.55v0.55h-0.55z M159.4,205.3h0.55v0.55h-0.55z M161.1,208.0h0.55v0.55h-0.55z M160.0,224.7h0.55v0.55h-0.55z M158.6,200.5h0.55v0.55h-0.55z M163.3,216.3h0.55v0.55h-0.55z M162.0,211.4h0.55v0.55h-0.55z M166.8,204.7h0.55v0.55h-0.55z M167.9,213.0h0.55v0.55h-0.55z M162.0,215.3h0.55v0.55h-0.55z M169.7,200.4h0.55v0.55h-0.55z M151.7,203.3h0.55v0.55h-0.55z M162.6,215.8h0.55v0.55h-0.55z M163.1,200.2h0.55v0.55h-0.55z M162.2,210.9h0.55v0.55h-0.55z M169.1,199.0h0.55v0.55h-0.55z M161.8,225.4h0.55v0.55h-0.55z M163.1,215.0h0.55v0.55h-0.55z M165.6,206.5h0.55v0.55h-0.55z M169.1,212.8h0.55v0.55h-0.55z M157.0,210.0h0.55v0.55h-0.55z M172.7,196.1h0.55v0.55h-0.55z M170.4,205.9h0.55v0.55h-0.55z M160.9,211.3h0.55v0.55h-0.55z M168.8,217.1h0.55v0.55h-0.55z M163.5,213.3h0.55v0.55h-0.55z M155.7,210.6h0.55v0.55h-0.55z M169.0,206.5h0.55v0.55h-0.55z M168.6,207.7h0.55v0.55h-0.55z M160.8,211.2h0.55v0.55h-0.55z M168.1,206.0h0.55v0.55h-0.55z M163.3,212.8h0.55v0.55h-0.55z M175.2,198.6h0.55v0.55h-0.55z M168.6,221.3h0.55v0.55h-0.55z M174.7,225.0h0.55v0.55h-0.55z M162.2,207.6h0.55v0.55h-0.55z M169.2,224.3h0.55v0.55h-0.55z M157.1,203.6h0.55v0.55h-0.55z M170.6,227.3h0.55v0.55h-0.55z M177.6,205.9h0.55v0.55h-0.55z M168.9,208.5h0.55v0.55h-0.55z M155.9,219.1h0.55v0.55h-0.55z M172.0,201.2h0.55v0.55h-0.55z M169.1,209.8h0.55v0.55h-0.55z M156.8,217.1h0.55v0.55h-0.55z M169.5,195.7h0.55v0.55h-0.55z M170.0,205.4h0.55v0.55h-0.55z M175.8,203.2h0.55v0.55h-0.55z M172.9,204.4h0.55v0.55h-0.55z M176.0,220.0h0.55v0.55h-0.55z M172.6,214.8h0.55v0.55h-0.55z M152.4,209.2h0.55v0.55h-0.55z M164.0,192.5h0.55v0.55h-0.55z M182.7,212.4h0.55v0.55h-0.55z M171.1,205.0h0.55v0.55h-0.55z M169.1,220.0h0.55v0.55h-0.55z M156.6,209.7h0.55v0.55h-0.55z M177.6,207.5h0.55v0.55h-0.55z M161.7,210.2h0.55v0.55h-0.55z M164.1,198.4h0.55v0.55h-0.55z M176.1,209.9h0.55v0.55h-0.55z M155.2,216.6h0.55v0.55h-0.55z M178.9,205.2h0.55v0.55h-0.55z M160.5,208.8h0.55v0.55h-0.55z M165.9,214.7h0.55v0.55h-0.55z M160.6,228.2h0.55v0.55h-0.55z M162.7,208.3h0.55v0.55h-0.55z M169.9,219.1h0.55v0.55h-0.55z M179.1,204.3h0.55v0.55h-0.55z M169.1,200.6h0.55v0.55h-0.55z M166.8,218.8h0.55v0.55h-0.55z M167.2,204.3h0.55v0.55h-0.55z M171.5,217.6h0.55v0.55h-0.55z M166.4,216.5h0.55v0.55h-0.55z" fill="#666" opacity="0.75"/>
<path d="M153.3,209.5h0.55v0.55h-0.55z M147.6,199.3h0.55v0.55h-0.55z M152.6,205.0h0.55v0.55h-0.55z M154.8,204.0h0.55v0.55h-0.55z M154.2,207.8h0.55v0.55h-0.55z M147.4,207.3h0.55v0.55h-0.55z M153.1,210.1h0.55v0.55h-0.55z M145.3,205.9h0.55v0.55h-0.55z M152.4,204.7h0.55v0.55h-0.55z M154.2,202.2h0.55v0.55h-0.55z M153.8,201.3h0.55v0.55h-0.55z M154.6,216.7h0.55v0.55h-0.55z M145.5,210.7h0.55v0.55h-0.55z M147.4,208.0h0.55v0.55h-0.55z M149.8,201.4h0.55v0.55h-0.55z M150.2,215.7h0.55v0.55h-0.55z M150.0,202.5h0.55v0.55h-0.55z M154.3,208.8h0.55v0.55h-0.55z M154.8,211.2h0.55v0.55h-0.55z M150.2,202.1h0.55v0.55h-0.55z M155.2,215.2h0.55v0.55h-0.55z M149.3,198.9h0.55v0.55h-0.55z M151.4,205.1h0.55v0.55h-0.55z M151.2,217.6h0.55v0.55h-0.55z M150.7,207.9h0.55v0.55h-0.55z M151.9,212.7h0.55v0.55h-0.55z M149.8,199.4h0.55v0.55h-0.55z M151.9,208.3h0.55v0.55h-0.55z M155.7,212.8h0.55v0.55h-0.55z M146.3,211.0h0.55v0.55h-0.55z M155.7,195.3h0.55v0.55h-0.55z M150.7,201.0h0.55v0.55h-0.55z M146.8,208.4h0.55v0.55h-0.55z M151.3,212.4h0.55v0.55h-0.55z M149.2,207.5h0.55v0.55h-0.55z M148.5,202.7h0.55v0.55h-0.55z M158.3,203.8h0.55v0.55h-0.55z M153.8,217.0h0.55v0.55h-0.55z M152.9,209.2h0.55v0.55h-0.55z M152.3,214.6h0.55v0.55h-0.55z M154.8,201.8h0.55v0.55h-0.55z M153.6,184.6h0.55v0.55h-0.55z M144.3,200.8h0.55v0.55h-0.55z M147.1,202.5h0.55v0.55h-0.55z M154.1,207.3h0.55v0.55h-0.55z M150.4,223.5h0.55v0.55h-0.55z M148.7,198.2h0.55v0.55h-0.55z M148.8,196.9h0.55v0.55h-0.55z M149.4,204.7h0.55v0.55h-0.55z M153.9,208.0h0.55v0.55h-0.55z M141.2,197.1h0.55v0.55h-0.55z M151.5,203.5h0.55v0.55h-0.55z M154.2,200.1h0.55v0.55h-0.55z M158.9,214.7h0.55v0.55h-0.55z M148.1,209.8h0.55v0.55h-0.55z M153.3,211.2h0.55v0.55h-0.55z M156.8,197.5h0.55v0.55h-0.55z M151.5,193.0h0.55v0.55h-0.55z M157.7,198.5h0.55v0.55h-0.55z M152.4,206.5h0.55v0.55h-0.55z M149.8,208.4h0.55v0.55h-0.55z M147.1,205.3h0.55v0.55h-0.55z M153.6,215.4h0.55v0.55h-0.55z M151.9,205.5h0.55v0.55h-0.55z M150.5,200.4h0.55v0.55h-0.55z M150.3,196.1h0.55v0.55h-0.55z M150.5,202.1h0.55v0.55h-0.55z M150.8,206.5h0.55v0.55h-0.55z M156.4,205.7h0.55v0.55h-0.55z M154.3,203.8h0.55v0.55h-0.55z M150.9,210.3h0.55v0.55h-0.55z M152.6,201.2h0.55v0.55h-0.55z M151.8,202.5h0.55v0.55h-0.55z M159.4,202.1h0.55v0.55h-0.55z M146.9,210.8h0.55v0.55h-0.55z M150.4,207.4h0.55v0.55h-0.55z M150.1,200.3h0.55v0.55h-0.55z M147.2,207.8h0.55v0.55h-0.55z M149.7,200.9h0.55v0.55h-0.55z M151.5,216.8h0.55v0.55h-0.55z M159.3,209.0h0.55v0.55h-0.55z M148.5,213.8h0.55v0.55h-0.55z M153.3,203.3h0.55v0.55h-0.55z M153.3,207.2h0.55v0.55h-0.55z M148.4,205.7h0.55v0.55h-0.55z M156.3,204.9h0.55v0.55h-0.55z M152.0,195.4h0.55v0.55h-0.55z M158.1,215.5h0.55v0.55h-0.55z M158.6,204.0h0.55v0.55h-0.55z M148.1,201.4h0.55v0.55h-0.55z M151.2,200.1h0.55v0.55h-0.55z M148.8,196.4h0.55v0.55h-0.55z M157.2,207.1h0.55v0.55h-0.55z M151.7,209.1h0.55v0.55h-0.55z M155.8,205.3h0.55v0.55h-0.55z M152.6,214.3h0.55v0.55h-0.55z M147.3,202.7h0.55v0.55h-0.55z M154.8,208.9h0.55v0.55h-0.55z M154.7,205.1h0.55v0.55h-0.55z M147.8,195.9h0.55v0.55h-0.55z M151.0,210.0h0.55v0.55h-0.55z M143.6,210.1h0.55v0.55h-0.55z M147.6,208.5h0.55v0.55h-0.55z M150.1,205.6h0.55v0.55h-0.55z M149.7,208.2h0.55v0.55h-0.55z M157.1,199.1h0.55v0.55h-0.55z M151.9,207.3h0.55v0.55h-0.55z M156.5,213.5h0.55v0.55h-0.55z M149.2,198.4h0.55v0.55h-0.55z M148.9,204.1h0.55v0.55h-0.55z M152.8,208.4h0.55v0.55h-0.55z M150.5,201.3h0.55v0.55h-0.55z M151.0,204.0h0.55v0.55h-0.55z M147.4,203.0h0.55v0.55h-0.55z M150.5,213.9h0.55v0.55h-0.55z M151.2,211.8h0.55v0.55h-0.55z M142.8,196.4h0.55v0.55h-0.55z M148.8,211.2h0.55v0.55h-0.55z M145.5,205.6h0.55v0.55h-0.55z M153.2,212.3h0.55v0.55h-0.55z M150.5,208.9h0.55v0.55h-0.55z M153.4,196.0h0.55v0.55h-0.55z M150.5,198.1h0.55v0.55h-0.55z M147.0,208.9h0.55v0.55h-0.55z M152.0,201.3h0.55v0.55h-0.55z M154.1,192.3h0.55v0.55h-0.55z M151.3,211.5h0.55v0.55h-0.55z M150.0,209.4h0.55v0.55h-0.55z M147.2,193.2h0.55v0.55h-0.55z M146.6,223.6h0.55v0.55h-0.55z M156.2,207.6h0.55v0.55h-0.55z M152.7,202.2h0.55v0.55h-0.55z M155.5,207.3h0.55v0.55h-0.55z M155.0,215.4h0.55v0.55h-0.55z M150.7,213.8h0.55v0.55h-0.55z M154.2,204.3h0.55v0.55h-0.55z M152.7,203.2h0.55v0.55h-0.55z M158.7,196.8h0.55v0.55h-0.55z M155.7,213.0h0.55v0.55h-0.55z M148.8,204.4h0.55v0.55h-0.55z" fill="#555" opacity="0.75"/>
<path d="M162.6,233.4h0.55v0.55h-0.55z M162.8,229.4h0.55v0.55h-0.55z M157.5,223.5h0.55v0.55h-0.55z M159.1,229.6h0.55v0.55h-0.55z M166.7,223.9h0.55v0.55h-0.55z M163.2,228.6h0.55v0.55h-0.55z M173.0,222.2h0.55v0.55h-0.55z M172.1,227.8h0.55v0.55h-0.55z M166.7,227.6h0.55v0.55h-0.55z M165.8,228.3h0.55v0.55h-0.55z M167.8,226.6h0.55v0.55h-0.55z M164.0,232.2h0.55v0.55h-0.55z M165.9,227.2h0.55v0.55h-0.55z M164.1,231.0h0.55v0.55h-0.55z M168.9,225.3h0.55v0.55h-0.55z M169.5,229.0h0.55v0.55h-0.55z M161.7,224.4h0.55v0.55h-0.55z M166.5,221.2h0.55v0.55h-0.55z M168.5,217.8h0.55v0.55h-0.55z M169.1,235.8h0.55v0.55h-0.55z M163.4,221.3h0.55v0.55h-0.55z M163.7,225.3h0.55v0.55h-0.55z M165.6,229.6h0.55v0.55h-0.55z M170.0,227.0h0.55v0.55h-0.55z M166.6,227.9h0.55v0.55h-0.55z M162.4,220.0h0.55v0.55h-0.55z M167.6,224.1h0.55v0.55h-0.55z M168.7,232.3h0.55v0.55h-0.55z M167.7,228.5h0.55v0.55h-0.55z M164.3,226.1h0.55v0.55h-0.55z M165.3,227.0h0.55v0.55h-0.55z M165.2,227.7h0.55v0.55h-0.55z M164.3,230.4h0.55v0.55h-0.55z M168.0,226.6h0.55v0.55h-0.55z M169.4,225.9h0.55v0.55h-0.55z M159.8,229.2h0.55v0.55h-0.55z M174.2,229.7h0.55v0.55h-0.55z M164.6,219.7h0.55v0.55h-0.55z M162.6,227.3h0.55v0.55h-0.55z M164.0,226.2h0.55v0.55h-0.55z M155.5,232.8h0.55v0.55h-0.55z M165.3,227.8h0.55v0.55h-0.55z M162.3,222.1h0.55v0.55h-0.55z M169.3,234.7h0.55v0.55h-0.55z M166.8,226.5h0.55v0.55h-0.55z M163.9,224.6h0.55v0.55h-0.55z M164.9,224.2h0.55v0.55h-0.55z M161.9,236.2h0.55v0.55h-0.55z M168.0,221.5h0.55v0.55h-0.55z M163.0,227.5h0.55v0.55h-0.55z M163.0,226.1h0.55v0.55h-0.55z M162.4,226.5h0.55v0.55h-0.55z M166.8,227.7h0.55v0.55h-0.55z M168.9,229.3h0.55v0.55h-0.55z M167.7,227.7h0.55v0.55h-0.55z M166.4,228.7h0.55v0.55h-0.55z M175.3,229.5h0.55v0.55h-0.55z M166.6,229.1h0.55v0.55h-0.55z M166.1,225.2h0.55v0.55h-0.55z M162.9,226.7h0.55v0.55h-0.55z M169.1,231.7h0.55v0.55h-0.55z M159.2,229.2h0.55v0.55h-0.55z M165.9,225.8h0.55v0.55h-0.55z M162.0,225.9h0.55v0.55h-0.55z M161.6,225.5h0.55v0.55h-0.55z M165.8,230.8h0.55v0.55h-0.55z M166.7,226.8h0.55v0.55h-0.55z M164.5,222.3h0.55v0.55h-0.55z M164.8,227.6h0.55v0.55h-0.55z M170.0,228.9h0.55v0.55h-0.55z M162.7,224.3h0.55v0.55h-0.55z M167.2,223.7h0.55v0.55h-0.55z M166.0,224.9h0.55v0.55h-0.55z M170.2,226.9h0.55v0.55h-0.55z M165.5,228.2h0.55v0.55h-0.55z M162.7,226.1h0.55v0.55h-0.55z M165.7,235.2h0.55v0.55h-0.55z M169.8,229.6h0.55v0.55h-0.55z M168.3,229.2h0.55v0.55h-0.55z M161.1,224.2h0.55v0.55h-0.55z M164.5,224.1h0.55v0.55h-0.55z M155.8,227.6h0.55v0.55h-0.55z M166.8,218.9h0.55v0.55h-0.55z M163.0,221.0h0.55v0.55h-0.55z M163.5,232.5h0.55v0.55h-0.55z M167.4,232.1h0.55v0.55h-0.55z M158.2,227.1h0.55v0.55h-0.55z M163.1,219.6h0.55v0.55h-0.55z M176.8,225.6h0.55v0.55h-0.55z M163.9,227.1h0.55v0.55h-0.55z M169.4,227.3h0.55v0.55h-0.55z M158.5,228.2h0.55v0.55h-0.55z M167.4,231.5h0.55v0.55h-0.55z M165.7,225.2h0.55v0.55h-0.55z M159.0,228.8h0.55v0.55h-0.55z M171.3,230.9h0.55v0.55h-0.55z M163.8,227.4h0.55v0.55h-0.55z M164.4,229.1h0.55v0.55h-0.55z M170.3,228.4h0.55v0.55h-0.55z M163.0,223.2h0.55v0.55h-0.55z M163.2,228.8h0.55v0.55h-0.55z M159.0,234.1h0.55v0.55h-0.55z M161.9,225.8h0.55v0.55h-0.55z M161.4,230.0h0.55v0.55h-0.55z M164.0,221.4h0.55v0.55h-0.55z M170.3,220.6h0.55v0.55h-0.55z M166.2,222.2h0.55v0.55h-0.55z M164.2,224.5h0.55v0.55h-0.55z M165.5,224.6h0.55v0.55h-0.55z M163.1,225.3h0.55v0.55h-0.55z" fill="#555" opacity="0.75"/>
<path d="M164.2,200.7h0.55v0.55h-0.55z M134.8,228.1h0.55v0.55h-0.55z M183.5,231.5h0.55v0.55h-0.55z M122.9,209.2h0.55v0.55h-0.55z M172.3,234.7h0.55v0.55h-0.55z M146.0,211.2h0.55v0.55h-0.55z M141.9,233.0h0.55v0.55h-0.55z M156.0,206.4h0.55v0.55h-0.55z M181.1,223.3h0.55v0.55h-0.55z M163.2,188.3h0.55v0.55h-0.55z M134.1,182.7h0.55v0.55h-0.55z M137.7,210.0h0.55v0.55h-0.55z M155.6,221.3h0.55v0.55h-0.55z M151.5,197.8h0.55v0.55h-0.55z M151.3,219.2h0.55v0.55h-0.55z M138.4,199.1h0.55v0.55h-0.55z M137.8,235.4h0.55v0.55h-0.55z M160.8,197.2h0.55v0.55h-0.55z M133.8,205.2h0.55v0.55h-0.55z M174.2,205.1h0.55v0.55h-0.55z M126.8,242.1h0.55v0.55h-0.55z M166.8,228.5h0.55v0.55h-0.55z M145.5,186.8h0.55v0.55h-0.55z M163.1,215.1h0.55v0.55h-0.55z M185.9,187.9h0.55v0.55h-0.55z M184.0,235.1h0.55v0.55h-0.55z M165.1,227.6h0.55v0.55h-0.55z M181.8,220.2h0.55v0.55h-0.55z M167.6,191.3h0.55v0.55h-0.55z M153.3,196.0h0.55v0.55h-0.55z M173.3,215.8h0.55v0.55h-0.55z M128.1,238.5h0.55v0.55h-0.55z M175.5,245.2h0.55v0.55h-0.55z M151.3,180.3h0.55v0.55h-0.55z M128.2,229.2h0.55v0.55h-0.55z M167.7,226.8h0.55v0.55h-0.55z M125.4,221.3h0.55v0.55h-0.55z M187.2,228.0h0.55v0.55h-0.55z M185.8,187.1h0.55v0.55h-0.55z M154.1,219.5h0.55v0.55h-0.55z M154.6,208.2h0.55v0.55h-0.55z M175.0,216.9h0.55v0.55h-0.55z M139.3,225.8h0.55v0.55h-0.55z M125.3,206.0h0.55v0.55h-0.55z M167.2,181.3h0.55v0.55h-0.55z M181.1,209.8h0.55v0.55h-0.55z M118.4,225.4h0.55v0.55h-0.55z M146.5,215.2h0.55v0.55h-0.55z M122.0,225.6h0.55v0.55h-0.55z M175.3,193.6h0.55v0.55h-0.55z" fill="#999" opacity="0.7"/>
<path d="M169.1,223.2h0.55v0.55h-0.55z M181.0,197.8h0.55v0.55h-0.55z M177.2,200.6h0.55v0.55h-0.55z M163.5,207.4h0.55v0.55h-0.55z M167.6,207.0h0.55v0.55h-0.55z M170.4,215.1h0.55v0.55h-0.55z M162.6,221.9h0.55v0.55h-0.55z M169.6,209.9h0.55v0.55h-0.55z M155.3,211.6h0.55v0.55h-0.55z M167.5,192.2h0.55v0.55h-0.55z M166.7,219.5h0.55v0.55h-0.55z M168.1,188.2h0.55v0.55h-0.55z M172.1,197.0h0.55v0.55h-0.55z M174.5,217.7h0.55v0.55h-0.55z M168.9,212.4h0.55v0.55h-0.55z M173.2,212.4h0.55v0.55h-0.55z M170.2,201.3h0.55v0.55h-0.55z M168.1,209.7h0.55v0.55h-0.55z M178.1,207.9h0.55v0.55h-0.55z M170.8,219.0h0.55v0.55h-0.55z M165.5,213.2h0.55v0.55h-0.55z M178.4,209.7h0.55v0.55h-0.55z M183.4,217.1h0.55v0.55h-0.55z M169.5,194.9h0.55v0.55h-0.55z M163.7,185.7h0.55v0.55h-0.55z M173.8,212.3h0.55v0.55h-0.55z M159.9,222.2h0.55v0.55h-0.55z M177.6,198.8h0.55v0.55h-0.55z M151.8,212.0h0.55v0.55h-0.55z M168.7,207.4h0.55v0.55h-0.55z M182.2,204.1h0.55v0.55h-0.55z M170.3,211.9h0.55v0.55h-0.55z M162.1,203.7h0.55v0.55h-0.55z M163.6,216.7h0.55v0.55h-0.55z M166.6,209.2h0.55v0.55h-0.55z M159.4,215.9h0.55v0.55h-0.55z M168.8,212.4h0.55v0.55h-0.55z M163.7,216.5h0.55v0.55h-0.55z M167.7,208.4h0.55v0.55h-0.55z M162.8,203.8h0.55v0.55h-0.55z M158.4,211.6h0.55v0.55h-0.55z M169.5,207.8h0.55v0.55h-0.55z M171.1,202.2h0.55v0.55h-0.55z M179.5,187.6h0.55v0.55h-0.55z M161.1,205.8h0.55v0.55h-0.55z M166.3,192.0h0.55v0.55h-0.55z M166.4,204.9h0.55v0.55h-0.55z M154.9,220.3h0.55v0.55h-0.55z M166.3,209.3h0.55v0.55h-0.55z M168.2,228.2h0.55v0.55h-0.55z M166.7,189.4h0.55v0.55h-0.55z M172.4,185.0h0.55v0.55h-0.55z M176.2,212.7h0.55v0.55h-0.55z M167.3,204.0h0.55v0.55h-0.55z M178.9,217.4h0.55v0.55h-0.55z M172.7,191.8h0.55v0.55h-0.55z M165.9,208.0h0.55v0.55h-0.55z M168.4,196.0h0.55v0.55h-0.55z M168.6,205.7h0.55v0.55h-0.55z M161.9,201.7h0.55v0.55h-0.55z M168.0,218.7h0.55v0.55h-0.55z M167.8,193.5h0.55v0.55h-0.55z M180.0,203.3h0.55v0.55h-0.55z M152.6,209.7h0.55v0.55h-0.55z M170.0,199.1h0.55v0.55h-0.55z M177.0,207.1h0.55v0.55h-0.55z M165.3,215.0h0.55v0.55h-0.55z M162.6,204.3h0.55v0.55h-0.55z M168.5,217.9h0.55v0.55h-0.55z M177.0,197.5h0.55v0.55h-0.55z M163.6,199.1h0.55v0.55h-0.55z M173.0,214.8h0.55v0.55h-0.55z M173.2,203.9h0.55v0.55h-0.55z M174.3,199.3h0.55v0.55h-0.55z M169.8,197.8h0.55v0.55h-0.55z M170.2,193.5h0.55v0.55h-0.55z M169.8,214.2h0.55v0.55h-0.55z M179.5,214.4h0.55v0.55h-0.55z M175.0,209.1h0.55v0.55h-0.55z M178.5,216.7h0.55v0.55h-0.55z M160.7,191.0h0.55v0.55h-0.55z M167.0,207.8h0.55v0.55h-0.55z M167.8,200.6h0.55v0.55h-0.55z M183.8,189.5h0.55v0.55h-0.55z M169.9,219.9h0.55v0.55h-0.55z M177.2,219.1h0.55v0.55h-0.55z M176.3,204.3h0.55v0.55h-0.55z M171.0,216.8h0.55v0.55h-0.55z M174.7,212.5h0.55v0.55h-0.55z M158.8,209.0h0.55v0.55h-0.55z M174.6,204.0h0.55v0.55h-0.55z M173.5,204.6h0.55v0.55h-0.55z M169.7,195.9h0.55v0.55h-0.55z M163.4,206.6h0.55v0.55h-0.55z M169.3,194.0h0.55v0.55h-0.55z M169.3,212.2h0.55v0.55h-0.55z M164.1,194.9h0.55v0.55h-0.55z M174.3,213.8h0.55v0.55h-0.55z M166.5,211.5h0.55v0.55h-0.55z M155.0,203.3h0.55v0.55h-0.55z M166.6,212.4h0.55v0.55h-0.55z M171.7,202.9h0.55v0.55h-0.55z M172.8,197.1h0.55v0.55h-0.55z M174.1,212.2h0.55v0.55h-0.55z M162.0,208.8h0.55v0.55h-0.55z M167.6,200.4h0.55v0.55h-0.55z M165.1,193.9h0.55v0.55h-0.55z M149.1,196.7h0.55v0.55h-0.55z M164.4,216.0h0.55v0.55h-0.55z M161.9,204.5h0.55v0.55h-0.55z M165.4,198.8h0.55v0.55h-0.55z M163.2,203.4h0.55v0.55h-0.55z M165.3,193.4h0.55v0.55h-0.55z M176.3,207.1h0.55v0.55h-0.55z M157.2,207.1h0.55v0.55h-0.55z M164.0,193.6h0.55v0.55h-0.55z M174.1,207.9h0.55v0.55h-0.55z M158.3,199.3h0.55v0.55h-0.55z M178.7,195.5h0.55v0.55h-0.55z M171.5,210.0h0.55v0.55h-0.55z M168.7,191.8h0.55v0.55h-0.55z M159.4,197.8h0.55v0.55h-0.55z M172.3,217.1h0.55v0.55h-0.55z M165.4,195.2h0.55v0.55h-0.55z M177.0,202.4h0.55v0.55h-0.55z M177.0,202.7h0.55v0.55h-0.55z M174.9,197.2h0.55v0.55h-0.55z M153.4,205.8h0.55v0.55h-0.55z M173.2,207.6h0.55v0.55h-0.55z M163.3,199.9h0.55v0.55h-0.55z M165.1,201.1h0.55v0.55h-0.55z M177.7,197.1h0.55v0.55h-0.55z M166.4,202.5h0.55v0.55h-0.55z M164.2,215.4h0.55v0.55h-0.55z M168.3,203.3h0.55v0.55h-0.55z M167.3,214.2h0.55v0.55h-0.55z M174.6,205.4h0.55v0.55h-0.55z M168.3,201.7h0.55v0.55h-0.55z M167.2,208.5h0.55v0.55h-0.55z M176.1,205.0h0.55v0.55h-0.55z M164.3,203.8h0.55v0.55h-0.55z M161.5,198.8h0.55v0.55h-0.55z M178.2,211.0h0.55v0.55h-0.55z M162.3,229.7h0.55v0.55h-0.55z M175.4,213.2h0.55v0.55h-0.55z M177.7,200.9h0.55v0.55h-0.55z M179.0,213.3h0.55v0.55h-0.55z M171.3,204.2h0.55v0.55h-0.55z M177.8,198.2h0.55v0.55h-0.55z M176.6,185.8h0.55v0.55h-0.55z M185.7,201.6h0.55v0.55h-0.55z M176.9,201.3h0.55v0.55h-0.55z M159.3,222.1h0.55v0.55h-0.55z M166.5,236.4h0.55v0.55h-0.55z M176.0,200.4h0.55v0.55h-0.55z M181.1,189.1h0.55v0.55h-0.55z M161.9,203.4h0.55v0.55h-0.55z M167.8,201.0h0.55v0.55h-0.55z M176.5,196.3h0.55v0.55h-0.55z" fill="#666" opacity="0.75"/>
<path d="M136.5,225.1h0.55v0.55h-0.55z M141.7,229.9h0.55v0.55h-0.55z M148.9,224.6h0.55v0.55h-0.55z M148.7,228.7h0.55v0.55h-0.55z M135.5,233.2h0.55v0.55h-0.55z M154.7,232.6h0.55v0.55h-0.55z M152.5,231.4h0.55v0.55h-0.55z M152.0,230.0h0.55v0.55h-0.55z M152.7,221.3h0.55v0.55h-0.55z M159.4,223.9h0.55v0.55h-0.55z M157.0,228.8h0.55v0.55h-0.55z M139.0,230.7h0.55v0.55h-0.55z M140.4,228.5h0.55v0.55h-0.55z M149.3,227.1h0.55v0.55h-0.55z M143.4,222.2h0.55v0.55h-0.55z M139.0,230.2h0.55v0.55h-0.55z M145.5,220.6h0.55v0.55h-0.55z M123.1,220.8h0.55v0.55h-0.55z M141.8,226.7h0.55v0.55h-0.55z M138.4,236.8h0.55v0.55h-0.55z M160.0,224.7h0.55v0.55h-0.55z M149.0,220.3h0.55v0.55h-0.55z M152.7,230.0h0.55v0.55h-0.55z M144.9,223.9h0.55v0.55h-0.55z M148.4,220.2h0.55v0.55h-0.55z M150.7,224.0h0.55v0.55h-0.55z M138.9,223.5h0.55v0.55h-0.55z M143.5,239.6h0.55v0.55h-0.55z M147.3,225.0h0.55v0.55h-0.55z M145.9,217.8h0.55v0.55h-0.55z M155.4,233.7h0.55v0.55h-0.55z M153.3,236.0h0.55v0.55h-0.55z M152.4,223.2h0.55v0.55h-0.55z M137.2,228.5h0.55v0.55h-0.55z M143.1,226.2h0.55v0.55h-0.55z M127.6,228.4h0.55v0.55h-0.55z M143.3,229.7h0.55v0.55h-0.55z M170.0,220.9h0.55v0.55h-0.55z M141.0,231.1h0.55v0.55h-0.55z M145.1,234.1h0.55v0.55h-0.55z M134.6,231.6h0.55v0.55h-0.55z M144.0,231.7h0.55v0.55h-0.55z M126.1,223.4h0.55v0.55h-0.55z M152.2,233.5h0.55v0.55h-0.55z M154.7,228.6h0.55v0.55h-0.55z M142.2,228.8h0.55v0.55h-0.55z M151.0,230.8h0.55v0.55h-0.55z M138.2,220.9h0.55v0.55h-0.55z M142.3,226.9h0.55v0.55h-0.55z M150.4,230.0h0.55v0.55h-0.55z M143.8,225.5h0.55v0.55h-0.55z M148.2,232.6h0.55v0.55h-0.55z M141.9,231.0h0.55v0.55h-0.55z M143.1,223.9h0.55v0.55h-0.55z M152.9,231.6h0.55v0.55h-0.55z M155.0,232.2h0.55v0.55h-0.55z M152.8,231.6h0.55v0.55h-0.55z M135.7,232.7h0.55v0.55h-0.55z M156.2,219.9h0.55v0.55h-0.55z M152.9,226.8h0.55v0.55h-0.55z M144.6,230.2h0.55v0.55h-0.55z M151.1,229.7h0.55v0.55h-0.55z M147.2,230.3h0.55v0.55h-0.55z M149.8,226.0h0.55v0.55h-0.55z M149.6,231.9h0.55v0.55h-0.55z M142.1,230.4h0.55v0.55h-0.55z M162.8,241.3h0.55v0.55h-0.55z M157.3,218.6h0.55v0.55h-0.55z M139.1,226.0h0.55v0.55h-0.55z M146.3,231.4h0.55v0.55h-0.55z M156.4,227.1h0.55v0.55h-0.55z M157.4,221.4h0.55v0.55h-0.55z M142.8,223.8h0.55v0.55h-0.55z M145.7,224.3h0.55v0.55h-0.55z M146.8,224.7h0.55v0.55h-0.55z M137.2,233.9h0.55v0.55h-0.55z M139.9,231.3h0.55v0.55h-0.55z M145.2,233.5h0.55v0.55h-0.55z M146.3,226.2h0.55v0.55h-0.55z M150.8,230.3h0.55v0.55h-0.55z M141.6,234.0h0.55v0.55h-0.55z M139.3,226.3h0.55v0.55h-0.55z M149.5,226.7h0.55v0.55h-0.55z M137.3,221.4h0.55v0.55h-0.55z M150.1,232.8h0.55v0.55h-0.55z M140.3,229.1h0.55v0.55h-0.55z M139.1,215.4h0.55v0.55h-0.55z M156.2,229.7h0.55v0.55h-0.55z M134.1,218.3h0.55v0.55h-0.55z M139.5,227.3h0.55v0.55h-0.55z M139.9,233.7h0.55v0.55h-0.55z M141.6,228.7h0.55v0.55h-0.55z M141.0,225.6h0.55v0.55h-0.55z M164.1,232.6h0.55v0.55h-0.55z M149.6,232.1h0.55v0.55h-0.55z M147.2,222.4h0.55v0.55h-0.55z M141.0,221.8h0.55v0.55h-0.55z M150.1,230.7h0.55v0.55h-0.55z M146.5,225.0h0.55v0.55h-0.55z M142.8,230.9h0.55v0.55h-0.55z M139.8,228.6h0.55v0.55h-0.55z M137.4,228.3h0.55v0.55h-0.55z M148.7,224.5h0.55v0.55h-0.55z M154.0,239.4h0.55v0.55h-0.55z M155.8,231.0h0.55v0.55h-0.55z M150.1,232.0h0.55v0.55h-0.55z M148.0,231.5h0.55v0.55h-0.55z M147.5,225.4h0.55v0.55h-0.55z M147.1,235.5h0.55v0.55h-0.55z M146.5,241.1h0.55v0.55h-0.55z M159.8,231.4h0.55v0.55h-0.55z M142.1,236.9h0.55v0.55h-0.55z M142.3,226.1h0.55v0.55h-0.55z M145.1,224.6h0.55v0.55h-0.55z M153.6,218.7h0.55v0.55h-0.55z M133.6,230.0h0.55v0.55h-0.55z M150.9,225.2h0.55v0.55h-0.55z M132.8,227.4h0.55v0.55h-0.55z M145.0,236.1h0.55v0.55h-0.55z M135.0,221.3h0.55v0.55h-0.55z" fill="#666" opacity="0.75"/>
<path d="M156.1,205.2 C156.1,206.2 155.9,207.2 155.4,208.1 C154.9,209.0 154.2,209.9 153.3,210.7 C152.4,211.4 151.3,212.2 150.1,212.7 C148.9,213.3 147.4,213.7 146.0,214.0 C144.6,214.3 143.0,214.5 141.5,214.5 C140.0,214.5 138.4,214.3 137.0,214.0 C135.6,213.7 134.1,213.3 132.9,212.7 C131.7,212.2 130.6,211.4 129.7,210.7 C128.8,209.9 128.1,209.0 127.6,208.1 C127.1,207.2 126.9,206.2 126.9,205.2 C126.9,204.2 127.1,203.2 127.6,202.3 C128.1,201.4 128.8,200.5 129.7,199.7 C130.6,199.0 131.7,198.2 132.9,197.7 C134.1,197.1 135.6,196.7 137.0,196.4 C138.4,196.1 140.0,195.9 141.5,195.9 C143.0,195.9 144.6,196.1 146.0,196.4 C147.4,196.7 148.9,197.1 150.1,197.7 C151.3,198.2 152.4,199.0 153.3,199.7 C154.2,200.5 154.9,201.4 155.4,202.3 C155.9,203.2 156.1,204.2 156.1,205.2Z" fill="#000" fill-opacity="0.05" stroke="#000" stroke-width="0.55"/>
<path d="M154.4,205.2 C154.4,206.1 154.2,207.0 153.8,207.9 C153.4,208.7 152.7,209.5 151.9,210.2 C151.1,211.0 150.0,211.6 148.9,212.1 C147.8,212.7 146.5,213.1 145.2,213.4 C143.8,213.6 142.4,213.8 141.0,213.8 C139.6,213.8 138.2,213.6 136.9,213.4 C135.5,213.1 134.2,212.7 133.1,212.1 C132.0,211.6 131.0,211.0 130.1,210.2 C129.3,209.5 128.7,208.7 128.2,207.9 C127.8,207.0 127.6,206.1 127.6,205.2 C127.6,204.3 127.8,203.4 128.2,202.6 C128.7,201.7 129.3,200.9 130.1,200.2 C131.0,199.5 132.0,198.8 133.1,198.3 C134.2,197.8 135.5,197.4 136.9,197.1 C138.2,196.8 139.6,196.7 141.0,196.7 C142.4,196.7 143.8,196.8 145.2,197.1 C146.5,197.4 147.8,197.8 148.9,198.3 C150.0,198.8 151.1,199.5 151.9,200.2 C152.7,200.9 153.4,201.7 153.8,202.6 C154.2,203.4 154.4,204.3 154.4,205.2Z" fill="#000" fill-opacity="0.05" stroke="#000" stroke-width="0.55"/>
<path d="M152.8,205.2 C152.8,206.0 152.6,206.9 152.2,207.6 C151.8,208.4 151.2,209.2 150.4,209.8 C149.7,210.5 148.7,211.1 147.7,211.6 C146.7,212.0 145.5,212.4 144.3,212.7 C143.1,212.9 141.8,213.0 140.5,213.0 C139.2,213.0 137.9,212.9 136.7,212.7 C135.5,212.4 134.3,212.0 133.3,211.6 C132.3,211.1 131.3,210.5 130.6,209.8 C129.8,209.2 129.2,208.4 128.8,207.6 C128.5,206.9 128.2,206.0 128.2,205.2 C128.2,204.4 128.5,203.6 128.8,202.8 C129.2,202.1 129.8,201.3 130.6,200.6 C131.3,200.0 132.3,199.4 133.3,198.9 C134.3,198.4 135.5,198.1 136.7,197.8 C137.9,197.6 139.2,197.4 140.5,197.4 C141.8,197.4 143.1,197.6 144.3,197.8 C145.5,198.1 146.7,198.4 147.7,198.9 C148.7,199.4 149.7,200.0 150.4,200.6 C151.2,201.3 151.8,202.1 152.2,202.8 C152.6,203.6 152.8,204.4 152.8,205.2Z" fill="#000" fill-opacity="0.05" stroke="#000" stroke-width="0.55"/>
<path d="M151.1,205.2 C151.1,206.0 150.9,206.7 150.6,207.4 C150.2,208.1 149.7,208.8 149.0,209.4 C148.3,210.0 147.5,210.5 146.5,211.0 C145.6,211.4 144.5,211.7 143.4,212.0 C142.4,212.2 141.2,212.3 140.0,212.3 C138.9,212.3 137.7,212.2 136.6,212.0 C135.5,211.7 134.4,211.4 133.5,211.0 C132.6,210.5 131.7,210.0 131.0,209.4 C130.4,208.8 129.8,208.1 129.5,207.4 C129.1,206.7 128.9,206.0 128.9,205.2 C128.9,204.5 129.1,203.8 129.5,203.1 C129.8,202.4 130.4,201.7 131.0,201.1 C131.7,200.5 132.6,200.0 133.5,199.5 C134.4,199.1 135.5,198.8 136.6,198.5 C137.7,198.3 138.9,198.2 140.0,198.2 C141.2,198.2 142.4,198.3 143.4,198.5 C144.5,198.8 145.6,199.1 146.5,199.5 C147.5,200.0 148.3,200.5 149.0,201.1 C149.7,201.7 150.2,202.4 150.6,203.1 C150.9,203.8 151.1,204.5 151.1,205.2Z" fill="#000" fill-opacity="0.05" stroke="#000" stroke-width="0.55"/>
<path d="M149.4,205.3 C149.4,205.9 149.3,206.6 149.0,207.2 C148.6,207.8 148.1,208.5 147.5,209.0 C146.9,209.5 146.2,210.0 145.4,210.4 C144.5,210.8 143.6,211.1 142.6,211.3 C141.6,211.5 140.5,211.6 139.5,211.6 C138.5,211.6 137.4,211.5 136.4,211.3 C135.5,211.1 134.5,210.8 133.7,210.4 C132.9,210.0 132.1,209.5 131.5,209.0 C130.9,208.5 130.4,207.8 130.1,207.2 C129.8,206.6 129.6,205.9 129.6,205.3 C129.6,204.6 129.8,203.9 130.1,203.3 C130.4,202.7 130.9,202.1 131.5,201.5 C132.1,201.0 132.9,200.5 133.7,200.1 C134.5,199.8 135.5,199.5 136.4,199.2 C137.4,199.0 138.5,198.9 139.5,198.9 C140.5,198.9 141.6,199.0 142.6,199.2 C143.6,199.5 144.5,199.8 145.4,200.1 C146.2,200.5 146.9,201.0 147.5,201.5 C148.1,202.1 148.6,202.7 149.0,203.3 C149.3,203.9 149.4,204.6 149.4,205.3Z" fill="#000" fill-opacity="0.05" stroke="#000" stroke-width="0.55"/>
<path d="M147.8,205.3 C147.8,205.9 147.6,206.5 147.4,207.0 C147.1,207.6 146.6,208.1 146.1,208.6 C145.6,209.0 144.9,209.5 144.2,209.8 C143.4,210.1 142.6,210.4 141.7,210.6 C140.9,210.8 139.9,210.9 139.0,210.9 C138.1,210.9 137.2,210.8 136.3,210.6 C135.5,210.4 134.6,210.1 133.9,209.8 C133.1,209.5 132.5,209.0 131.9,208.6 C131.4,208.1 131.0,207.6 130.7,207.0 C130.4,206.5 130.3,205.9 130.3,205.3 C130.3,204.7 130.4,204.1 130.7,203.6 C131.0,203.0 131.4,202.5 131.9,202.0 C132.5,201.5 133.1,201.1 133.9,200.8 C134.6,200.4 135.5,200.2 136.3,200.0 C137.2,199.8 138.1,199.7 139.0,199.7 C139.9,199.7 140.9,199.8 141.7,200.0 C142.6,200.2 143.4,200.4 144.2,200.8 C144.9,201.1 145.6,201.5 146.1,202.0 C146.6,202.5 147.1,203.0 147.4,203.6 C147.6,204.1 147.8,204.7 147.8,205.3Z" fill="#000" fill-opacity="0.05" stroke="#000" stroke-width="0.55"/>
<path d="M146.3,205.3 C146.3,205.8 146.2,206.3 145.9,206.8 C145.7,207.3 145.3,207.8 144.8,208.2 C144.4,208.6 143.8,209.0 143.1,209.3 C142.5,209.6 141.7,209.8 141.0,210.0 C140.2,210.1 139.4,210.2 138.6,210.2 C137.8,210.2 137.0,210.1 136.2,210.0 C135.4,209.8 134.7,209.6 134.0,209.3 C133.4,209.0 132.8,208.6 132.3,208.2 C131.9,207.8 131.5,207.3 131.2,206.8 C131.0,206.3 130.8,205.8 130.8,205.3 C130.8,204.8 131.0,204.3 131.2,203.8 C131.5,203.3 131.9,202.8 132.3,202.4 C132.8,202.0 133.4,201.6 134.0,201.3 C134.7,201.0 135.4,200.8 136.2,200.6 C137.0,200.4 137.8,200.4 138.6,200.4 C139.4,200.4 140.2,200.4 141.0,200.6 C141.7,200.8 142.5,201.0 143.1,201.3 C143.8,201.6 144.4,202.0 144.8,202.4 C145.3,202.8 145.7,203.3 145.9,203.8 C146.2,204.3 146.3,204.8 146.3,205.3Z" fill="#000" fill-opacity="0.05" stroke="#000" stroke-width="0.55"/>
<path d="M144.9,205.3 C144.9,205.7 144.8,206.2 144.5,206.6 C144.3,207.0 144.0,207.5 143.6,207.8 C143.2,208.2 142.7,208.5 142.1,208.8 C141.5,209.0 140.9,209.2 140.2,209.4 C139.6,209.5 138.8,209.6 138.2,209.6 C137.5,209.6 136.7,209.5 136.1,209.4 C135.4,209.2 134.8,209.0 134.2,208.8 C133.6,208.5 133.1,208.2 132.7,207.8 C132.3,207.5 132.0,207.0 131.8,206.6 C131.6,206.2 131.4,205.7 131.4,205.3 C131.4,204.9 131.6,204.4 131.8,204.0 C132.0,203.6 132.3,203.1 132.7,202.8 C133.1,202.4 133.6,202.1 134.2,201.8 C134.8,201.6 135.4,201.4 136.1,201.2 C136.7,201.1 137.5,201.0 138.2,201.0 C138.8,201.0 139.6,201.1 140.2,201.2 C140.9,201.4 141.5,201.6 142.1,201.8 C142.7,202.1 143.2,202.4 143.6,202.8 C144.0,203.1 144.3,203.6 144.5,204.0 C144.8,204.4 144.9,204.9 144.9,205.3Z" fill="#000" fill-opacity="0.05" stroke="#000" stroke-width="0.55"/>
<path d="M143.6,205.3 C143.6,205.7 143.5,206.1 143.3,206.5 C143.1,206.8 142.9,207.2 142.5,207.5 C142.2,207.8 141.7,208.1 141.2,208.3 C140.7,208.6 140.2,208.7 139.6,208.9 C139.0,209.0 138.4,209.0 137.8,209.0 C137.2,209.0 136.5,209.0 136.0,208.9 C135.4,208.7 134.8,208.6 134.3,208.3 C133.9,208.1 133.4,207.8 133.1,207.5 C132.7,207.2 132.4,206.8 132.2,206.5 C132.0,206.1 131.9,205.7 131.9,205.3 C131.9,204.9 132.0,204.5 132.2,204.2 C132.4,203.8 132.7,203.4 133.1,203.1 C133.4,202.8 133.9,202.5 134.3,202.3 C134.8,202.1 135.4,201.9 136.0,201.8 C136.5,201.7 137.2,201.6 137.8,201.6 C138.4,201.6 139.0,201.7 139.6,201.8 C140.2,201.9 140.7,202.1 141.2,202.3 C141.7,202.5 142.2,202.8 142.5,203.1 C142.9,203.4 143.1,203.8 143.3,204.2 C143.5,204.5 143.6,204.9 143.6,205.3Z" fill="#000" fill-opacity="0.05" stroke="#000" stroke-width="0.55"/>
<path d="M142.4,205.3 C142.4,205.7 142.3,206.0 142.1,206.3 C142.0,206.6 141.7,206.9 141.4,207.2 C141.1,207.5 140.7,207.7 140.3,207.9 C139.9,208.1 139.4,208.2 138.9,208.3 C138.5,208.4 137.9,208.5 137.4,208.5 C136.9,208.5 136.4,208.4 135.9,208.3 C135.4,208.2 134.9,208.1 134.5,207.9 C134.1,207.7 133.7,207.5 133.4,207.2 C133.1,206.9 132.8,206.6 132.7,206.3 C132.5,206.0 132.4,205.7 132.4,205.3 C132.4,205.0 132.5,204.7 132.7,204.4 C132.8,204.0 133.1,203.7 133.4,203.5 C133.7,203.2 134.1,203.0 134.5,202.8 C134.9,202.6 135.4,202.4 135.9,202.3 C136.4,202.2 136.9,202.2 137.4,202.2 C137.9,202.2 138.5,202.2 138.9,202.3 C139.4,202.4 139.9,202.6 140.3,202.8 C140.7,203.0 141.1,203.2 141.4,203.5 C141.7,203.7 142.0,204.0 142.1,204.4 C142.3,204.7 142.4,205.0 142.4,205.3Z" fill="#000" fill-opacity="0.05" stroke="#000" stroke-width="0.55"/>
<path d="M141.1,205.3 C141.1,205.6 141.1,205.9 140.9,206.1 C140.8,206.4 140.6,206.7 140.3,206.9 C140.1,207.1 139.8,207.3 139.4,207.5 C139.1,207.6 138.7,207.7 138.3,207.8 C137.9,207.9 137.5,207.9 137.0,207.9 C136.6,207.9 136.2,207.9 135.8,207.8 C135.4,207.7 135.0,207.6 134.6,207.5 C134.3,207.3 134.0,207.1 133.7,206.9 C133.5,206.7 133.3,206.4 133.1,206.1 C133.0,205.9 132.9,205.6 132.9,205.3 C132.9,205.1 133.0,204.8 133.1,204.5 C133.3,204.3 133.5,204.0 133.7,203.8 C134.0,203.6 134.3,203.4 134.6,203.2 C135.0,203.1 135.4,203.0 135.8,202.9 C136.2,202.8 136.6,202.7 137.0,202.7 C137.5,202.7 137.9,202.8 138.3,202.9 C138.7,203.0 139.1,203.1 139.4,203.2 C139.8,203.4 140.1,203.6 140.3,203.8 C140.6,204.0 140.8,204.3 140.9,204.5 C141.1,204.8 141.1,205.1 141.1,205.3Z" fill="#000" fill-opacity="0.05" stroke="#000" stroke-width="0.55"/>
<path d="M139.9,205.4 C139.9,205.6 139.8,205.8 139.7,206.0 C139.6,206.2 139.5,206.4 139.3,206.6 C139.1,206.7 138.8,206.9 138.6,207.0 C138.3,207.1 138.0,207.2 137.7,207.3 C137.3,207.4 137.0,207.4 136.7,207.4 C136.3,207.4 136.0,207.4 135.7,207.3 C135.4,207.2 135.0,207.1 134.8,207.0 C134.5,206.9 134.3,206.7 134.1,206.6 C133.9,206.4 133.7,206.2 133.6,206.0 C133.5,205.8 133.5,205.6 133.5,205.4 C133.5,205.1 133.5,204.9 133.6,204.7 C133.7,204.5 133.9,204.3 134.1,204.2 C134.3,204.0 134.5,203.8 134.8,203.7 C135.0,203.6 135.4,203.5 135.7,203.4 C136.0,203.3 136.3,203.3 136.7,203.3 C137.0,203.3 137.3,203.3 137.7,203.4 C138.0,203.5 138.3,203.6 138.6,203.7 C138.8,203.8 139.1,204.0 139.3,204.2 C139.5,204.3 139.6,204.5 139.7,204.7 C139.8,204.9 139.9,205.1 139.9,205.4Z" fill="#000" fill-opacity="0.05" stroke="#000" stroke-width="0.55"/>
<ellipse cx="135.3" cy="205.4" rx="3.2" ry="2.8" fill="#777" opacity="0.7"/>
<ellipse cx="135.3" cy="205.6" rx="1.2" ry="1.0" fill="#ddd"/>
<path d="M159.8,233.0 C159.9,231.5 161.3,230.5 163.0,229.5 C164.7,228.5 167.6,227.4 170.0,227.2 C172.4,226.9 175.5,227.1 177.5,228.0 C179.5,228.9 181.1,230.7 182.0,232.5 C182.9,234.3 183.2,237.1 183.0,239.0 C182.8,240.9 182.0,243.0 180.5,244.0 C179.0,245.0 176.2,245.3 174.0,245.2 C171.8,245.1 169.4,244.6 167.5,243.5 C165.6,242.4 163.8,240.2 162.5,238.5 C161.2,236.8 159.7,234.5 159.8,233.0Z" fill="#000" fill-opacity="0.02" stroke="#000" stroke-width="0.5"/>
<path d="M161.4,233.4 C161.5,232.1 162.8,231.2 164.3,230.3 C165.8,229.4 168.4,228.5 170.6,228.2 C172.8,228.0 175.5,228.2 177.3,228.9 C179.2,229.7 180.6,231.3 181.4,233.0 C182.2,234.7 182.5,237.1 182.3,238.8 C182.1,240.6 181.4,242.4 180.1,243.3 C178.7,244.3 176.1,244.5 174.2,244.4 C172.2,244.4 170.1,243.9 168.3,242.9 C166.6,241.9 165.0,240.0 163.8,238.4 C162.7,236.8 161.3,234.8 161.4,233.4Z" fill="#000" fill-opacity="0.02" stroke="#000" stroke-width="0.5"/>
<path d="M163.0,233.9 C163.1,232.7 164.2,231.9 165.6,231.1 C167.0,230.3 169.3,229.5 171.2,229.3 C173.1,229.1 175.6,229.2 177.2,229.9 C178.8,230.6 180.1,232.0 180.8,233.5 C181.5,235.0 181.8,237.2 181.6,238.7 C181.4,240.2 180.8,241.9 179.6,242.7 C178.4,243.5 176.1,243.7 174.4,243.7 C172.7,243.6 170.7,243.2 169.2,242.3 C167.7,241.4 166.2,239.7 165.2,238.3 C164.2,236.9 163.0,235.1 163.0,233.9Z" fill="#000" fill-opacity="0.02" stroke="#000" stroke-width="0.5"/>
<path d="M164.7,234.3 C164.7,233.3 165.7,232.6 166.9,231.9 C168.1,231.2 170.1,230.5 171.8,230.3 C173.5,230.1 175.7,230.2 177.1,230.8 C178.5,231.5 179.6,232.7 180.2,234.0 C180.8,235.3 181.1,237.2 180.9,238.6 C180.7,239.9 180.2,241.3 179.2,242.1 C178.1,242.8 176.1,242.9 174.6,242.9 C173.1,242.8 171.4,242.5 170.1,241.7 C168.7,240.9 167.4,239.4 166.6,238.2 C165.7,237.0 164.6,235.4 164.7,234.3Z" fill="#000" fill-opacity="0.02" stroke="#000" stroke-width="0.5"/>
<path d="M166.1,234.8 C166.2,233.8 167.0,233.2 168.1,232.6 C169.1,232.0 170.9,231.4 172.3,231.2 C173.8,231.1 175.7,231.2 176.9,231.7 C178.1,232.2 179.1,233.3 179.7,234.4 C180.2,235.6 180.4,237.2 180.3,238.4 C180.1,239.6 179.7,240.8 178.7,241.5 C177.8,242.1 176.1,242.2 174.8,242.2 C173.5,242.1 172.0,241.8 170.8,241.2 C169.6,240.5 168.5,239.2 167.8,238.1 C167.0,237.0 166.1,235.7 166.1,234.8Z" fill="#000" fill-opacity="0.1" stroke="#000" stroke-width="0.5"/>
<path d="M167.4,235.1 C167.5,234.3 168.2,233.8 169.1,233.3 C170.0,232.7 171.5,232.2 172.8,232.0 C174.1,231.9 175.7,232.0 176.8,232.5 C177.9,232.9 178.7,233.9 179.2,234.8 C179.7,235.8 179.8,237.3 179.7,238.3 C179.6,239.3 179.2,240.4 178.4,240.9 C177.6,241.5 176.1,241.6 174.9,241.6 C173.8,241.5 172.5,241.3 171.5,240.7 C170.5,240.1 169.5,239.0 168.8,238.0 C168.2,237.1 167.4,235.9 167.4,235.1Z" fill="#000" fill-opacity="0.1" stroke="#000" stroke-width="0.5"/>
<path d="M168.7,235.5 C168.7,234.8 169.4,234.3 170.2,233.9 C170.9,233.5 172.2,233.0 173.3,232.9 C174.4,232.8 175.8,232.8 176.7,233.2 C177.6,233.6 178.3,234.4 178.7,235.2 C179.1,236.1 179.3,237.3 179.2,238.2 C179.0,239.0 178.7,240.0 178.0,240.4 C177.3,240.9 176.1,241.0 175.1,241.0 C174.1,240.9 173.0,240.7 172.2,240.2 C171.3,239.7 170.5,238.7 169.9,237.9 C169.3,237.2 168.7,236.1 168.7,235.5Z" fill="#000" fill-opacity="0.1" stroke="#000" stroke-width="0.5"/>
<path d="M169.8,235.8 C169.9,235.2 170.4,234.8 171.1,234.5 C171.7,234.1 172.8,233.7 173.7,233.6 C174.6,233.5 175.8,233.6 176.6,233.9 C177.3,234.2 177.9,234.9 178.3,235.6 C178.6,236.3 178.8,237.3 178.7,238.1 C178.6,238.8 178.3,239.6 177.7,240.0 C177.1,240.4 176.1,240.5 175.2,240.4 C174.4,240.4 173.5,240.2 172.8,239.8 C172.0,239.4 171.4,238.5 170.9,237.9 C170.4,237.2 169.8,236.4 169.8,235.8Z" fill="#000" fill-opacity="0.1" stroke="#000" stroke-width="0.5"/>
<path d="M171.0,236.1 C171.0,235.6 171.4,235.3 172.0,235.0 C172.5,234.7 173.4,234.4 174.1,234.3 C174.9,234.2 175.8,234.3 176.5,234.6 C177.1,234.8 177.6,235.4 177.9,235.9 C178.1,236.5 178.2,237.4 178.2,238.0 C178.1,238.6 177.9,239.2 177.4,239.5 C176.9,239.8 176.1,239.9 175.4,239.9 C174.7,239.9 174.0,239.7 173.4,239.4 C172.8,239.0 172.2,238.4 171.8,237.8 C171.4,237.3 171.0,236.6 171.0,236.1Z" fill="#000" fill-opacity="0.1" stroke="#000" stroke-width="0.5"/>
<path d="M172.1,236.4 C172.1,236.1 172.5,235.8 172.9,235.6 C173.3,235.3 174.0,235.1 174.6,235.0 C175.1,235.0 175.9,235.0 176.4,235.2 C176.8,235.4 177.2,235.9 177.4,236.3 C177.7,236.7 177.7,237.4 177.7,237.9 C177.6,238.3 177.4,238.8 177.1,239.1 C176.7,239.3 176.0,239.4 175.5,239.3 C175.0,239.3 174.4,239.2 174.0,238.9 C173.5,238.7 173.1,238.2 172.8,237.7 C172.5,237.3 172.1,236.8 172.1,236.4Z" fill="#000" fill-opacity="0.1" stroke="#000" stroke-width="0.5"/>
<path d="M173.2,236.7 C173.3,236.5 173.5,236.3 173.8,236.1 C174.1,236.0 174.6,235.8 175.0,235.7 C175.4,235.7 175.9,235.7 176.3,235.9 C176.6,236.0 176.9,236.3 177.0,236.7 C177.2,237.0 177.2,237.4 177.2,237.8 C177.1,238.1 177.0,238.4 176.8,238.6 C176.5,238.8 176.0,238.8 175.7,238.8 C175.3,238.8 174.9,238.7 174.6,238.5 C174.2,238.3 173.9,238.0 173.7,237.7 C173.5,237.4 173.2,237.0 173.2,236.7Z" fill="#000" fill-opacity="0.1" stroke="#000" stroke-width="0.5"/>
<ellipse cx="176.0" cy="237" rx="0.9" ry="0.9" fill="#bbb"/>
<ellipse cx="137.6" cy="233.2" rx="3.4" ry="2.4" fill="#fff" stroke="#222" stroke-width="0.6"/>
<rect x="125.30" y="193.50" width="31.50" height="22.10" fill="none" stroke="#222" stroke-width="0.9"/>
<rect x="159.30" y="224.50" width="25.30" height="21.70" fill="none" stroke="#222" stroke-width="0.9"/>
<text x="139.55" y="192.90" font-size="6.4" text-anchor="middle" fill="#111">67.6%</text>
<text x="170.95" y="223.90" font-size="6.4" text-anchor="middle" fill="#111">25.8%</text>
<rect x="115.40" y="177.80" width="74.20" height="73.80" fill="none" stroke="#333" stroke-width="0.9"/>
<line x1="114.40" y1="180.00" x2="115.40" y2="180.00" stroke="#555" stroke-width="0.5"/>
<line x1="114.40" y1="183.68" x2="115.40" y2="183.68" stroke="#555" stroke-width="0.5"/>
<line x1="114.40" y1="187.37" x2="115.40" y2="187.37" stroke="#555" stroke-width="0.5"/>
<line x1="114.40" y1="191.05" x2="115.40" y2="191.05" stroke="#555" stroke-width="0.5"/>
<line x1="114.40" y1="194.74" x2="115.40" y2="194.74" stroke="#555" stroke-width="0.5"/>
<line x1="114.40" y1="198.42" x2="115.40" y2="198.42" stroke="#555" stroke-width="0.5"/>
<line x1="114.40" y1="202.11" x2="115.40" y2="202.11" stroke="#555" stroke-width="0.5"/>
<line x1="114.40" y1="205.79" x2="115.40" y2="205.79" stroke="#555" stroke-width="0.5"/>
<line x1="114.40" y1="209.47" x2="115.40" y2="209.47" stroke="#555" stroke-width="0.5"/>
<line x1="114.40" y1="213.16" x2="115.40" y2="213.16" stroke="#555" stroke-width="0.5"/>
<line x1="114.40" y1="216.84" x2="115.40" y2="216.84" stroke="#555" stroke-width="0.5"/>
<line x1="114.40" y1="220.53" x2="115.40" y2="220.53" stroke="#555" stroke-width="0.5"/>
<line x1="114.40" y1="224.21" x2="115.40" y2="224.21" stroke="#555" stroke-width="0.5"/>
<line x1="114.40" y1="227.89" x2="115.40" y2="227.89" stroke="#555" stroke-width="0.5"/>
<line x1="114.40" y1="231.58" x2="115.40" y2="231.58" stroke="#555" stroke-width="0.5"/>
<line x1="114.40" y1="235.26" x2="115.40" y2="235.26" stroke="#555" stroke-width="0.5"/>
<line x1="114.40" y1="238.95" x2="115.40" y2="238.95" stroke="#555" stroke-width="0.5"/>
<line x1="114.40" y1="242.63" x2="115.40" y2="242.63" stroke="#555" stroke-width="0.5"/>
<line x1="114.40" y1="246.32" x2="115.40" y2="246.32" stroke="#555" stroke-width="0.5"/>
<line x1="114.40" y1="250.00" x2="115.40" y2="250.00" stroke="#555" stroke-width="0.5"/>
<line x1="117.40" y1="251.60" x2="117.40" y2="252.60" stroke="#555" stroke-width="0.5"/>
<line x1="120.74" y1="251.60" x2="120.74" y2="252.60" stroke="#555" stroke-width="0.5"/>
<line x1="124.09" y1="251.60" x2="124.09" y2="252.60" stroke="#555" stroke-width="0.5"/>
<line x1="127.43" y1="251.60" x2="127.43" y2="252.60" stroke="#555" stroke-width="0.5"/>
<line x1="130.77" y1="251.60" x2="130.77" y2="252.60" stroke="#555" stroke-width="0.5"/>
<line x1="134.11" y1="251.60" x2="134.11" y2="252.60" stroke="#555" stroke-width="0.5"/>
<line x1="137.46" y1="251.60" x2="137.46" y2="252.60" stroke="#555" stroke-width="0.5"/>
<line x1="140.80" y1="251.60" x2="140.80" y2="252.60" stroke="#555" stroke-width="0.5"/>
<line x1="144.14" y1="251.60" x2="144.14" y2="252.60" stroke="#555" stroke-width="0.5"/>
<line x1="147.49" y1="251.60" x2="147.49" y2="252.60" stroke="#555" stroke-width="0.5"/>
<line x1="150.83" y1="251.60" x2="150.83" y2="252.60" stroke="#555" stroke-width="0.5"/>
<line x1="154.17" y1="251.60" x2="154.17" y2="252.60" stroke="#555" stroke-width="0.5"/>
<line x1="157.51" y1="251.60" x2="157.51" y2="252.60" stroke="#555" stroke-width="0.5"/>
<line x1="160.86" y1="251.60" x2="160.86" y2="252.60" stroke="#555" stroke-width="0.5"/>
<line x1="164.20" y1="251.60" x2="164.20" y2="252.60" stroke="#555" stroke-width="0.5"/>
<line x1="167.54" y1="251.60" x2="167.54" y2="252.60" stroke="#555" stroke-width="0.5"/>
<line x1="170.89" y1="251.60" x2="170.89" y2="252.60" stroke="#555" stroke-width="0.5"/>
<line x1="174.23" y1="251.60" x2="174.23" y2="252.60" stroke="#555" stroke-width="0.5"/>
<line x1="177.57" y1="251.60" x2="177.57" y2="252.60" stroke="#555" stroke-width="0.5"/>
<line x1="180.91" y1="251.60" x2="180.91" y2="252.60" stroke="#555" stroke-width="0.5"/>
<line x1="184.26" y1="251.60" x2="184.26" y2="252.60" stroke="#555" stroke-width="0.5"/>
<line x1="187.60" y1="251.60" x2="187.60" y2="252.60" stroke="#555" stroke-width="0.5"/>
<line x1="114.20" y1="233.50" x2="114.20" y2="236.50" stroke="#111" stroke-width="1.6"/>
<line x1="133.00" y1="253.00" x2="136.00" y2="253.00" stroke="#111" stroke-width="1.6"/>
<line x1="120.50" y1="251.60" x2="120.50" y2="253.20" stroke="#333" stroke-width="0.7"/>
<text x="120.50" y="260.60" font-size="6.9" text-anchor="middle" fill="#111">-10<tspan font-size="4.69" dy="-3.11">3</tspan></text>
<line x1="134.00" y1="251.60" x2="134.00" y2="253.20" stroke="#333" stroke-width="0.7"/>
<text x="134.00" y="260.60" font-size="6.9" text-anchor="middle" fill="#111">0</text>
<line x1="144.50" y1="251.60" x2="144.50" y2="253.20" stroke="#333" stroke-width="0.7"/>
<text x="145.50" y="260.60" font-size="6.9" text-anchor="middle" fill="#111">10<tspan font-size="4.69" dy="-3.11">3</tspan></text>
<line x1="166.50" y1="251.60" x2="166.50" y2="253.20" stroke="#333" stroke-width="0.7"/>
<text x="167.50" y="260.60" font-size="6.9" text-anchor="middle" fill="#111">10<tspan font-size="4.69" dy="-3.11">4</tspan></text>
<line x1="182.80" y1="251.60" x2="182.80" y2="253.20" stroke="#333" stroke-width="0.7"/>
<text x="183.80" y="260.60" font-size="6.9" text-anchor="middle" fill="#111">10<tspan font-size="4.69" dy="-3.11">5</tspan></text>
<text x="152.50" y="175.10" font-size="9.6" text-anchor="middle" fill="#111">DKO</text>
<text x="37" y="161.6" font-size="10.4" font-style="italic" fill="#111" textLength="70" lengthAdjust="spacingAndGlyphs">CD45.2<tspan font-size="7.6" dy="-3.8">+</tspan><tspan dy="3.8">TCR</tspan><tspan>β</tspan><tspan font-size="7.6" dy="-3.8">+</tspan></text>
<text x="13.50" y="218.10" font-size="7.8" text-anchor="middle" fill="#111" transform="rotate(-90 13.50 218.10)" textLength="36.6" lengthAdjust="spacingAndGlyphs" stroke="#111" stroke-width="0.18">CD4-PE-Cy7</text>
<line x1="11.80" y1="271.20" x2="11.80" y2="243.50" stroke="#111" stroke-width="1.1"/>
<line x1="11.80" y1="271.20" x2="39.80" y2="271.20" stroke="#111" stroke-width="1.1"/>
<polygon points="11.80,240.50 9.60,245.00 14.00,245.00" fill="#111" stroke="none" stroke-width="0" stroke-linejoin="round"/>
<polygon points="42.80,271.20 38.30,269.00 38.30,273.40" fill="#111" stroke="none" stroke-width="0" stroke-linejoin="round"/>
<text x="46.20" y="274.30" font-size="8.6" text-anchor="start" fill="#111" textLength="29" lengthAdjust="spacingAndGlyphs">CD8α-PE</text>
<path d="M55.1,509.4h0.55v0.55h-0.55z M59.4,525.0h0.55v0.55h-0.55z M53.0,496.1h0.55v0.55h-0.55z M54.1,500.5h0.55v0.55h-0.55z M56.1,489.7h0.55v0.55h-0.55z M57.2,488.1h0.55v0.55h-0.55z M58.0,494.0h0.55v0.55h-0.55z M57.3,509.2h0.55v0.55h-0.55z M56.2,497.4h0.55v0.55h-0.55z M54.5,491.3h0.55v0.55h-0.55z M60.7,511.0h0.55v0.55h-0.55z M61.6,508.5h0.55v0.55h-0.55z M57.5,497.5h0.55v0.55h-0.55z M55.9,486.3h0.55v0.55h-0.55z M59.2,515.6h0.55v0.55h-0.55z M60.6,521.1h0.55v0.55h-0.55z M53.8,475.5h0.55v0.55h-0.55z M58.6,507.2h0.55v0.55h-0.55z M53.9,493.7h0.55v0.55h-0.55z M58.8,524.9h0.55v0.55h-0.55z M57.8,496.3h0.55v0.55h-0.55z M58.8,517.0h0.55v0.55h-0.55z M53.3,512.9h0.55v0.55h-0.55z M53.9,504.5h0.55v0.55h-0.55z M57.9,504.8h0.55v0.55h-0.55z M52.4,508.6h0.55v0.55h-0.55z M52.7,512.2h0.55v0.55h-0.55z M51.3,498.4h0.55v0.55h-0.55z M55.2,496.0h0.55v0.55h-0.55z M57.1,507.1h0.55v0.55h-0.55z M61.5,509.4h0.55v0.55h-0.55z M59.6,491.0h0.55v0.55h-0.55z M59.5,514.3h0.55v0.55h-0.55z M60.3,520.6h0.55v0.55h-0.55z M54.1,488.8h0.55v0.55h-0.55z M54.4,496.8h0.55v0.55h-0.55z M60.3,481.1h0.55v0.55h-0.55z M56.6,515.8h0.55v0.55h-0.55z M56.1,487.5h0.55v0.55h-0.55z M54.1,510.4h0.55v0.55h-0.55z M58.5,502.2h0.55v0.55h-0.55z M57.4,520.3h0.55v0.55h-0.55z M55.6,527.1h0.55v0.55h-0.55z M53.8,526.2h0.55v0.55h-0.55z M52.6,519.7h0.55v0.55h-0.55z M56.5,486.1h0.55v0.55h-0.55z M56.8,510.4h0.55v0.55h-0.55z M58.1,505.3h0.55v0.55h-0.55z M56.0,500.5h0.55v0.55h-0.55z M56.8,518.2h0.55v0.55h-0.55z M57.8,512.1h0.55v0.55h-0.55z M57.0,520.4h0.55v0.55h-0.55z M63.1,529.8h0.55v0.55h-0.55z M53.2,493.9h0.55v0.55h-0.55z M53.6,499.8h0.55v0.55h-0.55z M61.9,499.7h0.55v0.55h-0.55z M56.8,501.6h0.55v0.55h-0.55z M51.3,490.0h0.55v0.55h-0.55z M54.5,493.9h0.55v0.55h-0.55z M55.5,498.5h0.55v0.55h-0.55z M55.9,484.9h0.55v0.55h-0.55z M59.3,509.7h0.55v0.55h-0.55z M54.5,498.2h0.55v0.55h-0.55z M54.1,481.4h0.55v0.55h-0.55z M58.4,498.8h0.55v0.55h-0.55z M59.5,521.6h0.55v0.55h-0.55z M52.8,490.6h0.55v0.55h-0.55z M57.9,497.5h0.55v0.55h-0.55z M54.6,499.1h0.55v0.55h-0.55z M57.7,487.9h0.55v0.55h-0.55z M56.7,516.9h0.55v0.55h-0.55z M54.9,499.5h0.55v0.55h-0.55z M57.7,515.4h0.55v0.55h-0.55z M59.2,509.6h0.55v0.55h-0.55z M61.0,496.4h0.55v0.55h-0.55z M61.1,510.9h0.55v0.55h-0.55z M55.6,487.1h0.55v0.55h-0.55z M60.8,507.1h0.55v0.55h-0.55z M58.1,522.7h0.55v0.55h-0.55z M55.4,513.4h0.55v0.55h-0.55z M59.0,523.5h0.55v0.55h-0.55z M57.4,526.0h0.55v0.55h-0.55z M55.0,503.5h0.55v0.55h-0.55z M54.7,492.8h0.55v0.55h-0.55z M61.3,507.5h0.55v0.55h-0.55z M56.4,506.4h0.55v0.55h-0.55z M56.9,486.4h0.55v0.55h-0.55z M55.2,508.6h0.55v0.55h-0.55z M53.1,501.5h0.55v0.55h-0.55z M55.4,492.2h0.55v0.55h-0.55z M52.7,496.7h0.55v0.55h-0.55z M57.1,510.4h0.55v0.55h-0.55z M52.2,505.8h0.55v0.55h-0.55z M58.2,483.6h0.55v0.55h-0.55z M52.7,510.5h0.55v0.55h-0.55z M58.5,510.8h0.55v0.55h-0.55z M61.0,512.5h0.55v0.55h-0.55z M60.4,504.0h0.55v0.55h-0.55z M56.5,493.4h0.55v0.55h-0.55z M56.8,499.5h0.55v0.55h-0.55z M54.8,511.4h0.55v0.55h-0.55z M57.6,498.9h0.55v0.55h-0.55z M57.1,508.0h0.55v0.55h-0.55z M57.7,496.0h0.55v0.55h-0.55z M58.3,498.5h0.55v0.55h-0.55z M57.4,497.8h0.55v0.55h-0.55z M62.2,486.9h0.55v0.55h-0.55z M59.4,492.3h0.55v0.55h-0.55z M61.1,489.2h0.55v0.55h-0.55z M58.5,502.0h0.55v0.55h-0.55z M59.2,488.5h0.55v0.55h-0.55z M55.6,509.5h0.55v0.55h-0.55z M58.9,496.7h0.55v0.55h-0.55z M51.2,499.7h0.55v0.55h-0.55z M54.5,504.9h0.55v0.55h-0.55z M55.2,491.5h0.55v0.55h-0.55z M55.9,520.7h0.55v0.55h-0.55z M58.1,499.3h0.55v0.55h-0.55z M58.2,487.0h0.55v0.55h-0.55z M54.8,503.0h0.55v0.55h-0.55z M55.4,496.3h0.55v0.55h-0.55z M56.5,525.6h0.55v0.55h-0.55z M56.4,508.8h0.55v0.55h-0.55z M61.3,474.5h0.55v0.55h-0.55z M55.6,514.5h0.55v0.55h-0.55z M52.3,498.9h0.55v0.55h-0.55z M60.2,505.2h0.55v0.55h-0.55z M57.1,529.2h0.55v0.55h-0.55z M51.1,517.5h0.55v0.55h-0.55z M52.9,508.9h0.55v0.55h-0.55z M58.2,505.7h0.55v0.55h-0.55z M55.8,514.1h0.55v0.55h-0.55z M57.8,514.2h0.55v0.55h-0.55z M59.4,511.5h0.55v0.55h-0.55z M61.5,499.0h0.55v0.55h-0.55z M51.2,482.4h0.55v0.55h-0.55z M56.0,488.5h0.55v0.55h-0.55z M55.5,505.2h0.55v0.55h-0.55z M60.8,489.4h0.55v0.55h-0.55z M57.8,488.2h0.55v0.55h-0.55z M59.0,478.4h0.55v0.55h-0.55z M60.9,500.7h0.55v0.55h-0.55z M62.8,506.7h0.55v0.55h-0.55z M53.9,499.0h0.55v0.55h-0.55z M54.6,507.7h0.55v0.55h-0.55z M60.0,507.2h0.55v0.55h-0.55z M55.7,500.9h0.55v0.55h-0.55z M61.5,492.9h0.55v0.55h-0.55z M58.6,493.7h0.55v0.55h-0.55z M54.3,512.2h0.55v0.55h-0.55z M52.0,523.9h0.55v0.55h-0.55z M61.4,492.6h0.55v0.55h-0.55z M53.4,502.4h0.55v0.55h-0.55z M55.7,495.6h0.55v0.55h-0.55z M59.5,533.2h0.55v0.55h-0.55z M56.2,512.7h0.55v0.55h-0.55z M55.4,504.2h0.55v0.55h-0.55z M55.0,503.0h0.55v0.55h-0.55z M57.0,500.0h0.55v0.55h-0.55z M57.2,495.8h0.55v0.55h-0.55z M57.6,484.8h0.55v0.55h-0.55z M58.0,502.1h0.55v0.55h-0.55z M58.0,503.4h0.55v0.55h-0.55z M56.3,505.1h0.55v0.55h-0.55z M55.4,504.2h0.55v0.55h-0.55z M50.8,495.2h0.55v0.55h-0.55z M57.2,488.4h0.55v0.55h-0.55z M62.9,521.4h0.55v0.55h-0.55z M52.3,524.2h0.55v0.55h-0.55z M57.8,511.4h0.55v0.55h-0.55z M60.6,498.1h0.55v0.55h-0.55z M57.6,515.2h0.55v0.55h-0.55z M54.6,501.8h0.55v0.55h-0.55z M56.7,508.5h0.55v0.55h-0.55z M53.8,503.3h0.55v0.55h-0.55z M54.8,514.2h0.55v0.55h-0.55z M55.0,512.9h0.55v0.55h-0.55z M56.6,497.8h0.55v0.55h-0.55z M58.8,510.8h0.55v0.55h-0.55z M55.8,516.1h0.55v0.55h-0.55z M60.5,483.5h0.55v0.55h-0.55z M58.9,481.4h0.55v0.55h-0.55z M56.8,514.1h0.55v0.55h-0.55z M58.1,509.9h0.55v0.55h-0.55z M56.4,512.1h0.55v0.55h-0.55z M53.4,526.6h0.55v0.55h-0.55z M50.9,501.7h0.55v0.55h-0.55z M52.2,500.9h0.55v0.55h-0.55z M54.8,491.1h0.55v0.55h-0.55z M59.6,497.2h0.55v0.55h-0.55z M54.6,503.8h0.55v0.55h-0.55z M58.7,510.8h0.55v0.55h-0.55z M55.4,507.2h0.55v0.55h-0.55z M57.0,503.4h0.55v0.55h-0.55z M54.7,507.0h0.55v0.55h-0.55z M52.3,515.4h0.55v0.55h-0.55z M59.1,501.5h0.55v0.55h-0.55z M55.2,481.4h0.55v0.55h-0.55z M55.8,514.7h0.55v0.55h-0.55z M52.0,512.5h0.55v0.55h-0.55z M54.7,526.1h0.55v0.55h-0.55z M58.1,519.3h0.55v0.55h-0.55z M56.0,501.9h0.55v0.55h-0.55z M54.2,522.5h0.55v0.55h-0.55z M55.8,506.2h0.55v0.55h-0.55z M53.3,506.6h0.55v0.55h-0.55z M53.8,506.2h0.55v0.55h-0.55z M60.1,497.8h0.55v0.55h-0.55z M53.8,508.1h0.55v0.55h-0.55z M56.7,495.9h0.55v0.55h-0.55z M52.1,506.1h0.55v0.55h-0.55z M57.7,507.3h0.55v0.55h-0.55z M60.2,509.1h0.55v0.55h-0.55z M57.7,488.6h0.55v0.55h-0.55z M56.0,502.1h0.55v0.55h-0.55z M54.6,513.2h0.55v0.55h-0.55z M55.5,511.1h0.55v0.55h-0.55z M55.2,509.7h0.55v0.55h-0.55z M59.6,510.1h0.55v0.55h-0.55z M59.2,505.8h0.55v0.55h-0.55z M52.6,515.6h0.55v0.55h-0.55z M55.7,492.3h0.55v0.55h-0.55z M60.6,504.7h0.55v0.55h-0.55z M55.9,488.5h0.55v0.55h-0.55z M59.5,503.2h0.55v0.55h-0.55z M53.9,512.3h0.55v0.55h-0.55z M59.4,513.4h0.55v0.55h-0.55z M59.1,516.1h0.55v0.55h-0.55z M53.5,493.2h0.55v0.55h-0.55z M58.1,519.9h0.55v0.55h-0.55z M63.6,492.8h0.55v0.55h-0.55z M56.6,497.6h0.55v0.55h-0.55z M56.7,497.2h0.55v0.55h-0.55z M57.2,503.6h0.55v0.55h-0.55z M59.1,505.2h0.55v0.55h-0.55z M62.2,516.8h0.55v0.55h-0.55z M58.3,500.4h0.55v0.55h-0.55z M58.1,496.5h0.55v0.55h-0.55z M57.1,498.8h0.55v0.55h-0.55z M59.1,499.7h0.55v0.55h-0.55z M56.7,515.9h0.55v0.55h-0.55z M57.2,504.0h0.55v0.55h-0.55z M53.0,506.3h0.55v0.55h-0.55z M59.7,503.7h0.55v0.55h-0.55z M55.5,511.3h0.55v0.55h-0.55z M62.2,507.2h0.55v0.55h-0.55z M55.9,495.8h0.55v0.55h-0.55z M56.7,487.2h0.55v0.55h-0.55z M54.7,494.7h0.55v0.55h-0.55z M60.6,485.7h0.55v0.55h-0.55z M56.6,497.0h0.55v0.55h-0.55z M53.0,509.1h0.55v0.55h-0.55z M59.4,500.1h0.55v0.55h-0.55z M55.5,504.5h0.55v0.55h-0.55z M58.4,507.4h0.55v0.55h-0.55z M55.7,497.2h0.55v0.55h-0.55z M56.6,488.2h0.55v0.55h-0.55z M55.8,517.0h0.55v0.55h-0.55z M56.8,501.6h0.55v0.55h-0.55z M53.5,490.9h0.55v0.55h-0.55z M58.8,501.9h0.55v0.55h-0.55z M53.4,488.9h0.55v0.55h-0.55z M55.0,522.0h0.55v0.55h-0.55z M56.5,476.9h0.55v0.55h-0.55z M55.4,506.7h0.55v0.55h-0.55z M52.6,502.3h0.55v0.55h-0.55z M60.2,494.5h0.55v0.55h-0.55z M51.6,497.7h0.55v0.55h-0.55z M58.6,491.8h0.55v0.55h-0.55z M56.5,505.5h0.55v0.55h-0.55z M56.1,503.1h0.55v0.55h-0.55z M51.8,530.7h0.55v0.55h-0.55z M56.3,520.8h0.55v0.55h-0.55z M56.3,494.3h0.55v0.55h-0.55z M52.2,490.3h0.55v0.55h-0.55z M56.1,494.2h0.55v0.55h-0.55z M60.4,503.4h0.55v0.55h-0.55z M56.8,523.9h0.55v0.55h-0.55z M57.6,482.0h0.55v0.55h-0.55z M58.9,487.2h0.55v0.55h-0.55z M53.1,515.7h0.55v0.55h-0.55z M56.9,483.6h0.55v0.55h-0.55z M58.2,535.5h0.55v0.55h-0.55z M51.4,493.0h0.55v0.55h-0.55z M52.0,502.0h0.55v0.55h-0.55z M54.8,498.5h0.55v0.55h-0.55z M51.7,505.2h0.55v0.55h-0.55z M55.4,528.6h0.55v0.55h-0.55z M56.0,484.8h0.55v0.55h-0.55z M52.5,501.0h0.55v0.55h-0.55z M54.7,495.4h0.55v0.55h-0.55z M59.8,504.2h0.55v0.55h-0.55z M55.3,491.0h0.55v0.55h-0.55z M53.8,512.1h0.55v0.55h-0.55z M59.5,513.7h0.55v0.55h-0.55z M57.8,506.4h0.55v0.55h-0.55z M62.1,517.0h0.55v0.55h-0.55z M59.6,495.6h0.55v0.55h-0.55z M58.1,501.1h0.55v0.55h-0.55z M55.0,493.4h0.55v0.55h-0.55z M59.2,513.0h0.55v0.55h-0.55z M58.1,509.7h0.55v0.55h-0.55z M57.7,510.4h0.55v0.55h-0.55z M58.9,496.2h0.55v0.55h-0.55z M55.1,502.1h0.55v0.55h-0.55z M57.2,508.2h0.55v0.55h-0.55z M55.5,490.2h0.55v0.55h-0.55z M56.3,489.4h0.55v0.55h-0.55z M56.5,515.1h0.55v0.55h-0.55z M52.5,522.7h0.55v0.55h-0.55z M55.1,484.1h0.55v0.55h-0.55z M52.9,480.4h0.55v0.55h-0.55z M56.5,503.7h0.55v0.55h-0.55z M57.1,505.5h0.55v0.55h-0.55z M57.9,499.3h0.55v0.55h-0.55z M53.1,507.4h0.55v0.55h-0.55z M56.8,512.7h0.55v0.55h-0.55z M57.7,499.3h0.55v0.55h-0.55z M57.9,493.2h0.55v0.55h-0.55z M55.5,493.8h0.55v0.55h-0.55z M54.7,488.5h0.55v0.55h-0.55z M54.6,508.3h0.55v0.55h-0.55z M52.6,511.8h0.55v0.55h-0.55z M58.3,504.5h0.55v0.55h-0.55z M54.1,517.7h0.55v0.55h-0.55z M54.6,503.6h0.55v0.55h-0.55z M59.0,494.1h0.55v0.55h-0.55z M58.5,497.1h0.55v0.55h-0.55z M59.8,499.6h0.55v0.55h-0.55z M55.6,509.2h0.55v0.55h-0.55z M57.0,497.5h0.55v0.55h-0.55z M58.6,485.9h0.55v0.55h-0.55z M59.3,517.1h0.55v0.55h-0.55z M56.2,499.4h0.55v0.55h-0.55z M56.9,477.1h0.55v0.55h-0.55z M54.9,515.6h0.55v0.55h-0.55z M54.9,508.3h0.55v0.55h-0.55z M58.5,517.8h0.55v0.55h-0.55z M57.8,502.8h0.55v0.55h-0.55z M59.7,505.9h0.55v0.55h-0.55z M56.0,526.0h0.55v0.55h-0.55z M56.3,506.3h0.55v0.55h-0.55z M55.5,514.5h0.55v0.55h-0.55z M54.1,508.6h0.55v0.55h-0.55z M55.0,531.6h0.55v0.55h-0.55z M58.3,504.7h0.55v0.55h-0.55z M57.2,497.3h0.55v0.55h-0.55z M57.1,514.6h0.55v0.55h-0.55z M53.2,488.9h0.55v0.55h-0.55z M56.9,497.3h0.55v0.55h-0.55z M58.0,501.2h0.55v0.55h-0.55z M58.3,483.6h0.55v0.55h-0.55z M58.4,511.1h0.55v0.55h-0.55z M57.2,515.9h0.55v0.55h-0.55z M57.4,484.6h0.55v0.55h-0.55z M56.5,501.3h0.55v0.55h-0.55z M55.0,528.1h0.55v0.55h-0.55z M56.1,485.4h0.55v0.55h-0.55z M57.2,509.7h0.55v0.55h-0.55z M52.9,505.0h0.55v0.55h-0.55z M60.3,519.8h0.55v0.55h-0.55z M51.1,492.9h0.55v0.55h-0.55z M58.7,497.8h0.55v0.55h-0.55z M55.7,524.7h0.55v0.55h-0.55z M53.0,504.2h0.55v0.55h-0.55z M55.2,474.1h0.55v0.55h-0.55z M53.6,502.9h0.55v0.55h-0.55z M57.1,500.6h0.55v0.55h-0.55z M54.8,506.9h0.55v0.55h-0.55z M52.8,490.9h0.55v0.55h-0.55z M54.9,507.4h0.55v0.55h-0.55z M60.6,520.3h0.55v0.55h-0.55z M51.3,490.8h0.55v0.55h-0.55z M56.3,513.0h0.55v0.55h-0.55z M58.1,518.2h0.55v0.55h-0.55z M51.8,495.9h0.55v0.55h-0.55z M54.5,498.7h0.55v0.55h-0.55z M60.1,515.6h0.55v0.55h-0.55z M58.7,500.9h0.55v0.55h-0.55z M55.3,516.4h0.55v0.55h-0.55z" fill="#555" opacity="0.75"/>
<path d="M54.9,515.3h0.55v0.55h-0.55z M56.0,503.2h0.55v0.55h-0.55z M55.0,492.5h0.55v0.55h-0.55z M60.7,524.4h0.55v0.55h-0.55z M53.2,498.3h0.55v0.55h-0.55z M58.5,497.3h0.55v0.55h-0.55z M55.6,507.0h0.55v0.55h-0.55z M53.8,498.8h0.55v0.55h-0.55z M58.5,524.2h0.55v0.55h-0.55z M51.7,521.3h0.55v0.55h-0.55z M51.9,511.3h0.55v0.55h-0.55z M51.6,506.1h0.55v0.55h-0.55z M53.4,518.2h0.55v0.55h-0.55z M51.2,504.6h0.55v0.55h-0.55z M61.1,505.5h0.55v0.55h-0.55z M55.6,510.8h0.55v0.55h-0.55z M59.3,512.5h0.55v0.55h-0.55z M55.4,490.4h0.55v0.55h-0.55z M59.2,504.2h0.55v0.55h-0.55z M61.0,496.6h0.55v0.55h-0.55z M54.2,502.4h0.55v0.55h-0.55z M61.4,516.8h0.55v0.55h-0.55z M54.1,512.9h0.55v0.55h-0.55z M59.6,483.6h0.55v0.55h-0.55z M58.8,502.8h0.55v0.55h-0.55z M60.3,515.5h0.55v0.55h-0.55z M54.8,484.7h0.55v0.55h-0.55z M55.3,498.5h0.55v0.55h-0.55z M53.1,512.6h0.55v0.55h-0.55z M60.1,501.4h0.55v0.55h-0.55z M52.2,506.7h0.55v0.55h-0.55z M54.6,483.0h0.55v0.55h-0.55z M52.0,498.9h0.55v0.55h-0.55z M51.4,487.0h0.55v0.55h-0.55z M60.9,505.6h0.55v0.55h-0.55z M52.9,482.9h0.55v0.55h-0.55z M54.0,495.9h0.55v0.55h-0.55z M60.9,489.5h0.55v0.55h-0.55z M60.7,504.1h0.55v0.55h-0.55z M59.5,506.7h0.55v0.55h-0.55z M61.1,525.2h0.55v0.55h-0.55z M57.5,496.5h0.55v0.55h-0.55z M54.1,488.5h0.55v0.55h-0.55z M53.4,509.2h0.55v0.55h-0.55z M55.4,505.8h0.55v0.55h-0.55z M61.0,514.6h0.55v0.55h-0.55z M60.8,516.2h0.55v0.55h-0.55z M53.6,482.9h0.55v0.55h-0.55z M58.4,487.8h0.55v0.55h-0.55z M57.9,485.0h0.55v0.55h-0.55z M57.1,505.3h0.55v0.55h-0.55z M55.8,518.2h0.55v0.55h-0.55z M58.3,491.2h0.55v0.55h-0.55z M56.2,500.1h0.55v0.55h-0.55z M55.1,491.4h0.55v0.55h-0.55z M53.3,509.4h0.55v0.55h-0.55z M51.7,500.7h0.55v0.55h-0.55z M56.2,502.2h0.55v0.55h-0.55z M58.3,518.0h0.55v0.55h-0.55z M56.6,488.5h0.55v0.55h-0.55z M52.9,523.9h0.55v0.55h-0.55z M55.9,503.5h0.55v0.55h-0.55z M53.3,510.0h0.55v0.55h-0.55z M55.0,507.1h0.55v0.55h-0.55z M56.8,522.9h0.55v0.55h-0.55z M59.1,523.0h0.55v0.55h-0.55z M60.2,485.2h0.55v0.55h-0.55z M57.5,493.6h0.55v0.55h-0.55z M54.6,504.6h0.55v0.55h-0.55z M56.5,507.7h0.55v0.55h-0.55z M55.6,485.9h0.55v0.55h-0.55z M61.3,482.7h0.55v0.55h-0.55z M60.9,526.4h0.55v0.55h-0.55z M58.0,490.7h0.55v0.55h-0.55z M58.4,496.4h0.55v0.55h-0.55z M54.8,520.0h0.55v0.55h-0.55z M58.6,482.1h0.55v0.55h-0.55z M60.9,499.1h0.55v0.55h-0.55z M54.1,498.8h0.55v0.55h-0.55z M53.2,500.7h0.55v0.55h-0.55z M59.8,526.0h0.55v0.55h-0.55z M59.9,510.6h0.55v0.55h-0.55z M55.5,503.0h0.55v0.55h-0.55z M52.6,492.6h0.55v0.55h-0.55z M51.5,516.7h0.55v0.55h-0.55z M52.1,489.2h0.55v0.55h-0.55z M55.5,518.4h0.55v0.55h-0.55z M51.8,515.7h0.55v0.55h-0.55z M54.1,499.6h0.55v0.55h-0.55z M55.7,526.4h0.55v0.55h-0.55z M61.4,493.2h0.55v0.55h-0.55z M57.3,496.0h0.55v0.55h-0.55z M54.4,518.9h0.55v0.55h-0.55z M57.8,505.5h0.55v0.55h-0.55z M54.2,498.3h0.55v0.55h-0.55z M55.9,518.8h0.55v0.55h-0.55z M53.8,507.1h0.55v0.55h-0.55z M59.3,483.6h0.55v0.55h-0.55z M53.4,516.1h0.55v0.55h-0.55z M51.7,524.5h0.55v0.55h-0.55z M55.6,510.1h0.55v0.55h-0.55z M52.1,501.5h0.55v0.55h-0.55z M55.9,516.8h0.55v0.55h-0.55z M57.2,487.9h0.55v0.55h-0.55z M51.8,493.0h0.55v0.55h-0.55z M57.1,486.3h0.55v0.55h-0.55z M52.6,497.1h0.55v0.55h-0.55z M53.5,508.9h0.55v0.55h-0.55z M53.3,490.4h0.55v0.55h-0.55z M58.9,509.6h0.55v0.55h-0.55z M58.8,487.7h0.55v0.55h-0.55z M57.6,498.4h0.55v0.55h-0.55z M56.0,490.9h0.55v0.55h-0.55z M59.6,518.5h0.55v0.55h-0.55z M55.8,497.6h0.55v0.55h-0.55z M53.6,504.2h0.55v0.55h-0.55z M54.2,501.2h0.55v0.55h-0.55z M57.4,520.2h0.55v0.55h-0.55z M60.0,484.0h0.55v0.55h-0.55z M59.2,498.9h0.55v0.55h-0.55z" fill="#666" opacity="0.7"/>
<path d="M74.9,492.7h0.55v0.55h-0.55z M74.2,485.4h0.55v0.55h-0.55z M67.5,494.8h0.55v0.55h-0.55z M57.7,484.6h0.55v0.55h-0.55z M84.1,481.2h0.55v0.55h-0.55z M78.8,492.4h0.55v0.55h-0.55z M62.0,489.5h0.55v0.55h-0.55z M72.7,485.5h0.55v0.55h-0.55z M74.6,489.1h0.55v0.55h-0.55z M83.4,486.5h0.55v0.55h-0.55z M66.9,489.6h0.55v0.55h-0.55z M69.7,484.7h0.55v0.55h-0.55z M75.1,484.9h0.55v0.55h-0.55z M69.4,490.7h0.55v0.55h-0.55z M69.4,493.5h0.55v0.55h-0.55z M67.2,497.0h0.55v0.55h-0.55z M75.0,483.0h0.55v0.55h-0.55z M61.5,491.4h0.55v0.55h-0.55z M76.9,490.7h0.55v0.55h-0.55z M61.9,487.5h0.55v0.55h-0.55z M68.7,499.0h0.55v0.55h-0.55z M66.2,493.5h0.55v0.55h-0.55z M75.3,493.2h0.55v0.55h-0.55z M77.4,489.1h0.55v0.55h-0.55z M74.0,500.8h0.55v0.55h-0.55z M65.9,490.2h0.55v0.55h-0.55z M68.3,486.6h0.55v0.55h-0.55z M63.5,488.2h0.55v0.55h-0.55z M79.2,486.2h0.55v0.55h-0.55z M81.0,477.7h0.55v0.55h-0.55z M62.8,484.6h0.55v0.55h-0.55z M65.8,480.4h0.55v0.55h-0.55z M78.3,481.5h0.55v0.55h-0.55z M82.4,483.4h0.55v0.55h-0.55z M75.0,496.5h0.55v0.55h-0.55z M67.1,478.7h0.55v0.55h-0.55z M63.4,495.5h0.55v0.55h-0.55z M75.9,489.2h0.55v0.55h-0.55z M70.6,492.7h0.55v0.55h-0.55z M76.2,492.0h0.55v0.55h-0.55z M71.3,490.3h0.55v0.55h-0.55z M62.2,483.3h0.55v0.55h-0.55z M69.2,490.3h0.55v0.55h-0.55z M73.8,485.6h0.55v0.55h-0.55z M60.2,496.0h0.55v0.55h-0.55z M75.1,494.9h0.55v0.55h-0.55z M64.5,494.1h0.55v0.55h-0.55z M66.2,490.0h0.55v0.55h-0.55z M76.8,486.8h0.55v0.55h-0.55z M72.7,494.1h0.55v0.55h-0.55z M59.2,482.5h0.55v0.55h-0.55z M69.1,491.3h0.55v0.55h-0.55z M58.6,491.0h0.55v0.55h-0.55z M83.2,491.1h0.55v0.55h-0.55z M63.2,489.2h0.55v0.55h-0.55z M63.0,483.3h0.55v0.55h-0.55z M62.3,479.6h0.55v0.55h-0.55z M66.1,486.1h0.55v0.55h-0.55z M64.8,491.9h0.55v0.55h-0.55z M71.0,493.2h0.55v0.55h-0.55z M59.8,497.5h0.55v0.55h-0.55z M77.6,483.9h0.55v0.55h-0.55z M68.9,485.3h0.55v0.55h-0.55z M67.3,491.5h0.55v0.55h-0.55z M73.8,482.1h0.55v0.55h-0.55z M69.3,488.2h0.55v0.55h-0.55z M68.6,480.2h0.55v0.55h-0.55z M60.0,487.8h0.55v0.55h-0.55z M73.3,482.4h0.55v0.55h-0.55z M66.9,494.9h0.55v0.55h-0.55z M72.0,487.4h0.55v0.55h-0.55z M72.6,485.0h0.55v0.55h-0.55z M68.9,486.6h0.55v0.55h-0.55z M49.5,493.8h0.55v0.55h-0.55z M64.1,486.1h0.55v0.55h-0.55z M67.7,493.4h0.55v0.55h-0.55z M62.7,479.6h0.55v0.55h-0.55z M73.8,492.3h0.55v0.55h-0.55z M66.5,492.0h0.55v0.55h-0.55z M80.9,487.2h0.55v0.55h-0.55z M68.8,488.9h0.55v0.55h-0.55z M77.8,484.0h0.55v0.55h-0.55z M73.8,486.1h0.55v0.55h-0.55z M67.4,493.6h0.55v0.55h-0.55z M64.5,492.1h0.55v0.55h-0.55z M81.7,488.3h0.55v0.55h-0.55z M75.8,491.3h0.55v0.55h-0.55z M74.1,493.6h0.55v0.55h-0.55z M61.5,491.2h0.55v0.55h-0.55z M73.8,484.3h0.55v0.55h-0.55z M72.7,486.7h0.55v0.55h-0.55z M68.3,491.2h0.55v0.55h-0.55z M74.9,480.8h0.55v0.55h-0.55z M65.8,486.9h0.55v0.55h-0.55z M69.0,490.2h0.55v0.55h-0.55z M67.2,486.5h0.55v0.55h-0.55z M70.7,493.0h0.55v0.55h-0.55z M71.3,485.0h0.55v0.55h-0.55z M77.3,486.5h0.55v0.55h-0.55z M73.1,491.4h0.55v0.55h-0.55z M77.1,488.8h0.55v0.55h-0.55z M67.5,488.0h0.55v0.55h-0.55z M71.6,484.4h0.55v0.55h-0.55z M73.3,489.3h0.55v0.55h-0.55z M68.9,491.0h0.55v0.55h-0.55z M67.0,495.8h0.55v0.55h-0.55z M75.7,502.5h0.55v0.55h-0.55z M63.4,484.3h0.55v0.55h-0.55z M64.5,485.1h0.55v0.55h-0.55z M67.1,485.9h0.55v0.55h-0.55z M67.6,492.0h0.55v0.55h-0.55z M62.7,486.9h0.55v0.55h-0.55z M73.7,481.8h0.55v0.55h-0.55z M73.9,485.1h0.55v0.55h-0.55z M72.4,486.8h0.55v0.55h-0.55z M61.5,489.7h0.55v0.55h-0.55z M74.6,489.6h0.55v0.55h-0.55z M62.6,494.2h0.55v0.55h-0.55z M54.9,496.5h0.55v0.55h-0.55z M63.4,481.3h0.55v0.55h-0.55z M77.3,488.3h0.55v0.55h-0.55z M67.8,487.5h0.55v0.55h-0.55z M65.8,487.4h0.55v0.55h-0.55z M65.6,494.0h0.55v0.55h-0.55z M73.5,495.4h0.55v0.55h-0.55z M68.5,498.2h0.55v0.55h-0.55z M75.1,488.9h0.55v0.55h-0.55z M69.2,491.1h0.55v0.55h-0.55z M72.9,489.7h0.55v0.55h-0.55z M70.6,496.6h0.55v0.55h-0.55z M69.0,483.7h0.55v0.55h-0.55z M65.3,491.5h0.55v0.55h-0.55z M75.7,500.8h0.55v0.55h-0.55z M73.8,493.2h0.55v0.55h-0.55z M77.4,490.2h0.55v0.55h-0.55z M67.5,489.2h0.55v0.55h-0.55z M65.0,484.8h0.55v0.55h-0.55z M67.6,483.0h0.55v0.55h-0.55z M66.0,495.6h0.55v0.55h-0.55z M57.9,489.2h0.55v0.55h-0.55z M81.4,485.0h0.55v0.55h-0.55z M67.2,485.5h0.55v0.55h-0.55z M80.2,493.9h0.55v0.55h-0.55z M82.0,490.4h0.55v0.55h-0.55z M72.3,492.6h0.55v0.55h-0.55z M68.5,486.3h0.55v0.55h-0.55z M64.9,492.8h0.55v0.55h-0.55z M73.3,489.2h0.55v0.55h-0.55z M70.5,496.0h0.55v0.55h-0.55z M68.0,487.0h0.55v0.55h-0.55z M74.4,488.7h0.55v0.55h-0.55z M72.8,492.8h0.55v0.55h-0.55z M74.4,492.2h0.55v0.55h-0.55z M74.5,489.9h0.55v0.55h-0.55z M71.5,486.3h0.55v0.55h-0.55z M64.1,486.3h0.55v0.55h-0.55z M69.6,486.1h0.55v0.55h-0.55z M75.3,487.9h0.55v0.55h-0.55z M74.0,487.8h0.55v0.55h-0.55z M70.2,498.8h0.55v0.55h-0.55z M61.7,492.2h0.55v0.55h-0.55z M75.0,482.5h0.55v0.55h-0.55z M68.7,479.8h0.55v0.55h-0.55z M74.3,489.3h0.55v0.55h-0.55z M79.2,484.6h0.55v0.55h-0.55z M80.4,495.0h0.55v0.55h-0.55z M70.0,484.0h0.55v0.55h-0.55z M65.7,491.9h0.55v0.55h-0.55z M71.9,485.4h0.55v0.55h-0.55z M62.8,492.3h0.55v0.55h-0.55z M62.9,488.6h0.55v0.55h-0.55z M75.3,494.7h0.55v0.55h-0.55z M67.4,501.5h0.55v0.55h-0.55z M73.7,502.4h0.55v0.55h-0.55z M67.6,489.7h0.55v0.55h-0.55z M65.2,491.6h0.55v0.55h-0.55z M71.6,495.5h0.55v0.55h-0.55z M61.6,486.7h0.55v0.55h-0.55z M66.4,487.9h0.55v0.55h-0.55z M74.5,484.8h0.55v0.55h-0.55z M79.5,489.8h0.55v0.55h-0.55z M81.3,487.3h0.55v0.55h-0.55z M72.0,481.6h0.55v0.55h-0.55z M72.1,491.6h0.55v0.55h-0.55z M74.9,481.5h0.55v0.55h-0.55z M65.4,487.4h0.55v0.55h-0.55z M59.6,481.7h0.55v0.55h-0.55z M73.9,491.7h0.55v0.55h-0.55z M65.7,487.4h0.55v0.55h-0.55z M69.6,485.7h0.55v0.55h-0.55z M72.6,491.6h0.55v0.55h-0.55z M76.1,489.9h0.55v0.55h-0.55z M55.2,487.0h0.55v0.55h-0.55z M56.9,490.3h0.55v0.55h-0.55z M75.0,491.3h0.55v0.55h-0.55z M74.7,487.0h0.55v0.55h-0.55z M72.5,489.2h0.55v0.55h-0.55z M66.0,482.4h0.55v0.55h-0.55z M62.7,481.8h0.55v0.55h-0.55z M77.0,481.4h0.55v0.55h-0.55z" fill="#666" opacity="0.75"/>
<path d="M72.1,503.6h0.55v0.55h-0.55z M63.5,516.0h0.55v0.55h-0.55z M69.5,513.2h0.55v0.55h-0.55z M68.6,520.4h0.55v0.55h-0.55z M71.3,515.7h0.55v0.55h-0.55z M68.1,508.5h0.55v0.55h-0.55z M68.1,505.7h0.55v0.55h-0.55z M66.8,495.7h0.55v0.55h-0.55z M66.8,509.8h0.55v0.55h-0.55z M69.7,504.7h0.55v0.55h-0.55z M71.9,487.3h0.55v0.55h-0.55z M75.7,500.4h0.55v0.55h-0.55z M78.3,505.2h0.55v0.55h-0.55z M71.4,510.7h0.55v0.55h-0.55z M68.3,517.8h0.55v0.55h-0.55z M73.9,512.8h0.55v0.55h-0.55z M68.8,508.5h0.55v0.55h-0.55z M61.0,522.0h0.55v0.55h-0.55z M76.7,515.2h0.55v0.55h-0.55z M63.8,503.9h0.55v0.55h-0.55z M70.7,513.7h0.55v0.55h-0.55z M69.5,511.3h0.55v0.55h-0.55z M72.8,525.1h0.55v0.55h-0.55z M73.0,514.4h0.55v0.55h-0.55z M74.4,509.9h0.55v0.55h-0.55z M73.9,494.9h0.55v0.55h-0.55z M72.4,510.9h0.55v0.55h-0.55z M82.4,526.0h0.55v0.55h-0.55z M64.7,514.5h0.55v0.55h-0.55z M76.2,515.0h0.55v0.55h-0.55z M79.0,512.9h0.55v0.55h-0.55z M69.8,528.7h0.55v0.55h-0.55z M73.3,504.0h0.55v0.55h-0.55z M77.4,510.3h0.55v0.55h-0.55z M75.8,517.2h0.55v0.55h-0.55z M75.4,501.1h0.55v0.55h-0.55z M76.1,509.3h0.55v0.55h-0.55z M73.4,504.2h0.55v0.55h-0.55z M67.8,493.2h0.55v0.55h-0.55z M59.0,511.0h0.55v0.55h-0.55z M66.5,504.2h0.55v0.55h-0.55z M73.5,502.9h0.55v0.55h-0.55z M70.5,519.0h0.55v0.55h-0.55z M74.0,515.1h0.55v0.55h-0.55z M63.4,507.5h0.55v0.55h-0.55z M85.0,526.8h0.55v0.55h-0.55z M68.8,512.2h0.55v0.55h-0.55z M76.7,511.3h0.55v0.55h-0.55z M75.2,511.9h0.55v0.55h-0.55z M74.2,502.3h0.55v0.55h-0.55z M75.8,512.6h0.55v0.55h-0.55z M67.5,511.6h0.55v0.55h-0.55z M65.3,509.7h0.55v0.55h-0.55z M76.4,518.3h0.55v0.55h-0.55z M75.1,508.4h0.55v0.55h-0.55z M59.2,494.7h0.55v0.55h-0.55z M69.8,507.3h0.55v0.55h-0.55z M69.4,510.8h0.55v0.55h-0.55z M58.6,525.8h0.55v0.55h-0.55z M74.6,515.8h0.55v0.55h-0.55z M72.0,507.8h0.55v0.55h-0.55z M76.2,505.3h0.55v0.55h-0.55z M61.2,496.1h0.55v0.55h-0.55z M68.5,524.9h0.55v0.55h-0.55z M72.6,530.6h0.55v0.55h-0.55z M66.8,501.9h0.55v0.55h-0.55z M73.2,503.3h0.55v0.55h-0.55z M68.0,508.0h0.55v0.55h-0.55z M64.0,516.4h0.55v0.55h-0.55z M83.7,510.0h0.55v0.55h-0.55z M69.5,494.9h0.55v0.55h-0.55z M61.7,517.2h0.55v0.55h-0.55z M74.0,525.9h0.55v0.55h-0.55z M74.1,506.4h0.55v0.55h-0.55z M66.5,511.5h0.55v0.55h-0.55z M76.2,503.4h0.55v0.55h-0.55z M72.3,522.2h0.55v0.55h-0.55z M80.9,537.4h0.55v0.55h-0.55z M73.9,519.6h0.55v0.55h-0.55z M74.8,500.9h0.55v0.55h-0.55z M75.9,518.1h0.55v0.55h-0.55z M77.7,510.2h0.55v0.55h-0.55z M83.6,499.8h0.55v0.55h-0.55z M65.6,509.4h0.55v0.55h-0.55z M71.5,511.1h0.55v0.55h-0.55z M77.1,525.0h0.55v0.55h-0.55z M75.9,498.7h0.55v0.55h-0.55z M76.2,504.5h0.55v0.55h-0.55z M70.9,536.5h0.55v0.55h-0.55z M69.6,510.6h0.55v0.55h-0.55z M71.0,500.3h0.55v0.55h-0.55z M72.7,506.8h0.55v0.55h-0.55z M71.4,482.4h0.55v0.55h-0.55z M63.0,524.3h0.55v0.55h-0.55z M66.6,497.4h0.55v0.55h-0.55z M68.9,516.6h0.55v0.55h-0.55z M70.1,494.9h0.55v0.55h-0.55z M72.9,514.0h0.55v0.55h-0.55z M64.9,523.0h0.55v0.55h-0.55z M80.3,526.9h0.55v0.55h-0.55z" fill="#777" opacity="0.75"/>
<path d="M75.6,491.2 C76.8,491.3 77.9,492.1 78.6,493.2 C79.3,494.3 79.4,495.9 79.6,498.0 C79.8,500.1 79.7,503.2 79.8,506.0 C79.9,508.8 80.0,512.2 80.0,515.0 C80.0,517.8 80.1,520.9 79.7,523.0 C79.3,525.1 78.8,526.7 77.5,527.6 C76.2,528.5 73.9,528.2 72.0,528.2 C70.1,528.2 67.6,528.2 66.0,527.4 C64.4,526.6 63.1,525.4 62.6,523.5 C62.1,521.6 62.6,518.9 63.0,516.0 C63.4,513.1 64.4,509.0 65.2,506.0 C66.0,503.0 66.8,500.2 67.8,498.0 C68.8,495.8 69.9,493.9 71.2,492.8 C72.5,491.7 74.4,491.1 75.6,491.2Z" fill="none" stroke="#000" stroke-width="0.55"/>
<path d="M75.3,494.0 C76.4,494.1 77.4,494.8 78.0,495.8 C78.6,496.9 78.7,498.2 78.9,500.2 C79.1,502.1 79.0,504.8 79.1,507.4 C79.2,509.9 79.3,512.9 79.3,515.5 C79.3,518.0 79.4,520.8 79.0,522.7 C78.6,524.5 78.2,526.0 77.0,526.8 C75.9,527.6 73.8,527.4 72.1,527.3 C70.3,527.3 68.1,527.3 66.7,526.6 C65.3,525.9 64.1,524.8 63.6,523.1 C63.2,521.4 63.6,519.0 64.0,516.4 C64.4,513.7 65.2,510.1 66.0,507.4 C66.7,504.7 67.4,502.1 68.3,500.2 C69.2,498.2 70.2,496.5 71.4,495.5 C72.5,494.5 74.2,494.0 75.3,494.0Z" fill="none" stroke="#000" stroke-width="0.55"/>
<path d="M75.0,496.9 C76.0,496.9 76.9,497.6 77.4,498.5 C78.0,499.4 78.1,500.6 78.2,502.3 C78.4,504.0 78.3,506.5 78.4,508.7 C78.4,511.0 78.6,513.7 78.5,515.9 C78.5,518.2 78.6,520.6 78.3,522.3 C78.0,524.0 77.6,525.3 76.5,526.0 C75.5,526.7 73.7,526.5 72.1,526.5 C70.6,526.5 68.6,526.5 67.3,525.8 C66.1,525.2 65.0,524.2 64.6,522.7 C64.2,521.2 64.6,519.1 64.9,516.7 C65.3,514.4 66.1,511.1 66.7,508.7 C67.3,506.3 68.0,504.1 68.8,502.3 C69.6,500.6 70.5,499.1 71.5,498.2 C72.5,497.3 74.0,496.8 75.0,496.9Z" fill="none" stroke="#000" stroke-width="0.55"/>
<path d="M74.7,499.7 C75.6,499.8 76.4,500.3 76.8,501.1 C77.3,501.9 77.4,503.0 77.5,504.5 C77.7,506.0 77.6,508.1 77.7,510.1 C77.7,512.1 77.8,514.4 77.8,516.4 C77.8,518.4 77.9,520.5 77.6,522.0 C77.3,523.5 77.0,524.6 76.1,525.2 C75.2,525.8 73.6,525.6 72.2,525.6 C70.9,525.6 69.1,525.6 68.0,525.1 C66.9,524.5 66.0,523.7 65.6,522.3 C65.3,521.0 65.6,519.1 65.9,517.1 C66.2,515.0 66.9,512.2 67.5,510.1 C68.0,508.0 68.6,506.0 69.3,504.5 C70.0,502.9 70.7,501.6 71.7,500.8 C72.6,500.0 73.9,499.7 74.7,499.7Z" fill="none" stroke="#000" stroke-width="0.55"/>
<path d="M74.5,502.0 C75.3,502.0 75.9,502.5 76.4,503.2 C76.8,503.9 76.9,504.9 77.0,506.2 C77.1,507.5 77.1,509.4 77.1,511.2 C77.1,512.9 77.2,515.0 77.2,516.7 C77.2,518.5 77.3,520.4 77.0,521.7 C76.8,523.0 76.5,524.0 75.7,524.6 C74.9,525.1 73.5,525.0 72.3,524.9 C71.1,524.9 69.5,524.9 68.5,524.4 C67.6,524.0 66.7,523.2 66.4,522.0 C66.1,520.8 66.4,519.2 66.7,517.4 C67.0,515.6 67.6,513.0 68.0,511.2 C68.5,509.3 69.0,507.6 69.7,506.2 C70.3,504.8 71.0,503.7 71.8,503.0 C72.6,502.3 73.7,502.0 74.5,502.0Z" fill="#000" fill-opacity="0.13" stroke="#000" stroke-width="0.55"/>
<path d="M74.3,504.0 C75.0,504.0 75.6,504.5 75.9,505.1 C76.3,505.7 76.4,506.5 76.5,507.7 C76.6,508.9 76.6,510.6 76.6,512.1 C76.6,513.7 76.7,515.5 76.7,517.1 C76.7,518.6 76.8,520.3 76.5,521.5 C76.3,522.6 76.0,523.5 75.3,524.0 C74.6,524.5 73.4,524.3 72.3,524.3 C71.3,524.3 69.9,524.3 69.0,523.9 C68.2,523.5 67.4,522.8 67.1,521.7 C66.9,520.7 67.1,519.2 67.4,517.6 C67.6,516.0 68.1,513.8 68.6,512.1 C69.0,510.5 69.5,508.9 70.0,507.7 C70.6,506.5 71.2,505.5 71.9,504.9 C72.6,504.2 73.6,503.9 74.3,504.0Z" fill="#000" fill-opacity="0.13" stroke="#000" stroke-width="0.55"/>
<path d="M74.1,506.0 C74.7,506.0 75.2,506.4 75.5,506.9 C75.9,507.5 75.9,508.2 76.0,509.2 C76.1,510.3 76.1,511.7 76.1,513.1 C76.1,514.4 76.2,516.0 76.2,517.4 C76.2,518.8 76.3,520.2 76.1,521.2 C75.9,522.2 75.6,523.0 75.0,523.4 C74.4,523.9 73.3,523.7 72.4,523.7 C71.4,523.7 70.2,523.7 69.5,523.3 C68.7,523.0 68.1,522.4 67.9,521.5 C67.6,520.6 67.8,519.3 68.0,517.9 C68.3,516.5 68.7,514.5 69.1,513.1 C69.5,511.6 69.9,510.3 70.3,509.2 C70.8,508.2 71.4,507.3 72.0,506.7 C72.6,506.2 73.5,505.9 74.1,506.0Z" fill="#000" fill-opacity="0.13" stroke="#000" stroke-width="0.55"/>
<path d="M73.9,508.0 C74.4,508.0 74.8,508.3 75.1,508.8 C75.4,509.2 75.4,509.9 75.5,510.7 C75.6,511.6 75.6,512.9 75.6,514.0 C75.6,515.2 75.7,516.6 75.7,517.7 C75.7,518.9 75.7,520.1 75.6,521.0 C75.4,521.9 75.2,522.5 74.7,522.9 C74.1,523.2 73.2,523.1 72.4,523.1 C71.6,523.1 70.6,523.1 70.0,522.8 C69.3,522.5 68.8,522.0 68.6,521.2 C68.4,520.4 68.5,519.3 68.7,518.1 C68.9,516.9 69.3,515.3 69.6,514.0 C70.0,512.8 70.3,511.6 70.7,510.7 C71.1,509.8 71.6,509.1 72.1,508.6 C72.6,508.1 73.4,507.9 73.9,508.0Z" fill="#000" fill-opacity="0.13" stroke="#000" stroke-width="0.55"/>
<path d="M73.7,509.9 C74.1,510.0 74.5,510.2 74.7,510.6 C74.9,511.0 75.0,511.5 75.0,512.3 C75.1,513.0 75.1,514.0 75.1,515.0 C75.1,515.9 75.2,517.1 75.2,518.0 C75.2,519.0 75.2,520.0 75.1,520.8 C74.9,521.5 74.8,522.0 74.3,522.3 C73.9,522.6 73.1,522.5 72.5,522.5 C71.8,522.5 71.0,522.5 70.4,522.3 C69.9,522.0 69.4,521.6 69.3,520.9 C69.1,520.3 69.3,519.4 69.4,518.4 C69.5,517.4 69.9,516.0 70.2,515.0 C70.4,514.0 70.7,513.0 71.0,512.3 C71.4,511.5 71.7,510.9 72.2,510.5 C72.6,510.1 73.3,509.9 73.7,509.9Z" fill="#000" fill-opacity="0.13" stroke="#000" stroke-width="0.55"/>
<path d="M73.5,511.9 C73.8,511.9 74.1,512.2 74.3,512.5 C74.5,512.8 74.5,513.2 74.6,513.8 C74.6,514.3 74.6,515.2 74.6,515.9 C74.6,516.7 74.7,517.6 74.7,518.4 C74.7,519.1 74.7,520.0 74.6,520.5 C74.5,521.1 74.3,521.5 74.0,521.8 C73.6,522.0 73.0,521.9 72.5,521.9 C72.0,521.9 71.3,521.9 70.9,521.7 C70.5,521.5 70.1,521.2 70.0,520.7 C69.8,520.1 70.0,519.4 70.1,518.6 C70.2,517.8 70.5,516.7 70.7,515.9 C70.9,515.1 71.1,514.4 71.4,513.8 C71.6,513.2 71.9,512.7 72.3,512.4 C72.6,512.1 73.2,511.9 73.5,511.9Z" fill="#000" fill-opacity="0.13" stroke="#000" stroke-width="0.55"/>
<path d="M73.3,513.9 C73.5,513.9 73.7,514.1 73.9,514.3 C74.0,514.5 74.0,514.9 74.1,515.3 C74.1,515.7 74.1,516.3 74.1,516.9 C74.1,517.4 74.2,518.1 74.2,518.7 C74.2,519.2 74.2,519.9 74.1,520.3 C74.0,520.7 73.9,521.0 73.7,521.2 C73.4,521.4 72.9,521.3 72.6,521.3 C72.2,521.3 71.7,521.3 71.4,521.2 C71.0,521.0 70.8,520.8 70.7,520.4 C70.6,520.0 70.7,519.5 70.8,518.9 C70.8,518.3 71.0,517.5 71.2,516.9 C71.4,516.3 71.5,515.7 71.7,515.3 C71.9,514.8 72.1,514.5 72.4,514.2 C72.7,514.0 73.0,513.9 73.3,513.9Z" fill="#000" fill-opacity="0.13" stroke="#000" stroke-width="0.55"/>
<path d="M73.1,515.9 C73.2,515.9 73.4,516.0 73.5,516.2 C73.6,516.3 73.6,516.5 73.6,516.8 C73.6,517.1 73.6,517.5 73.6,517.8 C73.6,518.2 73.7,518.6 73.6,519.0 C73.6,519.4 73.7,519.8 73.6,520.0 C73.6,520.3 73.5,520.5 73.3,520.6 C73.2,520.8 72.9,520.7 72.6,520.7 C72.4,520.7 72.0,520.7 71.8,520.6 C71.6,520.5 71.5,520.4 71.4,520.1 C71.3,519.9 71.4,519.5 71.4,519.1 C71.5,518.8 71.6,518.2 71.7,517.8 C71.8,517.4 71.9,517.1 72.1,516.8 C72.2,516.5 72.3,516.3 72.5,516.1 C72.7,516.0 72.9,515.9 73.1,515.9Z" fill="#000" fill-opacity="0.13" stroke="#000" stroke-width="0.55"/>
<ellipse cx="72.7" cy="519.8" rx="1.2" ry="1.4" fill="#ddd"/>
<line x1="61.50" y1="464.80" x2="61.50" y2="538.60" stroke="#222" stroke-width="1.0"/>
<line x1="33.50" y1="499.60" x2="107.60" y2="499.60" stroke="#222" stroke-width="1.0"/>
<rect x="33.50" y="464.80" width="74.10" height="73.80" fill="none" stroke="#333" stroke-width="0.9"/>
<text x="37.10" y="470.80" font-size="5.4" text-anchor="start" fill="#222">1.97%</text>
<text x="105.20" y="470.80" font-size="5.4" text-anchor="end" fill="#222">5.37%</text>
<text x="37.10" y="535.40" font-size="5.4" text-anchor="start" fill="#222">1.95%</text>
<text x="105.20" y="535.40" font-size="5.4" text-anchor="end" fill="#222">90.7%</text>
<line x1="32.50" y1="467.00" x2="33.50" y2="467.00" stroke="#555" stroke-width="0.5"/>
<line x1="32.50" y1="470.68" x2="33.50" y2="470.68" stroke="#555" stroke-width="0.5"/>
<line x1="32.50" y1="474.37" x2="33.50" y2="474.37" stroke="#555" stroke-width="0.5"/>
<line x1="32.50" y1="478.05" x2="33.50" y2="478.05" stroke="#555" stroke-width="0.5"/>
<line x1="32.50" y1="481.74" x2="33.50" y2="481.74" stroke="#555" stroke-width="0.5"/>
<line x1="32.50" y1="485.42" x2="33.50" y2="485.42" stroke="#555" stroke-width="0.5"/>
<line x1="32.50" y1="489.11" x2="33.50" y2="489.11" stroke="#555" stroke-width="0.5"/>
<line x1="32.50" y1="492.79" x2="33.50" y2="492.79" stroke="#555" stroke-width="0.5"/>
<line x1="32.50" y1="496.47" x2="33.50" y2="496.47" stroke="#555" stroke-width="0.5"/>
<line x1="32.50" y1="500.16" x2="33.50" y2="500.16" stroke="#555" stroke-width="0.5"/>
<line x1="32.50" y1="503.84" x2="33.50" y2="503.84" stroke="#555" stroke-width="0.5"/>
<line x1="32.50" y1="507.53" x2="33.50" y2="507.53" stroke="#555" stroke-width="0.5"/>
<line x1="32.50" y1="511.21" x2="33.50" y2="511.21" stroke="#555" stroke-width="0.5"/>
<line x1="32.50" y1="514.89" x2="33.50" y2="514.89" stroke="#555" stroke-width="0.5"/>
<line x1="32.50" y1="518.58" x2="33.50" y2="518.58" stroke="#555" stroke-width="0.5"/>
<line x1="32.50" y1="522.26" x2="33.50" y2="522.26" stroke="#555" stroke-width="0.5"/>
<line x1="32.50" y1="525.95" x2="33.50" y2="525.95" stroke="#555" stroke-width="0.5"/>
<line x1="32.50" y1="529.63" x2="33.50" y2="529.63" stroke="#555" stroke-width="0.5"/>
<line x1="32.50" y1="533.32" x2="33.50" y2="533.32" stroke="#555" stroke-width="0.5"/>
<line x1="32.50" y1="537.00" x2="33.50" y2="537.00" stroke="#555" stroke-width="0.5"/>
<line x1="35.50" y1="538.60" x2="35.50" y2="539.60" stroke="#555" stroke-width="0.5"/>
<line x1="38.84" y1="538.60" x2="38.84" y2="539.60" stroke="#555" stroke-width="0.5"/>
<line x1="42.18" y1="538.60" x2="42.18" y2="539.60" stroke="#555" stroke-width="0.5"/>
<line x1="45.51" y1="538.60" x2="45.51" y2="539.60" stroke="#555" stroke-width="0.5"/>
<line x1="48.85" y1="538.60" x2="48.85" y2="539.60" stroke="#555" stroke-width="0.5"/>
<line x1="52.19" y1="538.60" x2="52.19" y2="539.60" stroke="#555" stroke-width="0.5"/>
<line x1="55.53" y1="538.60" x2="55.53" y2="539.60" stroke="#555" stroke-width="0.5"/>
<line x1="58.87" y1="538.60" x2="58.87" y2="539.60" stroke="#555" stroke-width="0.5"/>
<line x1="62.20" y1="538.60" x2="62.20" y2="539.60" stroke="#555" stroke-width="0.5"/>
<line x1="65.54" y1="538.60" x2="65.54" y2="539.60" stroke="#555" stroke-width="0.5"/>
<line x1="68.88" y1="538.60" x2="68.88" y2="539.60" stroke="#555" stroke-width="0.5"/>
<line x1="72.22" y1="538.60" x2="72.22" y2="539.60" stroke="#555" stroke-width="0.5"/>
<line x1="75.56" y1="538.60" x2="75.56" y2="539.60" stroke="#555" stroke-width="0.5"/>
<line x1="78.90" y1="538.60" x2="78.90" y2="539.60" stroke="#555" stroke-width="0.5"/>
<line x1="82.23" y1="538.60" x2="82.23" y2="539.60" stroke="#555" stroke-width="0.5"/>
<line x1="85.57" y1="538.60" x2="85.57" y2="539.60" stroke="#555" stroke-width="0.5"/>
<line x1="88.91" y1="538.60" x2="88.91" y2="539.60" stroke="#555" stroke-width="0.5"/>
<line x1="92.25" y1="538.60" x2="92.25" y2="539.60" stroke="#555" stroke-width="0.5"/>
<line x1="95.59" y1="538.60" x2="95.59" y2="539.60" stroke="#555" stroke-width="0.5"/>
<line x1="98.92" y1="538.60" x2="98.92" y2="539.60" stroke="#555" stroke-width="0.5"/>
<line x1="102.26" y1="538.60" x2="102.26" y2="539.60" stroke="#555" stroke-width="0.5"/>
<line x1="105.60" y1="538.60" x2="105.60" y2="539.60" stroke="#555" stroke-width="0.5"/>
<line x1="32.30" y1="520.00" x2="32.30" y2="523.00" stroke="#111" stroke-width="1.6"/>
<line x1="50.50" y1="540.00" x2="53.50" y2="540.00" stroke="#111" stroke-width="1.6"/>
<line x1="31.90" y1="472.30" x2="33.50" y2="472.30" stroke="#333" stroke-width="0.7"/>
<text x="29.30" y="474.70" font-size="7.2" text-anchor="end" fill="#111">10<tspan font-size="4.90" dy="-3.24">5</tspan></text>
<line x1="31.90" y1="489.80" x2="33.50" y2="489.80" stroke="#333" stroke-width="0.7"/>
<text x="29.30" y="492.20" font-size="7.2" text-anchor="end" fill="#111">10<tspan font-size="4.90" dy="-3.24">4</tspan></text>
<line x1="31.90" y1="510.50" x2="33.50" y2="510.50" stroke="#333" stroke-width="0.7"/>
<text x="29.30" y="512.90" font-size="7.2" text-anchor="end" fill="#111">10<tspan font-size="4.90" dy="-3.24">3</tspan></text>
<line x1="31.90" y1="521.50" x2="33.50" y2="521.50" stroke="#333" stroke-width="0.7"/>
<text x="28.90" y="523.90" font-size="7.2" text-anchor="end" fill="#111">0</text>
<line x1="31.90" y1="534.80" x2="33.50" y2="534.80" stroke="#333" stroke-width="0.7"/>
<text x="29.30" y="537.20" font-size="7.2" text-anchor="end" fill="#111">-10<tspan font-size="4.90" dy="-3.24">3</tspan></text>
<line x1="41.30" y1="538.60" x2="41.30" y2="540.20" stroke="#333" stroke-width="0.7"/>
<text x="41.30" y="548.40" font-size="7.2" text-anchor="middle" fill="#111">-10<tspan font-size="4.90" dy="-3.24">3</tspan></text>
<line x1="52.00" y1="538.60" x2="52.00" y2="540.20" stroke="#333" stroke-width="0.7"/>
<text x="52.00" y="548.40" font-size="7.2" text-anchor="middle" fill="#111">0</text>
<line x1="63.80" y1="538.60" x2="63.80" y2="540.20" stroke="#333" stroke-width="0.7"/>
<text x="64.80" y="548.40" font-size="7.2" text-anchor="middle" fill="#111">10<tspan font-size="4.90" dy="-3.24">3</tspan></text>
<line x1="85.00" y1="538.60" x2="85.00" y2="540.20" stroke="#333" stroke-width="0.7"/>
<text x="86.00" y="548.40" font-size="7.2" text-anchor="middle" fill="#111">10<tspan font-size="4.90" dy="-3.24">4</tspan></text>
<line x1="100.00" y1="538.60" x2="100.00" y2="540.20" stroke="#333" stroke-width="0.7"/>
<text x="101.00" y="548.40" font-size="7.2" text-anchor="middle" fill="#111">10<tspan font-size="4.90" dy="-3.24">5</tspan></text>
<text x="70.55" y="461.30" font-size="9.6" text-anchor="middle" fill="#111">Con</text>
<path d="M136.0,508.3h0.55v0.55h-0.55z M132.8,512.9h0.55v0.55h-0.55z M126.6,490.9h0.55v0.55h-0.55z M125.5,508.1h0.55v0.55h-0.55z M134.2,506.2h0.55v0.55h-0.55z M124.6,517.6h0.55v0.55h-0.55z M123.6,500.6h0.55v0.55h-0.55z M127.7,507.3h0.55v0.55h-0.55z M134.4,491.6h0.55v0.55h-0.55z M128.7,507.8h0.55v0.55h-0.55z M125.3,504.2h0.55v0.55h-0.55z M130.8,493.0h0.55v0.55h-0.55z M124.8,504.5h0.55v0.55h-0.55z M129.1,507.0h0.55v0.55h-0.55z M138.8,513.1h0.55v0.55h-0.55z M131.8,498.6h0.55v0.55h-0.55z M133.7,498.0h0.55v0.55h-0.55z M136.3,515.7h0.55v0.55h-0.55z M122.0,494.4h0.55v0.55h-0.55z M129.2,501.4h0.55v0.55h-0.55z M125.0,494.0h0.55v0.55h-0.55z M132.9,500.2h0.55v0.55h-0.55z M123.9,502.5h0.55v0.55h-0.55z M133.9,520.1h0.55v0.55h-0.55z M130.2,502.2h0.55v0.55h-0.55z M126.8,500.3h0.55v0.55h-0.55z M132.1,516.3h0.55v0.55h-0.55z M135.0,502.8h0.55v0.55h-0.55z M133.5,511.9h0.55v0.55h-0.55z M131.8,482.9h0.55v0.55h-0.55z M129.7,502.4h0.55v0.55h-0.55z M135.3,502.5h0.55v0.55h-0.55z M131.8,507.4h0.55v0.55h-0.55z M135.1,511.9h0.55v0.55h-0.55z M134.1,518.5h0.55v0.55h-0.55z M133.8,512.0h0.55v0.55h-0.55z M129.0,505.9h0.55v0.55h-0.55z M138.6,505.3h0.55v0.55h-0.55z M132.0,504.3h0.55v0.55h-0.55z M128.8,478.0h0.55v0.55h-0.55z M136.8,494.4h0.55v0.55h-0.55z M126.7,517.2h0.55v0.55h-0.55z M120.6,505.3h0.55v0.55h-0.55z M127.8,488.4h0.55v0.55h-0.55z M132.5,498.1h0.55v0.55h-0.55z M129.6,501.1h0.55v0.55h-0.55z M132.6,525.3h0.55v0.55h-0.55z M125.0,512.7h0.55v0.55h-0.55z M127.2,501.8h0.55v0.55h-0.55z M122.4,494.7h0.55v0.55h-0.55z M128.3,512.3h0.55v0.55h-0.55z M131.0,510.2h0.55v0.55h-0.55z M132.9,492.5h0.55v0.55h-0.55z M135.8,502.1h0.55v0.55h-0.55z M132.7,503.4h0.55v0.55h-0.55z M131.1,510.8h0.55v0.55h-0.55z M121.0,523.1h0.55v0.55h-0.55z M130.7,514.8h0.55v0.55h-0.55z M130.9,505.8h0.55v0.55h-0.55z M124.7,501.5h0.55v0.55h-0.55z M121.1,503.6h0.55v0.55h-0.55z M136.3,488.0h0.55v0.55h-0.55z M127.2,501.7h0.55v0.55h-0.55z M134.7,516.1h0.55v0.55h-0.55z M130.2,505.8h0.55v0.55h-0.55z M129.4,500.6h0.55v0.55h-0.55z M128.1,500.8h0.55v0.55h-0.55z M129.4,505.7h0.55v0.55h-0.55z M127.5,510.6h0.55v0.55h-0.55z M129.9,509.8h0.55v0.55h-0.55z M124.5,498.7h0.55v0.55h-0.55z M130.4,507.6h0.55v0.55h-0.55z M129.3,518.9h0.55v0.55h-0.55z M129.2,517.9h0.55v0.55h-0.55z M135.6,511.3h0.55v0.55h-0.55z M131.8,510.0h0.55v0.55h-0.55z M129.4,494.9h0.55v0.55h-0.55z M127.9,499.3h0.55v0.55h-0.55z M128.3,498.4h0.55v0.55h-0.55z M125.7,506.2h0.55v0.55h-0.55z M135.7,497.1h0.55v0.55h-0.55z M122.6,499.8h0.55v0.55h-0.55z M125.1,495.8h0.55v0.55h-0.55z M124.8,503.7h0.55v0.55h-0.55z M132.1,525.3h0.55v0.55h-0.55z M125.3,492.2h0.55v0.55h-0.55z M129.3,503.7h0.55v0.55h-0.55z M136.4,516.7h0.55v0.55h-0.55z M127.3,486.5h0.55v0.55h-0.55z M132.3,500.9h0.55v0.55h-0.55z M135.5,503.8h0.55v0.55h-0.55z M129.4,494.2h0.55v0.55h-0.55z M129.8,515.4h0.55v0.55h-0.55z M126.7,506.8h0.55v0.55h-0.55z M127.6,513.2h0.55v0.55h-0.55z M129.8,509.9h0.55v0.55h-0.55z M131.3,497.0h0.55v0.55h-0.55z M125.4,516.8h0.55v0.55h-0.55z M128.6,495.7h0.55v0.55h-0.55z M127.4,519.9h0.55v0.55h-0.55z M130.4,515.0h0.55v0.55h-0.55z M120.9,525.7h0.55v0.55h-0.55z M130.3,517.1h0.55v0.55h-0.55z M128.8,504.5h0.55v0.55h-0.55z M133.5,522.0h0.55v0.55h-0.55z M130.7,498.9h0.55v0.55h-0.55z M134.1,524.1h0.55v0.55h-0.55z M124.6,497.4h0.55v0.55h-0.55z M132.6,501.1h0.55v0.55h-0.55z M121.1,505.0h0.55v0.55h-0.55z" fill="#777" opacity="0.75"/>
<path d="M144.7,493.5h0.55v0.55h-0.55z M154.7,483.5h0.55v0.55h-0.55z M137.2,489.7h0.55v0.55h-0.55z M145.9,486.3h0.55v0.55h-0.55z M142.3,486.2h0.55v0.55h-0.55z M149.8,496.3h0.55v0.55h-0.55z M135.2,493.0h0.55v0.55h-0.55z M132.7,492.1h0.55v0.55h-0.55z M129.2,491.3h0.55v0.55h-0.55z M152.6,494.7h0.55v0.55h-0.55z M125.4,490.8h0.55v0.55h-0.55z M138.9,497.2h0.55v0.55h-0.55z M145.8,497.4h0.55v0.55h-0.55z M137.3,484.3h0.55v0.55h-0.55z M120.1,491.6h0.55v0.55h-0.55z M139.6,491.6h0.55v0.55h-0.55z M140.7,491.3h0.55v0.55h-0.55z M155.2,484.0h0.55v0.55h-0.55z M147.0,496.5h0.55v0.55h-0.55z M146.9,499.4h0.55v0.55h-0.55z M139.3,490.9h0.55v0.55h-0.55z M139.5,488.4h0.55v0.55h-0.55z M158.3,482.9h0.55v0.55h-0.55z M136.9,487.5h0.55v0.55h-0.55z M142.4,488.6h0.55v0.55h-0.55z M147.9,492.7h0.55v0.55h-0.55z M158.5,494.5h0.55v0.55h-0.55z M134.0,482.1h0.55v0.55h-0.55z M138.5,487.0h0.55v0.55h-0.55z M139.8,496.7h0.55v0.55h-0.55z M145.2,483.2h0.55v0.55h-0.55z M135.0,498.1h0.55v0.55h-0.55z M131.3,493.8h0.55v0.55h-0.55z M149.8,484.0h0.55v0.55h-0.55z M130.4,491.7h0.55v0.55h-0.55z M144.8,495.1h0.55v0.55h-0.55z M147.2,485.0h0.55v0.55h-0.55z M158.4,491.0h0.55v0.55h-0.55z M143.3,491.1h0.55v0.55h-0.55z M128.5,485.9h0.55v0.55h-0.55z M149.4,493.5h0.55v0.55h-0.55z M137.5,490.6h0.55v0.55h-0.55z M137.3,487.2h0.55v0.55h-0.55z M138.2,484.5h0.55v0.55h-0.55z M135.6,489.4h0.55v0.55h-0.55z M142.1,489.3h0.55v0.55h-0.55z M140.4,492.1h0.55v0.55h-0.55z M143.1,490.4h0.55v0.55h-0.55z M138.6,489.7h0.55v0.55h-0.55z M149.2,493.5h0.55v0.55h-0.55z M139.4,487.0h0.55v0.55h-0.55z M135.6,484.7h0.55v0.55h-0.55z M156.6,485.8h0.55v0.55h-0.55z M150.5,489.7h0.55v0.55h-0.55z M147.9,487.1h0.55v0.55h-0.55z M140.1,495.2h0.55v0.55h-0.55z M156.3,491.2h0.55v0.55h-0.55z M152.5,493.6h0.55v0.55h-0.55z M150.9,491.9h0.55v0.55h-0.55z M141.6,502.0h0.55v0.55h-0.55z M139.5,494.5h0.55v0.55h-0.55z M140.4,492.4h0.55v0.55h-0.55z M137.3,486.7h0.55v0.55h-0.55z M141.0,494.3h0.55v0.55h-0.55z M132.4,497.1h0.55v0.55h-0.55z M143.0,492.5h0.55v0.55h-0.55z M136.3,495.7h0.55v0.55h-0.55z M141.1,492.4h0.55v0.55h-0.55z M127.7,499.9h0.55v0.55h-0.55z M149.7,486.7h0.55v0.55h-0.55z M136.9,491.3h0.55v0.55h-0.55z M135.2,483.0h0.55v0.55h-0.55z M141.3,497.0h0.55v0.55h-0.55z M148.3,492.6h0.55v0.55h-0.55z M138.1,498.7h0.55v0.55h-0.55z M134.1,486.0h0.55v0.55h-0.55z M131.5,492.4h0.55v0.55h-0.55z M135.1,490.4h0.55v0.55h-0.55z M149.8,482.2h0.55v0.55h-0.55z M135.1,493.3h0.55v0.55h-0.55z M143.6,489.5h0.55v0.55h-0.55z M142.5,487.0h0.55v0.55h-0.55z M145.1,494.3h0.55v0.55h-0.55z M136.4,486.9h0.55v0.55h-0.55z M131.3,489.3h0.55v0.55h-0.55z M152.4,486.8h0.55v0.55h-0.55z M140.4,497.0h0.55v0.55h-0.55z M134.8,488.5h0.55v0.55h-0.55z M141.8,489.3h0.55v0.55h-0.55z M160.2,489.1h0.55v0.55h-0.55z" fill="#888" opacity="0.75"/>
<path d="M150.8,521.5h0.55v0.55h-0.55z M154.5,531.4h0.55v0.55h-0.55z M132.5,520.9h0.55v0.55h-0.55z M141.7,526.7h0.55v0.55h-0.55z M152.6,519.9h0.55v0.55h-0.55z M141.6,521.7h0.55v0.55h-0.55z M135.4,520.6h0.55v0.55h-0.55z M145.5,519.0h0.55v0.55h-0.55z M136.5,523.1h0.55v0.55h-0.55z M141.0,514.9h0.55v0.55h-0.55z M144.5,512.9h0.55v0.55h-0.55z M147.8,517.7h0.55v0.55h-0.55z M136.6,519.8h0.55v0.55h-0.55z M154.0,524.7h0.55v0.55h-0.55z M133.5,512.5h0.55v0.55h-0.55z M145.9,523.7h0.55v0.55h-0.55z M141.0,522.7h0.55v0.55h-0.55z M135.4,523.2h0.55v0.55h-0.55z M133.0,520.5h0.55v0.55h-0.55z M150.0,517.4h0.55v0.55h-0.55z M146.5,503.9h0.55v0.55h-0.55z M147.5,517.0h0.55v0.55h-0.55z M146.9,510.1h0.55v0.55h-0.55z M153.0,519.3h0.55v0.55h-0.55z M152.2,510.3h0.55v0.55h-0.55z M137.0,526.2h0.55v0.55h-0.55z M145.1,512.3h0.55v0.55h-0.55z M138.2,513.5h0.55v0.55h-0.55z M148.4,514.5h0.55v0.55h-0.55z M142.3,524.3h0.55v0.55h-0.55z M137.0,515.0h0.55v0.55h-0.55z M138.0,525.4h0.55v0.55h-0.55z M139.1,524.3h0.55v0.55h-0.55z M146.5,520.6h0.55v0.55h-0.55z M147.2,522.5h0.55v0.55h-0.55z M139.3,523.2h0.55v0.55h-0.55z M159.8,521.4h0.55v0.55h-0.55z M142.2,518.8h0.55v0.55h-0.55z M140.5,517.1h0.55v0.55h-0.55z M130.0,512.2h0.55v0.55h-0.55z M148.4,520.4h0.55v0.55h-0.55z M144.3,514.2h0.55v0.55h-0.55z M143.4,519.5h0.55v0.55h-0.55z M138.6,508.4h0.55v0.55h-0.55z M137.0,520.5h0.55v0.55h-0.55z M146.5,517.5h0.55v0.55h-0.55z M145.4,507.6h0.55v0.55h-0.55z M131.9,521.1h0.55v0.55h-0.55z M136.0,529.5h0.55v0.55h-0.55z M141.8,509.6h0.55v0.55h-0.55z M146.8,510.4h0.55v0.55h-0.55z M145.7,513.8h0.55v0.55h-0.55z M131.8,528.2h0.55v0.55h-0.55z M137.2,520.1h0.55v0.55h-0.55z M144.0,512.8h0.55v0.55h-0.55z M135.2,521.8h0.55v0.55h-0.55z M151.8,524.0h0.55v0.55h-0.55z M140.6,516.8h0.55v0.55h-0.55z M146.2,520.8h0.55v0.55h-0.55z M132.2,522.6h0.55v0.55h-0.55z" fill="#888" opacity="0.75"/>
<path d="M127.2,488.9 C128.5,487.2 131.7,487.5 134.1,487.4 C136.5,487.3 139.0,488.3 141.8,488.2 C144.6,488.1 147.9,486.9 151.0,486.6 C154.1,486.3 158.0,486.2 160.2,486.6 C162.4,487.0 163.4,486.6 164.1,488.9 C164.8,491.2 164.3,496.5 164.2,500.5 C164.1,504.5 163.7,508.7 163.3,512.8 C162.9,516.9 163.1,522.8 161.8,525.1 C160.5,527.4 158.4,526.4 155.6,526.6 C152.8,526.9 147.2,527.1 144.8,526.6 C142.4,526.1 141.8,525.8 141.0,523.5 C140.2,521.2 140.8,515.3 140.2,512.8 C139.6,510.2 138.7,509.4 137.2,508.2 C135.7,507.0 132.6,506.6 131.0,505.8 C129.4,505.0 128.7,504.9 127.9,503.5 C127.1,502.1 126.5,499.8 126.4,497.4 C126.3,495.0 125.9,490.6 127.2,488.9Z" fill="none" stroke="#000" stroke-width="0.55"/>
<path d="M129.1,491.1 C130.3,489.5 133.2,489.8 135.5,489.6 C137.7,489.5 140.0,490.5 142.6,490.3 C145.2,490.2 148.3,489.1 151.2,488.8 C154.0,488.6 157.7,488.5 159.7,488.9 C161.7,489.2 162.7,488.8 163.3,491.0 C164.0,493.1 163.6,498.0 163.5,501.7 C163.4,505.4 163.1,509.3 162.7,513.1 C162.4,517.0 162.5,522.6 161.3,524.7 C160.1,526.9 158.2,526.0 155.5,526.3 C152.8,526.5 147.6,526.7 145.3,526.2 C143.0,525.6 142.5,525.4 141.7,523.2 C141.0,521.0 141.6,515.5 141.0,513.2 C140.4,510.8 139.7,510.0 138.3,508.9 C136.9,507.8 134.0,507.4 132.6,506.7 C131.1,506.0 130.4,505.9 129.7,504.6 C129.0,503.3 128.4,501.2 128.3,498.9 C128.2,496.7 127.9,492.6 129.1,491.1Z" fill="none" stroke="#000" stroke-width="0.55"/>
<path d="M131.0,493.2 C132.1,491.8 134.8,492.0 136.9,491.9 C138.9,491.8 141.0,492.6 143.4,492.5 C145.8,492.4 148.7,491.3 151.3,491.1 C154.0,490.9 157.4,490.8 159.2,491.1 C161.1,491.4 162.0,491.1 162.6,493.1 C163.2,495.0 162.8,499.5 162.8,502.9 C162.7,506.3 162.5,509.9 162.2,513.5 C161.8,517.0 162.0,522.3 160.9,524.4 C159.8,526.5 157.9,525.7 155.4,525.9 C152.9,526.1 147.9,526.2 145.8,525.7 C143.6,525.2 143.1,524.9 142.5,522.9 C141.8,520.9 142.3,515.7 141.8,513.5 C141.3,511.3 140.6,510.6 139.3,509.6 C138.0,508.6 135.4,508.2 134.1,507.6 C132.8,506.9 132.1,506.8 131.5,505.6 C130.9,504.5 130.4,502.5 130.3,500.5 C130.2,498.4 129.9,494.6 131.0,493.2Z" fill="none" stroke="#000" stroke-width="0.55"/>
<path d="M133.1,495.7 C134.1,494.4 136.5,494.5 138.4,494.4 C140.3,494.3 142.2,495.0 144.3,494.9 C146.5,494.8 149.1,493.8 151.5,493.6 C153.9,493.4 157.0,493.3 158.7,493.6 C160.4,493.9 161.2,493.6 161.7,495.4 C162.3,497.2 162.0,501.2 162.0,504.2 C161.9,507.3 161.8,510.5 161.5,513.8 C161.3,517.1 161.4,522.0 160.4,524.0 C159.3,525.9 157.6,525.3 155.3,525.5 C153.0,525.7 148.3,525.7 146.3,525.2 C144.3,524.7 143.9,524.5 143.3,522.6 C142.7,520.7 143.2,516.0 142.7,513.9 C142.3,511.9 141.7,511.2 140.5,510.3 C139.4,509.5 137.0,509.2 135.8,508.6 C134.7,508.0 134.1,507.9 133.5,506.8 C133.0,505.8 132.5,504.0 132.4,502.2 C132.4,500.3 132.1,496.9 133.1,495.7Z" fill="none" stroke="#000" stroke-width="0.55"/>
<path d="M135.3,498.1 C136.2,496.9 138.3,497.1 140.0,496.9 C141.6,496.8 143.3,497.4 145.2,497.3 C147.2,497.2 149.5,496.3 151.7,496.1 C153.8,495.9 156.6,495.9 158.1,496.2 C159.7,496.4 160.4,496.2 160.9,497.8 C161.4,499.3 161.1,502.8 161.1,505.6 C161.1,508.3 161.1,511.2 160.9,514.2 C160.7,517.2 160.8,521.8 159.8,523.6 C158.9,525.4 157.4,525.0 155.2,525.2 C153.0,525.3 148.7,525.2 146.8,524.7 C145.0,524.2 144.7,524.0 144.1,522.2 C143.6,520.5 144.0,516.2 143.6,514.3 C143.2,512.5 142.7,511.9 141.7,511.1 C140.7,510.3 138.6,510.1 137.6,509.6 C136.6,509.1 136.0,509.0 135.6,508.0 C135.1,507.1 134.7,505.5 134.6,503.9 C134.6,502.2 134.4,499.2 135.3,498.1Z" fill="none" stroke="#000" stroke-width="0.55"/>
<path d="M137.4,500.5 C138.2,499.5 140.1,499.6 141.5,499.5 C143.0,499.3 144.4,499.9 146.2,499.7 C147.9,499.6 150.0,498.8 151.9,498.6 C153.8,498.5 156.2,498.5 157.6,498.7 C159.0,498.9 159.6,498.7 160.0,500.1 C160.5,501.5 160.3,504.5 160.3,506.9 C160.4,509.3 160.4,511.9 160.2,514.6 C160.1,517.3 160.2,521.5 159.3,523.2 C158.5,524.9 157.1,524.6 155.1,524.8 C153.1,524.9 149.0,524.7 147.4,524.2 C145.7,523.7 145.4,523.5 145.0,521.9 C144.5,520.3 144.9,516.4 144.5,514.7 C144.2,513.0 143.8,512.6 142.9,511.9 C142.0,511.2 140.2,511.0 139.3,510.6 C138.5,510.1 138.0,510.1 137.6,509.3 C137.2,508.4 136.8,507.1 136.8,505.6 C136.8,504.1 136.6,501.5 137.4,500.5Z" fill="none" stroke="#000" stroke-width="0.55"/>
<path d="M139.5,502.9 C140.2,502.1 141.8,502.1 143.1,502.0 C144.3,501.8 145.6,502.3 147.1,502.1 C148.6,502.0 150.4,501.3 152.0,501.2 C153.7,501.0 155.9,501.0 157.0,501.2 C158.2,501.4 158.8,501.3 159.2,502.5 C159.6,503.6 159.5,506.2 159.5,508.3 C159.6,510.3 159.7,512.5 159.6,514.9 C159.5,517.4 159.6,521.2 158.8,522.8 C158.0,524.4 156.8,524.2 155.0,524.4 C153.1,524.5 149.4,524.2 147.9,523.7 C146.4,523.2 146.2,523.0 145.8,521.6 C145.4,520.2 145.7,516.6 145.4,515.1 C145.2,513.6 144.8,513.2 144.1,512.7 C143.4,512.1 141.8,512.0 141.1,511.6 C140.3,511.2 140.0,511.2 139.6,510.5 C139.3,509.7 139.0,508.6 139.0,507.3 C139.0,506.1 138.9,503.8 139.5,502.9Z" fill="#000" fill-opacity="0.1" stroke="#000" stroke-width="0.55"/>
<path d="M141.4,505.1 C142.0,504.3 143.4,504.4 144.4,504.2 C145.5,504.1 146.6,504.4 147.9,504.3 C149.2,504.1 150.8,503.5 152.2,503.4 C153.7,503.3 155.5,503.3 156.6,503.5 C157.6,503.7 158.0,503.5 158.4,504.5 C158.8,505.5 158.7,507.7 158.8,509.4 C158.9,511.2 159.1,513.1 159.0,515.3 C159.0,517.4 159.0,521.0 158.3,522.5 C157.6,523.9 156.5,523.9 154.9,524.1 C153.2,524.2 149.8,523.7 148.4,523.2 C147.0,522.8 146.9,522.6 146.6,521.3 C146.2,520.0 146.5,516.8 146.3,515.5 C146.0,514.2 145.8,513.8 145.2,513.3 C144.6,512.8 143.3,512.8 142.6,512.5 C142.0,512.2 141.7,512.1 141.4,511.5 C141.1,510.9 140.9,509.9 140.9,508.8 C140.9,507.8 140.9,505.9 141.4,505.1Z" fill="#000" fill-opacity="0.1" stroke="#000" stroke-width="0.55"/>
<path d="M143.3,507.3 C143.8,506.6 144.9,506.6 145.8,506.5 C146.7,506.3 147.6,506.5 148.7,506.4 C149.8,506.3 151.1,505.8 152.4,505.7 C153.6,505.5 155.2,505.6 156.1,505.7 C157.0,505.9 157.3,505.8 157.7,506.6 C158.0,507.4 158.0,509.1 158.1,510.6 C158.2,512.1 158.5,513.7 158.5,515.6 C158.4,517.5 158.5,520.7 157.9,522.1 C157.3,523.5 156.3,523.6 154.8,523.7 C153.3,523.8 150.1,523.3 148.8,522.8 C147.6,522.3 147.6,522.2 147.3,521.0 C147.0,519.8 147.2,517.0 147.1,515.8 C146.9,514.7 146.7,514.4 146.2,514.0 C145.7,513.6 144.7,513.6 144.2,513.4 C143.7,513.1 143.4,513.1 143.2,512.6 C143.0,512.1 142.8,511.3 142.9,510.4 C142.9,509.5 142.8,507.9 143.3,507.3Z" fill="#000" fill-opacity="0.1" stroke="#000" stroke-width="0.55"/>
<path d="M145.2,509.4 C145.6,508.9 146.5,508.8 147.2,508.7 C147.9,508.6 148.6,508.7 149.5,508.6 C150.4,508.4 151.5,508.0 152.5,507.9 C153.5,507.8 154.9,507.8 155.6,508.0 C156.3,508.1 156.6,508.1 156.9,508.7 C157.2,509.3 157.2,510.6 157.4,511.8 C157.5,513.0 157.9,514.3 157.9,515.9 C157.9,517.6 158.0,520.5 157.4,521.7 C156.9,523.0 156.0,523.3 154.7,523.4 C153.3,523.5 150.4,522.8 149.3,522.3 C148.2,521.9 148.3,521.7 148.0,520.7 C147.8,519.7 148.0,517.2 147.9,516.2 C147.7,515.2 147.6,515.0 147.3,514.7 C146.9,514.4 146.1,514.4 145.7,514.3 C145.4,514.1 145.2,514.1 145.0,513.7 C144.8,513.3 144.7,512.6 144.8,511.9 C144.8,511.2 144.8,510.0 145.2,509.4Z" fill="#000" fill-opacity="0.1" stroke="#000" stroke-width="0.55"/>
<path d="M147.1,511.6 C147.4,511.2 148.1,511.1 148.6,510.9 C149.1,510.8 149.6,510.8 150.3,510.7 C151.0,510.6 151.9,510.2 152.7,510.1 C153.5,510.1 154.5,510.1 155.1,510.2 C155.7,510.3 155.9,510.3 156.1,510.8 C156.4,511.3 156.5,512.1 156.7,513.0 C156.9,513.9 157.3,514.9 157.3,516.3 C157.4,517.7 157.4,520.3 157.0,521.4 C156.5,522.5 155.8,523.0 154.6,523.0 C153.4,523.1 150.8,522.3 149.8,521.9 C148.8,521.5 149.0,521.3 148.8,520.4 C148.6,519.5 148.7,517.4 148.7,516.6 C148.6,515.7 148.6,515.6 148.3,515.4 C148.1,515.2 147.5,515.3 147.3,515.1 C147.0,515.0 146.9,515.0 146.8,514.7 C146.7,514.5 146.7,513.9 146.7,513.4 C146.8,512.9 146.8,512.0 147.1,511.6Z" fill="#000" fill-opacity="0.1" stroke="#000" stroke-width="0.55"/>
<path d="M149.0,513.7 C149.3,513.5 149.6,513.3 150.0,513.2 C150.3,513.0 150.6,513.0 151.1,512.8 C151.6,512.7 152.3,512.4 152.9,512.4 C153.4,512.3 154.2,512.4 154.6,512.5 C155.0,512.6 155.2,512.6 155.4,512.9 C155.6,513.2 155.7,513.6 155.9,514.2 C156.2,514.8 156.7,515.4 156.8,516.6 C156.9,517.7 156.9,520.0 156.5,521.0 C156.1,522.1 155.5,522.6 154.5,522.7 C153.4,522.8 151.1,521.9 150.3,521.5 C149.4,521.0 149.6,520.9 149.5,520.1 C149.4,519.4 149.5,517.6 149.5,516.9 C149.5,516.2 149.5,516.2 149.4,516.1 C149.3,515.9 149.0,516.1 148.8,516.0 C148.7,516.0 148.6,516.0 148.6,515.8 C148.6,515.6 148.6,515.3 148.7,514.9 C148.7,514.6 148.8,514.0 149.0,513.7Z" fill="#000" fill-opacity="0.1" stroke="#000" stroke-width="0.55"/>
<path d="M139.0,499.0 C139.0,499.5 138.9,500.0 138.6,500.4 C138.4,500.8 138.0,501.2 137.5,501.5 C137.1,501.9 136.5,502.2 135.9,502.3 C135.3,502.5 134.6,502.6 134.0,502.6 C133.4,502.6 132.7,502.5 132.1,502.3 C131.5,502.2 130.9,501.9 130.5,501.5 C130.0,501.2 129.6,500.8 129.4,500.4 C129.1,500.0 129.0,499.5 129.0,499.0 C129.0,498.5 129.1,498.0 129.4,497.6 C129.6,497.2 130.0,496.8 130.5,496.5 C130.9,496.1 131.5,495.8 132.1,495.7 C132.7,495.5 133.4,495.4 134.0,495.4 C134.6,495.4 135.3,495.5 135.9,495.7 C136.5,495.8 137.1,496.1 137.5,496.5 C138.0,496.8 138.4,497.2 138.6,497.6 C138.9,498.0 139.0,498.5 139.0,499.0Z" fill="#000" fill-opacity="0.05" stroke="#000" stroke-width="0.55"/>
<path d="M137.2,499.0 C137.2,499.3 137.2,499.6 137.0,499.9 C136.8,500.2 136.6,500.4 136.3,500.7 C136.0,500.9 135.6,501.0 135.2,501.2 C134.9,501.3 134.4,501.3 134.0,501.3 C133.6,501.3 133.1,501.3 132.8,501.2 C132.4,501.0 132.0,500.9 131.7,500.7 C131.4,500.4 131.2,500.2 131.0,499.9 C130.8,499.6 130.8,499.3 130.8,499.0 C130.8,498.7 130.8,498.4 131.0,498.1 C131.2,497.8 131.4,497.6 131.7,497.3 C132.0,497.1 132.4,497.0 132.8,496.8 C133.1,496.7 133.6,496.7 134.0,496.7 C134.4,496.7 134.9,496.7 135.2,496.8 C135.6,497.0 136.0,497.1 136.3,497.3 C136.6,497.6 136.8,497.8 137.0,498.1 C137.2,498.4 137.2,498.7 137.2,499.0Z" fill="#000" fill-opacity="0.05" stroke="#000" stroke-width="0.55"/>
<path d="M135.8,499.0 C135.8,499.2 135.7,499.3 135.6,499.5 C135.5,499.6 135.4,499.8 135.2,499.9 C135.1,500.0 134.9,500.1 134.7,500.2 C134.5,500.2 134.2,500.3 134.0,500.3 C133.8,500.3 133.5,500.2 133.3,500.2 C133.1,500.1 132.9,500.0 132.8,499.9 C132.6,499.8 132.5,499.6 132.4,499.5 C132.3,499.3 132.2,499.2 132.2,499.0 C132.2,498.8 132.3,498.7 132.4,498.5 C132.5,498.4 132.6,498.2 132.8,498.1 C132.9,498.0 133.1,497.9 133.3,497.8 C133.5,497.8 133.8,497.7 134.0,497.7 C134.2,497.7 134.5,497.8 134.7,497.8 C134.9,497.9 135.1,498.0 135.2,498.1 C135.4,498.2 135.5,498.4 135.6,498.5 C135.7,498.7 135.8,498.8 135.8,499.0Z" fill="#000" fill-opacity="0.05" stroke="#000" stroke-width="0.55"/>
<path d="M160.3,498.5 C160.3,499.1 160.2,499.7 160.0,500.2 C159.7,500.8 159.4,501.3 159.0,501.7 C158.6,502.1 158.1,502.4 157.5,502.7 C157.0,502.9 156.4,503.0 155.8,503.0 C155.2,503.0 154.6,502.9 154.1,502.7 C153.5,502.4 153.0,502.1 152.6,501.7 C152.2,501.3 151.9,500.8 151.6,500.2 C151.4,499.7 151.3,499.1 151.3,498.5 C151.3,497.9 151.4,497.3 151.6,496.8 C151.9,496.2 152.2,495.7 152.6,495.3 C153.0,494.9 153.5,494.6 154.1,494.3 C154.6,494.1 155.2,494.0 155.8,494.0 C156.4,494.0 157.0,494.1 157.5,494.3 C158.1,494.6 158.6,494.9 159.0,495.3 C159.4,495.7 159.7,496.2 160.0,496.8 C160.2,497.3 160.3,497.9 160.3,498.5Z" fill="#000" fill-opacity="0.03" stroke="#000" stroke-width="0.55"/>
<path d="M158.5,498.5 C158.5,498.8 158.4,499.2 158.3,499.5 C158.2,499.9 158.0,500.2 157.7,500.4 C157.5,500.7 157.2,500.9 156.8,501.0 C156.5,501.1 156.1,501.2 155.8,501.2 C155.5,501.2 155.1,501.1 154.8,501.0 C154.4,500.9 154.1,500.7 153.9,500.4 C153.6,500.2 153.4,499.9 153.3,499.5 C153.2,499.2 153.1,498.8 153.1,498.5 C153.1,498.2 153.2,497.8 153.3,497.5 C153.4,497.1 153.6,496.8 153.9,496.6 C154.1,496.3 154.4,496.1 154.8,496.0 C155.1,495.9 155.5,495.8 155.8,495.8 C156.1,495.8 156.5,495.9 156.8,496.0 C157.2,496.1 157.5,496.3 157.7,496.6 C158.0,496.8 158.2,497.1 158.3,497.5 C158.4,497.8 158.5,498.2 158.5,498.5Z" fill="#000" fill-opacity="0.03" stroke="#000" stroke-width="0.55"/>
<path d="M157.2,498.5 C157.2,498.7 157.1,498.9 157.0,499.0 C157.0,499.2 156.9,499.3 156.8,499.5 C156.6,499.6 156.5,499.7 156.3,499.7 C156.2,499.8 156.0,499.9 155.8,499.9 C155.6,499.9 155.4,499.8 155.3,499.7 C155.1,499.7 155.0,499.6 154.8,499.5 C154.7,499.3 154.6,499.2 154.6,499.0 C154.5,498.9 154.5,498.7 154.5,498.5 C154.5,498.3 154.5,498.1 154.6,498.0 C154.6,497.8 154.7,497.7 154.8,497.5 C155.0,497.4 155.1,497.3 155.3,497.3 C155.4,497.2 155.6,497.1 155.8,497.1 C156.0,497.1 156.2,497.2 156.3,497.3 C156.5,497.3 156.6,497.4 156.8,497.5 C156.9,497.7 157.0,497.8 157.0,498.0 C157.1,498.1 157.2,498.3 157.2,498.5Z" fill="#000" fill-opacity="0.03" stroke="#000" stroke-width="0.55"/>
<ellipse cx="153.3" cy="519.0" rx="1.3" ry="1.3" fill="#eee"/>
<line x1="141.80" y1="464.80" x2="141.80" y2="538.60" stroke="#222" stroke-width="1.0"/>
<line x1="113.50" y1="498.90" x2="187.60" y2="498.90" stroke="#222" stroke-width="1.0"/>
<rect x="113.50" y="464.80" width="74.10" height="73.80" fill="none" stroke="#333" stroke-width="0.9"/>
<text x="117.10" y="470.80" font-size="5.4" text-anchor="start" fill="#222">8.96%</text>
<text x="185.20" y="470.80" font-size="5.4" text-anchor="end" fill="#222">19.2%</text>
<text x="117.10" y="535.40" font-size="5.4" text-anchor="start" fill="#222">8.92%</text>
<text x="185.20" y="535.40" font-size="5.4" text-anchor="end" fill="#222">62.9%</text>
<line x1="112.50" y1="467.00" x2="113.50" y2="467.00" stroke="#555" stroke-width="0.5"/>
<line x1="112.50" y1="470.68" x2="113.50" y2="470.68" stroke="#555" stroke-width="0.5"/>
<line x1="112.50" y1="474.37" x2="113.50" y2="474.37" stroke="#555" stroke-width="0.5"/>
<line x1="112.50" y1="478.05" x2="113.50" y2="478.05" stroke="#555" stroke-width="0.5"/>
<line x1="112.50" y1="481.74" x2="113.50" y2="481.74" stroke="#555" stroke-width="0.5"/>
<line x1="112.50" y1="485.42" x2="113.50" y2="485.42" stroke="#555" stroke-width="0.5"/>
<line x1="112.50" y1="489.11" x2="113.50" y2="489.11" stroke="#555" stroke-width="0.5"/>
<line x1="112.50" y1="492.79" x2="113.50" y2="492.79" stroke="#555" stroke-width="0.5"/>
<line x1="112.50" y1="496.47" x2="113.50" y2="496.47" stroke="#555" stroke-width="0.5"/>
<line x1="112.50" y1="500.16" x2="113.50" y2="500.16" stroke="#555" stroke-width="0.5"/>
<line x1="112.50" y1="503.84" x2="113.50" y2="503.84" stroke="#555" stroke-width="0.5"/>
<line x1="112.50" y1="507.53" x2="113.50" y2="507.53" stroke="#555" stroke-width="0.5"/>
<line x1="112.50" y1="511.21" x2="113.50" y2="511.21" stroke="#555" stroke-width="0.5"/>
<line x1="112.50" y1="514.89" x2="113.50" y2="514.89" stroke="#555" stroke-width="0.5"/>
<line x1="112.50" y1="518.58" x2="113.50" y2="518.58" stroke="#555" stroke-width="0.5"/>
<line x1="112.50" y1="522.26" x2="113.50" y2="522.26" stroke="#555" stroke-width="0.5"/>
<line x1="112.50" y1="525.95" x2="113.50" y2="525.95" stroke="#555" stroke-width="0.5"/>
<line x1="112.50" y1="529.63" x2="113.50" y2="529.63" stroke="#555" stroke-width="0.5"/>
<line x1="112.50" y1="533.32" x2="113.50" y2="533.32" stroke="#555" stroke-width="0.5"/>
<line x1="112.50" y1="537.00" x2="113.50" y2="537.00" stroke="#555" stroke-width="0.5"/>
<line x1="115.50" y1="538.60" x2="115.50" y2="539.60" stroke="#555" stroke-width="0.5"/>
<line x1="118.84" y1="538.60" x2="118.84" y2="539.60" stroke="#555" stroke-width="0.5"/>
<line x1="122.18" y1="538.60" x2="122.18" y2="539.60" stroke="#555" stroke-width="0.5"/>
<line x1="125.51" y1="538.60" x2="125.51" y2="539.60" stroke="#555" stroke-width="0.5"/>
<line x1="128.85" y1="538.60" x2="128.85" y2="539.60" stroke="#555" stroke-width="0.5"/>
<line x1="132.19" y1="538.60" x2="132.19" y2="539.60" stroke="#555" stroke-width="0.5"/>
<line x1="135.53" y1="538.60" x2="135.53" y2="539.60" stroke="#555" stroke-width="0.5"/>
<line x1="138.87" y1="538.60" x2="138.87" y2="539.60" stroke="#555" stroke-width="0.5"/>
<line x1="142.20" y1="538.60" x2="142.20" y2="539.60" stroke="#555" stroke-width="0.5"/>
<line x1="145.54" y1="538.60" x2="145.54" y2="539.60" stroke="#555" stroke-width="0.5"/>
<line x1="148.88" y1="538.60" x2="148.88" y2="539.60" stroke="#555" stroke-width="0.5"/>
<line x1="152.22" y1="538.60" x2="152.22" y2="539.60" stroke="#555" stroke-width="0.5"/>
<line x1="155.56" y1="538.60" x2="155.56" y2="539.60" stroke="#555" stroke-width="0.5"/>
<line x1="158.90" y1="538.60" x2="158.90" y2="539.60" stroke="#555" stroke-width="0.5"/>
<line x1="162.23" y1="538.60" x2="162.23" y2="539.60" stroke="#555" stroke-width="0.5"/>
<line x1="165.57" y1="538.60" x2="165.57" y2="539.60" stroke="#555" stroke-width="0.5"/>
<line x1="168.91" y1="538.60" x2="168.91" y2="539.60" stroke="#555" stroke-width="0.5"/>
<line x1="172.25" y1="538.60" x2="172.25" y2="539.60" stroke="#555" stroke-width="0.5"/>
<line x1="175.59" y1="538.60" x2="175.59" y2="539.60" stroke="#555" stroke-width="0.5"/>
<line x1="178.92" y1="538.60" x2="178.92" y2="539.60" stroke="#555" stroke-width="0.5"/>
<line x1="182.26" y1="538.60" x2="182.26" y2="539.60" stroke="#555" stroke-width="0.5"/>
<line x1="185.60" y1="538.60" x2="185.60" y2="539.60" stroke="#555" stroke-width="0.5"/>
<line x1="112.30" y1="520.00" x2="112.30" y2="523.00" stroke="#111" stroke-width="1.6"/>
<line x1="130.50" y1="540.00" x2="133.50" y2="540.00" stroke="#111" stroke-width="1.6"/>
<line x1="121.30" y1="538.60" x2="121.30" y2="540.20" stroke="#333" stroke-width="0.7"/>
<text x="121.30" y="548.40" font-size="7.2" text-anchor="middle" fill="#111">-10<tspan font-size="4.90" dy="-3.24">3</tspan></text>
<line x1="132.00" y1="538.60" x2="132.00" y2="540.20" stroke="#333" stroke-width="0.7"/>
<text x="132.00" y="548.40" font-size="7.2" text-anchor="middle" fill="#111">0</text>
<line x1="143.80" y1="538.60" x2="143.80" y2="540.20" stroke="#333" stroke-width="0.7"/>
<text x="144.80" y="548.40" font-size="7.2" text-anchor="middle" fill="#111">10<tspan font-size="4.90" dy="-3.24">3</tspan></text>
<line x1="165.00" y1="538.60" x2="165.00" y2="540.20" stroke="#333" stroke-width="0.7"/>
<text x="166.00" y="548.40" font-size="7.2" text-anchor="middle" fill="#111">10<tspan font-size="4.90" dy="-3.24">4</tspan></text>
<line x1="180.00" y1="538.60" x2="180.00" y2="540.20" stroke="#333" stroke-width="0.7"/>
<text x="181.00" y="548.40" font-size="7.2" text-anchor="middle" fill="#111">10<tspan font-size="4.90" dy="-3.24">5</tspan></text>
<text x="150.55" y="461.30" font-size="9.6" text-anchor="middle" fill="#111">DKO</text>
<text x="33" y="447" font-size="10.8" font-style="italic" fill="#111" textLength="98" lengthAdjust="spacingAndGlyphs">CD45.2<tspan font-size="8.4" dy="-4">+</tspan><tspan dy="4">TCRβ</tspan><tspan font-size="8.4" dy="-4">+</tspan><tspan dy="4">CD8</tspan><tspan font-size="8.4" dy="-4">+</tspan></text>
<text x="15.00" y="500.35" font-size="9.5" text-anchor="middle" fill="#111" transform="rotate(-90 15.00 500.35)" textLength="45.5" lengthAdjust="spacingAndGlyphs" stroke="#111" stroke-width="0.18">CD44-APC-Cy7</text>
<line x1="11.30" y1="557.30" x2="11.30" y2="529.50" stroke="#111" stroke-width="1.1"/>
<line x1="11.30" y1="557.30" x2="39.80" y2="557.30" stroke="#111" stroke-width="1.1"/>
<polygon points="11.30,526.50 9.10,531.00 13.50,531.00" fill="#111" stroke="none" stroke-width="0" stroke-linejoin="round"/>
<polygon points="42.80,557.30 38.30,555.10 38.30,559.50" fill="#111" stroke="none" stroke-width="0" stroke-linejoin="round"/>
<text x="46.30" y="560.30" font-size="8.6" text-anchor="start" fill="#111" textLength="29" lengthAdjust="spacingAndGlyphs">CD62L-PB</text>
</g>
</svg></body></html>
